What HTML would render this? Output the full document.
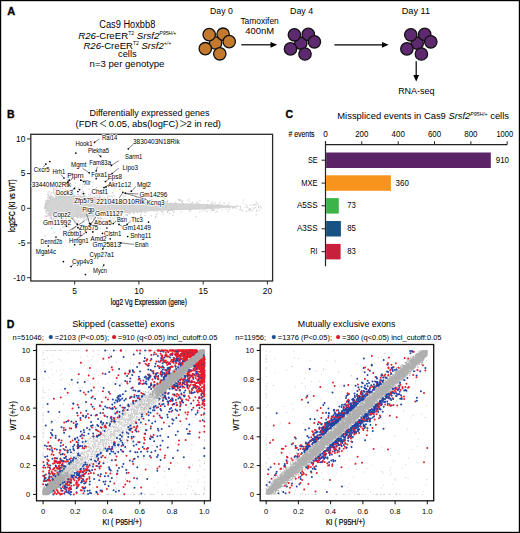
<!DOCTYPE html>
<html><head><meta charset="utf-8"><style>
html,body{margin:0;padding:0;background:#fff;overflow:hidden;width:520px;height:533px;}
svg{display:block;}
text{font-family:"Liberation Sans",sans-serif;}
</style></head><body>
<svg width="520" height="533" viewBox="0 0 520 533">
<rect width="520" height="533" fill="#fff"/>
<rect x="0.5" y="0.5" width="519" height="532" fill="none" stroke="#000" stroke-width="1.4"/>
<text x="7.3" y="14.8" font-size="11" font-weight="bold" stroke="#000" stroke-width="0.3">A</text>
<text x="7.0" y="117.6" font-size="10.5" font-weight="bold" stroke="#000" stroke-width="0.3">B</text>
<text x="285.5" y="117.8" font-size="10.5" font-weight="bold" stroke="#000" stroke-width="0.3">C</text>
<text x="6.8" y="328.0" font-size="10.5" font-weight="bold" stroke="#000" stroke-width="0.3">D</text>
<text x="127.3" y="28.1" font-size="10" text-anchor="middle" textLength="56" lengthAdjust="spacingAndGlyphs">Cas9 Hoxbb8</text>
<text x="127.3" y="38.7" font-size="9.9" text-anchor="middle" textLength="98" lengthAdjust="spacingAndGlyphs"><tspan font-style="italic">R26</tspan>-CreER<tspan font-size="5.2" dy="-3.3">T2</tspan><tspan dy="3.3"> </tspan><tspan font-style="italic">Srsf2</tspan><tspan font-size="5.2" dy="-3.3" font-style="italic">P95H/+</tspan></text>
<text x="127.3" y="48.7" font-size="9.9" text-anchor="middle" textLength="87.7" lengthAdjust="spacingAndGlyphs"><tspan font-style="italic">R26</tspan>-CreER<tspan font-size="5.2" dy="-3.3">T2</tspan><tspan dy="3.3"> </tspan><tspan font-style="italic">Srsf2</tspan><tspan font-size="5.2" dy="-3.3" font-style="italic">+/+</tspan></text>
<text x="127.3" y="57.4" font-size="9.9" text-anchor="middle" textLength="18.6" lengthAdjust="spacingAndGlyphs">cells</text>
<text x="127.0" y="67.1" font-size="9.9" text-anchor="middle" textLength="74.8" lengthAdjust="spacingAndGlyphs">n=3 per genotype</text>
<text x="221.4" y="13.9" font-size="9.9" text-anchor="middle" textLength="22.7" lengthAdjust="spacingAndGlyphs">Day 0</text>
<text x="301.6" y="13.9" font-size="9.9" text-anchor="middle" textLength="23.1" lengthAdjust="spacingAndGlyphs">Day 4</text>
<text x="415.9" y="13.9" font-size="9.9" text-anchor="middle" textLength="28.3" lengthAdjust="spacingAndGlyphs">Day 11</text>
<text x="259.6" y="24.3" font-size="9.9" text-anchor="middle" textLength="38.4" lengthAdjust="spacingAndGlyphs">Tamoxifen</text>
<text x="259.6" y="34.4" font-size="9.9" text-anchor="middle" textLength="28.8" lengthAdjust="spacingAndGlyphs">400nM</text>
<text x="416.3" y="93.9" font-size="9.9" text-anchor="middle" textLength="36.3" lengthAdjust="spacingAndGlyphs">RNA-seq</text>
<circle cx="215.6" cy="43.0" r="6.2" fill="#c47a2e" stroke="#111" stroke-width="1.3"/>
<circle cx="209.2" cy="34.6" r="6.2" fill="#c47a2e" stroke="#111" stroke-width="1.3"/>
<circle cx="223.1" cy="34.2" r="6.2" fill="#c47a2e" stroke="#111" stroke-width="1.3"/>
<circle cx="229.2" cy="41.6" r="6.2" fill="#c47a2e" stroke="#111" stroke-width="1.3"/>
<circle cx="205.3" cy="48.7" r="6.2" fill="#c47a2e" stroke="#111" stroke-width="1.3"/>
<circle cx="219.8" cy="53.8" r="6.2" fill="#c47a2e" stroke="#111" stroke-width="1.3"/>
<circle cx="300.8" cy="43.2" r="6.2" fill="#5e2a6f" stroke="#111" stroke-width="1.3"/>
<circle cx="294.4" cy="34.8" r="6.2" fill="#5e2a6f" stroke="#111" stroke-width="1.3"/>
<circle cx="308.3" cy="34.4" r="6.2" fill="#5e2a6f" stroke="#111" stroke-width="1.3"/>
<circle cx="314.4" cy="41.8" r="6.2" fill="#5e2a6f" stroke="#111" stroke-width="1.3"/>
<circle cx="290.5" cy="48.9" r="6.2" fill="#5e2a6f" stroke="#111" stroke-width="1.3"/>
<circle cx="305.0" cy="54.0" r="6.2" fill="#5e2a6f" stroke="#111" stroke-width="1.3"/>
<circle cx="417.2" cy="43.2" r="6.2" fill="#5e2a6f" stroke="#111" stroke-width="1.3"/>
<circle cx="410.8" cy="34.8" r="6.2" fill="#5e2a6f" stroke="#111" stroke-width="1.3"/>
<circle cx="424.7" cy="34.4" r="6.2" fill="#5e2a6f" stroke="#111" stroke-width="1.3"/>
<circle cx="430.8" cy="41.8" r="6.2" fill="#5e2a6f" stroke="#111" stroke-width="1.3"/>
<circle cx="406.9" cy="48.9" r="6.2" fill="#5e2a6f" stroke="#111" stroke-width="1.3"/>
<circle cx="421.4" cy="54.0" r="6.2" fill="#5e2a6f" stroke="#111" stroke-width="1.3"/>
<line x1="241.3" y1="44.8" x2="271.5" y2="44.8" stroke="#000" stroke-width="1.2"/>
<polygon points="277.2,44.8 270.5,41.9 270.5,47.7" fill="#000"/>
<line x1="334.4" y1="44.8" x2="383" y2="44.8" stroke="#000" stroke-width="1.2"/>
<polygon points="388.6,44.8 382,41.9 382,47.7" fill="#000"/>
<line x1="416.2" y1="61.2" x2="416.2" y2="76" stroke="#000" stroke-width="1.2"/>
<polygon points="416.2,81.5 413.3,75 419.1,75" fill="#000"/>
<text x="149.5" y="116.0" font-size="9.8" text-anchor="middle" textLength="120" lengthAdjust="spacingAndGlyphs">Differentially expressed genes</text>
<text x="148.3" y="126.8" font-size="9.6" text-anchor="middle" textLength="145.4" lengthAdjust="spacingAndGlyphs">(FDR <tspan fill="none">&lt;</tspan> 0.05, abs(logFC) <tspan fill="none">&gt;</tspan>2 in red)</text>
<polyline points="106.1,120.3 100.4,123.5 106.1,126.7" fill="none" stroke="#111" stroke-width="0.75"/>
<polyline points="180.3,120.5 186.4,123.6 180.3,126.7" fill="none" stroke="#111" stroke-width="0.75"/>
<polygon points="45.5,206.6 47.0,202.8 50.5,198.8 60.0,196.1 80.0,195.8 100.0,197.8 120.0,199.6 140.0,201.3 160.0,202.6 180.0,203.2 200.0,203.7 215.0,204.4 225.0,205.3 235.0,206.1 242.0,206.6 242.0,206.6 235.0,207.1 225.0,207.9 215.0,208.8 200.0,209.5 180.0,210.0 160.0,210.6 140.0,211.9 120.0,213.6 100.0,215.4 80.0,217.4 60.0,217.1 50.5,214.4 47.0,210.4 45.5,206.6" fill="#d4d4d4"/>
<path d="M66.0 215.2h0M48.6 213.7h0M98.8 217.5h0M250.2 209.8h0M55.5 195.4h0M110.5 219.9h0M59.9 195.6h0M51.4 228.5h0M46.7 203.4h0M91.3 192.6h0M94.1 219.6h0M92.2 189.4h0M101.8 222.5h0M157.3 211.3h0M49.1 198.8h0M68.9 225.8h0M53.5 192.3h0M69.8 183.4h0M109.0 198.6h0M84.4 195.5h0M47.6 201.6h0M132.4 194.1h0M69.4 220.9h0M79.0 220.7h0M45.8 205.7h0M46.0 200.3h0M54.6 215.0h0M125.8 195.1h0M58.4 217.2h0M149.8 192.7h0M58.6 192.0h0M216.9 211.1h0M77.1 235.0h0M215.1 203.1h0M57.1 192.2h0M145.4 198.4h0M80.4 196.0h0M49.4 196.7h0M103.9 218.9h0M120.8 199.9h0M66.7 222.8h0M133.2 212.7h0M53.5 219.4h0M53.2 197.9h0M140.8 214.8h0M102.2 187.0h0M61.0 220.0h0M74.4 222.0h0M68.5 223.1h0M78.2 187.2h0M74.5 195.4h0M181.9 201.6h0M45.5 205.6h0M115.5 214.1h0M89.1 216.9h0M128.9 213.2h0M89.9 195.4h0M123.0 213.0h0M83.2 191.1h0M86.4 183.4h0M159.5 210.0h0M53.7 188.7h0M233.0 207.4h0M72.4 231.5h0M81.2 226.0h0M75.6 197.2h0M76.4 215.8h0M84.0 233.4h0M129.9 213.9h0M240.6 207.7h0M182.8 200.9h0M48.6 200.7h0M197.7 202.2h0M49.3 197.6h0M151.2 215.9h0M67.3 184.5h0M56.1 195.1h0M75.6 187.0h0M83.4 195.7h0M67.6 179.7h0M73.0 192.5h0M145.7 212.1h0M62.7 195.6h0M53.9 215.9h0M242.4 211.0h0M64.9 233.0h0M68.8 216.6h0M44.8 208.5h0M61.4 215.3h0M113.7 195.4h0M166.9 201.6h0M136.5 199.6h0M52.8 196.8h0M167.3 201.4h0M46.2 204.7h0M89.5 197.3h0M107.3 198.4h0M81.5 224.9h0M83.0 192.1h0M249.0 209.3h0M82.0 198.0h0M124.6 199.3h0M48.9 200.5h0M64.5 223.4h0M63.4 192.3h0M84.5 195.7h0M167.8 210.4h0M195.9 216.5h0M45.5 203.5h0M234.0 207.4h0M204.6 209.0h0M212.4 210.6h0M83.6 220.4h0M169.9 203.6h0M145.0 215.6h0M113.2 218.6h0M71.9 216.2h0M47.2 213.7h0M63.0 218.1h0M56.1 190.5h0M163.1 214.7h0M136.4 197.6h0M199.9 200.7h0M63.0 192.0h0M250.3 209.3h0M174.5 203.6h0M90.9 218.6h0M73.8 195.4h0M73.9 196.7h0M51.9 227.7h0M83.0 192.7h0M57.9 192.7h0M77.0 217.0h0M213.8 210.3h0M45.7 203.8h0M79.8 185.2h0M93.2 215.8h0M140.5 215.9h0M60.2 185.2h0M107.5 214.7h0M124.1 196.9h0M59.1 219.1h0M110.5 217.8h0M51.0 215.4h0M45.1 208.9h0M64.2 181.7h0M162.9 203.3h0M45.7 205.2h0M60.9 197.2h0M67.2 193.0h0M57.1 195.4h0M237.1 205.4h0M58.9 223.5h0M211.4 203.9h0M47.9 197.7h0M162.8 212.6h0M117.1 223.7h0M55.8 220.5h0M46.3 204.7h0M215.7 212.2h0M57.3 223.7h0M75.7 189.3h0M47.3 202.1h0M56.3 193.7h0M46.2 210.9h0M46.8 200.3h0M46.5 213.3h0M60.8 215.3h0M218.4 205.0h0M181.0 200.1h0M45.9 203.1h0M59.2 182.0h0M81.9 217.4h0M189.3 209.5h0M118.3 218.6h0M66.3 192.8h0M65.7 195.1h0M49.0 215.1h0M48.2 202.4h0M46.4 204.0h0M260.4 206.1h0M162.7 210.1h0M50.1 194.9h0M59.2 194.6h0M120.3 212.6h0M51.6 196.8h0M70.2 219.4h0M53.7 215.0h0M66.2 197.7h0M72.2 218.8h0M135.4 196.0h0M50.4 187.0h0M179.7 199.5h0M243.1 203.2h0M70.1 194.8h0M155.1 203.0h0M204.7 210.3h0M97.7 214.0h0M60.7 194.7h0M57.0 198.6h0M45.1 205.4h0M55.8 218.7h0M88.2 223.1h0M48.1 211.0h0M212.9 209.2h0M65.1 197.8h0M154.3 211.3h0M162.4 202.4h0M202.1 210.7h0M187.8 200.1h0M97.8 219.0h0M140.2 211.9h0M58.3 221.0h0M73.0 217.6h0M55.6 192.6h0M58.0 197.2h0M169.7 213.6h0M46.8 200.4h0M46.6 204.3h0M144.7 212.0h0M88.4 215.4h0M92.6 215.7h0M76.2 197.2h0M45.8 205.0h0M55.4 196.8h0M49.8 198.6h0M100.1 218.9h0M127.2 211.9h0M83.9 217.8h0M210.2 210.8h0M116.9 217.6h0M137.3 212.4h0M81.7 233.8h0M191.2 209.9h0M53.0 187.6h0M61.3 197.7h0M55.6 217.8h0M107.1 222.8h0M168.7 210.4h0M51.2 218.8h0M158.0 203.2h0M89.1 189.2h0M50.6 198.8h0M99.2 194.3h0M61.4 217.8h0M91.9 196.4h0M76.6 220.1h0M60.6 187.9h0M93.0 186.1h0M45.7 208.2h0M93.4 218.7h0M100.4 217.0h0M72.8 193.6h0M61.4 221.2h0M196.7 203.4h0M47.0 216.1h0M127.5 214.9h0M83.4 219.7h0M64.1 227.0h0M113.6 221.3h0M58.6 195.9h0M112.9 192.6h0M61.5 196.4h0M229.1 209.5h0M119.9 189.4h0M175.5 202.2h0M104.7 197.2h0M257.0 203.4h0M151.7 199.1h0M49.0 215.2h0M110.2 196.1h0M117.9 215.5h0M138.1 211.8h0M48.3 195.8h0M155.8 216.6h0M50.7 196.9h0M136.4 199.2h0M99.4 194.4h0M45.7 208.2h0M69.7 222.5h0M65.8 218.4h0M97.5 215.6h0M126.1 200.6h0M87.0 219.1h0M254.1 208.6h0M68.0 217.5h0M62.9 230.9h0M50.9 197.8h0M100.2 219.9h0M110.2 213.4h0M171.8 209.8h0M82.8 191.3h0M59.1 220.8h0M78.5 189.6h0M146.4 202.0h0M54.7 194.2h0M51.9 196.0h0M53.7 190.7h0M85.1 215.4h0M247.7 207.6h0M116.3 221.9h0M50.4 218.4h0M71.2 224.8h0M50.7 217.2h0M99.5 197.0h0M78.7 215.5h0M73.0 217.5h0M118.8 213.0h0M149.7 198.7h0M65.1 197.9h0M98.9 214.1h0M127.3 215.4h0M71.6 178.8h0M87.6 215.6h0M199.8 212.0h0M84.8 217.1h0M114.0 195.8h0M85.1 186.1h0M57.5 219.0h0M107.9 195.9h0M51.7 215.2h0M45.2 205.0h0M199.2 204.0h0M89.9 198.6h0M58.6 215.5h0M63.7 196.1h0M88.2 219.6h0M68.6 220.3h0M60.6 216.4h0M80.4 215.4h0M75.3 196.8h0M69.3 195.2h0M53.6 198.8h0M167.9 200.2h0M162.4 201.7h0M81.9 217.3h0M81.7 193.9h0M44.9 207.6h0M90.0 197.6h0M222.4 209.8h0M46.1 203.7h0M191.9 202.9h0M66.6 218.7h0M169.8 213.4h0M74.7 188.4h0M141.2 201.1h0M83.3 221.1h0M44.8 208.0h0M96.1 225.5h0M96.5 187.5h0M97.2 197.0h0M94.4 196.5h0M78.2 221.5h0M126.4 215.0h0M60.9 193.9h0M46.7 211.7h0M91.6 218.2h0M93.8 230.5h0M80.0 195.5h0M73.7 218.5h0M57.6 214.8h0M52.1 219.6h0M113.3 214.2h0M49.3 198.0h0M192.6 202.5h0M60.6 222.3h0M45.1 206.0h0M45.3 204.8h0M49.1 197.0h0M81.1 215.8h0M69.3 197.7h0M74.3 195.1h0M128.9 191.3h0M245.1 207.2h0M253.1 207.7h0M64.8 194.6h0M95.1 219.7h0M62.8 195.4h0M93.1 216.3h0M136.3 211.8h0M62.1 196.8h0M179.3 200.8h0M67.9 217.8h0M59.2 183.6h0M57.2 197.1h0M78.4 188.3h0M59.1 190.6h0M92.2 222.1h0M85.1 194.1h0M90.2 198.0h0M70.3 218.0h0M129.6 212.2h0M45.6 211.7h0M75.0 223.2h0M157.0 195.4h0M48.1 202.0h0M100.8 217.7h0M77.2 197.5h0M54.1 232.9h0M172.7 210.6h0M112.5 193.0h0M47.7 194.9h0M106.6 187.3h0M64.0 192.2h0M50.6 199.4h0M46.5 204.4h0M155.4 217.7h0M165.3 209.7h0M50.1 212.8h0M189.8 209.6h0M77.6 194.4h0M98.9 197.6h0M88.8 218.6h0M61.5 222.8h0M65.6 216.9h0M172.9 215.5h0M47.7 216.0h0M187.0 209.3h0M256.0 205.2h0M45.4 207.1h0M52.8 199.4h0M44.6 207.6h0M55.8 196.9h0M112.9 218.5h0M56.9 195.1h0M114.8 198.9h0M146.0 202.1h0M94.2 217.7h0M84.4 218.1h0M137.8 213.0h0M70.9 221.2h0M121.0 219.9h0M213.9 209.0h0M82.1 194.1h0M45.6 207.8h0M46.2 211.5h0M45.5 205.5h0M94.8 196.8h0M50.5 215.1h0M47.0 201.4h0M51.7 197.0h0M153.1 210.5h0M120.0 214.0h0M54.4 216.1h0M71.6 185.1h0M72.2 196.0h0M59.6 197.6h0M66.9 180.1h0M134.2 213.4h0M178.7 209.8h0M47.5 197.8h0M84.6 229.1h0M48.4 200.3h0M45.7 207.4h0M52.8 220.8h0M163.3 197.9h0M62.1 184.3h0M60.4 195.9h0M51.6 217.6h0M94.1 217.2h0M63.2 216.6h0M59.8 217.4h0M96.3 194.8h0M112.7 197.2h0M84.0 196.7h0M45.2 208.1h0M63.8 236.0h0M76.4 216.1h0M106.4 194.7h0M139.2 199.1h0M122.9 195.2h0M179.9 200.3h0M93.0 182.8h0M95.9 188.7h0M70.8 195.8h0M63.6 196.6h0M82.6 187.4h0M66.0 217.4h0M219.9 202.3h0M57.1 188.1h0M45.1 208.3h0M47.2 201.6h0M126.2 183.3h0M84.6 198.0h0M68.8 197.3h0M94.2 193.4h0M106.6 222.6h0M89.8 189.0h0M228.1 204.7h0M81.2 193.2h0M255.5 207.5h0M50.9 198.2h0M165.0 198.9h0M95.3 189.1h0M100.2 228.6h0M46.9 200.4h0M64.6 216.1h0M109.0 213.4h0M86.2 220.7h0M134.9 199.1h0M48.0 215.9h0M50.3 214.9h0M92.6 216.3h0M60.3 229.1h0M65.3 221.7h0M64.4 195.5h0M95.2 216.9h0M59.8 194.2h0M58.3 216.5h0M131.1 201.4h0M55.9 214.2h0M240.3 206.0h0M51.2 216.5h0M46.5 208.9h0M52.0 222.0h0M76.7 216.2h0M54.0 193.2h0M219.4 204.0h0M57.3 217.3h0M77.7 217.6h0M61.1 218.2h0M170.9 203.1h0M51.7 222.6h0M65.0 195.6h0M69.2 198.0h0M62.7 188.3h0M126.5 214.9h0M46.2 205.0h0M68.3 193.0h0M73.8 198.0h0M60.2 193.4h0M147.6 202.1h0M55.5 216.8h0M51.2 217.7h0M113.1 200.1h0M100.4 213.7h0M90.9 222.9h0M107.9 215.2h0M68.1 226.0h0M63.1 225.8h0M57.5 220.2h0M49.5 200.8h0M109.8 196.3h0M141.6 212.4h0M62.7 227.4h0M74.8 220.0h0M142.0 198.0h0M75.3 183.0h0M123.4 216.9h0M61.1 181.0h0M52.6 213.5h0M84.3 184.5h0M123.1 198.6h0M78.5 194.5h0M51.1 198.3h0M66.1 197.1h0M48.6 225.2h0M90.1 180.5h0M50.8 198.2h0M87.6 228.4h0M98.8 218.3h0M55.7 198.5h0M88.6 215.0h0M90.5 194.4h0M111.8 196.2h0M174.1 211.3h0M49.1 214.7h0M237.0 208.2h0M49.7 213.9h0M115.1 221.0h0M104.8 214.9h0M54.4 189.7h0M63.8 194.3h0M239.8 209.5h0M246.0 204.7h0M224.1 203.4h0M47.9 200.0h0M212.4 202.1h0M70.1 197.3h0M60.6 216.9h0M51.1 196.0h0M73.3 216.5h0M51.2 193.5h0M114.8 218.0h0M71.9 218.2h0M54.8 217.7h0M70.1 220.3h0M165.2 202.1h0M97.9 214.5h0M181.7 202.8h0M157.0 210.5h0M67.5 221.3h0M123.8 201.2h0M51.7 192.8h0M114.9 188.3h0M133.9 217.2h0M106.4 218.8h0M144.7 212.2h0M63.3 218.5h0M207.9 200.9h0M45.3 206.1h0M80.0 197.2h0M158.0 202.7h0M69.1 193.4h0M68.5 220.1h0M45.6 201.7h0M47.1 209.9h0M85.8 219.4h0M125.6 214.7h0M99.6 195.8h0M157.9 213.2h0M100.0 196.3h0M68.2 196.7h0M67.1 193.1h0M80.6 234.2h0M52.5 223.4h0M115.8 212.7h0M88.6 214.7h0M156.0 201.6h0M48.4 194.3h0M56.8 215.9h0M95.3 215.2h0M56.5 196.5h0M117.3 216.3h0M56.0 188.4h0M120.6 212.7h0M102.1 196.0h0M67.2 215.2h0M66.9 192.8h0M78.7 230.1h0M47.7 200.4h0M66.5 195.8h0M87.0 197.2h0M93.3 193.9h0M126.0 200.9h0M252.9 205.3h0M58.7 197.4h0M47.9 199.8h0M82.5 235.5h0M100.1 197.9h0M78.4 222.0h0M154.3 202.7h0M47.9 201.6h0M90.9 217.0h0M156.4 214.6h0M62.8 187.7h0M66.7 185.2h0M107.6 199.3h0M69.1 227.2h0M45.0 207.4h0M49.7 215.9h0M67.3 220.7h0M162.0 203.1h0M258.7 207.8h0M108.8 215.8h0M160.5 210.5h0M53.3 218.3h0M233.0 208.7h0M62.0 195.6h0M83.6 195.8h0M45.1 205.7h0M100.0 198.5h0M100.7 200.4h0M190.0 199.0h0M133.5 203.6h0M83.0 210.4h0M79.3 200.7h0M55.8 213.6h0M45.4 185.4h0M65.6 193.6h0M111.1 203.8h0M60.5 211.6h0M53.6 216.9h0M212.4 202.8h0M48.6 203.1h0M117.7 202.5h0M100.7 200.2h0M45.1 235.9h0M141.0 209.5h0M107.8 201.4h0M63.7 196.0h0M78.3 197.3h0M132.2 202.4h0M111.4 210.6h0M124.2 203.7h0M99.8 214.2h0M62.7 201.0h0M212.6 205.3h0M89.9 205.1h0M90.3 198.6h0M62.5 220.2h0M97.7 217.6h0M97.0 195.4h0M64.1 203.7h0M58.2 211.5h0M116.6 201.6h0M168.0 211.8h0M48.1 192.3h0M78.6 213.6h0M54.2 189.6h0M56.7 206.6h0M75.9 210.3h0M158.8 202.8h0M51.4 205.0h0M80.2 218.2h0M86.8 206.4h0M90.6 210.0h0M56.4 190.1h0M124.8 202.8h0M64.0 215.0h0M77.4 202.5h0M46.3 216.4h0M60.7 203.6h0M58.8 205.1h0M133.7 206.0h0M64.4 214.7h0M170.8 210.5h0M182.1 208.9h0M60.8 191.4h0M112.3 210.9h0M77.5 214.7h0M77.0 208.9h0M132.3 205.4h0M118.1 211.5h0M161.6 204.6h0M105.5 211.1h0M226.1 209.0h0M132.1 217.4h0M77.6 203.1h0M50.1 198.0h0M143.8 203.1h0M93.0 212.0h0M207.1 206.6h0M107.9 205.3h0M88.5 193.9h0M82.5 209.9h0M89.9 212.2h0M92.3 202.1h0M95.2 210.9h0M139.4 201.2h0M81.0 217.5h0M101.5 208.8h0M147.6 206.8h0M62.5 201.9h0M50.6 208.7h0M51.5 202.0h0M143.0 205.4h0M125.0 206.0h0M131.9 205.1h0M127.2 206.8h0M82.9 184.2h0M163.8 200.6h0M188.9 208.2h0M96.1 211.1h0M45.4 216.1h0M66.3 206.1h0M71.3 206.1h0M101.8 218.2h0M95.1 204.8h0M70.4 207.9h0M186.1 208.5h0M65.8 189.7h0M60.8 218.0h0M77.8 209.7h0M88.7 197.6h0M76.9 207.3h0M158.2 209.0h0M101.9 219.1h0M48.7 201.1h0M81.8 215.0h0M103.3 204.5h0M156.3 209.2h0M69.1 202.8h0M107.8 197.0h0M87.4 213.5h0M192.3 205.4h0M49.2 191.8h0M48.5 213.2h0M249.2 210.9h0M170.7 208.9h0M256.1 201.7h0M207.3 204.8h0M227.5 205.8h0M174.3 204.6h0M246.4 211.4h0M173.8 212.7h0M161.6 211.6h0M259.4 210.2h0M197.7 205.7h0M254.2 204.9h0M228.9 207.6h0M230.0 207.9h0M154.8 208.4h0M176.8 204.7h0M216.9 205.3h0M167.7 210.7h0M254.9 204.2h0M167.5 212.5h0M241.9 210.2h0M153.8 206.6h0M193.7 205.6h0M212.8 205.2h0M160.8 202.0h0M199.4 208.1h0M228.1 211.5h0M164.0 211.0h0M256.2 214.6h0M210.5 206.8h0M183.4 203.9h0M207.1 211.4h0M256.9 210.1h0M249.4 209.0h0M218.7 205.7h0M166.1 206.7h0M181.2 211.8h0M176.1 203.2h0M256.3 211.2h0M261.2 207.9h0M189.6 211.4h0M155.8 205.4h0M188.3 204.7h0M235.4 207.8h0M170.6 207.6h0M158.0 204.4h0M214.3 210.3h0M240.6 209.3h0M218.5 206.2h0M209.0 207.2h0M161.2 206.0h0M216.5 205.6h0M190.6 203.7h0M168.8 210.3h0M169.5 209.7h0M246.9 206.0h0M250.4 205.2h0M160.8 207.2h0M251.1 209.8h0M211.6 209.5h0M163.5 205.1h0M211.6 207.4h0M208.3 205.6h0M196.4 208.6h0M173.4 208.7h0M250.2 208.7h0M207.7 207.4h0M258.5 206.6h0M206.2 208.1h0M229.2 203.0h0M176.4 207.0h0M180.4 205.2h0M153.6 204.0h0M183.6 209.4h0M252.4 210.6h0M176.9 209.1h0M218.5 208.1h0M157.1 202.1h0M178.3 199.6h0M154.7 201.7h0M221.1 204.9h0M189.3 201.5h0M243.2 200.0h0M151.2 208.7h0M258.1 204.2h0M160.1 208.7h0M178.2 206.5h0M167.4 202.2h0M189.6 208.4h0M175.3 208.6h0" stroke="#cbcbcb" stroke-width="1.1" stroke-linecap="square"/>
<rect x="30.8" y="134.3" width="241.8" height="146.7" fill="none" stroke="#2a2a2a" stroke-width="1.3"/>
<line x1="27" y1="138.9" x2="30.8" y2="138.9" stroke="#2a2a2a" stroke-width="1"/>
<text x="25.4" y="141.7" font-size="8.4" text-anchor="end">10</text>
<line x1="27" y1="173.6" x2="30.8" y2="173.6" stroke="#2a2a2a" stroke-width="1"/>
<text x="25.4" y="176.4" font-size="8.4" text-anchor="end">5</text>
<line x1="27" y1="208.3" x2="30.8" y2="208.3" stroke="#2a2a2a" stroke-width="1"/>
<text x="25.4" y="211.1" font-size="8.4" text-anchor="end">0</text>
<line x1="27" y1="243.0" x2="30.8" y2="243.0" stroke="#2a2a2a" stroke-width="1"/>
<text x="25.4" y="245.8" font-size="8.4" text-anchor="end">-5</text>
<line x1="27" y1="277.7" x2="30.8" y2="277.7" stroke="#2a2a2a" stroke-width="1"/>
<text x="25.4" y="280.5" font-size="8.4" text-anchor="end">-10</text>
<line x1="74.7" y1="281.0" x2="74.7" y2="284.5" stroke="#2a2a2a" stroke-width="1"/>
<text x="74.7" y="293.9" font-size="8.4" text-anchor="middle">5</text>
<line x1="138.9" y1="281.0" x2="138.9" y2="284.5" stroke="#2a2a2a" stroke-width="1"/>
<text x="138.9" y="293.9" font-size="8.4" text-anchor="middle">10</text>
<line x1="203.2" y1="281.0" x2="203.2" y2="284.5" stroke="#2a2a2a" stroke-width="1"/>
<text x="203.2" y="293.9" font-size="8.4" text-anchor="middle">15</text>
<line x1="267.4" y1="281.0" x2="267.4" y2="284.5" stroke="#2a2a2a" stroke-width="1"/>
<text x="267.4" y="293.9" font-size="8.4" text-anchor="middle">20</text>
<text x="148.8" y="305.0" font-size="8.8" text-anchor="middle" textLength="76" lengthAdjust="spacingAndGlyphs" stroke="#000" stroke-width="0.2">log2 Vg Expression (gene)</text>
<text x="0" y="0" font-size="9.2" text-anchor="middle" textLength="52.8" lengthAdjust="spacingAndGlyphs" stroke="#000" stroke-width="0.2" transform="translate(15.4,205.7) rotate(-90)">log2FC (KI vs WT)</text>
<text x="101.9" y="140.1" font-size="6.6" textLength="15.4" lengthAdjust="spacingAndGlyphs" stroke="#fff" stroke-width="1.6" paint-order="stroke" stroke-linejoin="round">Rai14</text>
<text x="75.4" y="146.2" font-size="6.6" textLength="17.3" lengthAdjust="spacingAndGlyphs" stroke="#fff" stroke-width="1.6" paint-order="stroke" stroke-linejoin="round">Hook1</text>
<text x="87.9" y="152.6" font-size="6.6" textLength="21.1" lengthAdjust="spacingAndGlyphs" stroke="#fff" stroke-width="1.6" paint-order="stroke" stroke-linejoin="round">Plekha5</text>
<text x="133.0" y="144.3" font-size="6.6" textLength="46.7" lengthAdjust="spacingAndGlyphs" stroke="#fff" stroke-width="1.6" paint-order="stroke" stroke-linejoin="round">3830403N18Rik</text>
<text x="125.0" y="158.7" font-size="6.6" textLength="17.3" lengthAdjust="spacingAndGlyphs" stroke="#fff" stroke-width="1.6" paint-order="stroke" stroke-linejoin="round">Sarm1</text>
<text x="89.2" y="165.1" font-size="6.6" textLength="21.8" lengthAdjust="spacingAndGlyphs" stroke="#fff" stroke-width="1.6" paint-order="stroke" stroke-linejoin="round">Fam83a</text>
<text x="71.0" y="167.2" font-size="6.6" textLength="15.5" lengthAdjust="spacingAndGlyphs" stroke="#fff" stroke-width="1.6" paint-order="stroke" stroke-linejoin="round">Mgmt</text>
<text x="122.5" y="170.4" font-size="6.6" textLength="15.4" lengthAdjust="spacingAndGlyphs" stroke="#fff" stroke-width="1.6" paint-order="stroke" stroke-linejoin="round">Lipo3</text>
<text x="91.2" y="177.0" font-size="6.6" textLength="15.9" lengthAdjust="spacingAndGlyphs" stroke="#fff" stroke-width="1.6" paint-order="stroke" stroke-linejoin="round">Foxa1</text>
<text x="107.7" y="178.6" font-size="6.6" textLength="14.2" lengthAdjust="spacingAndGlyphs" stroke="#fff" stroke-width="1.6" paint-order="stroke" stroke-linejoin="round">Eps8</text>
<text x="67.2" y="177.8" font-size="6.6" textLength="16.5" lengthAdjust="spacingAndGlyphs" stroke="#fff" stroke-width="1.6" paint-order="stroke" stroke-linejoin="round">Ptprn</text>
<text x="84.0" y="185.3" font-size="6.6" textLength="6.4" lengthAdjust="spacingAndGlyphs" stroke="#fff" stroke-width="1.6" paint-order="stroke" stroke-linejoin="round">Xlr</text>
<text x="108.0" y="187.0" font-size="6.6" textLength="23.2" lengthAdjust="spacingAndGlyphs" stroke="#fff" stroke-width="1.6" paint-order="stroke" stroke-linejoin="round">Akr1c12</text>
<text x="136.9" y="186.5" font-size="6.6" textLength="14.1" lengthAdjust="spacingAndGlyphs" stroke="#fff" stroke-width="1.6" paint-order="stroke" stroke-linejoin="round">Mgl2</text>
<text x="33.7" y="171.8" font-size="6.6" textLength="15.9" lengthAdjust="spacingAndGlyphs" stroke="#fff" stroke-width="1.6" paint-order="stroke" stroke-linejoin="round">Cxcr5</text>
<text x="52.5" y="174.1" font-size="6.6" textLength="12.7" lengthAdjust="spacingAndGlyphs" stroke="#fff" stroke-width="1.6" paint-order="stroke" stroke-linejoin="round">Hrh1</text>
<text x="31.7" y="186.8" font-size="6.6" textLength="39.3" lengthAdjust="spacingAndGlyphs" stroke="#fff" stroke-width="1.6" paint-order="stroke" stroke-linejoin="round">33440M02Rik</text>
<text x="56.0" y="195.0" font-size="6.6" textLength="16.7" lengthAdjust="spacingAndGlyphs" stroke="#fff" stroke-width="1.6" paint-order="stroke" stroke-linejoin="round">Dock3</text>
<text x="91.5" y="193.9" font-size="6.6" textLength="16.4" lengthAdjust="spacingAndGlyphs" stroke="#fff" stroke-width="1.6" paint-order="stroke" stroke-linejoin="round">Chst1</text>
<text x="139.4" y="196.8" font-size="6.6" textLength="27.9" lengthAdjust="spacingAndGlyphs" stroke="#fff" stroke-width="1.6" paint-order="stroke" stroke-linejoin="round">Gm14296</text>
<text x="74.2" y="202.8" font-size="6.6" textLength="19.3" lengthAdjust="spacingAndGlyphs" stroke="#fff" stroke-width="1.6" paint-order="stroke" stroke-linejoin="round">Zfp579</text>
<text x="96.3" y="203.6" font-size="6.6" textLength="48.3" lengthAdjust="spacingAndGlyphs" stroke="#fff" stroke-width="1.6" paint-order="stroke" stroke-linejoin="round">2210418O10Rik</text>
<text x="146.7" y="204.7" font-size="6.6" textLength="17.7" lengthAdjust="spacingAndGlyphs" stroke="#fff" stroke-width="1.6" paint-order="stroke" stroke-linejoin="round">Kcnq3</text>
<text x="82.3" y="212.4" font-size="6.6" textLength="12.1" lengthAdjust="spacingAndGlyphs" stroke="#fff" stroke-width="1.6" paint-order="stroke" stroke-linejoin="round">Pigp</text>
<text x="95.0" y="215.9" font-size="6.6" textLength="28.3" lengthAdjust="spacingAndGlyphs" stroke="#fff" stroke-width="1.6" paint-order="stroke" stroke-linejoin="round">Gm11127</text>
<text x="53.0" y="216.6" font-size="6.6" textLength="17.8" lengthAdjust="spacingAndGlyphs" stroke="#fff" stroke-width="1.6" paint-order="stroke" stroke-linejoin="round">Copz2</text>
<text x="117.0" y="221.5" font-size="6.6" textLength="10" lengthAdjust="spacingAndGlyphs" stroke="#fff" stroke-width="1.6" paint-order="stroke" stroke-linejoin="round">Bsn</text>
<text x="131.2" y="221.5" font-size="6.6" textLength="11.5" lengthAdjust="spacingAndGlyphs" stroke="#fff" stroke-width="1.6" paint-order="stroke" stroke-linejoin="round">Ttc3</text>
<text x="43.0" y="224.7" font-size="6.6" textLength="28" lengthAdjust="spacingAndGlyphs" stroke="#fff" stroke-width="1.6" paint-order="stroke" stroke-linejoin="round">Gm11992</text>
<text x="94.0" y="225.0" font-size="6.6" textLength="17.7" lengthAdjust="spacingAndGlyphs" stroke="#fff" stroke-width="1.6" paint-order="stroke" stroke-linejoin="round">Abca5</text>
<text x="79.0" y="230.3" font-size="6.6" textLength="19.3" lengthAdjust="spacingAndGlyphs" stroke="#fff" stroke-width="1.6" paint-order="stroke" stroke-linejoin="round">Zfp575</text>
<text x="122.3" y="230.0" font-size="6.6" textLength="28.7" lengthAdjust="spacingAndGlyphs" stroke="#fff" stroke-width="1.6" paint-order="stroke" stroke-linejoin="round">Gm14149</text>
<text x="62.7" y="236.2" font-size="6.6" textLength="19.6" lengthAdjust="spacingAndGlyphs" stroke="#fff" stroke-width="1.6" paint-order="stroke" stroke-linejoin="round">Rcbtb1</text>
<text x="104.0" y="235.5" font-size="6.6" textLength="17.3" lengthAdjust="spacingAndGlyphs" stroke="#fff" stroke-width="1.6" paint-order="stroke" stroke-linejoin="round">Clstn1</text>
<text x="130.2" y="238.4" font-size="6.6" textLength="21.1" lengthAdjust="spacingAndGlyphs" stroke="#fff" stroke-width="1.6" paint-order="stroke" stroke-linejoin="round">Snhg11</text>
<text x="90.6" y="240.7" font-size="6.6" textLength="15.9" lengthAdjust="spacingAndGlyphs" stroke="#fff" stroke-width="1.6" paint-order="stroke" stroke-linejoin="round">Amd2</text>
<text x="69.0" y="243.0" font-size="6.6" textLength="19.7" lengthAdjust="spacingAndGlyphs" stroke="#fff" stroke-width="1.6" paint-order="stroke" stroke-linejoin="round">Hmgn1</text>
<text x="40.6" y="243.9" font-size="6.6" textLength="21.7" lengthAdjust="spacingAndGlyphs" stroke="#fff" stroke-width="1.6" paint-order="stroke" stroke-linejoin="round">Dennd2b</text>
<text x="92.5" y="247.4" font-size="6.6" textLength="28.3" lengthAdjust="spacingAndGlyphs" stroke="#fff" stroke-width="1.6" paint-order="stroke" stroke-linejoin="round">Gm25813</text>
<text x="135.0" y="247.0" font-size="6.6" textLength="13.5" lengthAdjust="spacingAndGlyphs" stroke="#fff" stroke-width="1.6" paint-order="stroke" stroke-linejoin="round">Enah</text>
<text x="35.8" y="254.1" font-size="6.6" textLength="20.2" lengthAdjust="spacingAndGlyphs" stroke="#fff" stroke-width="1.6" paint-order="stroke" stroke-linejoin="round">Mgat4c</text>
<text x="89.6" y="256.6" font-size="6.6" textLength="24.6" lengthAdjust="spacingAndGlyphs" stroke="#fff" stroke-width="1.6" paint-order="stroke" stroke-linejoin="round">Cyp27a1</text>
<text x="71.9" y="263.7" font-size="6.6" textLength="21.1" lengthAdjust="spacingAndGlyphs" stroke="#fff" stroke-width="1.6" paint-order="stroke" stroke-linejoin="round">Cyp4v3</text>
<text x="93.0" y="272.8" font-size="6.6" textLength="14" lengthAdjust="spacingAndGlyphs" stroke="#fff" stroke-width="1.6" paint-order="stroke" stroke-linejoin="round">Mycn</text>
<line x1="94" y1="142.5" x2="99.5" y2="139" stroke="#333" stroke-width="0.6"/>
<line x1="98.2" y1="154.6" x2="100.6" y2="156.4" stroke="#333" stroke-width="0.6"/>
<line x1="128.3" y1="148.8" x2="133.5" y2="144" stroke="#333" stroke-width="0.6"/>
<line x1="111.4" y1="165.4" x2="118.8" y2="160.7" stroke="#333" stroke-width="0.6"/>
<line x1="82.5" y1="168.3" x2="89.2" y2="172.8" stroke="#333" stroke-width="0.6"/>
<line x1="97.3" y1="166.7" x2="96.2" y2="170.8" stroke="#333" stroke-width="0.6"/>
<line x1="118.8" y1="168.3" x2="112.1" y2="173.5" stroke="#333" stroke-width="0.6"/>
<line x1="109.4" y1="178.8" x2="105.4" y2="181.5" stroke="#333" stroke-width="0.6"/>
<line x1="73.1" y1="178.2" x2="67.7" y2="182.2" stroke="#333" stroke-width="0.6"/>
<line x1="80.1" y1="179.9" x2="83.8" y2="181.5" stroke="#333" stroke-width="0.6"/>
<line x1="108.7" y1="184.9" x2="104" y2="187.6" stroke="#333" stroke-width="0.6"/>
<line x1="136" y1="186.5" x2="131.3" y2="191.2" stroke="#333" stroke-width="0.6"/>
<line x1="125.2" y1="193.2" x2="138.3" y2="194" stroke="#333" stroke-width="0.6"/>
<line x1="125.2" y1="193.2" x2="146.9" y2="199.8" stroke="#333" stroke-width="0.6"/>
<line x1="122.9" y1="192.3" x2="119.2" y2="198" stroke="#333" stroke-width="0.6"/>
<line x1="71.2" y1="217.5" x2="77.2" y2="224.2" stroke="#333" stroke-width="0.6"/>
<line x1="86.6" y1="214.1" x2="89.7" y2="223.6" stroke="#333" stroke-width="0.6"/>
<line x1="96" y1="216.8" x2="90.7" y2="224.2" stroke="#333" stroke-width="0.6"/>
<line x1="68.5" y1="231" x2="84.6" y2="220.9" stroke="#333" stroke-width="0.6"/>
<line x1="76.2" y1="239.6" x2="85.4" y2="232.7" stroke="#333" stroke-width="0.6"/>
<line x1="72.3" y1="229.6" x2="76.2" y2="226.5" stroke="#333" stroke-width="0.6"/>
<line x1="120.8" y1="242.9" x2="134" y2="244.4" stroke="#333" stroke-width="0.6"/>
<line x1="71.1" y1="266.5" x2="73.5" y2="264.2" stroke="#333" stroke-width="0.6"/>
<line x1="61" y1="174.6" x2="64" y2="178" stroke="#333" stroke-width="0.6"/>
<line x1="45.9" y1="164.1" x2="43" y2="167.2" stroke="#333" stroke-width="0.6"/>
<line x1="116.2" y1="221" x2="113.3" y2="223.6" stroke="#333" stroke-width="0.6"/>
<line x1="130.6" y1="221" x2="127.1" y2="224.4" stroke="#333" stroke-width="0.6"/>
<line x1="121.9" y1="226.2" x2="119" y2="224.4" stroke="#333" stroke-width="0.6"/>
<line x1="102.8" y1="248.8" x2="103.8" y2="246.5" stroke="#333" stroke-width="0.6"/>
<line x1="103.8" y1="265" x2="102.5" y2="267.5" stroke="#333" stroke-width="0.6"/>
<line x1="77.9" y1="227.6" x2="81.5" y2="229.5" stroke="#333" stroke-width="0.6"/>
<line x1="66" y1="184" x2="69.2" y2="180.2" stroke="#333" stroke-width="0.6"/>
<line x1="74.4" y1="188.4" x2="72" y2="190.5" stroke="#333" stroke-width="0.6"/>
<circle cx="75.8" cy="153.1" r="0.85" fill="#000"/>
<circle cx="49.8" cy="161.5" r="0.85" fill="#000"/>
<circle cx="45.9" cy="164.1" r="0.85" fill="#000"/>
<circle cx="64" cy="178" r="0.85" fill="#000"/>
<circle cx="69.2" cy="180.2" r="0.85" fill="#000"/>
<circle cx="74.4" cy="188.4" r="0.85" fill="#000"/>
<circle cx="79.6" cy="189.6" r="0.85" fill="#000"/>
<circle cx="77.9" cy="191.5" r="0.85" fill="#000"/>
<circle cx="80.8" cy="180.2" r="0.85" fill="#000"/>
<circle cx="83.6" cy="193.6" r="0.85" fill="#000"/>
<circle cx="128.3" cy="148.8" r="0.85" fill="#000"/>
<circle cx="100.6" cy="156.4" r="0.85" fill="#000"/>
<circle cx="111.4" cy="165.4" r="0.85" fill="#000"/>
<circle cx="94.5" cy="142.3" r="0.85" fill="#000"/>
<circle cx="89.2" cy="172.8" r="0.85" fill="#000"/>
<circle cx="96.2" cy="170.8" r="0.85" fill="#000"/>
<circle cx="112.1" cy="173.5" r="0.85" fill="#000"/>
<circle cx="96.2" cy="178.6" r="0.85" fill="#000"/>
<circle cx="105.4" cy="181.5" r="0.85" fill="#000"/>
<circle cx="104" cy="187.6" r="0.85" fill="#000"/>
<circle cx="106" cy="186.9" r="0.85" fill="#000"/>
<circle cx="131.3" cy="191.2" r="0.85" fill="#000"/>
<circle cx="122.9" cy="192.3" r="0.85" fill="#000"/>
<circle cx="125.2" cy="193.2" r="0.85" fill="#000"/>
<circle cx="77.2" cy="224.2" r="0.85" fill="#000"/>
<circle cx="89.7" cy="223.6" r="0.85" fill="#000"/>
<circle cx="90.7" cy="224.2" r="0.85" fill="#000"/>
<circle cx="66.4" cy="226.2" r="0.85" fill="#000"/>
<circle cx="113.3" cy="223.6" r="0.85" fill="#000"/>
<circle cx="127.1" cy="224.4" r="0.85" fill="#000"/>
<circle cx="119" cy="224.4" r="0.85" fill="#000"/>
<circle cx="148.5" cy="222.1" r="0.85" fill="#000"/>
<circle cx="127.7" cy="236.5" r="0.85" fill="#000"/>
<circle cx="120.8" cy="242.9" r="0.85" fill="#000"/>
<circle cx="102.5" cy="233.3" r="0.85" fill="#000"/>
<circle cx="106.9" cy="228" r="0.85" fill="#000"/>
<circle cx="110.2" cy="238.8" r="0.85" fill="#000"/>
<circle cx="92.8" cy="231.9" r="0.85" fill="#000"/>
<circle cx="86.2" cy="232.3" r="0.85" fill="#000"/>
<circle cx="77.9" cy="227.6" r="0.85" fill="#000"/>
<circle cx="74.6" cy="244.7" r="0.85" fill="#000"/>
<circle cx="63.4" cy="261.6" r="0.85" fill="#000"/>
<circle cx="85.4" cy="274.5" r="0.85" fill="#000"/>
<circle cx="103.8" cy="265" r="0.85" fill="#000"/>
<circle cx="71.1" cy="266.5" r="0.85" fill="#000"/>
<circle cx="48.3" cy="246" r="0.85" fill="#000"/>
<circle cx="56" cy="237" r="0.85" fill="#000"/>
<circle cx="102.8" cy="248.8" r="0.85" fill="#000"/>
<circle cx="83.8" cy="181.5" r="0.85" fill="#000"/>
<circle cx="67.7" cy="182.2" r="0.85" fill="#000"/>
<text x="301.5" y="137.2" font-size="9.6" text-anchor="middle" textLength="26.1" lengthAdjust="spacingAndGlyphs" stroke="#000" stroke-width="0.12"># events</text>
<text x="337.3" y="118.8" font-size="9.5" textLength="171.7" lengthAdjust="spacingAndGlyphs">Misspliced events in Cas9 <tspan font-style="italic">Srsf2</tspan><tspan font-size="5.2" dy="-3.3" font-style="italic">P95H/+</tspan><tspan dy="3.3"> cells</tspan></text>
<line x1="325.5" y1="141.3" x2="325.5" y2="144.6" stroke="#222" stroke-width="1"/>
<text x="325.5" y="137.2" font-size="8.4" text-anchor="middle" textLength="4.6" lengthAdjust="spacingAndGlyphs">0</text>
<line x1="361.8" y1="141.3" x2="361.8" y2="144.6" stroke="#222" stroke-width="1"/>
<text x="361.8" y="137.2" font-size="8.4" text-anchor="middle" textLength="13.2" lengthAdjust="spacingAndGlyphs">200</text>
<line x1="398.2" y1="141.3" x2="398.2" y2="144.6" stroke="#222" stroke-width="1"/>
<text x="398.2" y="137.2" font-size="8.4" text-anchor="middle" textLength="13.2" lengthAdjust="spacingAndGlyphs">400</text>
<line x1="434.5" y1="141.3" x2="434.5" y2="144.6" stroke="#222" stroke-width="1"/>
<text x="434.5" y="137.2" font-size="8.4" text-anchor="middle" textLength="13.2" lengthAdjust="spacingAndGlyphs">600</text>
<line x1="470.9" y1="141.3" x2="470.9" y2="144.6" stroke="#222" stroke-width="1"/>
<text x="470.9" y="137.2" font-size="8.4" text-anchor="middle" textLength="13.2" lengthAdjust="spacingAndGlyphs">800</text>
<line x1="507.2" y1="141.3" x2="507.2" y2="144.6" stroke="#222" stroke-width="1"/>
<text x="504.8" y="137.2" font-size="8.4" text-anchor="middle" textLength="16.7" lengthAdjust="spacingAndGlyphs">1000</text>
<line x1="325.5" y1="144.6" x2="507.2" y2="144.6" stroke="#222" stroke-width="1.2"/>
<line x1="325.5" y1="141.3" x2="325.5" y2="266.3" stroke="#222" stroke-width="1.2"/>
<rect x="326.1" y="152.5" width="164.7" height="15.5" fill="#5b2466"/>
<line x1="321.5" y1="160.2" x2="325.5" y2="160.2" stroke="#222" stroke-width="1"/>
<text x="317.6" y="162.8" font-size="8.9" text-anchor="end" textLength="9.7" lengthAdjust="spacingAndGlyphs">SE</text>
<text x="495.8" y="162.8" font-size="8.9" textLength="13.2" lengthAdjust="spacingAndGlyphs">910</text>
<rect x="326.1" y="175.3" width="64.8" height="15.5" fill="#f7941d"/>
<line x1="321.5" y1="183.1" x2="325.5" y2="183.1" stroke="#222" stroke-width="1"/>
<text x="317.6" y="185.6" font-size="8.9" text-anchor="end" textLength="16.3" lengthAdjust="spacingAndGlyphs">MXE</text>
<text x="395.6" y="185.6" font-size="8.9" textLength="13.2" lengthAdjust="spacingAndGlyphs">360</text>
<rect x="326.1" y="198.1" width="12.7" height="15.5" fill="#3bb44a"/>
<line x1="321.5" y1="205.8" x2="325.5" y2="205.8" stroke="#222" stroke-width="1"/>
<text x="317.6" y="208.3" font-size="8.9" text-anchor="end" textLength="20.7" lengthAdjust="spacingAndGlyphs">A5SS</text>
<text x="347.3" y="208.3" font-size="8.9" textLength="8.6" lengthAdjust="spacingAndGlyphs">73</text>
<rect x="326.1" y="221.0" width="14.8" height="15.5" fill="#175283"/>
<line x1="321.5" y1="228.8" x2="325.5" y2="228.8" stroke="#222" stroke-width="1"/>
<text x="317.6" y="231.2" font-size="8.9" text-anchor="end" textLength="20.7" lengthAdjust="spacingAndGlyphs">A3SS</text>
<text x="347.3" y="231.2" font-size="8.9" textLength="8.6" lengthAdjust="spacingAndGlyphs">85</text>
<rect x="326.1" y="243.9" width="14.5" height="15.5" fill="#c8203a"/>
<line x1="321.5" y1="251.7" x2="325.5" y2="251.7" stroke="#222" stroke-width="1"/>
<text x="317.6" y="254.2" font-size="8.9" text-anchor="end" textLength="7.3" lengthAdjust="spacingAndGlyphs">RI</text>
<text x="347.3" y="254.2" font-size="8.9" textLength="8.6" lengthAdjust="spacingAndGlyphs">83</text>
<path d="M100.8 386.6h0M135.8 381.1h0M94.3 374.7h0M182.8 373.6h0M45.3 392.6h0M134.0 354.6h0M90.9 451.7h0M174.9 456.1h0M96.8 466.8h0M161.5 392.8h0M87.5 447.0h0M86.7 426.8h0M107.4 462.4h0M97.7 430.4h0M76.9 456.2h0M197.0 353.7h0M47.2 357.8h0M191.7 494.1h0M108.2 397.5h0M140.5 441.7h0M67.4 395.5h0M69.5 384.6h0M174.4 465.8h0M78.4 406.1h0M59.3 359.4h0M154.0 487.8h0M110.7 416.1h0M49.8 449.5h0M53.0 383.3h0M121.4 383.4h0M92.0 487.5h0M139.3 371.0h0M159.7 431.1h0M60.2 480.4h0M141.7 381.5h0M104.4 450.5h0M93.1 356.4h0M59.9 369.8h0M84.0 489.4h0M160.0 364.4h0M109.5 354.6h0M62.9 370.0h0M68.2 430.5h0M172.5 405.6h0M154.1 378.2h0M63.3 404.6h0M154.2 412.4h0M128.9 424.1h0M125.7 371.1h0M113.0 382.3h0M152.0 473.5h0M58.7 473.6h0M150.5 434.1h0M185.5 475.3h0M94.5 407.2h0M200.1 465.9h0M49.1 363.1h0M88.7 374.6h0M180.0 404.5h0M82.3 403.8h0M116.4 361.9h0M177.8 396.9h0M125.9 478.2h0M43.8 428.3h0M78.8 378.1h0M102.4 439.4h0M194.4 417.5h0M102.8 359.6h0M161.7 438.3h0M197.4 471.2h0M61.0 360.8h0M178.2 482.6h0M72.2 438.6h0M102.3 357.3h0M87.4 380.5h0M88.2 446.7h0M121.8 384.2h0M80.3 459.7h0M129.5 432.9h0M72.8 385.0h0M97.6 361.2h0M87.7 402.3h0M186.4 385.8h0M151.6 388.7h0M77.6 460.5h0M197.4 482.1h0M63.7 403.6h0M188.8 406.9h0M84.8 365.2h0M108.1 358.8h0M90.8 426.2h0M193.3 444.7h0M64.8 430.4h0M176.4 360.6h0M51.1 369.2h0M116.7 480.3h0M78.9 425.7h0M98.4 354.6h0M170.8 379.9h0M178.9 383.9h0M131.4 404.5h0M69.0 479.9h0M44.5 359.3h0M62.1 373.9h0M90.2 444.0h0M173.3 388.4h0M118.7 492.8h0M201.5 360.7h0M80.7 357.0h0M153.9 384.4h0M181.5 350.6h0M192.0 416.0h0M192.5 464.9h0M109.4 423.7h0M176.5 416.1h0M54.6 437.1h0M201.0 387.9h0M70.3 424.7h0M181.7 380.0h0M122.4 417.2h0M165.0 385.8h0M172.9 393.2h0M128.9 437.3h0M71.0 368.1h0M182.8 373.5h0M122.6 404.7h0M67.2 462.6h0M112.3 473.0h0M131.7 443.4h0M150.9 445.2h0M88.1 410.8h0M130.6 363.4h0M148.7 465.1h0M103.2 397.4h0M161.8 417.5h0M50.6 440.8h0M134.0 350.6h0M152.9 380.9h0M162.9 470.6h0M137.9 489.1h0M181.9 424.5h0M168.2 425.5h0M104.3 427.6h0M48.7 489.7h0M195.0 492.8h0M175.7 355.0h0M116.5 488.9h0M64.4 491.4h0M139.4 465.1h0M147.2 464.6h0M201.9 431.4h0M162.5 355.1h0M177.5 420.2h0M139.2 362.0h0M68.8 493.0h0M115.1 390.9h0M91.3 463.1h0M52.3 484.4h0M163.2 423.6h0M191.6 351.7h0M157.8 357.2h0M122.4 492.0h0M125.2 468.1h0M68.5 476.6h0M131.2 448.7h0M79.3 400.2h0M119.7 389.3h0M127.2 406.4h0M54.8 474.2h0M160.4 369.4h0M72.3 476.4h0M157.9 492.1h0M103.8 460.9h0M59.3 460.0h0M82.3 433.1h0M52.0 362.4h0M117.6 444.1h0M94.6 406.6h0M157.7 452.3h0M136.0 357.7h0M67.6 353.0h0M92.4 379.2h0M62.0 378.7h0M131.0 450.2h0M127.0 391.1h0M198.6 479.8h0M60.5 379.9h0M187.1 377.7h0M183.7 414.1h0M81.7 438.5h0M84.3 480.9h0M58.2 457.6h0M145.2 392.6h0M112.0 464.9h0M61.1 426.5h0M122.6 438.1h0M75.4 459.8h0M90.4 384.0h0M50.7 493.1h0M191.3 486.7h0M115.8 430.8h0M191.3 449.7h0M118.4 486.1h0M78.4 440.7h0M48.9 377.2h0M102.6 433.9h0M144.5 355.3h0M103.7 455.8h0M182.1 365.5h0M51.0 423.4h0M58.2 417.6h0M201.5 357.2h0M148.8 476.3h0M177.5 463.3h0M175.3 405.3h0M43.3 448.6h0M187.3 488.8h0M68.6 490.2h0M85.4 381.7h0M136.7 416.5h0M85.6 404.8h0M125.9 375.2h0M79.6 424.0h0M181.6 372.5h0M72.7 383.3h0M88.1 380.4h0M194.5 493.0h0M50.8 429.1h0M187.0 400.4h0M63.2 392.8h0M56.7 422.7h0M112.2 412.7h0M93.5 351.5h0M66.3 434.3h0M44.9 448.5h0M137.2 468.7h0M143.7 453.0h0M166.9 423.5h0M44.2 358.7h0M174.2 376.8h0M82.6 387.6h0M71.7 402.3h0M178.1 405.9h0M158.7 456.6h0M135.0 437.3h0M166.5 466.8h0M86.5 416.5h0M87.2 474.1h0M67.4 449.3h0M163.3 365.4h0M131.1 390.6h0M143.1 458.3h0M196.3 383.6h0M171.7 490.6h0M149.7 403.4h0M143.9 458.9h0M119.2 398.4h0M201.2 402.7h0M67.8 490.3h0M50.4 455.5h0M133.4 364.1h0M87.2 368.0h0M183.8 374.5h0M110.6 368.2h0M124.7 461.7h0M166.5 484.7h0M105.0 462.7h0M52.2 374.8h0M100.6 473.9h0M94.4 473.6h0M107.6 383.1h0M77.4 444.4h0M56.8 371.0h0M165.4 434.7h0M74.7 418.3h0M101.0 447.1h0M175.9 443.1h0M103.6 434.9h0M199.3 437.5h0M192.2 381.1h0M134.1 389.6h0M98.3 375.1h0M68.8 393.2h0M203.7 384.1h0M194.6 387.9h0M48.2 440.4h0M58.9 479.4h0M155.9 456.3h0M109.6 460.8h0M117.5 377.2h0M94.8 443.9h0M189.2 481.4h0M60.5 375.7h0M188.2 407.3h0M100.2 487.8h0M59.8 485.8h0M110.4 401.7h0M101.4 406.9h0M186.1 440.4h0M91.7 359.2h0M196.9 351.6h0M183.8 399.1h0M101.0 375.2h0M78.7 402.3h0M199.4 460.4h0M163.9 467.1h0M91.8 365.4h0M48.1 396.1h0M178.9 363.2h0M201.6 407.7h0M69.1 451.6h0M95.6 493.8h0M87.4 451.4h0M166.8 409.1h0M177.4 362.6h0M79.4 478.6h0M171.1 430.8h0M192.8 490.5h0M46.2 426.2h0M93.4 397.1h0M107.1 458.2h0M78.6 482.7h0M129.1 425.6h0M95.8 414.6h0M111.9 433.3h0M129.3 392.1h0M123.4 419.8h0M49.0 389.9h0M175.6 410.4h0M94.1 474.3h0M107.0 467.4h0M65.5 395.3h0M190.3 354.6h0M116.7 477.4h0M167.5 392.7h0M46.1 485.5h0M78.8 460.0h0M142.2 470.0h0M191.2 444.5h0M87.2 355.9h0M142.3 474.3h0M78.9 387.9h0M164.0 413.3h0M203.7 395.9h0M177.2 450.1h0M188.1 485.6h0M171.4 361.8h0M150.2 392.8h0M82.7 437.4h0M98.4 381.2h0M143.0 432.9h0M61.9 445.2h0M106.3 407.5h0M132.3 492.5h0M133.7 412.2h0M93.7 479.7h0M103.8 444.1h0M86.0 379.6h0M138.4 380.8h0M118.7 462.0h0M140.3 389.5h0M147.5 381.7h0M181.3 426.5h0M81.9 473.9h0M95.4 482.5h0M115.0 371.7h0M83.4 457.5h0M77.9 379.4h0M82.6 442.7h0M133.7 396.8h0M130.9 369.7h0M61.1 389.5h0M99.6 492.0h0M69.5 405.3h0M191.4 411.8h0M164.5 377.7h0M142.0 398.2h0M199.8 465.5h0M98.1 383.5h0M55.0 445.5h0M108.8 361.1h0M75.1 465.8h0M200.5 364.4h0M155.8 444.6h0M60.7 478.8h0M183.4 361.5h0M130.0 374.2h0M130.6 427.0h0M55.3 420.2h0M164.6 477.1h0M102.2 437.4h0M109.6 378.0h0M125.6 479.4h0M115.7 487.1h0M193.5 385.9h0M96.2 394.1h0M194.0 402.9h0M51.9 423.1h0M93.8 415.4h0M112.6 471.2h0M134.8 398.2h0M164.1 399.3h0M59.9 415.3h0M65.3 443.7h0M52.7 355.2h0M199.5 397.9h0M152.4 445.2h0M128.0 469.9h0M87.2 462.5h0M157.7 482.3h0M129.4 428.0h0M64.3 489.9h0M138.4 459.0h0M86.3 415.9h0M177.2 435.3h0M145.2 409.7h0M155.9 419.9h0M98.6 390.8h0M164.8 471.4h0M172.1 370.6h0M43.1 434.2h0M140.7 350.5h0M43.1 493.5h0M43.1 404.6h0M169.6 350.5h0M153.5 494.4h0M61.9 350.5h0M153.8 494.4h0M204.3 405.6h0M133.5 494.4h0M183.3 350.5h0M128.0 494.4h0M43.1 352.3h0M43.1 480.9h0M204.3 372.3h0M115.2 494.4h0M185.5 494.4h0M141.5 350.5h0M204.3 482.6h0M150.0 494.4h0M53.7 350.5h0M156.4 350.5h0M43.1 407.3h0M43.1 456.4h0M204.3 361.5h0M43.1 397.5h0M43.1 467.1h0M43.1 473.7h0M51.2 350.5h0M43.1 443.3h0M43.1 463.5h0M131.0 494.4h0M43.1 418.9h0M43.1 418.7h0M52.9 494.4h0M204.3 456.8h0M155.8 350.5h0M43.1 434.0h0M43.1 454.1h0M204.3 419.2h0M121.6 350.5h0M204.3 487.0h0M43.1 445.6h0M48.3 494.4h0M204.3 372.6h0M43.1 467.6h0M43.1 436.4h0M109.1 494.4h0M65.4 494.4h0M43.1 483.3h0M80.2 494.4h0M59.6 350.5h0M43.1 486.9h0M57.4 350.5h0M204.3 489.6h0M204.3 369.1h0M204.3 436.3h0M155.4 350.5h0M43.1 355.3h0M43.1 432.2h0M204.3 430.1h0M204.3 421.6h0M86.8 494.4h0M47.9 350.5h0M204.3 463.6h0M204.3 382.9h0M79.1 350.5h0M152.3 350.5h0M151.3 494.4h0M43.1 483.1h0M54.9 350.5h0M43.1 415.2h0M119.4 350.5h0M43.1 455.8h0M204.3 403.4h0M204.3 418.1h0M97.6 494.4h0M75.9 350.5h0M73.6 350.5h0M43.1 433.3h0M73.1 494.4h0M139.6 494.4h0M204.3 432.1h0M144.6 494.4h0M55.2 350.5h0M43.1 365.1h0M204.3 373.4h0M138.1 494.4h0M204.3 383.8h0M167.7 494.4h0M43.1 447.5h0M177.4 494.4h0M195.2 494.4h0M46.8 494.4h0M204.3 460.9h0M43.1 387.2h0M204.3 378.0h0M108.0 494.4h0M167.4 350.5h0M204.3 400.5h0M146.7 350.5h0M199.3 494.4h0M203.8 494.4h0M125.3 350.5h0M171.7 350.5h0M46.5 350.5h0M196.8 494.4h0M170.1 494.4h0M47.3 350.5h0M43.1 469.2h0M107.5 494.4h0M138.1 350.5h0M97.8 350.5h0M43.1 421.8h0M189.5 350.5h0M51.2 350.5h0M121.2 494.4h0M94.0 494.4h0M71.3 494.4h0M204.3 411.1h0M204.3 447.6h0M43.1 493.7h0M204.3 362.9h0M204.3 418.9h0M43.1 392.3h0M49.8 350.5h0M43.1 441.2h0M204.3 394.3h0M204.3 384.6h0M204.3 419.0h0M202.9 350.5h0M82.2 494.4h0M73.5 350.5h0M60.5 350.5h0M154.6 350.5h0M139.8 494.4h0M52.1 350.5h0M190.9 350.5h0M43.1 466.5h0M188.2 350.5h0M69.1 350.5h0M43.1 379.5h0M204.3 439.8h0M43.1 437.7h0M75.6 350.5h0M43.1 453.0h0M107.1 350.5h0M104.6 350.5h0M43.1 350.6h0M108.3 350.5h0M43.1 490.7h0M99.5 350.5h0M195.3 494.4h0M204.3 455.9h0M43.1 412.9h0M43.1 397.9h0M204.3 428.1h0M161.1 350.5h0M179.8 350.5h0M161.5 494.4h0M204.3 412.1h0M204.3 469.8h0M204.3 418.8h0M204.3 372.7h0M43.1 415.7h0M43.1 465.7h0M43.1 353.3h0M75.9 350.5h0M73.9 350.5h0M64.7 494.4h0M151.4 350.5h0M204.3 355.6h0M43.1 441.6h0M203.9 494.4h0M43.1 414.2h0M204.3 394.7h0M204.3 354.4h0M204.3 369.5h0M53.4 494.4h0M204.3 449.1h0M181.8 350.5h0M119.9 350.5h0M203.4 494.4h0M43.1 359.6h0M204.3 458.5h0M192.4 350.5h0M145.1 494.4h0M43.1 415.9h0M204.3 387.4h0M100.0 494.4h0M43.1 481.6h0M43.1 455.3h0M134.6 494.4h0M43.1 377.5h0M204.3 446.2h0M43.1 391.9h0M43.1 407.6h0M55.5 350.5h0M204.3 477.0h0M78.8 350.5h0M144.6 350.5h0M198.4 350.5h0M92.8 350.5h0M172.8 494.4h0M204.3 375.7h0M43.1 389.6h0M172.9 494.4h0M111.8 494.4h0M204.3 440.8h0M180.3 494.4h0M43.1 471.1h0M193.9 350.5h0M76.3 494.4h0M169.3 494.4h0M43.1 390.3h0M204.3 448.8h0M204.3 420.2h0M43.1 422.0h0M181.9 494.4h0M125.8 350.5h0M157.6 350.5h0M204.3 489.3h0M43.1 405.1h0M204.3 488.2h0M204.3 462.7h0M204.3 486.7h0M43.1 481.8h0M153.0 494.4h0M43.1 412.8h0M195.6 494.4h0M106.4 494.4h0M43.1 429.7h0M43.1 362.0h0M182.3 350.5h0M114.6 350.5h0M204.3 447.8h0M173.0 494.4h0M85.2 494.4h0M65.8 350.5h0M43.1 485.2h0M118.8 350.5h0M83.8 494.4h0M43.1 445.7h0M165.2 350.5h0M162.2 494.4h0M71.3 350.5h0M204.3 356.4h0M43.1 419.5h0M204.3 469.2h0M93.3 350.5h0M204.3 364.5h0M146.2 350.5h0M110.5 350.5h0M194.8 350.5h0M204.3 493.1h0M68.1 494.4h0M43.1 426.6h0M204.3 416.9h0M116.6 350.5h0M180.4 350.5h0" stroke="#cdcdcd" stroke-width="1.1" stroke-linecap="round"/>
<path d="M136.4 397.6h0M151.1 397.6h0M92.2 456.2h0M94.1 450.8h0M82.9 464.4h0M74.2 459.5h0M147.0 398.5h0M153.9 393.4h0M153.7 390.7h0M80.9 465.2h0M62.8 476.3h0M135.1 406.1h0M65.8 465.6h0M156.7 391.3h0M151.8 396.5h0M51.3 481.0h0M78.1 456.4h0M67.5 465.0h0M76.6 471.2h0M103.7 430.2h0M74.9 474.2h0M146.5 410.5h0M65.8 473.7h0M67.4 474.3h0M49.7 478.1h0M100.5 455.5h0M80.9 469.9h0M76.4 465.5h0M111.1 427.8h0M75.5 464.8h0M100.6 431.4h0M118.1 449.7h0M112.1 448.8h0M156.0 393.5h0M73.7 472.6h0M91.1 448.5h0M73.7 466.6h0M146.9 405.6h0M142.5 410.0h0M108.0 429.5h0M132.9 409.0h0M105.9 445.1h0M94.1 465.0h0M59.6 483.0h0M148.6 397.9h0M154.4 392.8h0M84.7 446.4h0M98.3 444.9h0M143.9 401.8h0M164.5 382.3h0M96.4 440.1h0M104.6 426.8h0M135.0 406.0h0M72.1 473.6h0M70.3 464.7h0M64.7 469.4h0M137.1 411.1h0M104.3 433.9h0M59.2 471.7h0M152.2 394.8h0M153.2 392.2h0M94.3 456.4h0M82.2 457.9h0M129.5 420.1h0M163.1 399.0h0M163.8 384.3h0M90.6 430.8h0M96.3 441.4h0M148.9 409.0h0M155.5 402.9h0M134.9 420.5h0M138.1 407.6h0M73.5 458.6h0M103.8 446.1h0M127.2 413.2h0M153.4 388.5h0M77.0 468.6h0M145.8 397.8h0M84.3 444.0h0M137.1 404.9h0M88.1 430.6h0M141.2 404.8h0M85.2 440.5h0M71.7 467.3h0M135.6 413.3h0M111.7 418.7h0M80.8 459.5h0M70.8 472.3h0M75.6 473.5h0M118.1 410.1h0M78.3 462.4h0M120.5 431.7h0M69.8 469.9h0M135.0 398.3h0M144.2 403.3h0M165.8 386.1h0M98.5 443.6h0M62.2 477.7h0M78.3 460.7h0M118.7 414.8h0M63.7 478.4h0M117.5 438.9h0M151.5 397.5h0M88.6 443.0h0M81.2 454.6h0M122.5 437.2h0M84.8 464.5h0M76.4 467.1h0M115.6 414.6h0M119.4 430.7h0M83.6 448.8h0M76.0 463.7h0M90.9 456.2h0M66.7 470.7h0M146.3 401.7h0M67.0 474.0h0M62.9 482.4h0M115.1 434.9h0M83.6 464.1h0M132.6 407.2h0M142.4 424.5h0M137.1 414.1h0M127.4 424.2h0M108.7 457.1h0M158.2 396.4h0M59.9 470.4h0M107.1 448.3h0M64.8 475.6h0M62.7 475.1h0M129.0 417.8h0M110.8 440.1h0M122.5 433.7h0M149.4 399.5h0M73.2 461.4h0M136.8 427.3h0M168.0 381.3h0M131.5 412.9h0M73.3 472.3h0M65.1 473.9h0M59.2 483.1h0M87.4 463.3h0M146.9 403.7h0M132.9 412.9h0M61.0 477.6h0M123.7 415.2h0M123.5 419.1h0M124.3 424.2h0M158.5 391.1h0M109.2 447.3h0M139.6 406.1h0M146.2 408.7h0M125.9 415.0h0M149.4 397.5h0M160.2 391.0h0M87.0 462.6h0M128.6 440.3h0M135.2 410.2h0M85.9 455.8h0M173.1 375.5h0M144.2 393.7h0M71.2 480.7h0M110.9 442.8h0M123.0 433.9h0M158.5 405.4h0M73.9 453.8h0M98.3 458.8h0M128.0 416.7h0M160.2 383.9h0M57.5 483.7h0M145.5 391.2h0M114.7 435.8h0M162.5 395.6h0M151.1 395.7h0M144.7 402.3h0M92.5 444.8h0M109.5 444.4h0M104.6 440.7h0M128.8 412.7h0M89.2 457.0h0M135.4 403.9h0M83.2 462.9h0M64.9 473.2h0M91.2 436.7h0M124.5 425.5h0M64.9 475.4h0M139.6 400.4h0M110.7 434.4h0M110.4 423.6h0M63.3 476.8h0M162.2 397.3h0M59.3 478.7h0M65.6 480.6h0M58.4 477.4h0M88.7 454.4h0M131.6 425.8h0M140.8 405.3h0M159.5 392.7h0M108.2 451.4h0M110.6 423.4h0M142.1 410.7h0M127.2 428.1h0M103.8 435.2h0M159.5 387.7h0M116.3 442.3h0M112.7 426.9h0M72.3 463.3h0M68.9 467.8h0M103.0 445.5h0M131.3 410.9h0M124.0 424.7h0M73.8 459.7h0M76.6 461.3h0M166.2 380.8h0M84.2 443.5h0M164.2 390.6h0M133.0 435.8h0M131.5 410.9h0M74.3 458.0h0M160.7 393.3h0M166.7 394.0h0M91.5 442.0h0M63.7 469.6h0M137.2 417.4h0M55.3 482.2h0M84.1 459.3h0M146.6 405.6h0M67.6 477.4h0M75.2 463.7h0M58.5 484.0h0M64.7 468.2h0M136.7 419.8h0M147.9 400.0h0M135.5 436.6h0M111.5 440.1h0M58.8 474.2h0M75.2 460.0h0M54.5 480.4h0M121.7 432.1h0M128.7 415.0h0M147.6 405.6h0M145.7 406.6h0M101.1 464.8h0M108.5 443.0h0M67.0 478.3h0M115.4 431.6h0M147.1 404.6h0M86.8 451.6h0M79.0 472.7h0M134.0 411.1h0M103.4 445.3h0M73.3 467.1h0M57.1 475.7h0M78.2 467.2h0M75.0 443.2h0M153.7 396.7h0M141.5 400.5h0M68.4 472.5h0M125.5 425.0h0M71.0 460.5h0M155.4 394.7h0M142.7 412.9h0M140.1 430.0h0M149.4 400.6h0M95.1 429.5h0M86.7 453.8h0M114.3 423.3h0M127.2 425.3h0M77.0 474.1h0M55.9 485.6h0M82.4 453.6h0M95.8 439.9h0M71.6 457.2h0M88.4 440.1h0M155.4 394.3h0M143.5 410.1h0M71.2 465.6h0M66.0 461.1h0M62.1 482.3h0M111.2 429.1h0M89.5 459.4h0M73.8 468.9h0M149.9 394.9h0M159.2 400.4h0M72.5 464.6h0M130.3 422.6h0M98.4 426.6h0M162.3 386.2h0M86.6 459.5h0M108.1 440.7h0M154.9 388.8h0M59.0 479.1h0M76.9 469.2h0M80.5 458.7h0M103.3 443.7h0M71.7 462.9h0M119.8 419.2h0M65.3 475.7h0M84.2 454.8h0M71.8 475.6h0M66.6 463.3h0M100.3 440.7h0M172.4 380.0h0M62.6 482.1h0M152.5 395.1h0M143.6 397.9h0M91.1 454.4h0M143.3 408.7h0M117.7 436.2h0M95.0 443.9h0M122.1 423.3h0M150.0 396.7h0M62.3 479.8h0M101.4 432.2h0M119.4 441.6h0M61.7 472.6h0M150.6 398.5h0M68.5 455.8h0M67.2 474.5h0M148.1 406.1h0M114.6 437.0h0M126.3 424.6h0M107.5 423.6h0M56.8 475.5h0M105.8 439.9h0M143.7 391.6h0M124.8 425.6h0M76.2 471.2h0M121.0 422.2h0M152.4 404.5h0M61.5 481.8h0M72.6 468.3h0M144.1 403.6h0M82.3 457.3h0M78.7 455.3h0M61.8 460.4h0M161.6 381.4h0M156.9 391.6h0M128.8 420.3h0M62.5 479.9h0M70.4 474.6h0M128.8 418.8h0M71.3 476.3h0M129.0 430.2h0M62.5 477.2h0M58.2 478.6h0M159.2 386.6h0M65.3 472.9h0M139.4 406.0h0M147.5 404.7h0M64.8 481.3h0M55.9 485.4h0M109.8 421.3h0M146.8 398.3h0M82.3 463.8h0M83.6 461.0h0M73.2 481.4h0M83.2 449.3h0M132.6 423.0h0M129.7 418.2h0M126.1 434.6h0M143.5 396.6h0M64.1 479.4h0M58.0 475.6h0M101.3 451.3h0M68.4 475.7h0M117.8 431.7h0M123.1 440.3h0M148.3 396.5h0M95.4 428.2h0M149.4 401.2h0M68.1 474.2h0M83.9 465.9h0M154.8 396.7h0M119.8 415.1h0M158.1 389.1h0M66.6 477.4h0M142.8 397.9h0M111.3 420.9h0M60.3 474.1h0M58.8 478.0h0M145.2 408.8h0M118.0 429.2h0M140.5 409.2h0M107.5 432.2h0M137.3 405.3h0M80.6 464.8h0M102.2 429.3h0M157.4 393.7h0M144.1 412.4h0M94.5 443.2h0M152.7 403.0h0M124.4 413.0h0M72.9 466.8h0M76.4 466.9h0M94.1 457.1h0M93.6 454.5h0M152.6 395.0h0M159.0 403.2h0M77.2 475.1h0M121.6 428.8h0M111.9 420.4h0M76.7 468.6h0M122.3 412.9h0M71.0 473.7h0M162.2 384.7h0M128.3 406.8h0M119.6 422.0h0M65.5 462.1h0M111.5 431.4h0M150.6 397.4h0M146.6 403.8h0M76.7 459.0h0M135.1 418.8h0M85.5 457.8h0M166.5 386.4h0M153.4 403.3h0M134.6 409.4h0M119.5 423.0h0M66.2 480.1h0M121.1 419.3h0M138.5 407.3h0M61.2 473.2h0M155.9 395.8h0M77.0 461.4h0M149.7 397.0h0M72.4 458.6h0M69.5 475.4h0M104.6 457.3h0M141.4 418.6h0M166.6 379.3h0M160.3 389.2h0M69.3 469.4h0M110.0 440.7h0M144.2 416.2h0M69.0 475.3h0M149.1 399.4h0M149.1 399.7h0M135.1 402.6h0M56.4 480.2h0M132.1 428.6h0M93.1 435.7h0M145.1 397.5h0M125.5 422.2h0M96.7 449.3h0M139.4 399.0h0M148.4 392.3h0M53.9 482.5h0M130.5 419.6h0M127.8 423.4h0M95.9 416.2h0M79.5 461.3h0M153.5 394.5h0M103.5 428.3h0M97.8 439.1h0M116.3 433.3h0M168.0 379.8h0M58.6 481.6h0M119.4 441.7h0M83.3 472.6h0M149.5 404.3h0M103.7 448.1h0M67.0 465.5h0M126.2 410.4h0M122.5 416.1h0M66.4 475.4h0M135.5 401.3h0M105.1 437.9h0M82.4 459.3h0M100.3 457.6h0M81.3 467.5h0M64.3 481.5h0M127.3 419.7h0M91.0 456.7h0M75.5 465.1h0M110.7 436.9h0M80.1 446.5h0M154.4 401.8h0M72.8 466.7h0M120.1 416.9h0M74.9 475.0h0M99.0 451.4h0M158.0 398.1h0M120.8 435.4h0M81.5 453.5h0M95.6 446.8h0M141.5 407.6h0M84.3 467.4h0M79.2 467.2h0M80.0 463.9h0M73.5 469.3h0M84.2 452.6h0M91.1 441.9h0M145.7 404.1h0M97.8 455.3h0M161.9 388.1h0M66.5 468.5h0M69.4 470.2h0M64.0 479.6h0M70.0 478.1h0M108.7 436.6h0M127.1 413.0h0M146.8 414.2h0M113.5 427.5h0M71.3 469.7h0M129.4 414.6h0M160.2 388.4h0M156.5 386.7h0M70.7 472.6h0M159.1 393.3h0M162.6 389.4h0M114.4 411.0h0M148.7 397.1h0M131.5 424.5h0M116.1 419.5h0M74.2 472.6h0M132.4 427.5h0M145.4 407.5h0M145.3 396.9h0M73.1 468.0h0M141.4 406.0h0M158.1 397.1h0M63.4 470.0h0M143.0 405.1h0M73.5 464.6h0M59.4 483.6h0M151.2 401.2h0M63.4 480.8h0M150.2 401.8h0M62.8 473.7h0M129.6 429.1h0M159.3 389.2h0M64.0 470.0h0M85.1 467.1h0M100.4 437.7h0M149.7 396.3h0M122.0 424.8h0M66.9 469.4h0M105.0 435.8h0M168.6 386.8h0M134.0 413.4h0M163.5 385.6h0M148.0 401.5h0M172.1 381.5h0M52.3 484.0h0M68.6 460.4h0M63.6 471.0h0M151.7 388.9h0M145.9 406.8h0M82.5 464.0h0M152.6 407.3h0M81.4 470.8h0M170.3 385.4h0M157.1 394.7h0M78.6 462.8h0M71.9 452.6h0M126.2 429.8h0M72.3 470.9h0M63.2 472.0h0M138.5 409.7h0M149.5 390.4h0M139.8 404.2h0M73.5 453.4h0M118.6 419.9h0M72.6 472.4h0M116.2 424.2h0M159.5 383.2h0M94.9 459.5h0M126.7 434.1h0M89.4 450.3h0M114.9 447.9h0M169.4 384.7h0M65.3 468.8h0M84.7 462.5h0M156.8 389.0h0M64.4 485.0h0M82.5 447.0h0M140.2 412.7h0M152.3 391.0h0M78.1 466.5h0M82.3 458.8h0M75.6 464.8h0M93.3 438.4h0M114.0 432.0h0M151.5 394.9h0M128.7 416.5h0M147.6 396.3h0M167.3 388.8h0M60.8 481.4h0M83.8 444.2h0M70.0 478.4h0M143.9 408.8h0M79.3 456.6h0M102.2 440.7h0M59.9 473.9h0M122.5 432.9h0M59.9 476.6h0M68.4 467.5h0M148.1 411.5h0M93.6 445.0h0M92.0 456.4h0M76.8 455.6h0M149.7 409.1h0M84.9 438.6h0M110.2 435.6h0M53.8 483.5h0M155.9 394.8h0M82.8 454.0h0M86.4 465.6h0M86.9 451.8h0M73.6 470.8h0M63.2 467.5h0M137.0 405.9h0M67.2 464.3h0M144.3 396.7h0M64.2 482.4h0M153.9 402.3h0M99.6 450.1h0M88.5 461.0h0M128.8 414.8h0M144.7 407.1h0M58.6 480.7h0M146.0 407.4h0M106.5 443.0h0M154.8 391.8h0M104.6 447.2h0M53.8 481.6h0M137.6 407.8h0M64.3 473.8h0M127.5 420.3h0M59.1 468.7h0M59.5 479.1h0M72.3 477.5h0M80.4 459.4h0M161.2 387.2h0M109.8 429.4h0M110.7 433.7h0M134.6 415.1h0M89.8 438.5h0M81.3 462.3h0M157.3 402.0h0M105.8 435.8h0M68.6 473.8h0M86.2 447.0h0M137.8 411.6h0M157.4 391.8h0M81.3 463.3h0M100.2 443.8h0M118.5 430.7h0M134.3 427.1h0M166.1 384.9h0M155.2 397.4h0M84.0 465.0h0M96.4 463.6h0M68.6 470.9h0M71.1 468.5h0M70.7 457.2h0M119.3 435.1h0M111.7 441.8h0M76.9 462.6h0M66.8 464.8h0M146.3 404.6h0M149.1 405.0h0M104.4 434.8h0M130.5 414.6h0M139.9 406.2h0M93.6 464.0h0M149.8 397.0h0M75.6 473.1h0M92.3 452.9h0M116.0 423.5h0M151.0 402.1h0M102.3 451.4h0M60.0 475.6h0M143.4 408.1h0M153.8 408.4h0M95.8 457.3h0M132.5 403.1h0M62.9 475.6h0M111.8 426.0h0M128.5 415.5h0M66.0 477.0h0M58.5 480.9h0M110.5 437.1h0M95.7 430.6h0M123.1 414.5h0M119.3 431.0h0M138.9 403.3h0M140.4 401.7h0M54.6 477.5h0M152.5 407.4h0M167.4 385.7h0M118.7 418.8h0M131.3 430.9h0M133.8 410.8h0M78.8 453.6h0M97.5 443.1h0M73.6 475.3h0M85.9 463.0h0M104.4 436.6h0M112.9 449.2h0M106.1 446.6h0M66.6 474.7h0M118.8 412.9h0M74.4 458.6h0M124.8 411.6h0M170.8 383.4h0M69.7 474.9h0M107.7 418.7h0M68.9 473.4h0M60.9 480.2h0M118.7 417.9h0M169.7 383.8h0M132.3 416.5h0M114.6 433.3h0M118.4 421.9h0M171.5 384.3h0M153.3 399.1h0M67.0 466.8h0M126.2 430.1h0M75.9 461.4h0M111.1 422.0h0M135.4 402.9h0M117.9 422.6h0M140.4 399.8h0M78.8 470.8h0M118.4 426.0h0M142.4 426.7h0M132.0 413.7h0M81.0 460.5h0M113.7 435.7h0M160.6 396.7h0M151.8 396.9h0M63.8 478.1h0M104.1 436.3h0M134.8 417.6h0M64.9 462.5h0M98.7 436.3h0M76.1 469.9h0M118.3 422.0h0M98.8 435.2h0M145.7 394.1h0M74.3 466.4h0M120.3 438.5h0M85.1 451.5h0M115.8 437.5h0M94.8 448.3h0M171.2 387.3h0M54.7 484.7h0M99.8 442.0h0M104.9 442.0h0M159.5 386.7h0M59.4 482.4h0M151.7 396.7h0M131.1 421.5h0M152.5 396.5h0M86.9 453.9h0M160.4 388.1h0M141.5 412.4h0M77.6 457.0h0M157.0 395.7h0M72.3 461.3h0M77.3 462.8h0M87.3 440.5h0M155.9 396.1h0M121.0 430.2h0M66.2 474.3h0M150.3 396.7h0M145.4 412.3h0M77.3 459.7h0M119.1 421.1h0M77.3 465.4h0M73.7 461.1h0M68.4 477.6h0M120.1 423.7h0M145.6 399.3h0M59.6 476.0h0M157.0 391.9h0M149.8 407.3h0M136.8 419.7h0M139.8 415.0h0M60.5 477.9h0M55.5 475.9h0M102.3 440.8h0M73.5 473.0h0M139.4 404.6h0M74.5 457.7h0M127.2 422.6h0M70.6 477.1h0M148.2 403.8h0M77.1 453.6h0M129.5 428.1h0M93.0 458.7h0M70.9 468.3h0M102.0 439.4h0M65.5 467.7h0M79.7 463.8h0M79.5 461.9h0M55.0 476.1h0M61.4 472.8h0M54.6 481.3h0M116.0 447.7h0M69.2 474.7h0M58.9 472.6h0M104.6 436.9h0M78.3 452.1h0M74.6 452.4h0M162.6 387.9h0M149.3 408.7h0M150.9 407.7h0M139.1 413.0h0M133.1 405.1h0M143.0 393.8h0M145.7 408.3h0M80.8 461.4h0M69.6 462.6h0M67.8 475.4h0M109.9 430.0h0M122.4 426.0h0M148.8 395.6h0M95.5 444.7h0M144.6 410.6h0M88.4 446.8h0M68.4 462.1h0M107.7 420.2h0M143.5 408.3h0M131.2 413.9h0M74.3 464.3h0M77.3 469.1h0M113.8 439.9h0M147.6 403.1h0M153.2 400.7h0M90.5 448.1h0M84.4 454.2h0M145.6 394.6h0M118.3 414.5h0M58.6 486.0h0M125.7 421.7h0M124.9 419.0h0M80.9 463.4h0M120.6 421.9h0M98.6 446.5h0M166.0 384.1h0M83.2 448.7h0M116.3 447.9h0M102.3 442.4h0M69.7 465.8h0M79.2 462.8h0M117.5 431.2h0M79.4 477.8h0M99.8 446.7h0M55.9 477.6h0M137.4 414.5h0M153.0 391.5h0M75.9 469.0h0M92.3 449.9h0M80.6 458.0h0M60.8 475.1h0M75.9 461.6h0M80.6 459.8h0M89.8 447.2h0M142.2 407.8h0M103.5 422.7h0M82.1 443.5h0M98.3 454.8h0M122.1 417.1h0M172.0 379.6h0M146.0 430.8h0M148.5 402.9h0M108.0 414.3h0M72.2 476.8h0M151.1 396.9h0M123.0 425.7h0M66.5 474.1h0M77.3 451.4h0M82.4 469.7h0M66.8 480.1h0M144.1 407.4h0M93.6 447.4h0M95.9 455.9h0M129.8 416.0h0M72.6 471.5h0M79.7 465.1h0M70.4 451.9h0M104.4 432.0h0M148.5 410.4h0M84.1 467.2h0M88.7 455.2h0M96.4 435.6h0M69.9 473.1h0M82.3 460.3h0M148.5 391.6h0M119.2 417.4h0M147.5 405.5h0M88.1 450.5h0M115.8 428.8h0M98.3 466.1h0M68.1 477.1h0M80.3 465.8h0M106.5 444.0h0M85.9 456.5h0M106.7 431.7h0M68.7 475.8h0M131.1 428.0h0M153.6 392.0h0M134.4 416.8h0M145.9 395.3h0M107.2 461.1h0M113.7 443.1h0M161.2 393.7h0M102.6 430.7h0M80.5 459.1h0M113.5 432.0h0M84.9 451.9h0M116.2 420.3h0M72.3 459.2h0M54.5 483.3h0M106.8 424.3h0M119.7 418.9h0M140.8 417.2h0M148.7 408.6h0M118.8 428.8h0M114.2 439.0h0M67.3 461.9h0M73.7 476.6h0M138.9 401.1h0M148.7 400.8h0M113.1 435.3h0M74.4 474.6h0M58.7 483.7h0M56.3 481.0h0M146.3 405.4h0M141.1 409.7h0M78.8 476.4h0M77.1 455.1h0M62.3 472.1h0M154.4 397.5h0M165.9 389.7h0M55.4 479.8h0M91.7 454.9h0M63.0 472.0h0M124.4 414.8h0M109.0 429.7h0M60.7 480.0h0M146.0 404.4h0M128.5 421.9h0M170.1 383.5h0M68.4 476.5h0M122.4 416.1h0M84.9 452.3h0M74.2 468.7h0M158.5 399.3h0M63.2 474.7h0M141.7 412.7h0M140.6 408.1h0M94.7 438.7h0M71.7 476.2h0M73.8 459.3h0M140.3 413.9h0M152.2 395.6h0M75.4 466.4h0M133.7 436.8h0M149.8 394.6h0M114.0 453.4h0M71.7 462.0h0M144.5 400.3h0M142.6 407.3h0M78.9 455.6h0M66.8 471.9h0M139.4 400.6h0M76.8 476.7h0M58.1 480.1h0M99.0 444.7h0M65.2 478.4h0M147.9 409.8h0M63.2 472.5h0M165.6 385.5h0M73.6 475.6h0M99.9 452.1h0M55.9 483.2h0M117.9 433.8h0M142.0 403.3h0M61.9 474.4h0M75.1 468.5h0M55.0 485.1h0M151.1 400.4h0M152.6 396.0h0M81.1 446.0h0M166.3 385.3h0M114.8 430.3h0M70.4 455.5h0M87.9 457.9h0M153.8 401.7h0M123.5 415.0h0M147.1 385.6h0M100.8 442.2h0M123.8 413.2h0M91.1 449.6h0M138.7 428.0h0M147.8 399.6h0M123.9 415.1h0M151.2 396.7h0M107.7 430.6h0M87.6 457.4h0M64.3 472.0h0M96.5 449.8h0M160.2 396.4h0M143.4 414.1h0M116.1 450.6h0M134.7 410.0h0M57.4 484.4h0M88.5 460.4h0M104.8 463.4h0M103.8 448.0h0M78.1 464.8h0M64.8 478.0h0M130.9 415.6h0M89.3 439.8h0M71.8 462.2h0M120.7 414.0h0M141.2 401.5h0M58.5 476.0h0M152.8 402.9h0M70.5 462.2h0M171.0 377.1h0M155.9 394.6h0M143.1 394.9h0M73.5 471.5h0M130.4 415.9h0M117.0 431.5h0M54.2 481.3h0M93.6 434.5h0M116.9 451.7h0M153.6 392.2h0M82.1 452.1h0M135.0 410.4h0M73.3 472.2h0M127.0 422.7h0M149.0 404.1h0M146.7 401.0h0M84.2 458.3h0M95.9 452.7h0M159.1 394.3h0M63.4 466.9h0M170.8 376.9h0M87.5 456.1h0M143.5 399.9h0M137.9 418.8h0M156.7 390.3h0M142.4 404.6h0M162.1 389.0h0M144.6 408.5h0M84.0 464.6h0M59.6 476.5h0M93.5 439.9h0M171.4 382.6h0M70.4 474.1h0M103.6 449.5h0M108.8 422.8h0M144.3 400.8h0M108.7 438.1h0M65.2 478.4h0M125.5 413.2h0M114.8 427.4h0M73.1 477.2h0M149.1 405.2h0M127.1 429.4h0M110.7 431.6h0M66.0 478.9h0M98.0 441.4h0M113.5 428.7h0M148.2 393.0h0M155.7 400.1h0M163.9 396.8h0M136.2 408.3h0M77.1 463.1h0M119.7 416.9h0M52.5 482.0h0M167.2 383.9h0M52.7 481.0h0M130.1 420.6h0M79.4 475.1h0M71.8 467.4h0M66.9 467.8h0M144.3 401.4h0M143.5 434.1h0M76.2 461.6h0M94.2 438.5h0M58.8 481.2h0M118.7 422.7h0M100.6 439.7h0M109.0 438.4h0M124.0 423.9h0M110.1 433.9h0M67.7 474.0h0M74.2 476.6h0M101.8 423.3h0M61.8 478.7h0M167.1 393.4h0M158.4 395.8h0M61.2 479.5h0M144.9 396.7h0M100.0 437.9h0M138.1 414.3h0M125.4 420.6h0M67.1 475.2h0M160.7 392.1h0M131.8 426.9h0M163.1 389.3h0M94.3 454.4h0M170.5 380.7h0M57.8 471.9h0M109.3 422.6h0M130.9 424.9h0M65.9 474.2h0M60.3 482.5h0M161.0 398.9h0M72.4 475.8h0M68.9 468.4h0M99.8 426.7h0M118.3 428.0h0M136.7 407.7h0M143.2 400.2h0M114.9 434.9h0M71.8 455.8h0M142.2 399.1h0M133.6 420.7h0M96.8 444.9h0M87.7 446.7h0M113.8 424.1h0M69.5 462.9h0M121.9 409.6h0M116.9 430.3h0M96.1 458.2h0M123.7 421.8h0M64.5 479.5h0M127.5 404.1h0M61.8 471.4h0M104.4 439.3h0M77.6 474.0h0M77.4 460.8h0M66.1 476.8h0M89.7 446.0h0M109.0 421.2h0M56.0 480.8h0M163.2 382.8h0M73.0 467.4h0M87.0 443.5h0M57.9 473.6h0M108.2 437.5h0M68.6 472.2h0M85.7 462.3h0M73.2 469.3h0M111.2 455.2h0M159.9 394.5h0M143.8 418.9h0M148.0 400.7h0M68.0 473.1h0M57.9 476.9h0M75.9 470.0h0M102.7 434.9h0M68.2 476.7h0M140.0 402.9h0M139.5 402.9h0M159.1 393.9h0M163.6 387.6h0M85.3 459.1h0M101.2 444.6h0M159.5 387.7h0M167.3 381.4h0M130.6 404.2h0M153.6 392.2h0M122.3 415.4h0M67.1 479.1h0M140.9 400.1h0M172.2 379.5h0M123.3 422.7h0M135.7 422.9h0M132.1 422.4h0M73.6 471.4h0M138.2 417.4h0M137.3 410.3h0M84.4 446.6h0M166.0 384.7h0M60.3 474.2h0M81.3 459.7h0M95.4 454.0h0M106.7 439.3h0M142.6 409.4h0M55.9 482.6h0M72.1 470.0h0M64.1 472.0h0M130.8 430.9h0M113.6 448.0h0M78.2 459.3h0M86.6 447.3h0M122.4 439.7h0M162.8 389.7h0M140.9 417.0h0M157.1 391.1h0M108.6 440.3h0M143.5 405.3h0M164.1 390.4h0M125.5 414.7h0M93.7 447.5h0M57.2 484.8h0M89.5 458.6h0M58.6 472.9h0M74.3 470.4h0M77.2 476.8h0M157.2 397.4h0M66.7 474.1h0M118.6 438.3h0M143.9 413.1h0M119.4 414.8h0M57.2 480.5h0M137.9 393.0h0M60.4 482.7h0M61.8 471.5h0M146.5 405.0h0M86.3 466.0h0M159.8 385.8h0M74.8 459.5h0M53.3 476.5h0M120.9 427.2h0M130.4 398.4h0M82.0 452.7h0M130.9 416.3h0M56.7 481.6h0M76.6 457.7h0M73.5 465.9h0M102.9 448.7h0M139.4 419.5h0M147.8 395.2h0M58.7 483.3h0M92.5 456.7h0M115.7 430.0h0M93.4 442.8h0M90.1 451.5h0M75.4 456.6h0M126.7 405.2h0M124.7 420.5h0M64.9 477.0h0M157.4 386.4h0M142.7 399.4h0M80.2 456.4h0M84.7 470.2h0M111.6 442.4h0M79.5 444.1h0M90.2 463.7h0M87.4 466.2h0M147.7 400.6h0M75.3 466.9h0M102.8 421.5h0M102.1 419.1h0M93.8 466.0h0M62.7 478.4h0M58.3 480.8h0M73.7 467.5h0M114.9 443.1h0M151.6 388.5h0M107.4 423.8h0M158.9 400.3h0M69.2 475.0h0M68.2 461.8h0M65.1 472.7h0M78.3 462.5h0M59.5 482.5h0M132.1 419.7h0M146.8 400.8h0M128.7 421.5h0M141.4 409.7h0M130.6 405.1h0M154.4 390.4h0M164.4 381.9h0M159.8 385.6h0M93.6 448.7h0M66.6 479.7h0M60.9 481.3h0M114.4 430.0h0M121.9 430.4h0M60.3 486.6h0M77.2 472.4h0M97.7 440.6h0M108.1 429.1h0M153.9 402.6h0M56.4 481.2h0M92.8 446.8h0M120.3 424.2h0M123.9 417.7h0M143.2 404.8h0M164.1 388.0h0M118.7 429.9h0M67.2 460.0h0M138.8 423.1h0M139.8 395.1h0M106.5 455.3h0M153.8 397.6h0M70.7 460.7h0M143.2 396.6h0M72.0 475.2h0M139.3 401.6h0M83.0 464.8h0M166.3 387.5h0M95.2 455.1h0M141.3 414.4h0M107.5 439.6h0M108.2 442.4h0M54.8 485.6h0M94.2 444.0h0M132.0 436.2h0M89.8 444.3h0M137.2 406.5h0M72.1 468.6h0M66.3 459.3h0M118.2 436.1h0M104.1 424.9h0M129.4 427.4h0M115.1 443.6h0M61.1 468.7h0M113.5 434.1h0M148.1 397.2h0M159.3 388.7h0M71.2 467.6h0M112.0 434.8h0M113.9 432.0h0M138.3 404.2h0M64.9 475.3h0M71.0 471.4h0M77.7 454.5h0M144.8 407.3h0M115.8 455.5h0M152.6 400.0h0M76.3 452.8h0M134.9 415.1h0M156.9 393.5h0M150.3 399.4h0M103.8 444.9h0M59.8 478.3h0M129.6 418.5h0M126.0 412.0h0M142.1 405.7h0M62.8 476.8h0M64.0 465.0h0M54.4 477.1h0M82.7 458.7h0M71.9 463.9h0M107.6 439.8h0M164.1 385.6h0M72.5 470.9h0M59.6 478.7h0M73.2 457.1h0M97.6 437.9h0M61.4 478.6h0M131.3 417.4h0M144.3 404.7h0M87.3 456.6h0M79.4 466.6h0M164.7 393.9h0M142.0 402.1h0M63.3 479.9h0M68.2 470.5h0M156.0 396.3h0M70.5 472.4h0M102.9 444.7h0M146.5 392.3h0M65.8 463.0h0M81.4 464.0h0M122.7 430.9h0M71.3 472.0h0M92.2 464.4h0M144.0 419.4h0M121.3 407.3h0M65.8 474.5h0M108.3 439.6h0M71.8 472.2h0M96.2 452.4h0M65.2 479.2h0M78.3 457.5h0M86.7 461.6h0M165.9 384.7h0M82.2 466.8h0M69.4 476.7h0M125.8 407.8h0M55.8 480.7h0M134.7 405.7h0M77.6 436.7h0M66.7 482.9h0M158.7 400.1h0M59.1 483.9h0M168.0 388.3h0M65.3 481.2h0M152.9 398.7h0M140.4 427.4h0M116.8 419.3h0M148.4 411.0h0M114.8 433.2h0M76.7 465.1h0M148.1 398.8h0M73.6 468.4h0M149.7 394.5h0M63.1 481.3h0M131.1 440.6h0M138.9 397.9h0M131.9 405.4h0M54.1 473.4h0M100.8 449.5h0M142.3 407.5h0M165.1 392.0h0M67.5 477.9h0M85.2 466.0h0M92.6 452.9h0M133.7 405.0h0M62.0 475.9h0M77.5 456.5h0M89.0 444.1h0M64.4 470.3h0M165.5 385.9h0M83.3 464.3h0M104.9 443.2h0M163.0 396.2h0M62.3 468.9h0M133.1 418.3h0M141.7 401.3h0M165.0 381.7h0M67.7 479.9h0M69.7 477.9h0M155.3 387.8h0M59.9 484.8h0M116.9 444.8h0M129.8 428.6h0M156.2 397.5h0M72.8 471.0h0M86.4 435.5h0M142.3 401.3h0M65.3 468.2h0M145.2 412.4h0M154.6 399.5h0M69.5 470.6h0M87.7 450.0h0M69.2 468.4h0M152.3 392.2h0M75.6 468.7h0M153.8 400.8h0M158.4 402.9h0M64.0 478.1h0M77.4 470.7h0M65.4 471.0h0M86.6 447.2h0M95.3 458.6h0M67.8 471.4h0M146.8 409.2h0M113.4 452.0h0M133.4 437.4h0M54.3 482.6h0M84.6 443.7h0M67.9 476.4h0M67.1 472.5h0M138.4 405.1h0M159.2 392.3h0M160.3 402.1h0M150.7 403.3h0M75.8 465.5h0M60.0 475.5h0M119.3 435.4h0M74.5 477.7h0M130.7 417.9h0M138.1 413.7h0M156.0 394.7h0M151.5 394.3h0M157.0 396.7h0M121.0 441.0h0M116.5 424.5h0M162.5 400.8h0M112.6 444.5h0M132.0 414.1h0M96.8 449.9h0M151.6 403.5h0M97.4 448.5h0M159.9 391.4h0M124.2 413.0h0M64.6 475.9h0M69.8 470.4h0M82.0 451.4h0M105.8 446.2h0M55.2 479.3h0M144.7 405.4h0M152.7 394.0h0M131.3 414.1h0M68.4 473.1h0M96.6 437.1h0M140.5 404.5h0M140.0 406.6h0M77.4 463.7h0M156.7 385.1h0M78.7 458.5h0M66.8 478.9h0M129.7 415.9h0M61.9 479.7h0M111.0 443.7h0M122.9 418.9h0M90.3 437.7h0M121.5 422.2h0M157.5 396.9h0M136.6 395.7h0M133.2 421.6h0M93.4 441.5h0M91.2 450.1h0M135.9 400.8h0M132.9 409.8h0M139.0 405.3h0M146.3 415.2h0M147.2 411.7h0M156.1 394.3h0M138.0 404.3h0M60.1 478.2h0M140.5 422.1h0M150.4 402.2h0M141.7 403.3h0M161.0 392.9h0M145.9 395.3h0M76.0 470.4h0M134.6 415.1h0M81.2 456.4h0M141.3 413.1h0M62.5 472.1h0M170.4 381.9h0M122.4 440.9h0M95.6 443.0h0M109.7 423.4h0M133.1 427.1h0M99.7 449.8h0M110.5 432.1h0M56.2 480.0h0M125.8 428.7h0M150.3 408.2h0M128.5 421.2h0M147.7 399.6h0M158.2 389.8h0M66.5 466.7h0M125.1 422.6h0M175.3 385.5h0M123.0 426.3h0M105.6 429.3h0M88.3 463.0h0M147.9 392.3h0M157.3 397.7h0M132.6 432.8h0M91.6 463.2h0M147.8 400.6h0M155.1 397.3h0M133.4 402.4h0M165.6 384.0h0M64.5 472.0h0M119.3 439.3h0M73.3 458.0h0M139.4 412.8h0M147.1 407.2h0M128.5 427.8h0M129.2 426.2h0M95.9 439.9h0M136.9 407.3h0M151.4 405.8h0M136.6 413.3h0M110.8 419.9h0M66.3 475.5h0M97.3 453.9h0M69.2 470.6h0M70.1 468.3h0M150.6 401.0h0M116.9 427.3h0M134.1 421.7h0M76.0 472.2h0M68.6 474.6h0M139.1 405.0h0M69.2 473.2h0M161.2 402.1h0M73.0 462.0h0M154.3 397.0h0M73.3 468.1h0M67.9 465.8h0M55.1 472.0h0M148.9 397.3h0M162.3 388.4h0M120.2 429.6h0M136.4 414.1h0M89.2 464.4h0M129.8 423.2h0M113.7 426.8h0M136.5 408.8h0M62.5 478.8h0M162.4 384.9h0M88.0 460.6h0M149.2 394.5h0M136.1 418.8h0M164.1 384.3h0M109.5 424.3h0M69.6 477.8h0M159.2 394.7h0M64.1 475.7h0M139.8 406.1h0M150.3 387.9h0M63.1 464.3h0M141.7 393.9h0M61.1 475.4h0M153.1 394.4h0M155.8 391.5h0M85.8 465.2h0M130.5 403.0h0M149.2 407.0h0M148.5 396.5h0M69.4 474.6h0M94.9 446.9h0M142.5 413.1h0M72.7 467.4h0M57.1 478.6h0M161.3 388.3h0M131.4 409.2h0M72.2 464.8h0M63.8 469.4h0M106.2 449.3h0M66.9 461.7h0M100.4 440.7h0M144.8 407.4h0M110.3 418.3h0M57.1 486.8h0M132.0 434.4h0M69.3 466.1h0M70.2 467.0h0M103.9 461.4h0M84.2 439.0h0M139.0 400.6h0M71.1 465.5h0M72.8 459.5h0M170.4 383.2h0M156.4 394.0h0M142.2 411.3h0M100.7 450.5h0M158.4 393.9h0M154.8 394.1h0M98.1 451.9h0M71.2 458.1h0M125.5 421.8h0M87.3 467.5h0M62.1 468.8h0M107.3 430.9h0M83.4 462.0h0M156.2 389.8h0M66.8 466.3h0M154.9 398.2h0M71.5 473.9h0M157.9 392.8h0M155.4 392.4h0M77.7 448.3h0M155.3 403.7h0M100.1 444.6h0M108.4 443.7h0M141.2 401.9h0M95.5 452.0h0M71.3 475.2h0M71.1 471.0h0M149.1 404.7h0M135.6 421.9h0M121.7 411.1h0M136.4 417.0h0M94.5 453.1h0M100.1 448.7h0M64.6 469.3h0M93.6 450.2h0M132.9 417.4h0M163.3 389.7h0M162.6 386.9h0M160.2 393.6h0M110.8 423.7h0M77.5 455.7h0M66.0 472.1h0M57.8 483.5h0M119.5 421.8h0M107.1 435.4h0M112.8 425.6h0M156.8 393.8h0M77.5 462.9h0M137.9 399.1h0M64.1 468.6h0M107.0 450.6h0M95.2 441.5h0M150.1 393.6h0M88.6 442.2h0M102.0 449.9h0M157.3 397.5h0M78.0 471.4h0M65.1 469.7h0M68.0 476.5h0M66.7 475.6h0M91.5 457.0h0M66.7 476.0h0M60.6 468.0h0M64.2 471.9h0M153.0 392.6h0M65.8 469.9h0M156.4 394.3h0M76.8 467.7h0M82.7 458.7h0M110.8 426.6h0M142.4 413.3h0M56.4 483.4h0M149.5 402.3h0M151.5 397.5h0M79.2 453.0h0M68.5 476.2h0M157.8 393.1h0M104.6 439.2h0M64.4 468.9h0M60.6 477.4h0M59.8 476.9h0M152.0 400.4h0M102.0 441.8h0M68.0 471.7h0M67.4 471.5h0M134.9 407.9h0M119.5 430.3h0M95.2 450.2h0M90.6 463.1h0M140.1 418.2h0M130.7 417.9h0M61.0 473.6h0M69.3 469.5h0M141.9 400.1h0M59.3 486.3h0M67.7 469.1h0M111.9 437.4h0M68.0 475.0h0M99.6 453.8h0M96.8 456.7h0M115.3 422.5h0M118.0 419.0h0M106.2 437.0h0M57.2 484.2h0M68.3 472.5h0M158.9 391.3h0M96.5 450.7h0M138.2 408.4h0M97.8 451.6h0M133.9 407.8h0M153.5 394.5h0M78.6 457.2h0M61.6 475.9h0M69.8 470.2h0M99.3 459.6h0M96.0 437.8h0M82.7 442.3h0M157.1 390.6h0M136.5 416.9h0M114.8 431.7h0M70.6 472.9h0M66.9 472.5h0M101.9 439.9h0M139.8 412.1h0M166.2 388.3h0M152.2 393.9h0M163.7 390.0h0M151.9 396.9h0M71.2 462.9h0M107.6 422.5h0M54.4 480.9h0M140.8 395.5h0M125.4 442.8h0M128.2 414.3h0M95.2 426.2h0M114.2 440.8h0M81.8 462.8h0M80.2 456.6h0M146.4 404.0h0M63.2 473.7h0M80.3 453.1h0M130.3 409.5h0M90.5 447.8h0M151.7 396.6h0M140.4 399.9h0M66.7 467.2h0M67.3 473.8h0M158.4 386.9h0M117.6 437.9h0M144.5 403.3h0M160.8 385.2h0M157.5 396.3h0M112.0 435.2h0M82.3 462.6h0M69.6 477.3h0M100.8 427.5h0M102.7 443.0h0M69.6 473.7h0M121.8 435.8h0M76.7 460.7h0M173.0 380.3h0M158.7 391.0h0M111.6 422.5h0M122.5 419.0h0M123.7 435.4h0M137.3 425.3h0M113.9 435.6h0M94.8 436.4h0M58.5 480.7h0M145.0 412.0h0M62.6 480.2h0M96.7 440.7h0M119.7 447.3h0M150.5 407.3h0M77.0 469.4h0M118.6 436.2h0M141.4 414.6h0M141.3 407.7h0M59.8 479.5h0M85.8 445.9h0M157.1 390.9h0M70.4 464.0h0M81.9 456.8h0M155.9 392.0h0M65.0 470.3h0M105.4 438.1h0M67.6 476.8h0M79.3 469.5h0M137.5 402.7h0M81.2 448.5h0M55.6 482.0h0M109.8 419.3h0M150.6 407.4h0M161.5 385.0h0M156.1 392.2h0M109.1 440.2h0M170.2 382.0h0M113.4 449.0h0M58.7 483.5h0M100.2 441.8h0M134.6 413.0h0M107.4 449.2h0M98.4 434.8h0M90.0 431.2h0M67.1 473.0h0M83.2 449.0h0M128.1 409.9h0M127.7 427.5h0M55.0 481.5h0M68.5 476.2h0M70.4 466.3h0M134.5 423.0h0M114.2 427.7h0M132.3 415.7h0M115.7 417.9h0M65.6 476.3h0M76.4 465.1h0M64.3 474.5h0M57.0 484.6h0M58.3 467.4h0M121.2 424.0h0M89.5 449.2h0M155.9 401.2h0M161.0 393.9h0M151.4 404.5h0M110.6 436.4h0M161.4 383.4h0M121.4 437.7h0M90.4 438.3h0M73.6 462.4h0M133.4 413.2h0M77.5 469.6h0M60.1 473.6h0M148.3 404.3h0M158.0 389.6h0M157.3 391.7h0M88.8 449.8h0M104.2 431.9h0M110.8 435.8h0M126.2 418.6h0M86.5 448.4h0M157.4 410.0h0M74.1 468.4h0M164.2 392.5h0M72.1 470.7h0M110.1 423.2h0M58.2 486.5h0M148.6 407.5h0M161.1 391.0h0M65.1 474.5h0M62.7 476.5h0M110.3 438.4h0M94.9 456.3h0M80.6 464.5h0M95.3 427.6h0M63.3 483.0h0M104.8 428.5h0M157.0 401.0h0M92.7 451.4h0M151.9 399.3h0M114.0 427.3h0M129.8 424.9h0M141.5 397.5h0M62.8 477.7h0M139.0 422.9h0M75.6 459.9h0M108.4 434.6h0M157.1 394.3h0M115.3 425.9h0M134.9 413.9h0M157.4 390.5h0M133.0 409.3h0M158.6 388.3h0M81.6 463.3h0M151.1 393.9h0M121.4 427.7h0M153.3 395.4h0M101.1 446.7h0M98.0 434.0h0M73.2 474.2h0M103.3 441.6h0M137.1 416.3h0M139.9 424.1h0M63.6 473.2h0M58.8 482.7h0M163.8 388.5h0M154.4 396.1h0M154.5 391.9h0M136.7 402.9h0M132.5 404.5h0M147.0 406.9h0M78.4 463.3h0M65.3 473.3h0M90.9 441.2h0M88.6 446.4h0M167.6 381.0h0M102.4 431.6h0M124.0 428.7h0M123.4 431.0h0M100.1 452.3h0M156.3 397.8h0M84.6 457.9h0M63.1 477.5h0M147.1 405.6h0M156.9 404.9h0M103.2 439.9h0M108.5 446.2h0M106.7 439.7h0M69.7 466.5h0M143.4 404.7h0M136.6 408.0h0M66.7 474.5h0M91.6 448.4h0M84.0 468.6h0M152.3 393.7h0M66.2 479.4h0M97.7 446.6h0M128.9 410.3h0M117.5 431.1h0M59.0 472.1h0M82.2 458.6h0M144.1 403.7h0M95.8 445.8h0M134.3 413.0h0M103.2 435.6h0M141.4 399.0h0M152.4 397.9h0M148.7 402.1h0M96.5 451.5h0M105.4 443.3h0M81.2 453.0h0M136.5 407.9h0M132.0 418.7h0M86.1 441.4h0M134.6 406.0h0M129.5 418.9h0M61.3 472.7h0M64.1 481.5h0M148.4 405.5h0M132.1 420.1h0M57.5 484.9h0M99.9 442.1h0M147.8 411.6h0M126.4 439.6h0M74.5 467.0h0M80.6 454.9h0M164.7 387.9h0M83.0 469.5h0M115.8 424.5h0M61.5 470.7h0M102.7 439.5h0M122.9 437.8h0M102.7 427.5h0M72.0 478.3h0M72.8 467.2h0M77.3 459.9h0M109.2 432.2h0M60.4 478.3h0M106.0 457.7h0M88.5 447.1h0M89.1 450.7h0M154.9 393.1h0M167.9 387.3h0M156.1 396.7h0M82.9 448.0h0M147.1 409.0h0M98.6 457.2h0M109.2 426.5h0M165.3 390.0h0M108.2 430.1h0M96.1 451.2h0M120.1 433.9h0M152.9 392.0h0M109.4 424.7h0M115.7 422.4h0M111.5 433.7h0M94.6 464.0h0M69.1 463.0h0M133.5 410.7h0M126.8 448.4h0M157.1 393.7h0M74.2 467.3h0M68.1 475.8h0M126.7 397.6h0M157.2 386.6h0M153.7 401.4h0M63.2 478.7h0M63.0 479.2h0M105.4 429.2h0M159.7 391.8h0M88.9 463.0h0M143.5 416.2h0M122.0 418.9h0M135.0 426.6h0M135.5 419.7h0M103.9 433.6h0M52.8 483.2h0M114.1 461.0h0M120.9 416.7h0M137.7 402.5h0M153.7 397.8h0M101.3 433.7h0M158.5 389.1h0M142.3 395.5h0M152.1 401.2h0M157.7 386.7h0M134.8 406.1h0M114.8 435.0h0M95.2 440.7h0M69.1 476.8h0M103.1 440.3h0M70.4 476.0h0M100.7 441.8h0M121.1 428.2h0M100.4 441.2h0M79.8 461.6h0M122.4 433.9h0M80.8 472.8h0M62.4 482.9h0M98.9 444.6h0M66.6 478.7h0M101.5 427.9h0M102.9 452.3h0M84.0 460.2h0M68.3 468.1h0M149.5 399.2h0M61.0 481.1h0M93.0 427.2h0M67.4 464.0h0M158.9 394.1h0M74.0 462.4h0M119.9 420.9h0M146.0 415.4h0M58.9 470.0h0M69.1 462.1h0M68.0 468.2h0M97.2 446.2h0M74.2 464.9h0M85.8 458.0h0M102.8 430.4h0M151.1 407.7h0M77.2 461.6h0M61.7 474.6h0M142.7 419.0h0M70.6 462.7h0M144.7 408.8h0M149.0 403.3h0M133.4 411.4h0M72.2 462.5h0M92.4 445.6h0M118.4 425.6h0M160.3 393.4h0M87.6 455.0h0M103.6 444.5h0M88.5 451.7h0M149.4 413.8h0M159.9 392.5h0M127.4 443.0h0M143.8 404.0h0M150.8 406.2h0M103.2 450.1h0M118.4 411.5h0M75.4 468.9h0M154.5 388.6h0M155.3 406.8h0M79.9 454.7h0M80.5 463.7h0M59.5 477.5h0M147.1 408.3h0M93.6 446.8h0M111.1 450.6h0M95.4 436.7h0M91.4 453.2h0M147.0 420.4h0M125.2 407.3h0M114.6 421.7h0M151.1 400.2h0M124.8 426.3h0M128.2 423.2h0M138.1 407.8h0M75.3 477.8h0M133.0 403.0h0M158.0 395.5h0M79.1 470.3h0M142.0 403.7h0M60.8 470.5h0M72.5 470.4h0M164.7 391.3h0M153.4 396.0h0M79.3 469.6h0M131.5 409.4h0M132.1 431.7h0M91.8 467.0h0M163.2 383.5h0M116.4 430.6h0M155.5 396.8h0M71.5 467.7h0M73.5 463.3h0M54.3 483.8h0M76.5 458.0h0M117.2 407.8h0M145.3 406.3h0M162.2 397.7h0M156.1 401.3h0M85.4 447.5h0M60.6 486.7h0M106.4 449.7h0M84.6 450.0h0M85.8 473.0h0M106.4 434.3h0M96.9 440.4h0M61.3 473.6h0M65.2 472.9h0M140.6 412.9h0M77.7 470.2h0M64.0 466.8h0M91.8 454.7h0M72.5 475.9h0M129.9 427.1h0M112.7 434.0h0M69.3 469.4h0M73.0 473.0h0M85.5 460.9h0M131.0 408.9h0M114.5 419.5h0M77.6 469.3h0M99.0 443.1h0M108.8 427.9h0M65.1 477.6h0M125.6 420.1h0M149.5 395.5h0M66.0 476.8h0M65.8 472.6h0M89.9 460.8h0M66.5 469.4h0M68.0 463.3h0M94.4 455.3h0M116.7 421.5h0M133.8 411.7h0M88.1 456.8h0M126.7 416.0h0M82.7 458.2h0M156.0 392.3h0M70.6 469.2h0M148.3 400.9h0M115.5 413.0h0M144.0 404.5h0M60.4 482.2h0M65.1 467.5h0M119.2 418.6h0M63.1 467.4h0M145.2 401.6h0M57.4 479.7h0M140.5 405.0h0M83.4 453.2h0M103.8 442.8h0M96.0 447.8h0M130.8 412.7h0M118.6 441.3h0M135.5 427.3h0M133.4 401.2h0M131.3 422.7h0M78.6 458.1h0M72.6 472.6h0M125.3 413.3h0M98.9 448.5h0M122.9 428.9h0M100.3 436.1h0M110.6 427.1h0M72.1 471.7h0M117.6 421.7h0M106.7 456.9h0M86.0 447.4h0M77.6 455.3h0M152.7 412.2h0M101.7 436.3h0M149.9 395.7h0M63.7 463.6h0M132.1 415.1h0M135.4 414.5h0M62.5 480.4h0M105.5 423.9h0M125.7 407.6h0M70.5 446.6h0M76.2 463.3h0M133.7 409.2h0M161.1 394.6h0M72.8 465.8h0M85.2 463.0h0M65.0 476.2h0M128.5 419.7h0M78.6 481.5h0M116.1 412.4h0M79.1 466.3h0M154.0 404.6h0M64.2 481.0h0M140.2 417.9h0M159.5 386.9h0M162.8 398.9h0M149.9 394.4h0M73.3 464.5h0M135.7 407.1h0M144.3 414.5h0M84.6 455.0h0M131.0 420.7h0M98.2 448.1h0M148.7 406.7h0M76.9 446.4h0M148.4 407.6h0M58.7 467.8h0M130.8 415.4h0M117.5 417.3h0M160.3 391.1h0M138.7 406.8h0M148.2 399.5h0M63.5 469.5h0M78.7 449.9h0M53.8 485.2h0M125.1 419.1h0M144.1 400.3h0M149.9 394.3h0M71.5 465.2h0M141.3 404.3h0M117.0 428.1h0M98.4 448.0h0M141.8 412.2h0M91.8 453.3h0M68.4 471.0h0M87.6 458.8h0M134.6 403.8h0M72.4 453.2h0M121.4 432.4h0M111.9 436.3h0M124.1 433.5h0M124.0 430.4h0M112.1 440.2h0M148.9 408.8h0M82.0 448.2h0M116.2 442.1h0M172.3 381.8h0M143.9 409.2h0M61.8 475.0h0M83.5 471.2h0M135.7 412.0h0M140.5 409.2h0M75.8 466.4h0M85.7 441.9h0M166.0 384.9h0M148.3 411.0h0M150.2 411.0h0M91.4 470.6h0M153.0 402.3h0M115.4 444.8h0M100.9 453.5h0M68.4 470.1h0M90.2 451.7h0M69.5 474.5h0M134.2 425.9h0M123.2 426.3h0M76.9 467.4h0M75.8 466.4h0M126.8 419.6h0M146.9 401.1h0M75.8 473.4h0M61.6 476.4h0M132.5 415.3h0M115.8 436.3h0M141.2 401.3h0M67.0 476.7h0M115.6 417.2h0M119.7 424.6h0M71.9 456.5h0M128.0 405.6h0M69.7 471.3h0M96.6 466.4h0M167.7 384.7h0M164.8 384.0h0M63.4 478.1h0M67.8 474.1h0M113.1 426.8h0M88.8 447.2h0M94.4 445.9h0M146.5 406.0h0M76.1 470.7h0M89.4 447.2h0M93.0 461.8h0M74.7 479.7h0M78.8 467.4h0M84.3 452.5h0M137.6 410.1h0M107.1 433.6h0M58.3 479.0h0M66.3 467.8h0M161.3 390.1h0M60.9 475.0h0M82.0 460.9h0M91.3 446.9h0M113.2 423.4h0M133.3 424.9h0M124.3 443.9h0M60.4 480.4h0M73.2 445.8h0M146.2 398.1h0M150.6 395.3h0M58.7 475.3h0M132.2 397.2h0M80.3 465.8h0M151.1 406.3h0M88.3 456.0h0M155.2 392.4h0M61.6 481.4h0M62.0 478.3h0M64.9 469.7h0M145.3 396.9h0M97.1 448.4h0M155.7 397.8h0M55.1 481.3h0M76.6 461.6h0M127.4 427.4h0M74.0 461.1h0M65.0 476.3h0M133.8 400.9h0M145.2 409.5h0M107.5 444.9h0M157.1 396.0h0M149.9 402.5h0M66.8 471.3h0M88.4 454.3h0M103.8 446.5h0M132.9 408.8h0M96.0 460.9h0M94.0 441.7h0M108.5 436.7h0M127.3 420.8h0M113.8 430.9h0M145.7 388.3h0M143.1 408.5h0M106.0 449.4h0M148.9 396.1h0M174.2 385.5h0M159.2 408.1h0M125.0 419.7h0M152.8 391.6h0M129.1 434.8h0M64.6 473.8h0M153.2 396.9h0M160.8 386.7h0M61.7 479.1h0M119.1 442.4h0M105.8 432.2h0M99.6 423.8h0M106.8 441.2h0M121.9 422.4h0M132.3 418.8h0M109.9 435.6h0M66.3 479.1h0M162.3 386.8h0M63.6 473.0h0M98.0 441.8h0M62.3 474.1h0M58.2 477.5h0M131.4 423.2h0M112.9 438.8h0M87.0 451.2h0M55.7 479.8h0M70.9 475.7h0M103.3 450.3h0M136.4 417.7h0M131.7 416.9h0M153.9 398.7h0M82.6 465.7h0M98.7 459.7h0M81.5 459.1h0M156.7 389.9h0M111.5 433.6h0M103.8 430.3h0M114.4 438.7h0M160.9 391.3h0M65.3 478.6h0M126.4 409.4h0M96.9 462.4h0M53.0 484.2h0M108.2 436.7h0M59.6 478.6h0M140.7 405.6h0M142.6 402.2h0M88.2 467.3h0M103.9 440.2h0M76.6 469.7h0M124.6 443.1h0M140.3 414.3h0M121.7 416.8h0M120.9 418.0h0M130.9 417.1h0M133.6 423.5h0M123.5 412.7h0M133.4 417.0h0M75.2 453.5h0M85.9 457.9h0M161.1 388.8h0M83.3 454.5h0M119.8 428.2h0M136.1 412.5h0M58.7 481.6h0M64.5 477.0h0M64.5 462.9h0M105.3 435.3h0M81.8 463.9h0M75.3 462.5h0M130.4 418.9h0M100.1 436.0h0M153.3 392.3h0M62.9 480.8h0M147.5 389.4h0M72.4 470.8h0M122.3 435.3h0M159.1 388.7h0M69.4 467.8h0M160.8 390.8h0M120.0 432.8h0M64.3 480.7h0M156.3 392.2h0M135.1 421.2h0M77.7 460.5h0M80.5 455.8h0M136.8 408.1h0M154.3 399.3h0M76.6 461.9h0M142.7 418.7h0M135.9 410.1h0M73.8 462.4h0M59.2 478.7h0M139.6 410.4h0M59.8 480.6h0M113.6 441.2h0M130.9 431.5h0M100.4 417.3h0M67.1 470.7h0M76.6 480.7h0M116.6 438.6h0M125.2 426.5h0M150.8 393.2h0M117.7 431.1h0M56.0 482.1h0M88.3 446.2h0M54.4 480.7h0M123.4 435.6h0M145.8 404.2h0M151.1 403.4h0M129.8 419.2h0M59.5 473.3h0M173.8 377.6h0M165.8 391.4h0M91.3 457.6h0M158.9 399.2h0M58.7 486.2h0M144.3 409.7h0M68.2 475.6h0M140.1 405.9h0M80.0 445.3h0M154.4 392.3h0M143.9 411.8h0M75.1 468.0h0M69.5 470.8h0M100.0 439.3h0M162.5 390.0h0M124.8 414.4h0M152.1 399.0h0M128.4 408.3h0M130.9 410.3h0M145.4 399.3h0M102.6 434.8h0M106.3 443.1h0M115.7 417.7h0M68.2 460.7h0M154.4 392.4h0M172.7 384.3h0M60.6 482.5h0M111.3 433.2h0M145.9 395.3h0M118.2 426.0h0M75.9 465.0h0M134.7 411.5h0M103.4 448.1h0M55.7 482.7h0M118.9 435.3h0M90.3 470.3h0M70.9 475.2h0M60.1 475.7h0M70.1 470.2h0M161.5 389.9h0M153.8 397.3h0M56.0 474.3h0M67.2 474.9h0M92.2 438.9h0M61.1 479.1h0M131.2 403.5h0M83.0 469.8h0M135.6 396.1h0M144.5 400.3h0M108.9 457.6h0M92.6 451.1h0M141.2 403.8h0M75.1 459.7h0M140.4 407.5h0M120.1 419.5h0M93.8 458.3h0M140.7 397.7h0M65.6 473.3h0M58.2 481.7h0M109.3 423.7h0M146.6 405.7h0M86.9 441.0h0M138.8 400.6h0M152.0 391.7h0M72.5 471.3h0M77.9 461.4h0M105.4 444.1h0M137.9 429.2h0M91.9 465.2h0M131.0 420.2h0M71.7 463.1h0M72.9 467.0h0M82.6 465.2h0M139.3 405.1h0M68.5 466.2h0M137.1 413.0h0M142.0 403.3h0M62.6 472.0h0M137.6 413.1h0M164.2 386.5h0M145.0 420.7h0M117.8 443.8h0M147.5 400.4h0M96.8 433.2h0M62.3 472.5h0M78.6 464.0h0M84.1 446.6h0M69.3 478.8h0M153.3 395.4h0M162.5 384.9h0M151.3 389.3h0M71.1 469.0h0M93.2 439.2h0M61.9 470.2h0M155.4 400.3h0M121.5 418.9h0M113.3 433.6h0M65.1 476.1h0M70.3 457.3h0M116.1 426.5h0M151.3 401.1h0M124.2 439.4h0M70.5 474.8h0M85.2 456.7h0M70.8 479.4h0M153.9 392.4h0M148.3 399.2h0M102.7 443.8h0M78.9 469.5h0M100.1 449.2h0M53.1 481.5h0M63.1 474.0h0M136.5 411.1h0M71.7 475.1h0M114.4 430.0h0M136.1 406.6h0M70.9 478.5h0M63.8 471.8h0M80.1 469.2h0M94.0 452.0h0M60.7 484.9h0M69.3 473.7h0M144.5 410.8h0M114.9 423.1h0M171.6 383.3h0M107.3 448.7h0M113.2 433.5h0M70.6 477.0h0M76.1 469.0h0M156.0 396.6h0M167.0 385.4h0M162.1 385.2h0M137.5 395.6h0M93.0 451.6h0M93.1 460.6h0M81.5 459.5h0M132.1 407.2h0M53.5 484.6h0M149.5 406.0h0M67.8 473.0h0M79.6 458.5h0M136.1 411.3h0M71.4 464.4h0M112.6 416.0h0M121.2 424.1h0M60.9 484.5h0M150.6 392.9h0M127.4 419.2h0M124.9 415.1h0M111.7 433.9h0M77.4 453.7h0M114.4 426.4h0M168.0 385.1h0M144.1 395.4h0M86.9 465.7h0M125.7 431.3h0M154.5 404.1h0M70.0 461.4h0M96.2 458.1h0M125.5 409.3h0M63.8 479.7h0M56.0 479.1h0M134.4 421.6h0M167.7 386.8h0M75.9 464.3h0M124.7 417.4h0M136.7 414.6h0M66.3 475.6h0M146.4 396.8h0M73.9 477.5h0M68.1 476.0h0M81.9 457.2h0M157.6 396.3h0M60.7 471.1h0M117.7 441.1h0M66.3 478.1h0M63.5 478.7h0M149.0 386.1h0M57.6 475.6h0M134.8 416.3h0M163.0 385.5h0M66.0 467.9h0M87.2 453.4h0M82.3 460.6h0M110.5 448.7h0M159.6 394.2h0M118.5 432.2h0M140.5 404.5h0M132.9 423.7h0M56.2 471.9h0M141.5 407.3h0M84.3 447.2h0M67.7 468.8h0M132.2 406.3h0M64.7 479.7h0M140.4 402.7h0M57.4 472.9h0M131.7 428.8h0M170.3 380.5h0M63.8 470.5h0M57.5 477.9h0M70.8 476.7h0M117.2 428.5h0M116.0 427.2h0M147.9 397.8h0M62.8 471.1h0M145.1 391.6h0M70.5 478.2h0M126.4 424.5h0M107.8 428.2h0M92.8 440.9h0M128.9 406.6h0M145.0 399.9h0M64.0 477.8h0M73.9 474.4h0M72.2 463.1h0M69.9 476.1h0M156.3 394.7h0M144.9 400.5h0M59.2 478.6h0M158.4 390.6h0M55.0 476.4h0M72.3 471.6h0M82.9 456.1h0M96.2 457.0h0M135.7 397.9h0M67.3 468.6h0M84.2 457.7h0M140.9 402.5h0M54.7 479.1h0M152.9 399.3h0M75.1 464.3h0" stroke="#c3c3c3" stroke-width="1.0" stroke-linecap="round"/>
<path d="M203.5 351.0h0M186.5 369.5h0M199.3 355.9h0M184.1 369.1h0M189.1 366.6h0M194.4 358.8h0M200.8 353.8h0M46.4 491.6h0M47.8 492.3h0M171.9 387.2h0M172.0 378.1h0M179.6 370.0h0M188.9 359.6h0M192.5 360.9h0M45.6 492.9h0M178.0 377.9h0M171.0 385.1h0M58.0 471.8h0M56.6 483.4h0M192.6 358.4h0M44.8 494.4h0M56.9 480.3h0M197.0 357.7h0M158.4 391.5h0M202.0 356.2h0M186.1 363.8h0M180.3 371.2h0M158.9 388.0h0M45.1 494.2h0M196.7 356.5h0M188.6 362.7h0M198.4 356.4h0M184.1 369.1h0M58.5 479.5h0M172.0 384.5h0M197.3 358.9h0M43.8 494.4h0M49.9 489.8h0M188.0 367.0h0M51.2 487.1h0M59.3 477.4h0M43.3 493.8h0M46.9 489.9h0M193.5 360.2h0M199.7 353.9h0M195.1 359.5h0M191.4 359.6h0M192.6 362.1h0M176.2 378.7h0M203.8 351.3h0M196.0 357.6h0M170.8 376.2h0M51.0 487.0h0M201.9 354.3h0M58.2 480.8h0M47.8 486.0h0M199.3 357.7h0M192.1 362.5h0M55.6 482.8h0M174.3 376.2h0M55.6 485.6h0M182.5 367.1h0M180.3 377.2h0M181.1 366.4h0M166.2 383.9h0M203.2 353.4h0M55.3 481.8h0M190.5 363.2h0M57.7 483.0h0M177.5 374.8h0M200.1 352.8h0M55.5 486.4h0M56.6 481.9h0M202.0 353.6h0M193.4 358.7h0M49.8 489.5h0M178.6 375.6h0M46.0 493.8h0M51.4 486.0h0M193.8 358.0h0M198.6 356.2h0M202.1 352.8h0M163.4 389.3h0M185.1 366.7h0M47.2 490.9h0M190.9 360.3h0M193.5 362.1h0M195.9 355.4h0M54.3 487.6h0M60.4 481.7h0M189.1 361.3h0M189.4 366.2h0M188.7 363.5h0M192.1 360.3h0M198.9 352.6h0M193.2 358.5h0M175.2 376.4h0M201.4 353.8h0M192.7 358.1h0M197.6 356.3h0M176.4 374.1h0M181.5 373.7h0M43.1 494.3h0M44.0 493.2h0M204.0 351.0h0M199.6 353.5h0M179.5 372.9h0M184.2 366.3h0M203.4 354.6h0M182.1 373.0h0M45.4 492.9h0M187.7 365.3h0M54.4 484.1h0M177.6 374.8h0M199.7 354.9h0M199.5 358.3h0M65.0 481.2h0M52.7 483.4h0M173.8 377.3h0M193.1 358.2h0M199.9 350.8h0M201.0 353.8h0M58.7 480.9h0M180.9 369.3h0M199.5 352.2h0M191.1 367.0h0M187.7 361.0h0M189.9 366.9h0M203.1 350.5h0M169.2 377.3h0M155.5 393.2h0M188.9 364.1h0M48.0 491.7h0M56.0 481.6h0M48.0 492.4h0M193.6 358.8h0M180.6 370.8h0M171.3 376.4h0M49.0 490.7h0M165.9 380.4h0M192.9 360.4h0M203.7 352.5h0M189.7 361.9h0M50.9 481.1h0M172.5 375.7h0M194.3 358.7h0M43.1 494.3h0M52.4 484.9h0M186.3 363.2h0M204.1 350.8h0M196.2 356.6h0M200.4 353.1h0M173.0 377.7h0M195.5 362.0h0M54.9 482.7h0M195.0 359.4h0M196.9 356.2h0M189.1 362.0h0M200.8 356.3h0M179.0 372.1h0M194.0 360.9h0M200.1 355.3h0M49.4 491.9h0M202.5 353.1h0M160.7 388.9h0M204.3 351.1h0M167.8 382.3h0M46.6 490.4h0M175.8 380.3h0M53.7 489.6h0M194.0 357.4h0M45.2 494.2h0M200.3 352.4h0M45.2 493.1h0M199.0 355.4h0M176.9 373.6h0M163.0 385.6h0M173.1 375.3h0M171.2 379.9h0M173.4 377.1h0M159.0 390.1h0M195.7 357.6h0M202.2 352.3h0M194.1 358.1h0M187.7 363.3h0M181.1 367.6h0M49.6 491.3h0M180.8 369.8h0M44.5 492.6h0M187.9 364.7h0M193.5 361.4h0M155.8 387.8h0M48.0 487.1h0M193.4 359.6h0M54.0 482.2h0M197.6 356.6h0M53.4 486.7h0M195.5 360.9h0M177.4 373.6h0M46.8 491.5h0M191.2 365.3h0M47.4 487.3h0M45.1 493.2h0M202.4 354.2h0M195.1 360.3h0M64.0 485.1h0M171.3 380.6h0M196.4 357.0h0M43.9 494.1h0M45.6 492.7h0M171.4 383.2h0M190.9 366.4h0M168.1 374.7h0M173.1 380.8h0M46.1 490.5h0M44.2 492.5h0M187.0 367.2h0M179.3 368.8h0M197.0 355.6h0M192.5 361.3h0M171.0 379.2h0M45.9 492.5h0M176.2 374.7h0M194.9 359.8h0M58.9 474.9h0M53.7 486.2h0M44.3 492.0h0M44.2 494.3h0M203.3 352.7h0M203.6 352.0h0M171.5 376.2h0M200.6 352.3h0M194.1 358.4h0M43.1 491.8h0M198.4 355.4h0M196.0 358.9h0M55.3 478.7h0M185.2 371.6h0M167.6 383.6h0M202.6 352.2h0M189.9 360.0h0M48.3 488.8h0M196.9 360.4h0M48.0 491.5h0M180.1 371.8h0M158.8 389.8h0M204.1 352.9h0M185.1 364.7h0M52.2 488.9h0M50.3 485.5h0M166.0 382.9h0M48.4 489.8h0M44.1 493.1h0M53.4 483.4h0M45.0 492.2h0M173.6 378.3h0M170.2 386.5h0M179.0 373.8h0M189.4 362.1h0M44.5 493.5h0M189.5 360.9h0M53.1 486.1h0M170.7 383.8h0M174.6 379.5h0M203.6 351.1h0M184.6 371.7h0M174.9 373.4h0M178.4 369.6h0M196.7 358.7h0M55.4 489.0h0M156.4 395.4h0M44.5 493.2h0M198.9 355.6h0M181.9 370.1h0M183.4 366.3h0M52.0 485.5h0M195.4 360.2h0M66.5 483.7h0M197.2 358.1h0M180.9 370.3h0M196.6 358.0h0M179.4 372.0h0M188.4 365.3h0M178.7 374.6h0M60.3 474.5h0M190.2 365.2h0M59.7 483.3h0M185.1 369.9h0M196.8 357.4h0M47.4 490.2h0M51.1 484.2h0M201.0 356.9h0M197.5 355.9h0M201.4 352.9h0M55.7 484.2h0M50.2 488.5h0M187.4 366.0h0M189.6 362.7h0M184.3 371.5h0M196.8 358.9h0M178.1 371.5h0M182.8 366.5h0M196.2 357.4h0M182.2 366.7h0M196.9 356.4h0M166.0 391.6h0M51.0 482.8h0M49.7 488.9h0M194.2 359.7h0M200.8 356.3h0M54.8 486.1h0M46.7 490.0h0M52.1 484.5h0M52.4 486.7h0M198.5 355.6h0M179.5 376.5h0M49.9 488.9h0M185.0 371.6h0M192.5 366.4h0M192.7 364.4h0M187.7 366.0h0M66.4 475.4h0M202.0 353.6h0M176.8 370.6h0M46.0 491.9h0M49.1 490.9h0M173.1 379.9h0M204.0 353.3h0M46.9 488.1h0M190.2 363.2h0M49.9 488.5h0M189.9 362.2h0M43.9 490.2h0M192.4 360.8h0M52.3 480.9h0M46.3 491.6h0M177.2 374.2h0M46.5 491.7h0M48.6 489.3h0M166.5 382.4h0M165.5 389.5h0M202.3 351.8h0M50.1 487.7h0M198.3 354.0h0M59.4 486.3h0M55.6 485.3h0M185.1 373.4h0M202.9 352.2h0M192.6 359.8h0M45.5 493.8h0M195.1 360.5h0M171.9 382.4h0M52.2 477.9h0M180.7 372.2h0M49.5 481.3h0M185.0 369.0h0M175.5 382.0h0M159.2 386.6h0M198.2 357.0h0M189.1 364.3h0M174.2 374.3h0M54.1 480.3h0M43.5 493.0h0M157.8 383.4h0M193.0 359.5h0M198.7 355.4h0M196.4 356.4h0M52.4 487.7h0M200.7 354.8h0M203.1 355.1h0M166.9 385.7h0M51.4 487.4h0M178.2 372.2h0M170.8 380.5h0M47.6 486.8h0M203.8 352.7h0M194.5 358.3h0M195.1 360.1h0M50.5 487.0h0M165.3 388.9h0M46.8 488.7h0M174.2 382.8h0M55.0 487.7h0M46.4 489.9h0M177.5 380.1h0M159.6 389.3h0M45.5 491.0h0M46.0 489.9h0M179.7 370.4h0M192.7 359.6h0M53.7 485.9h0M196.3 357.6h0M202.6 352.0h0M175.5 378.7h0M195.3 357.5h0M191.9 358.8h0M49.8 486.7h0M202.4 352.4h0M50.1 488.8h0M57.5 479.1h0M196.8 359.1h0M54.4 486.9h0M48.5 490.1h0M48.3 485.8h0M184.7 367.9h0M45.7 493.8h0M58.9 486.6h0M172.5 375.7h0M53.9 487.1h0M202.3 351.4h0M183.7 365.1h0M181.8 373.2h0M166.7 388.4h0M158.5 390.6h0M195.2 357.7h0M203.1 354.3h0M154.0 390.5h0M171.9 383.8h0M198.3 357.4h0M179.1 379.7h0M187.3 363.4h0M51.4 487.0h0M198.4 355.1h0M195.4 360.5h0M48.9 492.8h0M189.1 365.8h0M200.1 353.8h0M198.6 353.9h0M194.4 359.7h0M183.5 367.4h0M46.6 490.6h0M48.8 488.0h0M44.8 492.2h0M195.5 358.1h0M192.5 361.4h0M45.3 493.8h0M185.9 362.3h0M56.5 486.3h0M202.0 352.3h0M61.9 478.8h0M183.0 369.1h0M170.8 386.1h0M56.3 488.9h0M198.4 355.5h0M55.9 481.2h0M50.8 483.2h0M193.6 361.4h0M201.6 354.2h0M174.7 385.0h0M45.6 492.2h0M187.2 362.4h0M170.8 377.8h0M59.2 486.9h0M190.5 363.2h0M204.3 352.2h0M168.0 380.7h0M172.5 375.6h0M199.9 351.7h0M44.2 492.5h0M195.6 361.4h0M168.9 381.1h0M48.9 485.5h0M185.3 363.6h0M49.6 483.7h0M201.4 355.6h0M191.4 361.4h0M193.2 365.2h0M44.5 493.6h0M175.5 376.9h0M181.6 373.1h0M178.7 371.2h0M203.8 353.1h0M170.0 380.8h0M43.8 492.1h0M57.6 478.0h0M181.6 372.1h0M178.1 371.0h0M49.3 486.7h0M45.5 488.9h0M193.6 360.7h0M47.8 491.8h0M173.7 377.0h0M165.7 383.7h0M44.3 493.7h0M199.8 353.4h0M171.2 376.6h0M198.9 353.6h0M173.8 373.8h0M53.5 483.1h0M176.6 375.1h0M165.4 382.8h0M199.0 354.9h0M192.0 364.5h0M162.1 385.2h0M197.4 357.2h0M44.4 491.9h0M199.4 354.0h0M191.7 363.0h0M190.3 362.4h0M203.4 355.5h0M49.3 488.8h0M194.8 363.7h0M196.3 357.0h0M161.2 385.3h0M194.7 361.4h0M201.7 351.1h0M48.6 489.4h0M47.0 493.9h0M55.9 485.6h0M49.2 485.8h0M177.5 370.7h0M189.9 362.7h0M50.3 487.6h0M202.1 351.3h0M190.6 360.9h0M173.9 376.0h0M189.7 363.5h0M43.5 494.3h0M167.9 381.6h0M193.7 360.1h0M197.2 357.5h0M202.1 353.4h0M196.7 359.9h0M203.1 351.2h0M163.7 386.2h0M53.6 485.4h0M58.4 485.9h0M49.2 490.1h0M204.3 351.6h0M192.8 364.1h0M201.5 352.5h0M201.2 354.2h0M185.2 371.0h0M200.4 353.3h0M194.9 358.3h0M173.3 374.7h0M48.4 490.5h0M51.2 486.9h0M195.8 359.9h0M190.3 360.9h0M198.4 354.7h0M168.9 375.0h0M46.7 489.0h0M199.2 357.3h0M202.2 354.8h0M158.7 388.0h0M202.6 353.3h0M163.6 385.0h0M195.2 361.6h0M185.6 363.6h0M185.6 366.0h0M190.9 361.1h0M45.8 490.9h0M193.5 359.3h0M194.9 358.3h0M195.7 356.5h0M65.2 475.8h0M173.2 374.5h0M192.0 362.1h0M56.2 471.6h0M179.2 370.5h0M45.1 492.8h0M43.5 494.2h0M175.9 371.8h0M57.7 482.1h0M193.5 364.0h0M161.9 384.4h0M167.5 380.4h0M45.3 491.0h0M45.4 492.2h0M201.7 352.7h0M201.6 355.7h0M159.5 389.9h0M164.2 386.7h0M168.9 378.1h0M196.0 359.2h0M46.9 489.6h0M173.9 382.4h0M192.2 361.5h0M45.0 492.6h0M172.7 378.3h0M62.1 481.0h0M181.1 367.5h0M50.0 485.5h0M170.6 379.9h0M187.3 369.3h0M170.6 382.6h0M163.7 382.9h0M43.7 493.1h0M194.9 360.0h0M167.2 382.0h0M46.6 490.5h0M43.1 493.8h0M168.0 382.8h0M45.4 492.2h0M183.0 370.7h0M204.3 351.2h0M43.6 493.3h0M57.4 482.4h0M46.1 491.6h0M43.5 493.9h0M62.9 482.4h0M194.7 362.4h0M183.2 371.3h0M202.9 354.1h0M169.0 382.2h0M203.1 351.1h0M53.0 483.8h0M187.4 363.3h0M166.1 386.6h0M47.5 489.7h0M43.1 493.5h0M45.1 492.2h0M185.9 368.5h0M43.1 493.3h0M186.1 367.1h0M46.9 491.8h0M45.4 493.4h0M177.6 375.0h0M44.9 492.6h0M184.7 368.7h0M196.0 361.1h0M184.3 372.5h0M203.2 353.1h0M53.4 486.8h0M184.2 367.0h0M179.4 370.5h0M202.8 350.6h0M179.9 374.5h0M197.2 355.3h0M199.6 353.3h0M54.3 476.0h0M174.9 375.3h0M203.1 354.5h0M198.2 355.7h0M196.8 354.7h0M43.7 491.5h0M177.5 378.9h0M50.7 485.8h0M158.6 389.6h0M176.6 376.3h0M200.4 354.5h0M54.2 482.1h0M184.2 369.1h0M186.7 364.7h0M203.6 352.9h0M49.0 489.9h0M56.8 480.8h0M45.3 490.3h0M199.6 355.1h0M176.5 372.9h0M47.7 489.6h0M179.7 371.2h0M196.9 358.2h0M204.2 352.4h0M191.6 362.6h0M46.6 493.0h0M47.7 489.1h0M198.2 357.9h0M49.9 485.4h0M191.3 363.7h0M47.9 488.6h0M196.6 356.3h0M178.3 372.0h0M189.3 366.5h0M200.6 353.9h0M179.7 373.1h0M174.8 379.0h0M189.8 365.5h0M51.4 487.2h0M46.3 493.3h0M192.3 360.3h0M51.9 485.5h0M49.8 488.2h0M192.9 361.7h0M202.9 350.9h0M184.7 366.9h0M198.5 354.5h0M44.8 491.3h0M45.1 491.7h0M204.1 350.7h0M192.6 360.7h0M55.7 483.1h0M46.0 492.5h0M183.0 367.5h0M181.0 369.8h0M190.6 362.0h0M196.7 354.9h0M185.1 369.9h0M198.5 356.2h0M50.3 484.0h0M199.1 354.7h0M198.6 357.7h0M189.8 364.7h0M202.4 351.3h0M192.3 363.1h0M195.8 356.9h0M59.1 485.5h0M200.1 352.0h0M199.5 354.3h0M175.4 376.7h0M183.0 374.1h0M180.8 370.5h0M190.2 359.4h0M186.2 369.4h0M200.4 354.6h0M192.4 364.5h0M194.3 360.7h0M59.2 476.5h0M200.5 354.2h0M50.2 489.8h0M186.2 365.2h0M167.2 382.9h0M50.9 488.5h0M191.9 364.2h0M43.7 491.6h0M44.7 493.1h0M187.5 365.3h0M55.8 484.0h0M44.7 491.8h0M181.2 370.9h0M201.9 354.2h0M168.5 378.2h0M50.5 489.7h0M53.6 483.9h0M55.9 484.2h0M50.8 487.3h0M57.2 483.0h0M196.1 359.9h0M164.2 391.1h0M181.7 372.7h0M191.1 364.9h0M47.5 489.9h0M43.7 493.2h0M201.3 352.9h0M186.3 368.9h0M172.1 380.0h0M58.6 476.3h0M201.8 352.4h0M49.2 487.6h0M161.9 385.3h0M196.7 354.8h0M196.4 355.7h0M50.6 484.3h0M171.6 377.2h0M47.9 487.6h0M163.9 392.9h0M50.0 491.9h0M198.8 354.4h0M163.5 391.2h0M180.7 371.6h0M195.2 358.5h0M192.8 359.8h0M186.3 367.0h0M190.8 362.1h0M201.4 354.0h0M43.3 494.2h0M199.6 354.8h0M184.6 367.0h0M179.0 375.2h0M164.5 391.6h0M172.7 378.2h0M51.6 486.7h0M50.8 490.9h0M182.9 368.5h0M169.4 382.3h0M167.3 384.3h0M198.2 355.1h0M187.3 361.5h0M198.4 355.7h0M189.5 363.9h0M48.2 492.7h0M171.7 376.0h0M43.4 493.3h0M201.4 355.8h0M188.6 365.8h0M189.7 364.3h0M203.5 351.8h0M47.2 492.6h0M48.4 492.1h0M186.7 362.1h0M170.3 376.4h0M50.0 487.0h0M59.6 473.6h0M58.1 477.4h0M59.7 482.0h0M174.7 376.9h0M183.6 368.6h0M48.3 488.7h0M61.2 474.0h0M177.7 371.8h0M184.6 373.3h0M170.2 381.0h0M48.7 489.7h0M189.1 363.8h0M162.2 387.6h0M203.6 351.3h0M179.2 372.9h0M50.2 488.9h0M171.2 380.8h0M192.5 358.2h0M48.4 490.4h0M174.9 378.7h0M204.2 350.7h0M46.4 492.7h0M202.1 350.7h0M47.3 488.1h0M162.2 389.3h0M48.5 489.8h0M198.3 354.7h0M50.2 490.3h0M45.1 494.2h0M176.3 377.6h0M184.5 364.3h0M43.5 492.6h0M189.7 364.7h0M164.4 382.5h0M183.8 369.4h0M195.6 356.8h0M196.0 362.2h0M48.9 489.6h0M199.6 356.1h0M198.3 355.7h0M195.4 360.3h0M195.0 358.6h0M62.9 470.9h0M184.2 369.9h0M199.0 356.5h0M184.7 367.7h0M53.5 480.4h0M166.5 388.2h0M200.3 353.3h0M60.2 487.4h0M180.9 370.5h0M175.8 377.7h0M185.8 368.3h0M192.3 361.7h0M202.3 353.0h0M189.8 362.6h0M189.2 364.3h0M180.6 371.3h0M195.9 360.1h0M49.7 487.3h0M197.6 357.0h0M189.4 366.6h0M192.6 363.9h0M49.1 489.2h0M186.4 369.4h0M180.6 369.2h0M47.1 490.3h0M200.2 355.4h0M50.4 488.0h0M184.3 371.4h0M190.6 359.1h0M50.0 490.3h0M180.6 368.7h0M45.1 492.5h0M64.4 480.9h0M49.9 489.1h0M189.5 367.3h0M178.8 371.6h0M50.1 489.7h0M43.9 493.3h0M204.0 350.5h0M191.0 361.6h0M46.7 493.4h0M179.3 370.7h0M194.3 358.9h0M202.4 352.9h0M194.2 361.7h0M56.9 484.6h0M188.9 362.0h0M50.4 482.1h0M45.4 491.9h0M166.6 385.4h0M174.9 376.8h0M61.4 481.9h0M45.7 491.3h0M48.6 488.0h0M201.0 355.9h0M52.0 486.6h0M56.9 482.2h0M199.5 352.0h0M180.5 370.8h0M201.1 352.9h0M201.4 352.8h0M44.1 492.7h0M56.1 477.5h0M174.1 375.0h0M191.8 365.0h0M192.6 361.6h0M54.5 478.2h0M197.7 358.4h0M48.5 493.7h0M203.6 351.6h0M199.5 355.5h0M47.7 487.0h0M191.9 361.3h0M192.9 358.0h0M51.6 485.0h0M202.2 352.8h0M202.4 350.5h0M192.1 361.5h0M47.0 493.8h0M64.0 479.0h0M64.6 477.8h0M45.5 492.4h0M188.9 362.9h0M56.8 479.0h0M175.0 378.2h0M192.8 362.3h0M181.7 372.5h0M169.8 383.9h0M188.8 363.1h0M178.9 374.8h0M195.4 357.5h0M164.9 391.9h0M46.0 492.1h0M192.7 360.5h0M47.0 493.3h0M59.0 476.1h0M195.9 356.5h0M52.3 485.9h0M197.8 358.3h0M45.3 491.5h0M188.4 364.9h0M43.2 492.0h0M194.2 359.2h0M197.3 357.5h0M192.1 362.9h0M45.3 492.3h0M201.1 351.6h0M200.8 354.2h0M168.5 385.4h0M197.0 355.5h0M47.9 491.9h0M53.6 479.8h0M196.0 358.8h0M181.9 374.8h0M44.2 494.3h0M61.3 483.1h0M57.0 483.4h0M181.9 372.7h0M196.9 356.6h0M195.3 359.5h0M182.9 367.6h0M197.2 355.3h0M201.8 353.2h0M189.3 362.8h0M179.7 367.9h0M203.9 351.4h0M197.2 358.4h0M192.0 361.6h0M188.8 364.7h0M200.6 351.6h0M45.2 494.4h0M54.0 481.5h0M180.0 371.6h0M53.2 480.8h0M178.3 374.2h0M200.2 354.5h0M50.5 488.5h0M189.3 363.8h0M194.5 358.9h0M196.5 356.3h0M201.9 352.6h0M199.7 355.8h0M46.3 490.9h0M170.2 375.3h0M43.6 492.3h0M201.1 350.7h0M193.8 359.7h0M57.2 480.4h0M193.8 361.8h0M194.8 361.5h0M184.8 367.6h0M54.8 484.4h0M181.4 370.9h0M178.2 378.8h0M47.8 488.6h0M48.0 492.0h0M183.6 372.3h0M48.7 490.0h0M49.0 488.5h0M164.6 386.9h0M161.7 391.5h0M190.0 363.6h0M197.6 359.0h0M48.9 491.9h0M175.4 380.2h0M194.0 360.5h0M44.2 494.0h0M187.7 366.3h0M56.2 482.0h0M166.9 382.8h0M45.2 492.7h0M194.6 358.8h0M188.5 361.5h0M46.0 493.2h0M50.5 487.3h0M177.5 377.0h0M204.2 351.7h0M203.4 350.7h0M204.1 352.1h0M55.4 480.8h0M194.4 358.7h0M57.8 482.6h0M51.9 488.6h0M52.7 484.2h0M177.9 370.4h0M184.6 366.0h0M203.7 350.7h0M193.0 360.8h0M58.1 479.0h0M200.3 356.0h0M47.6 490.7h0M198.3 353.4h0M172.2 385.1h0M204.3 351.6h0M166.1 384.1h0M159.4 393.8h0M46.0 490.5h0M178.3 373.1h0M44.8 491.0h0M204.2 350.8h0M171.1 382.8h0M193.0 361.2h0M202.4 352.4h0M200.2 354.1h0M44.1 494.1h0M194.5 359.7h0M63.0 480.3h0M177.5 376.3h0M53.3 485.9h0M53.0 484.6h0M178.5 375.5h0M48.0 490.1h0M195.8 357.0h0M193.2 359.4h0M198.7 354.1h0M60.5 482.3h0M159.5 399.0h0M49.9 485.7h0M48.5 486.1h0M175.8 379.5h0M197.2 356.1h0M194.7 357.0h0M173.4 378.2h0M198.0 358.2h0M178.0 370.4h0M47.0 491.1h0M46.9 492.4h0M194.2 357.8h0M51.5 487.3h0M49.9 490.0h0M198.8 356.0h0M186.5 370.1h0M59.2 478.8h0M193.3 359.2h0M46.4 489.7h0M181.9 369.7h0M48.3 492.8h0M45.9 492.5h0M194.6 359.7h0M186.2 365.0h0M44.5 494.2h0M44.6 492.0h0M200.8 355.2h0M188.1 363.7h0M192.2 364.8h0M50.5 487.1h0M189.6 364.3h0M170.3 381.3h0M196.2 356.8h0M199.6 355.3h0M47.6 492.8h0M46.1 493.0h0M191.0 362.0h0M203.0 350.9h0M48.9 489.5h0M202.1 352.3h0M179.7 373.0h0M169.3 383.0h0M193.9 357.9h0M194.1 358.8h0M62.5 481.5h0M192.1 360.9h0M192.5 359.7h0M53.4 487.3h0M200.9 352.0h0M179.9 372.0h0M171.9 378.1h0M178.5 373.4h0M195.7 357.9h0M57.8 482.3h0M163.0 386.9h0M198.0 356.5h0M172.5 378.4h0M52.8 486.0h0M198.4 355.5h0M57.3 485.2h0M46.3 491.9h0M175.6 377.0h0M193.6 356.9h0M178.2 378.0h0M47.6 490.4h0M200.4 353.3h0M189.7 365.5h0M191.2 363.7h0M48.5 491.6h0M160.9 390.7h0M49.2 486.1h0M196.2 356.9h0M184.6 366.9h0M49.1 487.2h0M51.0 488.5h0M204.2 351.2h0M46.9 493.6h0M198.4 357.4h0M198.8 355.2h0M162.8 392.4h0M50.3 484.0h0M175.8 378.0h0M194.8 359.7h0M183.2 370.1h0M192.1 360.2h0M190.0 364.4h0M51.0 483.4h0M45.3 494.0h0M190.5 358.4h0M57.1 484.8h0M203.1 351.4h0M53.3 483.4h0M51.1 488.6h0M52.5 473.1h0M46.0 492.2h0M181.0 373.4h0M46.6 490.9h0M45.3 493.9h0M45.6 488.8h0M190.0 366.5h0M176.2 375.0h0M198.9 356.8h0M168.9 382.6h0M201.1 351.8h0M192.2 361.3h0M44.7 491.0h0M202.4 350.8h0M195.6 357.7h0M176.3 366.6h0M50.0 489.1h0M191.1 363.6h0M52.5 492.8h0M53.7 483.2h0M48.7 490.9h0M171.7 376.9h0M46.9 492.0h0M193.4 360.2h0M201.3 353.5h0M43.5 491.3h0M46.6 490.9h0M198.3 355.1h0M52.7 487.2h0M187.2 362.7h0M193.1 361.7h0M45.5 493.1h0M48.5 490.3h0M194.9 359.2h0M57.3 481.8h0M184.7 368.7h0M160.3 384.5h0M58.5 481.0h0M43.7 492.4h0M45.2 493.8h0M176.7 377.3h0M202.0 353.0h0M173.8 377.4h0M187.2 364.6h0M47.3 492.7h0M48.9 488.8h0M197.2 358.1h0M191.5 360.6h0M194.3 358.1h0M182.7 367.8h0M62.5 481.5h0M49.4 492.2h0M58.9 477.8h0M165.6 391.0h0M191.7 361.5h0M60.3 473.7h0M186.4 365.5h0M160.0 379.4h0M46.9 492.7h0M57.7 481.7h0M189.7 366.1h0M187.6 366.9h0M50.4 485.3h0M192.2 363.5h0M55.4 484.7h0M192.2 364.1h0M202.2 352.9h0M189.9 362.5h0M173.9 377.2h0M203.6 350.5h0M186.4 367.8h0M46.0 489.5h0M51.2 487.6h0M200.0 357.4h0M49.9 487.7h0M179.8 369.4h0M50.3 489.6h0M52.2 489.0h0M175.0 375.2h0M176.3 370.6h0M49.0 490.0h0M48.8 491.7h0M180.3 375.1h0M195.9 359.8h0M197.3 356.7h0M195.2 357.6h0M182.8 368.9h0M187.7 361.2h0M47.1 494.0h0M167.2 383.5h0M47.7 486.5h0M44.8 493.2h0M184.5 363.5h0M189.3 362.5h0M185.3 366.4h0M191.7 361.6h0M201.5 353.1h0M46.0 491.5h0M163.4 383.5h0M186.8 367.8h0M173.8 378.7h0M57.3 482.5h0M50.5 488.8h0M50.6 489.8h0M46.0 494.4h0M53.2 483.2h0M202.4 352.3h0M47.2 488.6h0M184.0 371.4h0M187.8 366.9h0M43.1 494.1h0M190.4 363.9h0M182.2 374.1h0M47.1 491.8h0M198.1 356.8h0M196.5 358.7h0M58.7 472.7h0M160.7 396.2h0M169.2 378.5h0M175.5 380.4h0M198.5 354.9h0M203.3 353.5h0M183.0 365.3h0M62.8 480.6h0M190.2 365.8h0M180.2 375.2h0M48.4 489.2h0M189.1 363.7h0M187.8 368.7h0M47.4 490.0h0M43.7 494.4h0M204.0 350.8h0M45.9 491.2h0M198.6 357.4h0M184.9 368.7h0M201.0 354.7h0M47.8 487.5h0M49.8 485.9h0M188.1 366.0h0M52.3 483.5h0M185.8 367.3h0M51.4 481.5h0M54.1 488.7h0M51.2 485.3h0M173.9 378.2h0M59.4 484.8h0M43.8 493.9h0M176.0 369.4h0M53.2 487.6h0M177.1 377.3h0M192.0 361.0h0M192.9 360.6h0M45.0 494.4h0M203.2 351.7h0M159.6 383.4h0M44.1 494.4h0M190.0 367.1h0M43.6 492.0h0M44.1 493.2h0M55.8 477.3h0M52.0 482.5h0M168.5 386.2h0M156.8 385.6h0M43.1 492.6h0M44.0 493.6h0M183.9 364.4h0M54.7 485.3h0M200.2 355.5h0M45.3 493.1h0M175.9 377.5h0M187.7 364.1h0M45.4 490.9h0M178.9 373.9h0M189.5 361.2h0M49.9 485.0h0M181.1 372.2h0M183.1 369.5h0M186.4 366.7h0M52.3 487.1h0M191.8 365.6h0M49.1 490.0h0M204.1 351.0h0M50.1 488.9h0M50.1 486.9h0M180.5 368.8h0M167.8 387.9h0M199.4 357.5h0M198.4 355.6h0M186.4 365.0h0M200.3 352.5h0M182.7 373.3h0M50.8 484.2h0M59.1 479.5h0M52.6 481.9h0M193.9 361.2h0M47.3 489.9h0M188.6 361.8h0M166.1 384.6h0M176.2 379.0h0M176.8 376.2h0M200.9 352.2h0M187.5 365.8h0M200.5 353.7h0M195.6 358.2h0M190.0 363.9h0M43.1 493.7h0M44.1 493.2h0M200.4 352.2h0M191.1 362.7h0M195.8 358.1h0M176.2 374.0h0M199.5 354.3h0M202.0 352.8h0M187.4 364.6h0M48.7 490.4h0M196.7 356.5h0M48.1 489.4h0M193.0 357.4h0M48.3 491.8h0M43.7 493.6h0M203.3 351.9h0M187.0 368.2h0M46.2 492.8h0M203.2 352.0h0M46.8 490.7h0M184.7 369.6h0M203.6 350.9h0M180.1 372.6h0M180.9 367.3h0M48.7 489.5h0M152.7 395.2h0M169.6 384.4h0M165.3 386.1h0M43.1 491.2h0M185.2 369.1h0M50.2 492.3h0M198.5 353.7h0M199.7 353.4h0M43.2 494.2h0M177.9 375.1h0M181.3 371.4h0M201.7 354.9h0M200.1 354.5h0M45.1 493.7h0M191.8 359.2h0M189.4 366.2h0M201.8 352.8h0M188.6 361.9h0M180.2 370.5h0M201.2 354.2h0M193.0 363.7h0M197.9 355.7h0M197.8 357.3h0M169.2 382.9h0M47.2 492.1h0M47.0 490.3h0M194.7 361.2h0M57.9 479.2h0M199.5 353.7h0M201.0 357.4h0M198.9 353.8h0M198.9 355.4h0M183.8 369.7h0M191.7 359.2h0M165.1 382.5h0M200.5 353.1h0M53.1 484.8h0M188.4 362.3h0M46.3 493.3h0M51.4 482.2h0M192.8 360.7h0M178.9 375.2h0M174.3 379.0h0M189.5 362.8h0M48.0 492.9h0M182.2 367.8h0M56.5 486.9h0M53.0 488.5h0M203.0 350.5h0M45.7 491.6h0M180.1 370.7h0M170.4 382.7h0M200.1 354.3h0M179.7 375.1h0M46.7 490.9h0M55.1 483.3h0M164.3 392.6h0M55.0 476.3h0M181.6 374.8h0M190.7 360.2h0M195.2 358.3h0M180.6 371.8h0M45.0 493.2h0M178.7 371.2h0M43.8 493.3h0M47.2 491.6h0M199.1 356.5h0M188.9 365.7h0M178.0 378.3h0M195.6 357.0h0M189.0 364.9h0M177.3 373.6h0M49.0 491.6h0M53.1 486.2h0M45.2 493.4h0M188.2 366.8h0M204.3 351.6h0M186.4 371.0h0M44.7 494.4h0M61.2 476.8h0M173.3 379.4h0M197.0 356.5h0M195.7 357.5h0M203.3 350.7h0M197.3 357.3h0M183.7 369.9h0M203.6 352.7h0M48.0 488.5h0M190.1 363.3h0M54.2 486.7h0M185.4 362.3h0M174.1 379.6h0M63.2 479.4h0M186.9 366.3h0M185.2 368.1h0M189.4 364.5h0M44.3 493.9h0M199.2 353.7h0M52.2 489.0h0M189.8 362.9h0M179.3 374.5h0M193.6 359.2h0M164.5 389.0h0M196.4 357.5h0M170.5 383.5h0M196.9 362.6h0M194.0 360.3h0M183.0 372.1h0M178.0 371.1h0M50.6 491.0h0M201.7 351.1h0M51.2 487.4h0M54.5 485.1h0M183.4 369.7h0M189.4 365.8h0M194.4 360.6h0M172.1 373.9h0M52.5 485.0h0M61.9 483.9h0M201.0 353.0h0M45.3 491.2h0M202.8 354.3h0M192.4 361.1h0M181.7 370.5h0M182.8 366.1h0M55.6 486.3h0M51.5 487.2h0M59.5 478.6h0M161.7 386.2h0M164.3 387.4h0M196.1 356.8h0M44.7 490.9h0M197.6 358.0h0M196.9 357.4h0M54.2 482.2h0M175.2 373.6h0M178.5 374.4h0M185.1 368.7h0M159.7 388.9h0M47.1 493.2h0M191.5 359.7h0M199.6 353.4h0M187.5 365.9h0M181.0 373.5h0M191.6 365.0h0M199.9 353.9h0M44.8 492.8h0M196.1 355.4h0M188.5 363.4h0M61.0 480.4h0M197.5 356.9h0M166.7 378.7h0M177.0 379.7h0M165.0 386.2h0M204.1 352.6h0M188.1 364.6h0M185.9 367.9h0M48.5 487.6h0M56.4 485.7h0M202.4 353.8h0M196.2 357.5h0M184.9 369.0h0M197.7 353.8h0M197.7 353.7h0M173.8 382.7h0M197.7 359.0h0M165.0 384.7h0M54.6 487.3h0M182.5 366.5h0M43.7 493.2h0M185.9 365.2h0M43.8 492.0h0M159.8 383.8h0M50.5 490.6h0M156.5 389.8h0M45.3 490.7h0M43.1 494.2h0M177.5 376.1h0M49.5 487.8h0M55.0 485.3h0M57.8 481.0h0M203.8 352.4h0M52.5 484.6h0M182.9 368.3h0M185.4 372.7h0M194.3 356.0h0M181.5 368.2h0M194.0 359.4h0M51.5 485.4h0M48.2 491.6h0M183.7 369.9h0M44.4 494.2h0M202.3 351.1h0M179.1 372.4h0M48.5 489.7h0M50.9 489.0h0M196.1 358.1h0M190.0 361.1h0M195.5 355.8h0M181.2 373.4h0M182.1 371.7h0M182.0 375.8h0M46.6 493.2h0M196.1 357.6h0M202.7 351.4h0M189.4 365.2h0M192.0 363.8h0M204.2 351.4h0M56.9 488.2h0M184.3 364.9h0M199.7 354.6h0M197.5 357.4h0M198.3 354.3h0M200.4 353.7h0M51.7 485.2h0M49.4 491.7h0M56.9 476.2h0M54.2 485.5h0M45.5 492.2h0M51.5 489.5h0M194.2 360.0h0M190.3 360.3h0M50.5 488.1h0M199.3 358.1h0M180.3 372.5h0M191.9 362.0h0M191.0 364.4h0M195.3 360.1h0M55.4 481.7h0M199.0 355.1h0M52.5 482.7h0M201.2 354.5h0M165.4 387.9h0M165.3 384.4h0M202.7 352.8h0M201.3 353.4h0M178.0 371.3h0M49.1 488.1h0M201.5 355.0h0M57.5 475.9h0M184.9 368.6h0M177.4 379.0h0M63.9 479.4h0M198.0 358.0h0M43.6 494.1h0M202.3 353.6h0M198.8 353.5h0M186.3 365.5h0M51.2 490.7h0M193.7 360.3h0M191.7 360.4h0M191.5 362.6h0M186.0 367.3h0M183.6 368.2h0M50.1 488.4h0M50.5 485.4h0M187.6 367.5h0M202.1 351.3h0M48.5 487.0h0M196.6 362.6h0M198.6 355.9h0M201.7 352.2h0M183.7 369.3h0M174.5 376.4h0M189.9 362.3h0M46.4 490.4h0M49.7 487.6h0M200.3 351.8h0M169.6 382.2h0M167.0 382.4h0M183.4 374.0h0M195.9 360.6h0M194.5 360.9h0M199.8 353.0h0M192.7 358.1h0M44.0 491.2h0M194.0 357.7h0M61.7 480.1h0M167.2 381.3h0M44.5 493.8h0M162.2 386.6h0M199.6 354.2h0M45.8 490.9h0M52.3 485.9h0M54.9 480.9h0M176.7 374.7h0M185.8 370.2h0M168.3 380.8h0M196.1 358.9h0M54.6 489.7h0M45.1 492.2h0M53.0 482.9h0M51.7 488.3h0M59.3 480.1h0M43.3 493.3h0M179.9 371.1h0M181.5 376.0h0M179.8 368.4h0M189.3 365.4h0M203.2 352.0h0M180.9 364.0h0M200.8 353.7h0M192.9 363.0h0M52.7 487.6h0M51.6 483.6h0M200.6 353.6h0M195.3 357.1h0M196.3 357.3h0M199.2 358.8h0M49.9 485.6h0M53.3 487.7h0M175.8 376.9h0M55.5 481.7h0M185.4 365.2h0M198.2 353.9h0M193.1 360.5h0M54.2 484.9h0M166.4 384.3h0M189.2 364.6h0M186.6 369.8h0M190.5 363.6h0M189.1 362.9h0M44.8 493.3h0M55.6 484.4h0M189.0 363.8h0M197.7 355.4h0M175.9 376.9h0M199.3 356.1h0M203.1 351.4h0M190.8 361.6h0M202.4 350.8h0M191.8 359.8h0M49.3 487.6h0M190.1 365.7h0M53.4 487.5h0M180.6 373.5h0M53.3 487.9h0M187.7 364.0h0M189.6 366.5h0M202.8 354.4h0M202.9 353.1h0M172.7 378.5h0M45.5 491.4h0M193.2 365.1h0M45.2 491.5h0M182.5 370.0h0M197.6 357.7h0M189.7 360.7h0M46.8 490.7h0M168.6 383.3h0M188.3 364.3h0M45.7 491.5h0M45.7 489.1h0M200.6 353.6h0M46.6 491.3h0M48.4 487.9h0M196.2 358.4h0M190.1 365.0h0M51.9 488.3h0M195.1 355.9h0M196.5 358.9h0M49.9 485.6h0M58.7 483.3h0M47.4 488.9h0M197.4 356.9h0M199.0 361.0h0M192.5 362.5h0M186.7 368.1h0M159.7 390.5h0M191.1 364.9h0M48.1 488.0h0M52.7 487.7h0M193.2 360.2h0M194.1 358.6h0M163.4 387.6h0M56.4 488.4h0M193.2 359.4h0M59.0 478.1h0M65.2 478.6h0M198.2 357.0h0M171.8 376.3h0M164.0 384.9h0M44.9 494.4h0M43.4 489.7h0M198.6 356.2h0M50.0 491.4h0M46.6 487.1h0M180.5 370.5h0M193.0 358.1h0M198.3 355.2h0M195.0 361.6h0M48.7 488.5h0M47.4 486.9h0M56.6 482.5h0M62.8 481.0h0M195.7 356.6h0M165.9 387.0h0M166.2 383.1h0M175.3 375.5h0M173.0 375.3h0M193.3 362.7h0M183.5 368.1h0M186.6 365.0h0M186.4 363.6h0M49.3 483.3h0M43.9 492.4h0M45.0 490.9h0M192.0 361.9h0M47.6 487.7h0M48.5 489.0h0M198.8 354.5h0M158.7 395.6h0M199.9 354.6h0M198.9 354.7h0M193.0 359.2h0M56.3 483.9h0M198.8 354.4h0M47.6 489.4h0M194.0 358.3h0M49.7 488.1h0M45.0 493.5h0M192.2 362.2h0M196.6 359.1h0M48.7 489.1h0M43.5 491.0h0M48.6 484.4h0M199.0 353.1h0M202.1 352.2h0M201.9 353.5h0M191.5 362.9h0M186.3 367.4h0M203.5 352.7h0M49.3 486.1h0M55.1 482.1h0M51.6 486.7h0M172.7 382.5h0M178.7 369.5h0M171.5 380.2h0M189.6 362.1h0M56.6 482.0h0M190.7 360.5h0M203.3 350.5h0M47.4 494.0h0M199.7 354.0h0M46.1 488.7h0M171.9 377.5h0M192.6 366.5h0M45.0 492.1h0M191.2 360.7h0M195.7 358.8h0M44.5 494.4h0M46.3 487.9h0M192.6 361.8h0M169.8 380.0h0M52.0 489.9h0M192.4 359.9h0M164.5 378.7h0M173.4 378.3h0M190.8 364.1h0M47.6 491.5h0M193.4 357.4h0M170.7 379.5h0M171.2 380.5h0M181.3 369.4h0M200.7 351.2h0M185.2 368.8h0M202.3 352.2h0M167.6 384.0h0M44.5 493.8h0M174.5 372.7h0M192.1 361.8h0M183.7 367.3h0M182.7 365.7h0M202.8 354.1h0M45.7 489.9h0M192.1 357.3h0M194.6 362.1h0M195.3 358.3h0M46.5 490.5h0M53.1 487.1h0M203.4 352.4h0M52.5 485.9h0M175.0 373.7h0M184.2 365.2h0M43.6 493.4h0M182.4 367.5h0M183.6 367.4h0M189.7 362.7h0M169.5 381.1h0M203.1 350.5h0M56.3 484.0h0M177.6 372.0h0M166.5 386.7h0M43.8 493.4h0M201.5 353.7h0M52.2 486.5h0M50.0 490.3h0M59.8 475.1h0M204.0 351.9h0M50.2 489.8h0M44.5 490.2h0M192.7 357.5h0M55.5 485.6h0M201.7 351.5h0M201.4 352.7h0M180.3 373.7h0M60.3 477.6h0M46.0 493.1h0M201.0 351.3h0M184.1 365.7h0M197.6 355.6h0M165.2 384.1h0M56.6 486.8h0M165.9 382.6h0M53.1 481.1h0M189.5 365.5h0M200.1 353.7h0M174.3 374.9h0M46.8 491.6h0M186.0 368.9h0M43.8 494.4h0M195.4 359.6h0M57.4 482.3h0M196.4 355.5h0M188.6 364.5h0M187.1 371.5h0M199.1 356.1h0M169.6 380.9h0M185.7 365.6h0M204.1 352.4h0M159.4 392.3h0M47.8 488.7h0M45.7 490.5h0M198.6 355.3h0M201.1 353.2h0M193.3 362.1h0M199.3 353.9h0M51.1 492.4h0M49.2 491.9h0M166.4 381.2h0M202.9 352.0h0M175.6 377.0h0M197.9 356.1h0M178.7 370.1h0M51.0 488.0h0M48.5 490.9h0M45.3 492.0h0M61.8 484.3h0M168.5 383.4h0M196.6 357.2h0M190.8 364.5h0M197.8 359.4h0M190.2 363.0h0M47.7 492.3h0M195.2 360.7h0M46.6 493.2h0M202.6 350.5h0M182.7 370.8h0M195.6 360.3h0M189.9 362.3h0M199.8 355.5h0M61.4 481.0h0M46.5 490.7h0M193.4 363.6h0M56.3 481.8h0M198.3 354.5h0M58.4 486.7h0M198.9 355.4h0M195.9 357.9h0M170.5 378.5h0M200.5 355.0h0M55.6 474.4h0M195.2 358.1h0M178.6 376.1h0M202.7 352.4h0M52.8 487.2h0M195.0 357.2h0M51.9 486.4h0M183.5 367.1h0M47.2 492.5h0M194.3 357.2h0M177.5 379.4h0M180.4 368.2h0M43.1 491.1h0M198.2 353.6h0M192.0 358.7h0M162.0 384.7h0M57.1 486.4h0M46.2 489.8h0M200.5 351.1h0M191.6 366.1h0M49.0 488.4h0M179.9 370.0h0M43.9 493.0h0M184.2 365.1h0M189.4 366.7h0M189.9 364.4h0M193.8 357.9h0M50.0 486.9h0M53.7 489.0h0M179.0 375.3h0M160.8 392.5h0M187.9 366.3h0M201.2 355.1h0M174.0 375.4h0M49.9 491.2h0M193.4 359.1h0M178.0 374.1h0M50.9 482.7h0M45.5 494.3h0M55.5 483.5h0M180.9 368.0h0M194.7 360.8h0M49.7 492.6h0M53.5 486.4h0M200.6 353.3h0M45.7 491.6h0M180.7 370.1h0M195.3 359.9h0M45.1 491.4h0M43.5 490.4h0M200.2 352.9h0M190.2 365.9h0M200.5 350.5h0M50.8 490.8h0M48.9 490.2h0M198.2 355.0h0M200.5 351.2h0M52.7 483.9h0M43.3 494.2h0M196.0 358.6h0M163.8 383.3h0M163.0 389.9h0M44.6 491.6h0M187.5 363.1h0M51.5 487.8h0M203.5 351.5h0M200.4 352.8h0M43.5 488.7h0M202.9 350.5h0M197.6 357.2h0M54.7 487.5h0M54.2 482.8h0M67.3 472.3h0M52.7 485.8h0M51.8 485.3h0M191.0 366.9h0M202.0 352.4h0M49.2 489.1h0M164.1 380.1h0M182.8 370.3h0M192.9 363.2h0M161.2 389.9h0M193.2 359.7h0M203.7 352.0h0M187.8 365.4h0M160.8 389.2h0M187.1 368.6h0M46.6 494.1h0M49.0 489.5h0M166.4 380.7h0M55.4 488.0h0M194.9 359.6h0M64.8 476.6h0M184.0 372.9h0M184.8 367.7h0M204.3 353.8h0M177.2 373.4h0M51.9 491.9h0M161.4 385.8h0M52.2 482.5h0M48.1 492.1h0M198.8 356.6h0M201.5 352.7h0M195.2 361.1h0M199.2 357.6h0M202.9 350.8h0M199.6 355.4h0M45.2 493.4h0M51.5 486.7h0M175.8 379.1h0M196.6 357.4h0M184.8 365.3h0M158.1 386.8h0M178.3 375.6h0M47.7 487.8h0M177.7 373.1h0M188.6 365.4h0M198.7 355.4h0M183.1 366.7h0M53.8 485.2h0M53.5 477.8h0M44.8 491.2h0M164.1 387.2h0M193.2 358.8h0M173.6 376.5h0M192.2 360.3h0M48.8 489.1h0M202.8 350.9h0M172.7 387.1h0M55.4 485.0h0M184.3 368.8h0M180.4 367.4h0M180.2 370.0h0M49.6 489.5h0M45.0 492.8h0M160.8 387.4h0M194.4 358.7h0M183.8 370.5h0M47.5 492.2h0M190.1 361.7h0M48.4 490.5h0M194.2 359.4h0M50.6 489.4h0M49.4 488.7h0M202.2 353.4h0M51.6 488.9h0M170.4 379.3h0M172.9 376.9h0M57.7 483.4h0M169.7 382.2h0M176.6 374.6h0M154.5 388.5h0M199.0 352.0h0M175.7 372.7h0M172.4 382.8h0M203.3 352.2h0M180.2 369.2h0M201.6 352.0h0M49.4 489.6h0M200.4 353.2h0M189.2 365.6h0M189.1 362.2h0M45.5 492.4h0M182.0 364.7h0M176.7 379.1h0M201.8 350.9h0M50.1 483.6h0M185.6 367.1h0M172.0 380.5h0M55.9 483.2h0M187.7 365.8h0M43.7 493.6h0M164.2 379.6h0M47.6 494.3h0M191.1 364.7h0M182.5 369.3h0M187.5 366.9h0M198.8 355.3h0M184.2 367.8h0M53.3 486.7h0M183.4 366.8h0M172.0 379.3h0M189.8 363.0h0M47.0 490.1h0M46.8 490.3h0M197.8 356.2h0M160.3 389.7h0M49.0 490.1h0M185.1 367.1h0M175.6 371.3h0M186.9 364.3h0M52.8 487.9h0M52.8 487.0h0M195.7 355.7h0M202.4 350.6h0M196.6 355.1h0M171.5 376.3h0M190.1 366.0h0M175.6 371.9h0M199.5 355.5h0M46.8 486.6h0M193.4 363.4h0M197.7 355.6h0M44.7 493.5h0M194.3 361.0h0M48.9 488.4h0M198.5 355.7h0M43.7 494.0h0M186.6 368.1h0M201.3 352.3h0M55.1 478.5h0M200.8 356.0h0M192.3 359.9h0M200.6 352.2h0M201.0 351.4h0M186.8 365.2h0M164.3 387.2h0M45.6 494.3h0M45.9 493.8h0M45.6 493.8h0M190.2 364.6h0M54.3 483.2h0M198.8 354.0h0M191.5 360.9h0M180.9 371.1h0M193.0 357.4h0M190.6 361.4h0M192.2 360.9h0M50.7 488.6h0M185.4 364.5h0M203.9 351.9h0M47.0 494.4h0M180.8 373.4h0M187.5 366.3h0M50.1 490.6h0M162.1 385.7h0M197.2 356.8h0M189.3 364.2h0M203.8 353.1h0M185.6 368.5h0M177.7 373.3h0M196.9 356.8h0M61.5 480.5h0M46.5 492.0h0M44.9 491.1h0M190.1 364.3h0M46.6 492.9h0M45.1 494.2h0M52.2 486.9h0M195.6 357.9h0M204.2 352.8h0M45.8 493.3h0M190.7 357.7h0M63.0 483.3h0M185.1 366.6h0M167.0 383.0h0M51.0 484.2h0M183.2 368.6h0M169.6 378.2h0M52.3 484.8h0M56.8 483.4h0M175.3 376.0h0M194.3 358.6h0M196.0 357.9h0M204.3 350.8h0M47.6 491.5h0M45.2 492.7h0M54.1 486.2h0M192.9 361.3h0M48.8 489.6h0M45.3 494.4h0M199.8 350.5h0M45.4 491.4h0M196.9 360.8h0M163.3 392.1h0M195.6 356.7h0M201.1 356.1h0M192.8 357.1h0M188.6 362.6h0M174.1 376.8h0M167.0 381.1h0M198.5 354.7h0M45.0 494.4h0M188.8 363.2h0M197.7 355.9h0M194.7 358.1h0M189.0 361.0h0M159.2 390.7h0M184.7 369.4h0M47.0 492.9h0M50.9 486.6h0M200.6 353.0h0M43.1 494.3h0M50.2 483.4h0M174.1 371.3h0M177.5 371.1h0M45.8 492.1h0M45.6 489.2h0M59.0 474.2h0M190.5 360.3h0M182.3 369.5h0M163.6 384.9h0M45.7 489.6h0M50.9 483.7h0M178.0 375.0h0M189.3 362.6h0M52.0 488.2h0M186.3 364.7h0M196.3 354.9h0M193.6 358.6h0M181.8 372.1h0M194.5 358.5h0M181.4 370.4h0M194.7 360.5h0M203.4 355.1h0M43.1 493.6h0M52.2 486.5h0M170.5 378.4h0M201.1 353.5h0M191.2 361.1h0M193.5 360.0h0M179.9 371.6h0M53.3 481.8h0M188.2 363.3h0M186.4 364.4h0M54.5 486.9h0M184.9 369.2h0M193.0 360.0h0M44.7 493.1h0M202.1 352.7h0M53.5 488.4h0M184.8 369.8h0M181.1 370.1h0M52.2 484.6h0M47.4 487.5h0M51.3 486.2h0M58.2 481.7h0M179.8 369.7h0M47.3 492.3h0M168.5 381.0h0M195.9 359.8h0M53.7 487.1h0M57.3 482.7h0M197.9 356.0h0M201.7 355.3h0M58.0 484.4h0M164.8 379.9h0M43.9 492.7h0M196.8 355.8h0M199.4 354.2h0M191.2 362.6h0M189.8 362.7h0M196.0 356.3h0M197.3 357.6h0M165.3 384.7h0M196.6 355.9h0M163.1 385.7h0M202.8 351.4h0M199.9 355.6h0M43.9 493.3h0M202.8 351.3h0M169.4 380.3h0M195.5 359.2h0M52.7 479.7h0M166.9 380.4h0M183.2 367.6h0M59.2 480.7h0M198.1 355.0h0M198.8 354.2h0M179.7 374.9h0M196.2 357.4h0M202.1 350.8h0M43.2 492.1h0M152.6 393.5h0M57.0 483.1h0M155.2 389.9h0M56.3 484.6h0M44.8 493.5h0M189.9 366.2h0M184.5 368.8h0M51.1 491.3h0M60.7 481.2h0M190.4 363.9h0M173.2 378.9h0M185.6 369.5h0M160.4 392.4h0M169.1 381.9h0M193.5 358.2h0M184.4 367.4h0M60.2 482.7h0M43.1 491.4h0M48.1 488.8h0M51.1 487.3h0M43.2 493.7h0M203.7 351.7h0M48.0 490.0h0M44.5 493.1h0M54.3 483.5h0M197.0 355.7h0M201.5 352.6h0M198.7 357.6h0M189.6 363.1h0M197.1 355.9h0M184.5 362.9h0M194.5 361.6h0M184.0 370.3h0M192.8 358.5h0M196.4 356.7h0M49.1 490.5h0M52.0 487.3h0M200.3 354.9h0M49.4 484.7h0M200.8 355.5h0M43.1 492.8h0M192.6 362.6h0M201.2 353.8h0M203.1 352.3h0M186.7 362.1h0M44.3 492.3h0M198.8 357.2h0M50.9 488.6h0M46.8 492.9h0M180.2 374.2h0M62.6 481.0h0M186.6 368.0h0M166.3 376.5h0M187.4 363.8h0M50.6 486.2h0M58.6 484.2h0M199.7 354.8h0M195.2 362.6h0M200.2 354.5h0M172.3 374.6h0M201.7 354.6h0M187.6 365.8h0M192.7 359.7h0M49.7 486.5h0M192.0 361.5h0M55.2 481.4h0M46.8 491.5h0M190.1 363.7h0M196.6 359.2h0M175.8 373.2h0M178.6 370.2h0M191.8 362.4h0M56.4 482.3h0M199.8 355.8h0M201.8 353.1h0M53.8 484.6h0M61.3 479.2h0M48.2 493.0h0M201.7 352.0h0M178.5 371.2h0M196.0 354.6h0M199.7 354.4h0M194.0 356.6h0M53.3 486.5h0M193.1 359.5h0M67.0 478.7h0M194.8 359.7h0M200.6 352.7h0M197.9 352.8h0M51.5 488.7h0M198.7 354.1h0M199.2 352.7h0M193.9 359.5h0M182.5 368.3h0M51.9 489.9h0M199.3 352.1h0M197.9 357.8h0M45.6 492.2h0M52.6 486.7h0M201.8 353.1h0M44.4 494.4h0M182.0 371.5h0M194.7 361.6h0M173.2 378.1h0M191.2 364.0h0M172.3 381.2h0M52.5 481.6h0M198.1 355.6h0M166.0 383.6h0M190.3 360.1h0M51.5 487.2h0M52.6 487.5h0M51.2 482.9h0M59.8 475.2h0M185.1 366.1h0M201.8 352.6h0M174.0 385.3h0M170.1 379.3h0M196.6 357.0h0M184.1 372.2h0M197.1 354.7h0M53.1 484.5h0M188.0 366.0h0M194.9 357.9h0M51.6 482.4h0M199.9 354.9h0M202.0 352.9h0M157.0 397.9h0M198.9 353.9h0M45.1 493.1h0M193.1 359.9h0M187.3 366.3h0M183.7 371.7h0M56.4 481.1h0M173.6 375.8h0M200.2 351.4h0M48.4 489.8h0M155.3 393.6h0M202.3 351.9h0M192.1 362.8h0M47.5 487.9h0M187.2 364.6h0M192.5 363.2h0M51.0 487.8h0M195.0 356.2h0M198.5 359.7h0M54.2 482.5h0M202.6 351.3h0M183.2 371.3h0M176.3 371.1h0M189.7 360.9h0M163.1 392.6h0M55.5 481.9h0M189.7 365.9h0M53.8 486.2h0M190.0 362.4h0M171.5 378.3h0M196.7 354.1h0M51.7 487.7h0M48.8 488.5h0M54.0 483.9h0M203.3 352.8h0M184.1 371.2h0M166.3 386.5h0M185.2 368.9h0M175.2 373.7h0M45.7 493.5h0M200.9 351.3h0M50.5 489.4h0M174.2 375.4h0M46.9 494.1h0M45.3 493.2h0M161.3 387.3h0M56.0 477.1h0M191.4 360.3h0M45.3 492.9h0M47.0 490.7h0M175.2 379.8h0M48.7 488.9h0M188.7 364.3h0M51.0 488.0h0M194.9 357.8h0M198.3 353.1h0M71.1 480.6h0M162.1 383.9h0M49.9 481.3h0M47.7 492.4h0M203.7 350.7h0M56.2 480.4h0M199.3 355.4h0M176.0 377.5h0M201.4 351.9h0M52.0 485.8h0M44.5 494.3h0M192.2 360.0h0M197.1 357.8h0M187.7 363.8h0M196.4 358.5h0M200.1 353.0h0M45.3 492.7h0M166.9 380.1h0M199.3 356.9h0M196.0 360.0h0M198.6 359.6h0M189.4 369.8h0M172.8 387.7h0M58.8 484.4h0M58.6 480.3h0M51.9 486.5h0M52.0 487.9h0M176.8 370.9h0M195.3 359.9h0M201.6 350.7h0M201.6 352.6h0M52.1 485.0h0M48.6 485.5h0M197.5 356.8h0M192.8 360.0h0M178.1 374.2h0M192.6 363.9h0M52.5 488.2h0M54.8 481.3h0M196.1 357.9h0M46.5 493.7h0M45.2 492.5h0M63.2 482.5h0M203.9 350.5h0M190.8 361.6h0M45.8 493.6h0M175.1 380.0h0M199.2 352.6h0M190.1 362.0h0M193.0 360.9h0M169.4 380.4h0M197.8 357.7h0M190.7 362.1h0M51.9 483.5h0M158.1 395.7h0M43.1 493.4h0M199.0 355.8h0M45.8 491.1h0M48.2 488.5h0M162.8 383.1h0M46.7 491.2h0M159.3 390.7h0M200.3 356.0h0M201.2 353.5h0M168.3 387.3h0M162.8 385.5h0M43.4 493.0h0M202.5 352.5h0M51.2 486.6h0M202.2 353.1h0M179.6 373.6h0M189.4 362.4h0M180.3 373.6h0M192.7 359.4h0M179.1 374.0h0M188.2 368.1h0M201.4 355.0h0M200.3 354.4h0M188.4 366.5h0M44.5 492.5h0M43.1 493.2h0M188.7 359.6h0M188.9 369.0h0M45.2 490.5h0M202.9 351.3h0M191.7 363.4h0M50.1 491.4h0M191.3 361.5h0M188.9 363.8h0M178.4 374.1h0M45.0 492.7h0M53.8 486.6h0M200.2 353.7h0M189.5 364.0h0M186.3 365.8h0M45.2 491.1h0M193.3 359.4h0M43.1 493.7h0M187.9 367.0h0M194.2 359.7h0M196.2 360.9h0M51.6 489.5h0M57.9 484.8h0M198.1 359.0h0M194.6 361.4h0M191.5 363.1h0M45.7 492.4h0M55.9 485.2h0M179.8 370.3h0M195.6 359.0h0M188.6 365.7h0M49.2 491.5h0M194.1 359.6h0M184.0 369.7h0M195.8 357.2h0M182.5 370.6h0M185.7 368.5h0M184.2 367.7h0M196.0 359.4h0M204.3 351.8h0M44.8 488.7h0M44.5 493.5h0M180.4 373.3h0M53.1 488.7h0M198.1 357.0h0M199.4 354.5h0M45.4 491.8h0M43.9 493.3h0M176.2 380.3h0M174.7 374.5h0M186.2 364.2h0M183.0 370.1h0M198.5 356.8h0M191.2 363.8h0M175.9 380.0h0M160.3 395.6h0M176.0 376.0h0M43.6 493.7h0M190.4 361.3h0M194.5 361.1h0M46.4 490.2h0M181.5 371.2h0M51.8 489.0h0M63.4 485.3h0M194.4 360.2h0M158.5 387.6h0M54.1 483.7h0M191.1 362.0h0M193.8 356.2h0M167.3 383.8h0M175.0 376.5h0M180.0 370.7h0M201.3 352.1h0M201.1 354.6h0M176.0 372.9h0M46.0 489.5h0M199.2 356.1h0M191.5 361.0h0M200.0 353.1h0M56.1 482.6h0M183.0 374.3h0M203.8 353.4h0M45.6 494.1h0M190.8 362.2h0M204.1 352.4h0M180.7 377.7h0M53.0 484.4h0M202.7 350.8h0M49.4 488.5h0M188.6 366.0h0M184.5 368.1h0M161.2 393.4h0M190.6 363.9h0M198.4 353.1h0M201.9 350.7h0M192.0 362.8h0M187.1 364.2h0M197.2 356.6h0M195.2 357.4h0M172.3 378.7h0M179.3 376.6h0M174.3 378.8h0M45.7 494.0h0M188.1 364.0h0M161.6 388.5h0M196.6 357.0h0M169.6 374.1h0M172.0 378.8h0M200.3 355.6h0M49.1 491.7h0M198.7 355.1h0M161.3 395.8h0M45.4 489.0h0M46.3 492.4h0M199.1 355.2h0M53.8 488.6h0M201.0 355.6h0M43.7 493.2h0M49.8 484.1h0M49.8 485.6h0M43.5 494.3h0M46.1 490.4h0M191.6 362.4h0M200.7 350.5h0M172.8 375.9h0M47.6 490.2h0M173.5 380.5h0M199.8 354.4h0M60.5 481.3h0M200.2 354.5h0M45.2 493.0h0M188.2 361.5h0M188.0 363.1h0M194.3 356.1h0M46.1 493.0h0M197.3 360.5h0M52.2 483.5h0M202.2 351.4h0M46.1 493.9h0M181.6 371.6h0M167.9 386.2h0M49.5 490.0h0M55.2 483.1h0M202.6 351.6h0M175.7 375.8h0M179.0 378.9h0M63.8 479.9h0M181.7 367.8h0M191.8 358.5h0M197.9 353.3h0M170.2 383.2h0M189.1 361.6h0M175.6 375.5h0M199.7 356.0h0M61.5 476.1h0M193.9 360.2h0M48.3 492.7h0M182.2 370.3h0M195.5 359.3h0M194.6 356.3h0M49.6 490.4h0M189.6 360.6h0M54.2 487.0h0M54.9 481.8h0M43.6 492.8h0M49.1 492.4h0M199.8 356.2h0M165.9 390.4h0M204.2 350.7h0M179.1 374.4h0M52.9 484.4h0M43.9 493.7h0M166.7 381.9h0M196.7 355.9h0M50.0 484.0h0M192.2 363.7h0M51.1 485.6h0M62.5 480.5h0M201.8 354.6h0M191.4 359.2h0M195.0 358.8h0M180.4 375.4h0M158.5 392.1h0M178.4 376.3h0M184.0 368.8h0M201.8 353.2h0M193.9 359.0h0M58.5 478.5h0M56.1 485.1h0M186.1 365.3h0M199.3 356.0h0M58.0 481.9h0M161.1 390.9h0M46.1 491.9h0M188.9 365.1h0M51.0 484.4h0M49.0 487.5h0M185.6 365.0h0M178.5 368.2h0M196.5 356.2h0M194.7 358.1h0M197.2 355.3h0M50.6 487.9h0M192.5 363.7h0M51.9 487.6h0M181.1 373.7h0M189.2 363.4h0M49.7 489.3h0M181.3 368.4h0M191.2 359.5h0M200.5 353.1h0M53.5 483.9h0M192.2 362.3h0M195.2 357.4h0M48.5 490.2h0M48.5 488.7h0M45.6 493.8h0M152.4 387.4h0M50.0 491.1h0M191.6 364.7h0M44.3 494.4h0M159.3 391.6h0M51.3 483.6h0M57.0 480.5h0M192.3 360.0h0M193.1 360.1h0M53.2 484.3h0M46.2 492.1h0M45.2 489.5h0M45.3 492.0h0M43.2 494.4h0M194.9 358.4h0M190.7 362.8h0M48.4 490.7h0M200.9 354.3h0M51.8 488.5h0M46.7 490.4h0M194.2 357.3h0M175.2 380.2h0M52.7 488.2h0M48.5 491.8h0M53.4 490.3h0M192.0 361.3h0M169.7 384.4h0M63.3 480.1h0M179.2 368.1h0M60.5 473.2h0M200.6 354.5h0M52.8 490.6h0M195.3 358.3h0M202.0 352.6h0M45.0 492.2h0M180.7 370.4h0M48.3 488.7h0M43.1 493.8h0M53.9 483.9h0M176.9 373.9h0M189.9 361.3h0M186.2 368.4h0M170.9 378.5h0M200.8 353.7h0M200.7 350.8h0M178.6 372.9h0M177.2 373.5h0M44.1 493.4h0M200.1 355.1h0M43.5 494.0h0M160.1 382.4h0M45.1 492.1h0M176.6 380.1h0M57.4 485.8h0M184.6 365.3h0M45.2 493.2h0M175.2 376.0h0M43.6 494.1h0M44.3 491.7h0M189.8 362.3h0M194.8 359.4h0M175.4 375.8h0M175.2 380.1h0M54.9 486.4h0M180.8 375.9h0M193.6 361.6h0M50.1 490.8h0M54.2 488.8h0M198.9 355.0h0M195.3 356.1h0M47.1 487.5h0M165.4 387.2h0M189.2 366.3h0M183.2 370.8h0M54.6 473.8h0M194.5 359.1h0M47.5 490.5h0M53.6 485.1h0M196.8 356.7h0M189.2 365.0h0M196.9 357.0h0M53.4 487.9h0M192.4 362.3h0M164.9 388.6h0M53.0 484.0h0M202.0 353.0h0M52.1 485.7h0M170.4 380.3h0M180.7 372.5h0M54.8 487.2h0M189.1 365.7h0M193.4 359.3h0M200.0 357.7h0M198.1 355.5h0M59.3 475.5h0M168.2 379.2h0M197.5 357.1h0M204.3 351.8h0M199.8 353.0h0M170.7 385.7h0M51.9 488.5h0M199.4 351.5h0M188.2 360.7h0M52.6 489.2h0M51.1 488.3h0M204.3 351.5h0M60.7 479.6h0M169.0 377.5h0M167.8 380.1h0M48.6 489.6h0M174.1 375.9h0M49.6 488.6h0M155.8 389.6h0M195.9 357.8h0M181.2 367.4h0M190.4 364.3h0M68.6 476.9h0M204.0 351.9h0M202.8 352.1h0M44.1 494.4h0M45.4 493.1h0M197.3 356.2h0M202.2 351.3h0M45.9 490.9h0M203.4 351.0h0M168.2 380.2h0M49.4 490.0h0M190.5 363.3h0M198.1 355.5h0M51.1 491.3h0M62.1 477.5h0M172.8 375.1h0M195.9 360.0h0M176.1 375.1h0M58.3 479.6h0M48.7 490.5h0M177.1 375.7h0M204.0 350.6h0M200.9 354.6h0M179.2 372.1h0M202.8 352.4h0M170.3 379.6h0M194.8 361.9h0M191.8 359.6h0M172.2 382.1h0M186.0 366.9h0M160.2 386.1h0M187.1 371.5h0M194.2 362.9h0M50.1 481.4h0M54.6 489.4h0M185.4 366.6h0M194.6 362.9h0M203.1 352.9h0M196.4 356.0h0M197.0 358.1h0M43.3 493.3h0M49.8 489.5h0M56.9 480.3h0M204.0 351.5h0M52.3 490.9h0M192.2 362.0h0M196.9 355.9h0M44.1 491.9h0M51.4 487.7h0M176.5 374.3h0M170.5 382.0h0M196.7 357.5h0M172.1 377.4h0M163.7 381.4h0M200.2 353.8h0M185.6 367.1h0M203.7 351.7h0M202.9 350.9h0M173.2 381.7h0M45.6 491.7h0M194.1 361.5h0M57.7 480.1h0M175.6 378.9h0M45.1 492.8h0M184.7 367.5h0M184.2 370.3h0M196.8 355.5h0M193.7 362.1h0M202.9 350.5h0M187.3 366.3h0M44.5 493.5h0M185.3 364.5h0M201.7 354.6h0M60.6 477.4h0M200.4 354.0h0M169.2 380.3h0M57.7 479.8h0M194.1 363.1h0M48.0 489.6h0M48.6 490.9h0M191.0 365.1h0M177.1 378.6h0M201.1 354.7h0M47.1 492.2h0M150.5 394.1h0M192.9 362.1h0M182.9 369.6h0M45.2 493.5h0M48.0 490.4h0M199.4 354.2h0M194.7 360.2h0M202.2 352.1h0M43.1 493.3h0M54.7 486.8h0M202.7 352.1h0M199.4 357.1h0M54.8 486.8h0M201.8 354.3h0M45.5 490.7h0M201.2 354.3h0M57.3 485.5h0M188.0 366.1h0M44.1 492.7h0M187.8 363.3h0M187.6 363.3h0M184.7 367.8h0M48.9 486.7h0M52.3 482.4h0M200.3 354.0h0M165.0 384.3h0M45.4 493.2h0M177.7 370.1h0M51.4 482.3h0M197.8 358.2h0M184.6 368.6h0M165.2 382.7h0M195.6 360.4h0M48.1 490.4h0M156.7 398.4h0M51.4 486.8h0M201.3 350.8h0M200.8 357.3h0M186.7 369.5h0M59.6 486.5h0M48.1 489.0h0M174.2 381.0h0M173.5 379.3h0M200.7 356.4h0M198.1 355.6h0M173.4 381.6h0M196.4 360.0h0M169.3 376.8h0M192.4 360.7h0M44.8 491.7h0M195.9 360.3h0M178.0 371.2h0M171.9 379.6h0M43.4 491.9h0M55.3 479.3h0M176.3 371.2h0M46.8 488.9h0M185.6 365.6h0M202.3 351.1h0M46.0 490.6h0M201.3 355.8h0M178.5 371.3h0M43.6 491.3h0M179.8 372.4h0M51.2 488.1h0M192.8 358.7h0M190.5 358.0h0M56.8 485.0h0M192.4 360.4h0M44.9 494.3h0M59.6 486.2h0M158.0 390.5h0M197.1 354.0h0M189.0 362.8h0M45.5 492.0h0M172.0 373.9h0M175.1 374.6h0M183.8 366.0h0M201.4 355.2h0M44.2 494.2h0M181.3 374.3h0M53.6 486.8h0M191.9 358.2h0M191.2 361.7h0M187.5 366.2h0M190.5 362.4h0M184.4 366.8h0M202.4 352.6h0M48.8 489.5h0M203.2 353.0h0M57.7 483.5h0M46.0 490.9h0M185.7 364.3h0M157.1 394.5h0M200.9 351.1h0M48.4 491.7h0M181.3 366.9h0M50.5 488.8h0M192.1 358.9h0M198.7 357.6h0M179.7 372.3h0M168.6 381.4h0M192.9 358.5h0M201.4 354.6h0M186.0 365.5h0M183.3 365.3h0M167.1 378.6h0M202.7 350.5h0M195.4 358.8h0M186.3 367.2h0M199.9 355.3h0M185.0 369.2h0M189.4 367.0h0M47.4 489.7h0M178.3 372.0h0M184.9 366.1h0M181.5 371.5h0M192.2 362.1h0M48.8 489.8h0M56.6 483.4h0M166.4 388.1h0M177.4 373.2h0M52.9 484.4h0M199.0 355.3h0M47.2 490.1h0M173.2 380.3h0M57.2 480.1h0M55.4 489.4h0M170.1 378.8h0M166.3 380.9h0M189.4 362.9h0M45.4 488.8h0M50.2 488.0h0M168.2 381.6h0M46.0 489.2h0M59.7 484.9h0M194.7 358.5h0M49.0 490.2h0M199.3 355.2h0M191.4 359.2h0M199.3 354.9h0M157.4 385.1h0M199.7 355.5h0M186.3 369.2h0M43.1 493.6h0M167.1 383.5h0M186.4 365.5h0M189.7 363.9h0M49.2 488.6h0M48.9 491.2h0M48.2 490.5h0M48.5 490.8h0M187.2 363.7h0M45.0 492.8h0M198.9 356.2h0M173.9 377.3h0M185.9 369.5h0M51.7 490.3h0M46.3 493.4h0M182.6 368.4h0M194.8 361.8h0M198.0 355.3h0M201.1 351.3h0M46.7 489.5h0M54.8 485.8h0M54.5 481.7h0M50.2 489.0h0M177.5 373.3h0M195.2 359.6h0M44.1 488.2h0M189.7 363.9h0M48.7 489.4h0M183.7 366.9h0M44.6 492.4h0M158.9 393.4h0M201.0 351.2h0M202.4 353.9h0M187.9 364.4h0M185.7 365.7h0M50.5 486.3h0M189.8 361.3h0M193.3 358.9h0M200.0 352.2h0M191.3 360.5h0M201.5 351.7h0M176.6 372.5h0M58.6 480.2h0M188.0 365.6h0M193.6 359.8h0M190.6 358.6h0M184.5 368.4h0M194.5 359.2h0M200.6 352.8h0M197.9 357.7h0M174.5 371.4h0M195.7 358.9h0M58.1 482.9h0M196.8 357.9h0M173.3 379.3h0M199.2 351.6h0M45.2 493.1h0M48.0 490.3h0M62.7 480.1h0M53.5 484.1h0M55.1 485.4h0M172.1 376.3h0M157.2 387.0h0M57.0 486.5h0M55.6 483.5h0M52.2 484.9h0M173.6 379.8h0M54.2 478.1h0M204.0 351.6h0M192.5 361.0h0M56.7 482.8h0M58.5 479.6h0M190.2 361.8h0M185.4 367.4h0M48.4 493.8h0M174.4 377.4h0M198.1 357.4h0M44.5 490.4h0M48.9 488.1h0M177.5 376.7h0M166.6 385.9h0M161.2 385.9h0M203.5 352.1h0M195.0 358.5h0M177.7 371.4h0M185.5 368.4h0M184.6 370.9h0M162.7 384.2h0M191.7 362.9h0M46.3 491.4h0M188.0 369.0h0M198.1 356.0h0M43.2 490.9h0M47.0 492.4h0M182.6 370.1h0M176.8 374.5h0M171.9 381.6h0M169.7 388.6h0M180.7 370.6h0M173.9 373.2h0M175.8 374.6h0M172.8 381.1h0M53.3 488.4h0M43.2 491.6h0M188.2 363.3h0M43.9 490.0h0M47.3 487.7h0M197.4 358.5h0M202.1 353.0h0M48.9 489.7h0M46.9 491.4h0M192.4 361.0h0M44.4 492.4h0M157.7 393.3h0M52.5 486.2h0M203.1 352.3h0M186.9 364.4h0M45.5 493.7h0M185.2 366.3h0M49.0 487.5h0M197.2 355.8h0M189.8 362.8h0M161.6 382.3h0M199.1 354.6h0M49.5 487.1h0M201.1 357.7h0M45.9 492.8h0M177.6 371.4h0M43.7 493.4h0M190.4 360.8h0M168.6 380.7h0M198.3 355.9h0M193.1 362.0h0M173.5 376.0h0M170.9 376.7h0M201.4 352.5h0M171.5 375.3h0M195.8 358.4h0M47.8 488.1h0M199.4 354.6h0M59.8 482.6h0M183.5 372.6h0M153.9 387.2h0M192.7 360.2h0M48.3 488.5h0M193.3 357.3h0M201.2 354.6h0M202.7 352.2h0M171.1 379.6h0M201.6 351.2h0M43.7 491.7h0M183.9 367.8h0M45.2 492.4h0M199.0 355.3h0M51.2 486.3h0M48.5 485.4h0M200.5 354.7h0M43.4 493.6h0M161.7 386.1h0M200.4 351.8h0M200.8 355.2h0M165.4 382.5h0M192.9 362.2h0M171.4 381.5h0M187.5 365.1h0M182.1 368.5h0M45.9 490.9h0M43.4 494.2h0M43.2 492.9h0M196.7 357.2h0M168.6 379.5h0M48.0 487.8h0M55.2 488.2h0M195.5 356.3h0M53.6 484.3h0M190.4 365.8h0M59.1 481.4h0M197.4 355.8h0M43.7 493.4h0M48.6 489.9h0M201.6 352.4h0M198.9 356.4h0M50.2 488.4h0M200.4 354.9h0M196.4 355.1h0M197.9 357.2h0M169.2 378.2h0M185.1 366.7h0M47.4 490.3h0M181.2 372.9h0M184.6 366.0h0M57.3 479.6h0M186.9 369.7h0M183.2 374.5h0M50.4 489.7h0M54.9 485.3h0M54.5 480.6h0M46.4 487.2h0M191.1 364.4h0M195.4 358.1h0M44.3 492.6h0M175.4 375.8h0M203.0 352.2h0M203.5 350.8h0M55.8 476.9h0M176.6 379.2h0M51.2 488.3h0M203.5 352.4h0M191.9 364.5h0M43.7 494.0h0M43.6 492.5h0M194.8 357.4h0M186.1 368.6h0M189.1 366.0h0M51.6 487.7h0M203.7 350.7h0M44.3 493.4h0M188.6 364.2h0M188.2 364.0h0M181.2 374.2h0M174.9 373.7h0M60.9 480.2h0M183.7 371.0h0M47.1 489.0h0M166.1 378.8h0M197.6 356.2h0M192.1 363.1h0M48.3 489.3h0M195.8 358.7h0M187.7 368.2h0M183.2 366.8h0M191.9 361.2h0M168.0 381.1h0M45.4 491.9h0M43.4 492.0h0M198.1 354.0h0M204.3 351.5h0M201.1 351.6h0M60.6 478.5h0M181.8 371.4h0M185.9 368.3h0M54.6 488.9h0M45.9 492.8h0M185.8 365.8h0M164.9 389.3h0M176.3 369.2h0M169.0 380.3h0M175.4 377.6h0M45.0 490.2h0M45.0 494.2h0M193.3 361.2h0M181.2 368.8h0M195.9 356.8h0M185.6 365.3h0M192.5 361.1h0M189.5 364.5h0M191.6 363.0h0M203.0 350.9h0M54.1 481.6h0M196.8 357.3h0M43.1 492.6h0M175.9 374.8h0M200.7 351.9h0M184.0 371.1h0M61.4 478.0h0M203.2 352.6h0M180.4 373.9h0M171.6 379.5h0M167.7 382.5h0M181.7 367.0h0M202.9 350.6h0M46.1 492.0h0M170.1 383.2h0M44.8 494.4h0M182.6 370.2h0M196.0 356.5h0M50.5 487.8h0M193.4 359.6h0M188.6 365.7h0M168.4 381.4h0M173.9 380.2h0M190.9 361.5h0M49.2 487.6h0M163.5 387.2h0M192.0 362.0h0M191.6 361.0h0M169.4 380.3h0M50.6 484.0h0M46.3 487.6h0M181.3 371.4h0M169.3 383.3h0M49.4 487.6h0M55.6 481.4h0M162.7 386.1h0M200.3 354.9h0M49.4 491.5h0M45.8 488.5h0M201.3 357.7h0M164.0 384.5h0M45.2 493.5h0M187.9 363.6h0M171.6 378.3h0M179.8 373.3h0M196.6 354.7h0M179.9 372.5h0M52.8 489.8h0M54.0 484.9h0M184.2 372.5h0M51.9 476.1h0M58.0 484.1h0M51.7 487.7h0M51.6 488.5h0M43.6 493.3h0M161.2 386.2h0M184.1 366.6h0M201.3 354.0h0M56.8 483.4h0M203.6 352.9h0M45.0 492.6h0M174.0 380.6h0M165.8 387.3h0M43.9 494.4h0M197.3 354.4h0M187.3 363.5h0M161.8 390.1h0M180.0 367.3h0M173.4 375.7h0M181.0 370.9h0M49.5 489.0h0M176.4 376.8h0M193.4 360.6h0M201.8 353.1h0M181.6 370.5h0M204.1 352.5h0M202.6 351.0h0M198.3 358.1h0M45.3 493.1h0M190.5 363.8h0M186.2 367.4h0M50.9 488.0h0M198.8 354.4h0M197.4 354.0h0M189.8 366.9h0M184.2 367.2h0M157.5 389.2h0M47.4 489.8h0M188.4 366.3h0M194.3 362.1h0M182.1 369.5h0M199.7 353.4h0M188.9 362.1h0M189.8 363.0h0M193.5 358.5h0M166.4 378.3h0M188.7 363.6h0M200.8 353.4h0M43.3 493.3h0M178.5 369.7h0M190.1 361.4h0M44.9 490.5h0M202.6 351.5h0M44.1 493.5h0M164.7 383.7h0M57.7 481.4h0M58.4 481.9h0M183.7 364.9h0M189.1 360.7h0M201.2 355.8h0M170.8 382.5h0M43.8 492.5h0M45.2 489.5h0M183.0 374.3h0M43.4 490.8h0M46.1 494.4h0M46.8 489.7h0M50.0 490.3h0M191.6 362.3h0M165.3 382.1h0M202.5 352.1h0M48.3 488.6h0M50.4 487.3h0M202.2 353.4h0M49.3 488.2h0M200.7 352.4h0M43.1 492.4h0M49.6 489.6h0M179.3 369.1h0M197.7 354.0h0M180.7 371.5h0M191.7 364.6h0M51.4 492.4h0M69.3 480.1h0M56.8 470.6h0M192.1 360.5h0M52.3 483.3h0M43.2 493.1h0M50.7 483.8h0M52.1 489.6h0M184.0 372.3h0M202.0 354.6h0M197.2 357.9h0M45.1 494.3h0M193.6 359.1h0M50.7 487.1h0M52.0 488.4h0M195.7 357.6h0M53.2 478.7h0M177.3 373.4h0M154.6 397.6h0M177.4 370.2h0M184.7 364.8h0M44.1 493.7h0M45.6 491.5h0M201.9 353.6h0M183.9 366.5h0M203.9 351.3h0M174.3 371.4h0M43.8 491.4h0M45.0 494.0h0M189.8 364.7h0M48.6 487.9h0M200.0 355.5h0M180.1 370.4h0M44.9 494.3h0M48.5 488.1h0M184.0 371.0h0M47.4 490.0h0M54.5 484.8h0M195.2 357.0h0M48.7 486.1h0M57.0 483.9h0M185.3 369.3h0M46.8 492.5h0M194.7 360.1h0M191.1 364.1h0M202.0 352.9h0M45.8 492.0h0M58.4 474.2h0M204.3 350.6h0M185.7 368.8h0M47.2 492.4h0M46.0 490.1h0M48.3 492.0h0M168.3 382.6h0M162.9 393.0h0M60.9 484.4h0M193.8 359.4h0M201.5 353.6h0M193.4 358.6h0M159.3 389.4h0M51.9 486.3h0M191.2 357.5h0M194.2 361.2h0M194.2 359.4h0M44.1 493.9h0M48.8 490.1h0M175.8 372.7h0M173.5 378.5h0M197.4 354.6h0M64.9 481.4h0M202.5 353.2h0M171.4 377.5h0M185.4 368.7h0M199.5 353.5h0M56.8 478.8h0M48.7 486.5h0M203.1 353.1h0M45.8 492.5h0M50.3 487.2h0M61.6 470.8h0M51.5 486.2h0M180.1 369.9h0M186.7 365.0h0M45.0 492.4h0M186.0 367.0h0M196.0 357.1h0M43.4 493.1h0M169.8 383.7h0M178.6 373.5h0M59.4 484.0h0M181.0 367.6h0M44.0 493.9h0M177.4 377.9h0M199.8 354.5h0M163.3 388.2h0M54.1 486.4h0M182.7 369.3h0M181.7 373.9h0M187.4 366.8h0M192.5 359.6h0M157.5 397.6h0M195.8 360.0h0M47.9 491.3h0M157.5 392.2h0M182.2 369.2h0M204.1 350.6h0M57.9 480.2h0M199.5 353.9h0M192.1 361.7h0M173.9 379.1h0M194.9 362.0h0M193.1 361.1h0M183.4 369.8h0M181.4 372.5h0M194.5 360.2h0M190.4 361.7h0M200.6 355.1h0M194.8 362.6h0M48.1 488.6h0M177.9 377.8h0M191.4 361.6h0M173.8 371.2h0M62.3 479.3h0M46.1 493.9h0M194.3 358.0h0M187.3 367.0h0M49.4 487.4h0M45.8 491.5h0M203.6 350.5h0M199.0 354.7h0M189.0 364.4h0M49.0 488.3h0M203.6 352.0h0M199.4 354.0h0M191.7 362.5h0M45.2 491.1h0M43.9 494.4h0M199.8 352.8h0M43.1 492.8h0M49.5 489.3h0M187.0 365.0h0M204.3 351.0h0M50.8 486.3h0M51.5 490.4h0M51.0 487.8h0M197.2 358.9h0M43.5 493.8h0M187.9 363.5h0M49.9 487.2h0M197.5 356.9h0M48.7 489.7h0M175.3 374.8h0M179.0 372.1h0M200.7 353.1h0M45.2 491.6h0M199.1 356.8h0M201.2 352.5h0M194.1 359.0h0M194.6 363.0h0M43.5 494.3h0M201.4 355.2h0M52.9 481.7h0M46.1 493.3h0M196.1 358.3h0M49.4 482.9h0M51.4 490.1h0M194.5 357.8h0M194.9 355.6h0M49.8 490.7h0M191.2 361.1h0M45.0 494.0h0M184.1 368.8h0M46.4 492.7h0M181.5 370.5h0M52.3 490.3h0M50.1 490.0h0M162.5 389.6h0M169.8 381.0h0M180.8 373.6h0M45.1 490.4h0M175.9 374.4h0M196.9 359.1h0M187.6 364.9h0M157.7 395.0h0M172.8 375.1h0M47.6 491.5h0M192.3 360.6h0M176.9 369.6h0M46.2 489.9h0M173.5 379.2h0M195.1 355.4h0M187.6 362.5h0M49.4 489.3h0M204.3 351.6h0M190.1 359.5h0M190.8 365.9h0M157.3 385.0h0M61.6 475.6h0M176.6 374.1h0M187.1 364.3h0M188.5 364.6h0M52.8 489.4h0M180.2 370.1h0M47.1 493.1h0M43.7 493.4h0M181.7 369.3h0M195.8 358.3h0M52.8 487.7h0M191.9 360.6h0M196.8 354.8h0M199.6 356.0h0M49.2 490.2h0M48.8 491.6h0M51.9 483.8h0M201.3 353.9h0M53.5 486.8h0M185.9 364.2h0M189.8 367.1h0M180.9 375.2h0M194.2 358.0h0M171.9 375.2h0M46.4 493.5h0M164.5 380.3h0M46.0 491.7h0M190.4 364.3h0M203.1 351.6h0M203.9 351.0h0M45.2 493.8h0M184.6 368.0h0M189.6 362.3h0M195.0 357.9h0M193.7 359.6h0M175.4 379.6h0M201.3 352.1h0M61.1 477.2h0M199.7 353.9h0M47.9 490.0h0M187.1 368.3h0M198.3 354.9h0M45.8 493.8h0M52.7 485.0h0M43.6 492.1h0M196.9 356.2h0M189.1 365.5h0M187.5 368.1h0M55.8 484.6h0M65.1 472.8h0M202.5 355.7h0M189.5 361.9h0M43.1 492.6h0M200.4 354.3h0M67.5 473.5h0M198.6 357.3h0M164.8 384.3h0M186.4 369.3h0M48.9 489.0h0M203.6 351.7h0M170.3 376.2h0M46.1 489.9h0M184.3 368.9h0M191.5 365.8h0M45.7 492.0h0M190.4 363.3h0M188.2 363.5h0M50.8 490.3h0M198.8 357.9h0M62.6 478.9h0M55.6 479.2h0M182.3 369.9h0M203.7 351.0h0M53.9 478.8h0M168.5 385.5h0M167.5 376.5h0M176.1 375.4h0M51.3 485.6h0M51.3 484.7h0M181.3 372.9h0M55.1 489.0h0M46.5 491.0h0M190.7 363.6h0M201.9 351.4h0M202.9 352.8h0M44.0 494.4h0M165.1 379.1h0M192.9 359.1h0M202.9 353.2h0M43.8 492.9h0M187.7 367.8h0M47.9 486.9h0M168.6 378.2h0M202.0 353.3h0M49.8 493.4h0M49.0 488.2h0M189.5 360.9h0M184.7 366.4h0M176.8 378.0h0M57.9 478.0h0M197.2 356.9h0M200.6 352.0h0M166.5 383.9h0M203.3 353.3h0M167.1 385.7h0M196.3 356.8h0M170.8 377.9h0M185.5 366.8h0M199.2 353.5h0M201.3 352.8h0M204.3 352.5h0M199.4 353.4h0M171.6 377.8h0M172.5 381.9h0M62.3 480.8h0M55.1 483.7h0M183.3 368.0h0M186.9 368.3h0M198.1 354.6h0M193.7 358.9h0M199.4 353.0h0M171.4 380.6h0M156.7 387.6h0M179.9 371.4h0M195.7 358.2h0M194.3 363.4h0M50.6 486.7h0M63.6 477.7h0M48.5 486.9h0M44.5 491.3h0M195.9 357.7h0M199.0 355.3h0M177.6 376.5h0M49.1 493.0h0M54.1 485.7h0M204.0 352.1h0M191.4 362.2h0M194.9 358.5h0M176.0 375.5h0M194.4 356.4h0M182.8 372.7h0M52.8 488.7h0M201.3 354.0h0M46.0 494.4h0M171.0 385.8h0M201.3 353.0h0M51.5 485.9h0M176.2 373.6h0M165.3 385.3h0M196.2 358.4h0M202.1 351.0h0M192.4 361.5h0M200.8 352.3h0M179.0 373.4h0M46.3 492.6h0M203.7 351.0h0M58.5 480.1h0M49.1 484.5h0M185.5 367.8h0M194.8 356.2h0M185.7 367.5h0M178.7 374.6h0M56.7 482.3h0M51.3 490.3h0M191.1 365.3h0M50.7 489.5h0M201.7 351.8h0M178.6 373.5h0M52.3 485.3h0M47.2 490.4h0M203.9 352.5h0M184.6 367.7h0M191.4 365.9h0M52.9 483.0h0M177.7 373.6h0M43.1 492.5h0M54.0 487.9h0M52.5 487.8h0M48.7 490.9h0M45.9 490.5h0M203.6 352.5h0M203.7 352.9h0M171.0 381.4h0M175.2 377.5h0M197.4 355.1h0M46.1 490.9h0M192.1 358.7h0M183.5 366.6h0M202.4 350.6h0M50.5 489.8h0M186.6 369.7h0M197.9 357.9h0M192.1 358.7h0M199.0 355.7h0M50.8 483.9h0M190.8 361.4h0M168.0 374.0h0M44.5 492.6h0M202.5 350.9h0M47.8 485.7h0M46.3 489.1h0M53.7 481.3h0M204.0 352.5h0M186.7 363.0h0M174.0 377.0h0M46.0 490.5h0M168.3 385.9h0M195.0 359.6h0M202.7 354.8h0M189.8 362.4h0M195.4 359.1h0M45.1 494.4h0M181.8 368.7h0M62.9 481.4h0M204.0 351.4h0M197.9 355.0h0M43.1 493.1h0M56.2 484.2h0M184.6 368.8h0M182.4 370.2h0M188.9 368.2h0M198.6 356.3h0M203.9 352.3h0M194.2 360.8h0M168.1 382.8h0M197.2 361.2h0M191.5 365.0h0M192.5 361.1h0M197.9 357.4h0M169.7 380.4h0M49.1 493.8h0M176.4 376.4h0M51.8 488.0h0M186.8 367.7h0M184.8 369.9h0M180.4 374.2h0M181.6 372.6h0M63.2 479.6h0M51.1 487.8h0M43.1 492.3h0M198.4 353.3h0M45.7 491.8h0M199.6 356.2h0M46.4 487.7h0M201.7 351.8h0M196.0 357.4h0M58.8 482.7h0M43.1 492.6h0M189.3 365.6h0M202.4 351.8h0M53.3 484.2h0M52.0 482.9h0M196.0 359.2h0M182.3 370.2h0M56.0 485.3h0M169.7 382.6h0M48.9 486.1h0M179.2 371.1h0M47.6 491.9h0M178.8 375.5h0M203.9 350.7h0M197.0 360.3h0M183.4 370.5h0M189.1 365.0h0M169.1 384.2h0M195.2 356.7h0M188.9 363.2h0M176.7 377.1h0M169.9 383.8h0M195.3 358.3h0M56.8 486.4h0M189.3 365.6h0M172.6 375.8h0M54.0 487.1h0M44.6 491.8h0M172.0 379.4h0M48.7 488.3h0M181.2 370.1h0M184.5 369.0h0M202.1 352.1h0M45.8 490.8h0M184.7 367.8h0M167.1 388.7h0M197.2 358.2h0M187.0 368.4h0M182.6 370.0h0M53.0 489.0h0M203.4 351.4h0M46.5 489.9h0M172.2 381.8h0M51.9 482.6h0M51.1 489.7h0M180.9 369.8h0M181.6 374.2h0M48.6 488.7h0M43.3 493.2h0M201.4 352.5h0M187.9 364.0h0M172.3 382.1h0M189.7 363.3h0M164.0 385.7h0M193.1 361.8h0M47.7 490.7h0M193.2 358.2h0M204.3 351.2h0M200.0 354.4h0M180.8 371.2h0M199.8 354.2h0M186.6 359.5h0M200.0 356.1h0M203.2 350.9h0M43.5 490.5h0M48.1 489.6h0M193.1 361.5h0M58.0 484.8h0M199.9 356.5h0M189.4 361.0h0M48.4 492.3h0M44.3 492.3h0M188.0 365.0h0M196.7 355.5h0M187.6 366.4h0M195.5 356.4h0M185.9 368.9h0M201.1 351.5h0M195.5 361.4h0M159.8 391.8h0M44.5 493.0h0M199.2 354.8h0M191.0 364.0h0M54.0 481.7h0M199.0 353.8h0M163.8 380.3h0M49.2 489.8h0M45.3 492.8h0M195.1 356.1h0M174.7 374.2h0M177.9 377.3h0M180.1 371.6h0M173.5 376.1h0M186.1 367.3h0M202.0 351.8h0M168.8 384.1h0M59.5 480.9h0M195.7 362.4h0M164.5 387.9h0M43.5 490.8h0M45.0 493.3h0M184.8 364.6h0M187.2 364.4h0M197.4 357.6h0M184.2 366.5h0M202.8 353.0h0M49.1 486.6h0M201.1 354.1h0M194.9 358.8h0M45.5 493.2h0M175.2 379.2h0M46.8 490.2h0M47.5 490.8h0M53.4 482.2h0M202.0 351.7h0M56.1 483.4h0M57.3 479.1h0M175.5 375.9h0M193.0 358.3h0M50.3 490.5h0M53.9 486.2h0M202.2 354.2h0M193.6 363.3h0M172.1 384.9h0M181.5 372.9h0M191.4 360.9h0M158.2 390.9h0M199.6 354.7h0M56.2 486.0h0M190.1 361.0h0M183.0 369.9h0M199.3 358.2h0M47.5 489.1h0M181.3 373.1h0M174.3 375.4h0M194.2 359.6h0M197.6 354.7h0M172.4 381.6h0M197.8 357.8h0M181.7 368.4h0M158.7 384.9h0M175.0 374.0h0M202.6 351.3h0M199.3 357.6h0M194.1 357.7h0M199.3 355.4h0M50.2 486.9h0M51.6 490.2h0M54.8 483.7h0M167.1 384.8h0M200.3 355.7h0M191.0 362.5h0M49.1 489.0h0M44.3 487.1h0M184.0 368.1h0M53.9 481.1h0M187.4 369.2h0M198.6 355.3h0M179.4 373.8h0M48.6 488.9h0M184.3 372.6h0M198.4 359.0h0M203.0 352.3h0M166.8 387.1h0M200.1 353.6h0M43.7 493.3h0M201.7 352.4h0M199.1 354.6h0M198.5 353.6h0M191.4 361.3h0M196.5 358.3h0M186.9 369.0h0M55.6 485.5h0M54.3 485.7h0M179.3 374.7h0M195.5 358.4h0M188.0 366.1h0M177.6 373.8h0M43.4 492.7h0M56.2 475.5h0M194.3 359.8h0M186.9 368.3h0M197.9 357.7h0M197.1 357.2h0M171.0 377.8h0M47.4 490.4h0M46.9 492.0h0M177.5 377.2h0M57.2 483.8h0M202.3 352.8h0M186.6 363.7h0M202.3 350.6h0M195.1 358.1h0M188.0 362.0h0M196.5 357.9h0M45.4 492.8h0M55.3 484.6h0M186.6 366.5h0M194.4 358.9h0M44.6 492.9h0M54.7 488.1h0M193.4 363.1h0M183.1 371.6h0M173.1 379.7h0M50.0 487.7h0M56.3 483.6h0M57.1 484.1h0M201.2 350.9h0M174.1 375.8h0M54.7 488.0h0M185.9 369.8h0M48.4 489.3h0M181.7 370.6h0M64.7 476.9h0M176.2 376.9h0M172.0 380.7h0M193.2 358.2h0M187.7 367.9h0M173.0 375.0h0M200.1 354.6h0M204.2 351.0h0M53.3 481.2h0M192.5 357.6h0M61.5 475.5h0M48.6 493.3h0M55.7 479.4h0M50.1 488.4h0M53.3 483.5h0M203.3 351.9h0M190.2 362.5h0M181.6 372.8h0M57.2 483.5h0M56.0 483.1h0M48.5 491.7h0M50.1 486.3h0M197.0 356.6h0M171.7 381.8h0M178.5 371.4h0M51.4 487.2h0M196.3 360.6h0M187.9 365.6h0M43.9 492.8h0M201.4 351.5h0M54.6 487.2h0M177.9 375.9h0M196.2 359.0h0M202.4 353.1h0M47.3 490.5h0M62.9 484.8h0M195.9 354.5h0M199.3 356.5h0M57.6 482.3h0M188.7 365.5h0M191.4 360.0h0M57.1 483.0h0M191.7 358.7h0M197.0 358.5h0M202.8 351.5h0M52.9 484.2h0M185.8 370.0h0M179.6 372.0h0M53.7 483.9h0M191.8 362.8h0M201.6 353.8h0M183.6 367.8h0M47.6 488.9h0M203.2 354.5h0M49.1 489.1h0M192.0 361.4h0M199.8 353.2h0M188.8 364.5h0M47.1 491.3h0M175.3 372.6h0M188.5 365.5h0M50.3 483.3h0M57.6 485.5h0M187.2 369.1h0M162.6 391.7h0M180.3 367.4h0M188.5 360.2h0M173.6 380.2h0M196.3 359.9h0M54.4 483.0h0M47.4 488.8h0M173.5 379.8h0M50.2 488.5h0M201.4 353.8h0M45.3 488.9h0M45.4 492.3h0M201.0 352.8h0M54.5 486.1h0M44.5 492.7h0M194.9 357.0h0M46.8 490.0h0M162.5 383.7h0M65.4 481.1h0M47.3 491.5h0M197.4 355.5h0M194.6 359.4h0M203.1 353.4h0M175.1 384.5h0M185.9 363.4h0M54.5 487.1h0M185.0 367.9h0M163.7 386.2h0M51.2 477.9h0M174.9 381.3h0M43.7 490.8h0M200.8 356.6h0M198.8 353.7h0M176.8 372.6h0M166.8 381.4h0M193.9 359.1h0M164.2 384.6h0M202.9 352.8h0M182.4 374.7h0M185.7 365.9h0M43.2 490.2h0M43.7 494.2h0M191.5 359.6h0M193.9 362.6h0M190.2 362.5h0M190.6 361.9h0M164.9 386.1h0M170.6 375.9h0M182.8 370.7h0M178.1 370.9h0M49.0 491.1h0M170.4 384.0h0M182.0 369.5h0M53.1 484.2h0M44.8 492.2h0M49.3 485.9h0M54.2 487.2h0M167.4 384.0h0M184.1 366.6h0M202.5 351.4h0M165.8 386.2h0M192.9 362.3h0M178.6 371.1h0M174.5 369.8h0M176.8 371.0h0M198.7 354.3h0M61.9 479.0h0M202.8 352.3h0M45.1 492.7h0M49.3 489.8h0M177.2 374.2h0M199.8 353.8h0M52.5 484.0h0M53.8 478.7h0M190.9 362.9h0M178.5 375.7h0M175.2 377.7h0M200.2 354.9h0M50.2 489.2h0M188.0 365.3h0M49.4 486.2h0M198.4 356.2h0M49.5 489.0h0M52.6 486.1h0M52.9 488.7h0M195.6 355.3h0M45.3 493.0h0M45.2 490.6h0M58.9 475.1h0M192.3 361.6h0M48.9 489.2h0M183.2 372.8h0M175.5 375.2h0M193.7 359.3h0M55.1 484.3h0M49.0 492.0h0M50.6 488.1h0M183.6 365.6h0M44.7 492.6h0M169.7 375.8h0M179.5 370.9h0M170.5 381.2h0M188.3 361.5h0M188.6 365.8h0M203.9 351.3h0M47.0 491.9h0M174.5 377.8h0M186.1 368.5h0M172.5 376.8h0M55.4 479.7h0M175.6 375.7h0M199.2 356.5h0M202.3 351.9h0M48.9 489.6h0M197.4 355.3h0M55.1 484.0h0M51.4 488.7h0M53.4 488.1h0M53.4 486.1h0M46.7 492.2h0M195.5 359.6h0M175.2 377.1h0M46.3 490.7h0M55.7 485.5h0M160.8 382.2h0M202.6 352.1h0M167.4 380.6h0M172.1 381.9h0M56.6 479.9h0M177.9 378.0h0M53.0 485.8h0M55.9 486.0h0M202.3 353.3h0M184.6 367.2h0M178.7 373.6h0M70.9 482.9h0M47.4 491.1h0M179.0 374.4h0M45.0 492.6h0M197.9 357.9h0M51.0 488.6h0M196.6 357.1h0M60.3 479.7h0M197.5 354.2h0M54.7 486.0h0M191.1 359.6h0M197.0 357.3h0M198.9 356.9h0M184.8 369.0h0M193.4 362.6h0M168.6 385.5h0M190.8 365.0h0M165.1 383.7h0M201.1 350.5h0M196.9 357.0h0M57.6 481.1h0M44.1 493.1h0M47.7 489.5h0M171.8 380.3h0M187.0 365.0h0M197.1 356.9h0M187.3 362.8h0M51.3 489.9h0M202.8 353.7h0M186.7 369.3h0M198.8 354.1h0M203.0 352.9h0M180.6 369.1h0M198.8 356.1h0M190.0 363.5h0M181.9 371.3h0M171.0 382.1h0M45.4 493.5h0M47.4 489.7h0M192.0 362.3h0M202.6 352.1h0M188.8 369.3h0M202.7 352.4h0M193.2 359.5h0M183.5 367.7h0M47.7 490.1h0M200.7 353.6h0M175.3 377.8h0M202.6 352.6h0M54.0 487.5h0M50.4 486.9h0M192.7 359.7h0M199.5 357.5h0M163.7 381.6h0M194.3 361.5h0M54.4 479.3h0M173.8 382.7h0M200.8 353.7h0M50.3 488.5h0M194.5 356.4h0M193.1 360.1h0M203.3 354.8h0M57.6 485.9h0M188.7 362.2h0M47.3 489.7h0M194.2 359.8h0M55.8 480.1h0M165.2 376.8h0M197.6 356.3h0M194.9 361.3h0M192.0 361.2h0M195.0 361.0h0M197.1 356.0h0M51.0 488.2h0M45.6 493.4h0M176.6 373.6h0M176.5 373.5h0M54.2 478.9h0M180.7 368.8h0M57.5 483.3h0M202.8 351.4h0M178.9 374.3h0M51.2 490.7h0M46.5 488.3h0M174.4 379.9h0M201.3 353.5h0M174.2 378.6h0M195.7 353.8h0M191.2 362.4h0M195.9 360.2h0M47.5 491.5h0M50.4 491.5h0M52.0 486.1h0M158.8 400.6h0M203.0 352.1h0M191.2 363.0h0M203.2 353.0h0M189.4 366.8h0M169.5 382.6h0M188.1 362.5h0M177.6 374.2h0M49.5 486.0h0M194.8 357.5h0M202.3 354.4h0M181.8 375.4h0M186.1 365.8h0M170.9 378.4h0M46.2 493.6h0M52.1 484.6h0M162.0 382.0h0M44.6 492.6h0M62.5 481.4h0M176.1 378.0h0M46.4 489.7h0M54.9 486.4h0M178.7 373.2h0M53.0 486.2h0M192.0 362.8h0M51.4 489.6h0M184.8 364.7h0M201.8 352.0h0M187.6 366.0h0M55.1 484.7h0M56.5 487.5h0M186.4 368.0h0M57.7 486.0h0M53.1 481.9h0M198.3 357.7h0M200.0 352.7h0M51.0 488.2h0M193.4 355.9h0M44.4 491.7h0M199.0 355.1h0M54.4 484.3h0M44.1 492.6h0M203.0 354.7h0M184.9 365.1h0M171.8 380.5h0M201.0 353.4h0M202.6 352.5h0M50.8 487.1h0M180.0 369.9h0M163.7 382.9h0M44.1 492.7h0M185.8 365.8h0M58.5 480.4h0M179.1 372.8h0M45.3 493.7h0M185.0 366.4h0M195.4 356.9h0M43.4 492.9h0M168.0 379.6h0M201.7 351.1h0M193.4 364.9h0M186.4 365.4h0M48.1 490.5h0M179.9 374.2h0M184.5 369.5h0M188.0 365.7h0M53.7 486.3h0M186.1 368.0h0M45.7 492.0h0M202.0 351.5h0M192.3 359.0h0M202.4 352.3h0M47.3 489.2h0M49.1 489.7h0M197.2 355.3h0M43.1 492.2h0M180.7 375.8h0M175.8 374.1h0M169.0 380.6h0M57.6 484.1h0M56.9 481.6h0M44.6 492.2h0M46.2 492.1h0M48.7 490.9h0M160.8 392.2h0M195.6 358.9h0M198.3 353.7h0M46.9 491.3h0M199.0 357.7h0M201.1 354.2h0M52.0 485.5h0M179.3 375.6h0M61.3 477.8h0M193.4 361.4h0M47.8 492.3h0M203.9 351.7h0M185.2 371.3h0M201.0 352.9h0M61.2 482.2h0M52.3 487.0h0M196.7 356.5h0M50.8 487.5h0M158.3 387.4h0M44.6 493.5h0M200.0 357.2h0M57.4 481.2h0M180.6 370.8h0M64.2 477.5h0M199.2 355.6h0M51.3 489.7h0M44.1 492.9h0M49.4 490.8h0M186.2 367.1h0M185.5 368.8h0M178.0 366.5h0M50.0 488.0h0M201.7 354.1h0M200.3 354.9h0M195.8 359.5h0M196.7 357.8h0M48.7 491.0h0M43.7 494.3h0M168.5 380.1h0M181.0 366.1h0M47.4 491.7h0M194.2 362.9h0M52.9 489.9h0M191.7 361.8h0M191.9 365.0h0M43.9 494.2h0M58.9 481.3h0M174.3 379.8h0M195.0 359.8h0M203.1 351.0h0M185.2 363.7h0M63.3 481.7h0M44.4 493.2h0M188.5 366.6h0M49.5 490.8h0M199.2 355.6h0M176.0 379.2h0M192.3 362.0h0M46.3 492.3h0M200.4 354.4h0M193.2 360.0h0M48.6 491.0h0M174.3 376.9h0M190.8 363.0h0M51.4 487.7h0M200.1 351.9h0M186.7 371.1h0M171.4 384.9h0M48.6 493.1h0M194.1 359.6h0M159.9 389.8h0M199.7 355.2h0M45.7 493.9h0M202.3 353.8h0M184.7 365.5h0M201.4 355.4h0M192.3 362.2h0M44.0 494.3h0M194.6 360.5h0M191.5 365.2h0M51.4 487.6h0M190.2 363.2h0M165.9 382.1h0M199.4 353.5h0M55.6 482.4h0M198.8 356.3h0M51.1 489.9h0M178.2 375.7h0M192.0 359.6h0M43.3 494.2h0M183.7 367.6h0M44.3 491.6h0M186.7 363.8h0M45.9 493.6h0M199.3 360.2h0M56.8 483.4h0M51.4 486.1h0M169.2 381.4h0M194.3 359.9h0M44.2 494.4h0M194.0 362.9h0M46.3 492.0h0M52.0 482.7h0M48.3 491.2h0M196.2 358.3h0M176.5 376.3h0M199.0 356.7h0M179.1 377.5h0M53.1 485.1h0M62.0 480.3h0M184.6 368.7h0M44.9 491.2h0M174.0 373.3h0M50.2 488.4h0M46.2 489.6h0M174.5 380.8h0M201.7 352.3h0M171.9 379.1h0M56.8 480.2h0M53.2 481.1h0M192.0 360.3h0M200.7 354.1h0M45.5 491.5h0M166.6 385.9h0M200.1 351.7h0M52.5 487.5h0M52.7 486.9h0M196.8 358.6h0M166.3 385.1h0M178.9 373.1h0M176.8 375.4h0M49.9 485.7h0M188.8 367.8h0M185.4 365.3h0M196.5 354.8h0M193.6 357.8h0M174.8 374.2h0M48.7 489.7h0M44.7 492.6h0M170.4 378.5h0M181.5 372.4h0M44.2 492.6h0M200.8 353.8h0M173.3 381.2h0M44.7 490.4h0M198.9 357.0h0M193.7 359.8h0M49.1 490.9h0M46.5 492.1h0M193.3 360.2h0M200.8 356.1h0M47.3 491.1h0M162.8 386.9h0M199.0 356.9h0M197.8 353.5h0M199.1 355.5h0M50.4 486.4h0M178.3 371.6h0M192.1 361.7h0M198.3 356.0h0M169.2 380.8h0M46.8 491.0h0M47.2 491.7h0M60.4 478.7h0M183.6 370.8h0M168.0 381.6h0M45.5 493.2h0M201.0 355.4h0M188.0 365.3h0M48.2 493.0h0M46.4 491.6h0M171.3 379.1h0M177.8 371.6h0M51.3 484.6h0M49.8 485.4h0M47.9 487.8h0M200.3 355.1h0M173.4 371.1h0M46.0 491.1h0M201.9 353.0h0M157.1 397.4h0M47.1 487.4h0M199.8 353.4h0M192.0 360.6h0M60.5 480.8h0M196.5 358.0h0M170.7 381.0h0M166.0 387.4h0M193.6 361.5h0M43.9 493.3h0M43.6 491.5h0M160.7 391.8h0M184.4 370.8h0M52.5 486.5h0M44.4 492.9h0M172.2 382.2h0M195.9 359.8h0M167.3 383.8h0M176.2 380.1h0M201.4 351.7h0M195.9 358.1h0M192.2 359.2h0M197.8 355.7h0M193.5 359.6h0M177.4 373.8h0M197.7 357.4h0M202.5 352.7h0M195.2 358.3h0M51.1 487.4h0M44.7 492.6h0M44.7 494.3h0M200.1 352.9h0M169.8 377.8h0M47.4 488.7h0M54.4 479.6h0M52.9 486.2h0M190.7 362.0h0M55.2 482.5h0M185.7 369.2h0M184.7 366.2h0M48.4 492.0h0M192.2 361.0h0M197.8 355.8h0M54.3 482.6h0M198.9 356.6h0M172.3 377.9h0M53.5 487.7h0M202.1 353.9h0M200.6 352.4h0M201.3 355.5h0M51.9 485.7h0M45.8 493.3h0M54.7 483.2h0M197.6 355.9h0M202.9 352.1h0M161.8 391.1h0M177.6 369.7h0M57.2 481.8h0M166.2 380.6h0M200.8 352.1h0M46.9 487.0h0M162.4 385.5h0M169.1 381.7h0M43.1 491.6h0M200.3 354.7h0M173.8 373.1h0M202.4 350.7h0M49.2 490.4h0M45.5 493.2h0M46.5 491.9h0M47.8 485.4h0M55.9 486.2h0M46.0 492.0h0M192.3 359.4h0M152.8 392.5h0M157.0 391.0h0M188.3 364.5h0M47.4 486.0h0M203.3 351.6h0M51.9 490.1h0M46.3 491.4h0M195.9 356.4h0M49.0 489.7h0M193.1 361.6h0M52.2 480.7h0M188.6 363.7h0M191.9 357.8h0M183.6 368.6h0M43.4 492.6h0M188.6 360.1h0M185.2 369.6h0M51.4 487.3h0M188.2 369.1h0M47.3 489.9h0M179.6 374.2h0M55.1 487.5h0M175.4 378.1h0M160.6 391.4h0M181.7 373.2h0M172.9 375.0h0M196.9 360.0h0M182.4 368.7h0M180.4 375.1h0M187.7 362.4h0M199.4 355.8h0M187.1 362.1h0M198.3 355.8h0M196.7 360.6h0M50.9 486.0h0M168.5 382.4h0M182.6 371.5h0M198.9 354.4h0M54.3 483.0h0M198.5 356.0h0M186.1 368.5h0M181.2 371.4h0M48.6 489.7h0M45.4 490.3h0M195.9 357.8h0M184.5 363.7h0M191.1 364.3h0M58.3 480.6h0M177.0 372.6h0M47.3 489.5h0M190.2 362.9h0M48.6 489.5h0M171.6 372.8h0M61.3 479.0h0M179.2 373.5h0M191.6 358.9h0M51.1 487.6h0M190.2 365.1h0M48.5 492.1h0M56.5 485.4h0M50.3 488.6h0M53.4 483.9h0M50.4 488.5h0M179.0 373.9h0M196.6 359.9h0M167.0 381.5h0M194.4 360.3h0M194.6 357.6h0M56.6 479.5h0M48.6 492.0h0M203.1 352.1h0M196.6 357.1h0M185.1 370.9h0M48.3 492.4h0M52.0 489.1h0M162.0 391.8h0M52.5 485.0h0M185.4 367.7h0M173.2 373.0h0M182.3 377.5h0M202.3 353.4h0M172.6 380.1h0M174.7 374.1h0M197.5 358.1h0M159.6 388.8h0M44.3 490.9h0M160.3 392.1h0M198.0 354.6h0M50.3 488.0h0M182.8 371.9h0M203.1 352.1h0M50.6 488.1h0M188.1 362.7h0M201.1 353.3h0M174.5 375.3h0M163.4 384.8h0M49.2 488.1h0M185.9 367.4h0M46.8 493.9h0M197.4 360.2h0M57.6 481.8h0M187.3 365.5h0M179.6 372.8h0M195.7 363.1h0M195.8 358.6h0M46.0 492.5h0M200.9 353.4h0M199.6 354.4h0M196.6 359.1h0M46.7 491.1h0M50.7 488.6h0M46.6 490.5h0M186.6 365.1h0M58.1 481.3h0M178.7 374.5h0M192.5 360.8h0M202.4 353.3h0M51.5 488.2h0M162.0 386.0h0M50.8 481.9h0M175.0 376.0h0M186.3 366.0h0M170.5 380.3h0M43.8 491.6h0M185.7 368.5h0M197.3 357.3h0M187.4 363.6h0M43.9 491.5h0M200.4 356.3h0M199.9 354.7h0M196.7 360.2h0M173.8 378.5h0M160.2 389.7h0M182.3 367.5h0M202.1 350.8h0M62.4 477.3h0M183.6 371.0h0M53.8 486.8h0M183.9 367.8h0M44.7 493.7h0M194.3 360.8h0M189.3 364.7h0M192.7 361.7h0M191.7 360.6h0M180.5 376.4h0M46.3 490.2h0M44.7 492.3h0M203.0 352.3h0M195.5 359.1h0M200.9 355.1h0M179.2 371.1h0M49.5 492.2h0M192.3 363.4h0M200.6 355.5h0M44.3 491.8h0M204.3 353.7h0M180.4 374.6h0M51.3 486.1h0M199.6 353.4h0M47.0 491.6h0M203.3 350.5h0M173.7 379.3h0M51.7 488.2h0M192.6 360.7h0M202.1 353.8h0M197.2 354.1h0M203.9 351.5h0M60.9 476.3h0M203.1 352.0h0M203.0 350.7h0M175.8 375.1h0M187.8 363.7h0M196.2 356.7h0M200.4 353.5h0M49.1 488.8h0M193.7 360.4h0M202.6 353.0h0M199.7 356.6h0M167.6 380.3h0M189.2 367.0h0M49.5 485.8h0M60.8 481.7h0M190.6 360.9h0M170.4 380.3h0M182.6 369.8h0M198.7 353.9h0M187.8 365.7h0M56.3 482.1h0M43.3 493.1h0M176.7 373.5h0M44.3 494.4h0M187.6 366.2h0M200.3 351.4h0M169.4 381.6h0M185.4 365.8h0M168.7 379.8h0M198.1 352.4h0M191.4 360.0h0M43.1 492.1h0M173.8 374.8h0M61.2 479.0h0M189.3 364.4h0M182.5 370.8h0M57.7 486.8h0M192.4 357.7h0M49.9 485.2h0M47.2 490.4h0M198.9 354.4h0M53.9 485.0h0M185.5 365.4h0M190.2 362.9h0M201.4 354.1h0M180.1 371.9h0M202.9 351.3h0M187.7 361.7h0M183.4 372.6h0M44.5 490.6h0M43.8 489.4h0M195.1 359.1h0M48.1 493.1h0M194.4 362.3h0M43.1 492.3h0M201.2 354.7h0M185.9 365.3h0M200.0 353.3h0M204.2 351.4h0M191.0 362.2h0M169.5 383.8h0M55.2 484.2h0M57.5 484.2h0M197.2 355.4h0M47.2 491.5h0M43.5 492.9h0M177.5 374.4h0M50.3 489.2h0M197.0 359.9h0M46.0 491.4h0M200.0 354.1h0M201.2 352.8h0M193.0 359.8h0M185.4 364.8h0M49.1 488.4h0M44.6 492.9h0M169.4 386.5h0M200.3 356.4h0M61.2 471.7h0M182.4 372.0h0M57.2 475.0h0M177.5 369.8h0M195.0 360.1h0M48.1 489.2h0M185.0 365.6h0M170.9 375.7h0M203.3 352.6h0M191.1 364.8h0M58.1 480.6h0M50.9 488.4h0M52.0 487.9h0M202.6 352.5h0M192.1 361.6h0M50.7 484.5h0M178.4 374.6h0M179.6 373.4h0M50.9 486.2h0M198.2 355.5h0M196.8 354.9h0M46.7 490.4h0M186.7 365.3h0M197.5 355.8h0M47.6 490.6h0M46.3 489.9h0M197.3 354.3h0M197.1 354.1h0M190.2 360.9h0M49.4 488.0h0M189.9 363.2h0M45.9 491.5h0M46.9 489.1h0M187.2 368.4h0M55.1 486.9h0M180.7 372.1h0M58.3 487.3h0M189.9 363.8h0M198.3 358.9h0M176.3 375.2h0M184.3 366.3h0M160.1 387.4h0M175.2 375.5h0M46.5 491.7h0M187.1 365.8h0M51.4 486.6h0M43.7 494.2h0M201.7 354.1h0M187.5 363.8h0M197.1 359.6h0M51.9 489.8h0M46.8 493.7h0M52.5 485.9h0M43.4 492.6h0M55.1 479.0h0M198.1 353.2h0M161.5 384.2h0M189.2 364.9h0M173.8 375.7h0M189.0 363.4h0M164.4 383.8h0M192.1 361.9h0M166.2 382.0h0M48.7 492.2h0M170.2 381.0h0M44.3 489.6h0M191.5 361.9h0M186.6 366.4h0M197.1 357.6h0M196.6 355.2h0M196.6 355.5h0M184.3 369.7h0M196.0 356.7h0M196.1 358.3h0M184.5 369.3h0M50.9 490.6h0M156.1 388.0h0M162.1 388.6h0M184.4 369.8h0M180.4 369.1h0M203.4 351.0h0M186.8 364.2h0M46.3 492.9h0M48.5 492.4h0M194.4 361.1h0M54.5 485.0h0M53.1 483.4h0M187.2 367.7h0M190.2 363.5h0M200.2 354.6h0M47.3 492.6h0M46.4 492.3h0M51.0 489.9h0M198.3 353.9h0M44.9 493.2h0M169.4 382.3h0M192.6 363.8h0M192.8 362.8h0M203.7 352.7h0M203.1 351.3h0M179.8 369.5h0M50.1 490.9h0M50.2 490.0h0M45.0 492.9h0M43.3 493.7h0M190.6 363.8h0M201.2 353.6h0M192.2 360.7h0M188.2 361.1h0M46.2 494.2h0M47.1 489.9h0M200.6 352.5h0M197.1 358.0h0M49.5 486.9h0M201.1 353.3h0M204.2 351.8h0M198.4 355.7h0M195.5 357.4h0M181.8 373.3h0M63.5 474.9h0M199.2 355.2h0M188.9 365.9h0M189.9 366.1h0M179.2 374.6h0M200.1 354.2h0M181.1 370.3h0M162.9 388.4h0M173.1 377.6h0M180.4 375.8h0M191.6 361.7h0M172.1 373.8h0M162.9 388.8h0M50.6 491.2h0M58.4 481.8h0M197.0 355.8h0M44.8 492.5h0M43.9 493.0h0M195.4 358.7h0M52.0 484.9h0M51.1 482.5h0M168.9 376.3h0M196.4 356.4h0M200.4 356.9h0M196.5 356.0h0M44.2 493.6h0M199.8 356.1h0M48.8 490.7h0M44.0 492.6h0M56.0 480.1h0M50.3 486.4h0M195.6 356.8h0M47.2 489.8h0M47.1 489.3h0M188.6 367.3h0M202.9 351.6h0M195.8 357.2h0M43.6 492.8h0M190.4 365.4h0M200.5 355.5h0M163.8 390.5h0M200.6 355.8h0M195.9 357.6h0M46.3 489.8h0M187.4 367.3h0M198.8 355.8h0M200.6 353.0h0M57.8 485.5h0M158.8 397.8h0M45.7 492.0h0M202.0 350.9h0M201.0 353.5h0M190.6 365.1h0M196.4 357.5h0M49.5 488.4h0M47.2 490.0h0M194.3 357.4h0M47.8 490.9h0M48.1 489.1h0M187.3 368.2h0M194.2 359.0h0M52.9 485.0h0M49.7 488.9h0M200.2 350.5h0M46.1 494.4h0M201.9 352.8h0M203.6 353.4h0M189.0 364.8h0M201.5 352.7h0M181.2 374.1h0M45.4 489.9h0M51.3 490.5h0M46.6 492.4h0M64.3 478.0h0M53.4 486.2h0M183.8 368.3h0M43.9 492.2h0M194.5 358.4h0M46.5 489.8h0M196.7 357.0h0M200.2 353.9h0M196.9 356.3h0M186.1 366.6h0M198.5 352.1h0M174.6 373.0h0M202.7 352.8h0M47.2 492.8h0M58.4 475.9h0M168.9 380.1h0M191.7 359.3h0M199.8 353.9h0M189.8 364.3h0M55.8 484.5h0M178.0 374.7h0M166.1 383.5h0M185.1 369.0h0M56.6 481.1h0M173.4 384.6h0M185.4 369.6h0M177.5 374.4h0M44.8 493.3h0M202.3 351.9h0M52.5 488.3h0M199.2 356.2h0M189.8 364.1h0M55.7 483.7h0M51.0 487.5h0M44.4 494.4h0M204.0 350.7h0M56.7 485.0h0M47.9 490.1h0M193.9 357.8h0M195.4 358.5h0M190.4 360.4h0M46.8 488.2h0M46.2 491.3h0M44.4 491.4h0M44.9 492.2h0M196.0 356.5h0M173.5 376.7h0M184.2 361.6h0M202.0 351.1h0M56.2 486.6h0M191.5 362.7h0M53.6 489.6h0M163.2 383.7h0M168.7 384.3h0M171.8 381.2h0M47.6 487.4h0M197.3 354.2h0M43.9 494.2h0M202.2 350.5h0M203.3 352.6h0M172.1 375.9h0M183.1 371.7h0M200.4 356.0h0M43.8 493.3h0M180.5 368.8h0M165.1 387.3h0M46.9 490.1h0M172.7 379.6h0M204.3 352.5h0M177.8 378.2h0M199.2 357.2h0M189.1 364.0h0M164.8 383.6h0M45.2 491.9h0M48.0 491.6h0M46.3 490.1h0M199.4 355.0h0M48.2 488.8h0M185.8 363.1h0M199.9 352.6h0M193.0 363.4h0M200.9 353.2h0M202.9 352.3h0M44.2 493.7h0M197.4 358.8h0M195.5 357.8h0M52.0 490.3h0M187.7 365.1h0M179.8 376.7h0M190.6 361.4h0M162.3 397.7h0M47.8 490.9h0M163.9 377.9h0M46.5 491.9h0M53.1 482.1h0M54.7 483.9h0M183.9 369.2h0M189.0 362.7h0M182.4 368.8h0M196.7 357.4h0M44.2 493.1h0M161.2 386.3h0M165.9 376.3h0M45.5 491.9h0M184.7 368.8h0M185.2 364.9h0M192.4 359.7h0M67.3 476.0h0M190.3 361.0h0M200.2 354.6h0M47.8 488.4h0M198.9 357.2h0M53.7 486.7h0M195.9 359.0h0M59.4 476.1h0M189.1 363.0h0M195.1 359.7h0M191.5 360.6h0M204.3 351.2h0M168.1 382.1h0M54.0 487.5h0M47.4 488.3h0M44.7 491.1h0M44.0 493.7h0M196.7 357.8h0M195.9 357.6h0M186.0 367.5h0M43.8 491.7h0M194.2 360.8h0M56.0 484.6h0M196.3 356.0h0M174.4 378.7h0M50.9 486.3h0M198.9 358.8h0M171.1 380.2h0M43.8 494.4h0M43.4 492.2h0M51.4 484.5h0M162.7 390.7h0M46.0 493.7h0M187.5 366.3h0M199.1 353.3h0M191.1 359.4h0M175.5 375.9h0M194.5 360.9h0M200.5 353.1h0M44.7 493.8h0M43.7 493.1h0M197.2 357.6h0M177.4 372.6h0M185.4 366.1h0M43.5 493.7h0M192.7 359.0h0M200.3 350.9h0M185.5 366.0h0M200.3 357.4h0M190.7 363.3h0M52.9 486.8h0M200.5 354.2h0M190.9 358.2h0M182.0 368.2h0M178.0 371.9h0M169.0 380.1h0M190.5 362.8h0M199.0 354.4h0M199.8 354.6h0M55.5 487.5h0M51.4 489.1h0M52.3 484.8h0M185.6 364.9h0M45.9 490.3h0M196.5 354.3h0M47.5 491.4h0M187.5 363.8h0M197.4 356.2h0M55.6 483.9h0M43.5 493.6h0M188.7 365.9h0M203.4 351.0h0M47.6 489.7h0M59.9 485.3h0M168.0 383.4h0M174.6 375.3h0M202.2 355.0h0M46.3 491.2h0M197.3 357.1h0M192.7 364.2h0M200.1 355.4h0M193.0 358.5h0M182.3 369.1h0M45.6 494.0h0M181.8 373.5h0M190.7 360.6h0M51.6 486.2h0M182.9 367.4h0M179.7 368.7h0M195.0 356.9h0M201.9 354.2h0M199.0 359.0h0M168.9 386.0h0M167.2 384.5h0M162.6 389.2h0M59.5 475.0h0M49.9 491.1h0M188.9 362.2h0M47.5 490.1h0M194.8 358.9h0M178.2 374.5h0M201.5 352.2h0M45.3 492.0h0M195.7 359.2h0M181.9 371.2h0M48.3 487.3h0M56.5 480.9h0M159.7 389.5h0M44.8 493.5h0M53.2 488.1h0M52.8 478.5h0M176.0 377.0h0M45.3 493.3h0M194.3 358.9h0M193.1 361.5h0M47.9 489.5h0M58.5 479.8h0M194.9 357.5h0M45.5 494.3h0M190.2 361.6h0M202.3 353.4h0M47.7 491.6h0M197.8 354.4h0M64.1 477.2h0M153.0 391.3h0M186.3 367.7h0M168.9 383.3h0M179.5 377.9h0M189.8 363.8h0M52.2 487.0h0M204.2 351.0h0M45.0 493.1h0M202.2 350.5h0M169.4 378.9h0M49.7 491.5h0M194.7 361.2h0M194.7 356.2h0M183.3 368.3h0M195.3 355.6h0M198.1 353.9h0M49.3 485.9h0M199.4 357.2h0M183.8 365.0h0M173.8 373.5h0M64.2 475.8h0M188.9 363.1h0M48.4 491.7h0M170.3 382.6h0M195.8 354.9h0M49.1 488.5h0M173.7 377.5h0M185.7 368.6h0M195.1 358.2h0M45.1 492.6h0M204.2 355.3h0M164.9 387.2h0M46.7 489.6h0M46.4 490.1h0M200.1 358.8h0M169.9 383.2h0M169.2 378.7h0M182.9 364.0h0M46.6 492.5h0M50.1 489.3h0M165.3 384.0h0M52.7 487.5h0M195.2 358.1h0M194.4 362.5h0M43.9 494.4h0M160.5 388.1h0M186.9 363.6h0M159.9 388.0h0M185.4 369.0h0M193.5 357.5h0M170.9 374.0h0M202.7 350.5h0M183.5 368.7h0M49.5 485.8h0M180.6 371.5h0M194.9 358.6h0M173.0 378.4h0M43.8 492.2h0M199.1 352.8h0M163.2 393.9h0M45.9 493.6h0M49.7 489.0h0M190.8 359.9h0M193.7 360.2h0M43.7 493.3h0M49.0 491.5h0M48.9 491.9h0M203.0 351.2h0M203.8 350.7h0M185.2 371.4h0M43.9 493.4h0M43.6 493.9h0M177.0 377.4h0M45.5 491.8h0M182.5 371.2h0M194.7 360.5h0M181.3 370.7h0M187.1 370.0h0M173.7 379.7h0M185.3 364.5h0M198.2 357.1h0M192.0 361.7h0M56.6 483.4h0M170.7 379.4h0M173.7 376.6h0M177.2 375.2h0M186.1 368.4h0M199.7 353.2h0M44.8 494.4h0M194.7 360.7h0M190.6 362.1h0M203.0 355.2h0M55.5 483.1h0M192.3 356.9h0M204.3 351.6h0M199.8 354.9h0M52.7 484.5h0M176.5 372.5h0M166.6 384.5h0M62.4 477.1h0M192.6 359.1h0M167.7 381.7h0M53.8 484.3h0M188.6 370.0h0M58.5 483.2h0M185.0 364.7h0M199.3 358.6h0M193.6 358.3h0M196.4 358.8h0M168.3 384.0h0M48.6 491.9h0M55.4 479.5h0M54.6 483.2h0M45.8 490.1h0M54.2 479.5h0M48.7 491.8h0M44.4 493.4h0M46.2 492.2h0M47.1 493.8h0M49.7 489.0h0M49.6 490.0h0M172.4 378.1h0M53.5 486.2h0M183.8 366.4h0M48.4 490.8h0M183.0 371.7h0M177.8 375.5h0M190.2 363.8h0M49.7 489.3h0M201.7 353.6h0M190.7 363.6h0M164.8 382.8h0M49.1 485.2h0M197.9 358.6h0M48.7 490.8h0M46.9 490.3h0M197.0 359.5h0M196.1 356.9h0M191.8 360.7h0M201.3 353.9h0M58.5 482.9h0M48.8 490.4h0M51.7 487.0h0M47.9 491.4h0M52.6 488.3h0M160.4 389.9h0M195.5 359.4h0M197.7 355.0h0M48.8 493.5h0M50.2 488.4h0M53.2 487.7h0M166.7 385.8h0M192.4 361.6h0M196.4 356.9h0M45.1 493.2h0M45.2 491.9h0M46.7 492.7h0M188.8 363.0h0M50.7 482.1h0M160.6 385.2h0M48.1 487.7h0M168.5 383.3h0M60.5 472.3h0M192.9 358.7h0M187.1 369.0h0M44.5 492.0h0M58.1 486.3h0M47.6 490.3h0M55.8 483.3h0M187.6 366.4h0M183.4 370.0h0M177.3 373.3h0M180.7 369.8h0M191.8 360.2h0M47.0 489.9h0M199.1 356.0h0M171.1 382.4h0M50.8 490.5h0M171.4 382.9h0M199.2 352.3h0M180.2 370.5h0M160.7 387.2h0M202.1 350.5h0M44.9 491.3h0M176.5 374.9h0M162.2 385.5h0M202.7 350.7h0M202.5 352.8h0M45.9 493.9h0M172.3 380.0h0M189.7 363.4h0M50.4 489.6h0M199.8 353.6h0M188.7 368.6h0M190.6 361.6h0M54.4 486.7h0M186.5 366.9h0M184.7 368.0h0M182.3 372.4h0M196.3 356.2h0M185.0 368.9h0M182.4 372.2h0M186.9 365.9h0M43.8 494.4h0M161.4 386.3h0M202.1 353.6h0M60.5 475.2h0M45.5 490.7h0M190.7 363.8h0M200.7 355.9h0M50.3 488.5h0M198.1 358.2h0M49.8 488.0h0M197.5 357.2h0M48.5 490.5h0M203.5 350.5h0M200.0 353.9h0M195.9 356.3h0M199.2 354.2h0M199.0 354.3h0M195.7 356.3h0M55.0 479.4h0M45.9 490.0h0M47.7 484.7h0M203.0 350.5h0M56.4 485.5h0M71.0 477.0h0M161.5 386.4h0M47.9 487.0h0M188.2 365.1h0M195.8 358.0h0M183.2 371.0h0M203.0 351.2h0M186.2 369.2h0M156.2 391.4h0M170.2 379.9h0M200.1 353.6h0M197.3 356.7h0M179.2 379.4h0M57.6 479.8h0M183.8 368.2h0M202.9 350.7h0M194.5 359.1h0M45.4 488.8h0M200.0 353.2h0M201.1 352.1h0M51.8 484.2h0M44.9 493.9h0M49.7 486.1h0M203.7 351.3h0M57.7 482.9h0M68.8 479.9h0M51.3 481.5h0M67.7 475.2h0M189.2 365.9h0M51.5 486.8h0M199.7 356.3h0M202.3 351.3h0M202.4 353.0h0M182.8 366.9h0M182.5 373.4h0M197.8 355.0h0M199.4 354.7h0M47.5 492.7h0M47.0 489.5h0M200.4 356.0h0M192.9 362.2h0M189.1 364.4h0M179.4 373.7h0M190.7 361.7h0M199.7 353.8h0M180.9 372.3h0M175.2 377.7h0M154.7 381.8h0M190.5 367.5h0M191.2 359.9h0M197.1 358.0h0M202.4 350.6h0M202.9 351.8h0M196.0 359.9h0M202.2 353.0h0M197.3 354.3h0M202.8 354.1h0M51.4 486.5h0M185.4 369.4h0M157.2 388.3h0M52.8 483.0h0M188.1 364.8h0M56.5 478.8h0M197.0 354.7h0M48.3 483.8h0M48.8 489.6h0M53.6 488.7h0M185.4 366.0h0M204.3 351.9h0M204.3 351.5h0M46.7 492.3h0M197.8 357.4h0M196.3 360.9h0M195.6 359.5h0M184.7 366.6h0M43.5 493.7h0M174.2 376.3h0M50.7 486.6h0M195.1 356.9h0M47.4 491.3h0M198.4 356.0h0M197.0 357.9h0M185.1 368.9h0M196.3 360.5h0M171.0 376.9h0M201.0 353.4h0M185.8 367.3h0M183.1 367.4h0M190.0 363.4h0M187.7 364.2h0M51.6 487.5h0M204.1 351.5h0M198.6 357.7h0M200.1 352.4h0M46.5 488.2h0M48.3 490.3h0M192.2 365.1h0M180.4 370.3h0M185.9 366.5h0M204.2 351.3h0M187.8 363.3h0M179.9 377.2h0M188.2 363.0h0M172.4 376.9h0M189.5 362.7h0M53.5 483.2h0M53.9 489.2h0M47.7 491.2h0M49.3 489.9h0M56.9 472.0h0M43.5 490.7h0M46.4 492.8h0M53.4 486.2h0M193.3 358.6h0M185.5 366.6h0M46.7 493.3h0M48.7 492.0h0M43.3 493.9h0M198.3 357.0h0M47.5 492.0h0M192.3 360.9h0M46.2 488.5h0M194.6 356.9h0M199.8 353.9h0M203.7 351.0h0M194.6 358.0h0M182.1 371.5h0M54.9 487.2h0M194.6 361.2h0M193.3 360.3h0M182.4 370.3h0M46.2 491.5h0M47.8 494.4h0M46.3 490.6h0M65.9 473.6h0M184.7 369.3h0M186.9 369.0h0M58.7 482.1h0M51.8 487.8h0M56.2 483.7h0M174.8 375.8h0M46.4 489.8h0M45.7 491.3h0M200.5 354.5h0M170.1 384.3h0M175.8 378.6h0M163.7 388.4h0M173.7 376.3h0M171.1 381.0h0M188.3 365.7h0M202.0 351.8h0M202.5 353.0h0M200.8 353.3h0M196.7 355.4h0M184.9 372.4h0M54.2 487.3h0M46.2 491.0h0M178.8 369.7h0M43.7 493.4h0M192.6 360.6h0M49.4 491.3h0M193.7 359.1h0M51.9 488.9h0M202.8 353.5h0M191.2 359.0h0M46.8 492.0h0M183.4 368.2h0M49.0 487.2h0M197.8 357.6h0M191.0 365.1h0M173.7 378.6h0M180.1 377.4h0M196.6 360.2h0M186.1 367.1h0M52.7 488.6h0M190.4 363.5h0M199.4 353.0h0M51.2 486.1h0M43.5 494.3h0M44.4 494.2h0M198.7 354.4h0M52.4 486.7h0M204.0 352.1h0M203.9 351.0h0M192.2 359.7h0M196.4 356.0h0M184.2 369.4h0M198.9 355.2h0M182.7 370.8h0M186.4 368.1h0M51.8 487.2h0M44.9 494.0h0M198.1 356.2h0M199.1 356.8h0M49.9 483.3h0M46.3 493.0h0M52.1 485.7h0M183.8 368.0h0M46.5 488.3h0M187.6 367.0h0M43.2 490.7h0M185.0 365.0h0M195.1 359.3h0M46.1 493.0h0M195.8 355.8h0M55.0 481.7h0M44.2 494.4h0M183.6 373.2h0M186.5 363.3h0M45.9 494.1h0M161.4 390.1h0M182.7 371.0h0M194.8 358.7h0M203.3 352.0h0M178.2 367.1h0M182.1 364.0h0M48.6 491.0h0M52.2 486.7h0M43.6 489.7h0M184.9 363.5h0M167.8 384.2h0M172.8 371.3h0M54.1 484.5h0M181.6 368.9h0M200.9 357.8h0M54.0 477.9h0M58.5 473.9h0M199.7 354.7h0M191.1 365.8h0M195.0 359.0h0M58.8 481.0h0M176.9 373.0h0M182.5 367.9h0M53.8 484.2h0M198.9 355.6h0M59.8 485.5h0M202.7 350.7h0M196.9 358.2h0M52.3 485.6h0M186.8 365.5h0M61.7 477.4h0M200.5 355.9h0M59.5 478.0h0M202.0 353.4h0M51.0 487.1h0M204.0 351.8h0M178.6 374.9h0M162.6 391.8h0M202.1 354.4h0M199.0 354.3h0M193.7 359.5h0M193.1 358.8h0M199.7 353.8h0M182.5 369.7h0M180.3 375.9h0M197.5 355.5h0M181.6 373.6h0M191.3 361.1h0M51.6 483.3h0M192.1 362.6h0M44.3 491.1h0M45.4 490.6h0M178.2 381.1h0M176.9 377.8h0M183.9 369.0h0M47.0 490.5h0M188.9 365.8h0M194.6 361.4h0M184.6 367.3h0M202.1 352.4h0M47.5 490.7h0M43.1 492.9h0M197.7 358.5h0M182.7 369.5h0M176.1 372.4h0M178.0 376.0h0M54.7 489.4h0M51.0 489.2h0M199.3 352.2h0M45.6 493.3h0M195.0 358.1h0M170.4 386.3h0M201.9 352.8h0M193.6 361.3h0M45.7 490.1h0M55.4 483.3h0M198.3 358.5h0M194.0 359.7h0M47.8 489.2h0M203.1 352.2h0M47.5 489.5h0M158.9 388.6h0M171.0 381.8h0M50.2 490.1h0M190.3 361.9h0M201.0 354.9h0M204.3 350.7h0M53.6 488.0h0M53.0 488.9h0M197.4 355.7h0M186.1 368.1h0M204.3 351.4h0M195.5 360.5h0M172.8 382.8h0M204.3 352.4h0M48.5 485.3h0M193.7 363.6h0M178.8 372.5h0M50.4 487.3h0M51.5 487.0h0M197.2 357.3h0M53.1 481.3h0M66.3 476.2h0M192.8 358.7h0M46.7 490.8h0M200.2 354.7h0M45.0 489.7h0M49.3 487.2h0M198.9 351.3h0M189.8 361.3h0M62.9 479.0h0M182.6 371.4h0M161.8 386.9h0M185.2 365.4h0M48.0 490.8h0M185.1 366.0h0M45.6 491.6h0M179.9 370.8h0M191.7 362.7h0M193.2 360.2h0M181.6 367.3h0M54.6 487.2h0M188.3 361.6h0M185.9 363.2h0M190.8 363.8h0M198.5 357.4h0M188.2 363.2h0M182.3 369.5h0M191.6 362.3h0M44.5 494.4h0M57.9 483.6h0M55.0 485.7h0M197.5 354.6h0M194.2 358.2h0M50.2 489.1h0M198.1 356.4h0M192.8 357.3h0M46.4 489.8h0M163.4 381.8h0M190.8 366.9h0M197.8 356.4h0M165.7 383.1h0M204.3 351.5h0M201.0 354.7h0M51.2 484.9h0M185.1 367.4h0M48.3 492.4h0M203.2 350.9h0M193.2 361.1h0M163.5 387.6h0M182.5 370.1h0M194.8 355.6h0M195.9 356.9h0M173.0 374.9h0M170.0 384.6h0M197.1 355.7h0M168.1 382.6h0M192.0 361.6h0M176.2 373.9h0M162.1 380.0h0M191.6 362.8h0M52.2 484.4h0M180.2 375.1h0M44.0 493.7h0M45.0 493.1h0M187.0 364.0h0M52.1 488.4h0M198.0 356.1h0M165.6 390.1h0M200.9 355.4h0M199.5 356.7h0M188.4 367.4h0M55.7 484.5h0M201.3 350.7h0M189.2 361.7h0" stroke="#aaaaaa" stroke-width="1.8" stroke-linecap="round"/>
<path d="M117.3 411.6h0M102.5 424.6h0M84.3 483.5h0M131.6 396.7h0M188.0 433.7h0M84.0 435.5h0M156.5 373.2h0M101.4 457.2h0M202.4 393.3h0M182.2 400.9h0M83.8 476.3h0M166.3 375.5h0M191.8 409.7h0M81.6 475.5h0M73.1 458.9h0M96.8 492.4h0M155.3 450.7h0M202.6 378.3h0M193.5 351.5h0M155.3 378.5h0M113.9 418.1h0M177.1 405.1h0M204.3 394.3h0M160.6 459.9h0M51.7 421.7h0M114.7 421.4h0M56.4 467.0h0M191.6 393.2h0M122.9 410.7h0M165.1 395.6h0M160.6 351.3h0M68.1 421.1h0M76.6 488.3h0M185.0 353.1h0M150.6 369.9h0M169.1 411.8h0M45.7 425.4h0M110.8 470.5h0M71.0 452.3h0M46.7 480.7h0M100.5 432.4h0M109.1 467.2h0M44.6 481.0h0M165.5 397.3h0M113.9 444.7h0M144.8 358.0h0M49.0 473.6h0M125.2 381.0h0M165.6 370.3h0M59.3 465.8h0M66.3 490.0h0M132.3 375.1h0M202.6 396.8h0M150.0 376.5h0M162.8 394.8h0M188.7 381.2h0M150.9 384.8h0M73.3 449.1h0M189.4 375.6h0M138.0 456.7h0M196.3 372.1h0M159.4 403.9h0M111.5 451.5h0M155.0 366.5h0M53.6 490.8h0M203.4 359.7h0M148.8 375.2h0M64.1 432.8h0M177.7 386.2h0M137.8 398.1h0M81.8 482.0h0M158.4 430.6h0M141.9 396.8h0M179.6 363.3h0M191.1 356.1h0M203.8 355.6h0M60.7 454.4h0M85.3 462.5h0M106.7 423.0h0M61.6 427.3h0M117.5 401.8h0M47.6 479.7h0M82.7 441.9h0M166.3 370.6h0M168.4 367.8h0M199.5 408.0h0M182.6 383.5h0M101.5 427.8h0M137.1 478.4h0M132.6 461.6h0M167.9 356.5h0M154.7 384.7h0M174.3 387.1h0M78.1 455.1h0M176.4 360.5h0M169.0 468.9h0M189.7 433.8h0M175.5 366.7h0M179.5 384.6h0M62.9 460.7h0M202.7 369.3h0M121.0 440.7h0M131.6 437.0h0M148.0 448.3h0M56.6 461.6h0M191.9 389.1h0M101.0 422.6h0M77.1 486.9h0M89.6 465.2h0M87.1 464.8h0M69.2 464.1h0M122.6 432.5h0M127.1 376.0h0M117.6 470.7h0M125.8 399.0h0M187.3 375.7h0M46.8 446.2h0M169.1 369.3h0M179.8 362.7h0M99.2 480.3h0M130.4 397.3h0M76.9 474.5h0M202.5 377.1h0M179.8 359.9h0M97.3 455.6h0M195.8 414.6h0M165.7 398.3h0M68.0 492.4h0M52.5 458.8h0M71.2 428.4h0M110.1 424.1h0M64.2 493.6h0M92.9 466.5h0M78.7 407.5h0M153.0 410.3h0M139.3 383.1h0M187.0 384.2h0M60.7 446.1h0M160.5 445.5h0M87.0 427.9h0M202.7 374.3h0M52.5 479.2h0M115.6 460.1h0M77.6 382.6h0" stroke="#2145a5" stroke-width="2.0" stroke-linecap="round"/>
<path d="M188.6 354.2h0M169.1 373.5h0M177.6 350.5h0M169.0 398.1h0M60.0 470.1h0M199.8 361.3h0M193.1 384.9h0M183.6 382.5h0M185.8 350.5h0M161.5 350.5h0M196.2 351.9h0M201.9 361.8h0M182.2 351.7h0M203.6 370.2h0M187.9 376.8h0M171.2 350.5h0M201.4 362.4h0M186.1 356.2h0M102.8 455.8h0M204.3 374.7h0M195.2 365.2h0M165.1 455.6h0M138.4 431.4h0M203.3 359.7h0M190.9 355.1h0M187.0 384.2h0M185.4 412.6h0M77.5 446.0h0M185.5 353.3h0M169.0 356.5h0M203.9 393.1h0M184.6 350.5h0M166.6 356.4h0M204.2 400.8h0M193.6 351.7h0M200.5 374.8h0M158.0 377.1h0M43.1 484.3h0M192.0 350.5h0M197.6 368.3h0M182.2 353.7h0M200.9 365.9h0M132.8 387.4h0M173.1 388.1h0M116.5 465.3h0M93.4 378.5h0M65.7 487.7h0M203.1 371.1h0M191.2 351.6h0M189.5 355.0h0M160.6 353.7h0M166.6 350.5h0M204.3 374.2h0M181.5 394.5h0M78.6 480.3h0M187.6 351.5h0M185.4 375.4h0M185.6 439.9h0M96.9 415.0h0M203.9 364.7h0M125.4 373.6h0M189.9 393.1h0M204.1 362.3h0M202.2 362.6h0M190.3 352.4h0M200.9 371.0h0M141.4 393.0h0M203.7 357.9h0M204.3 359.5h0M204.3 359.6h0M116.7 377.9h0M105.5 426.6h0M61.1 467.8h0M122.2 451.2h0M146.8 359.9h0M199.1 382.9h0M198.9 387.7h0M78.9 477.7h0M202.3 365.9h0M57.2 458.5h0M48.8 465.3h0M202.9 362.6h0M83.1 472.2h0M203.5 358.7h0M204.2 374.9h0M144.1 437.8h0M200.1 421.0h0M196.4 364.1h0M182.6 350.5h0M78.5 447.5h0M202.0 364.9h0M180.1 380.4h0M203.2 377.1h0M186.0 351.4h0M180.1 406.4h0M174.5 354.4h0M166.6 355.2h0M159.5 466.5h0M97.1 486.9h0M134.0 372.2h0M123.5 487.0h0M198.6 362.6h0M148.0 365.7h0M174.9 350.5h0M200.5 367.6h0M92.0 427.6h0M82.3 487.2h0M194.7 350.7h0M184.6 350.5h0M59.9 463.3h0M173.6 357.7h0M202.2 365.8h0M68.4 488.4h0M164.6 361.7h0M200.3 385.1h0M185.8 350.5h0M203.3 373.0h0M188.4 353.0h0M179.0 350.5h0M187.0 350.5h0M61.9 493.7h0M172.1 350.5h0M197.7 410.8h0M82.8 415.4h0M89.4 465.5h0M200.3 389.4h0M57.5 473.1h0M203.4 357.9h0M52.5 451.7h0M204.0 393.3h0M202.2 362.4h0M201.0 375.7h0M146.0 430.1h0M149.5 376.5h0M73.5 478.9h0M200.2 368.1h0M167.6 401.6h0M195.3 350.6h0M50.1 469.0h0M202.8 361.0h0M195.5 352.5h0M111.7 448.5h0M179.1 351.3h0M203.3 367.7h0M184.5 355.3h0M188.7 372.5h0M47.5 484.2h0M186.5 355.7h0M133.2 464.0h0M172.3 361.9h0M186.9 357.0h0M144.1 448.7h0M143.4 418.8h0M195.9 386.7h0M78.9 446.5h0M190.0 381.7h0M186.4 357.2h0M157.4 383.9h0M200.4 368.7h0M144.0 443.3h0M184.4 379.1h0M191.4 350.5h0M127.5 383.4h0M194.0 374.5h0M204.3 373.0h0M106.9 489.0h0M144.8 439.7h0M178.1 359.2h0M204.3 421.5h0M191.0 376.0h0M195.5 365.1h0M136.3 428.3h0M194.2 382.2h0M204.2 365.9h0M197.2 379.6h0M86.7 466.8h0M184.1 355.5h0M202.7 368.7h0M200.3 361.2h0M190.0 351.0h0M114.5 407.0h0M194.5 351.2h0M51.8 448.0h0M73.8 494.4h0M196.2 365.2h0M203.9 360.5h0M201.9 369.0h0M189.5 350.5h0M188.4 350.5h0M197.3 368.7h0M174.7 395.5h0M189.5 356.4h0M61.6 440.4h0M189.7 356.8h0M172.5 404.8h0M72.5 408.5h0M197.9 363.9h0M187.2 356.6h0M64.2 488.3h0M189.8 374.4h0M204.3 380.0h0M109.2 446.7h0M69.9 487.7h0M191.3 382.5h0M175.4 361.0h0M114.3 483.4h0M196.1 351.8h0M204.3 369.9h0M167.8 373.5h0M204.3 379.0h0M203.8 362.3h0M184.8 395.5h0M194.6 350.5h0M171.3 411.8h0" stroke="#e51e2b" stroke-width="2.0" stroke-linecap="round"/>
<path d="M52.2 450.3h0M188.2 378.7h0M176.9 358.1h0M184.6 360.5h0M53.4 494.4h0M100.5 490.6h0M69.2 462.9h0M108.0 448.8h0M181.3 363.2h0M160.3 435.8h0M139.9 353.4h0M202.5 400.3h0M115.0 445.6h0M146.5 430.3h0M91.1 459.4h0M125.6 391.3h0M88.4 391.8h0M178.1 360.7h0M204.3 399.3h0M184.4 382.1h0M185.5 376.9h0M108.9 392.1h0M154.0 406.5h0M111.0 449.8h0M47.4 463.1h0M78.1 444.6h0M49.8 449.4h0M133.1 402.0h0M158.4 361.6h0M94.8 460.8h0M182.2 400.8h0M138.2 391.2h0M86.3 410.7h0M159.3 367.9h0M139.6 442.2h0M121.0 350.5h0M152.2 423.2h0M62.9 482.8h0M52.4 435.5h0M71.4 475.6h0M186.2 355.5h0M170.8 399.8h0M184.1 392.4h0M59.4 411.9h0M129.9 381.5h0M173.5 386.4h0M99.3 466.7h0M139.6 363.2h0M142.0 414.6h0M44.1 465.4h0M197.6 405.0h0M91.1 422.1h0M111.4 421.4h0M77.8 447.0h0M100.5 434.2h0M158.0 407.3h0M138.9 376.7h0M146.6 383.9h0M120.0 395.3h0M169.5 367.8h0M185.0 384.4h0M192.0 381.4h0M156.3 374.0h0M119.8 385.4h0M185.3 390.5h0M164.3 361.9h0M97.3 425.1h0M123.9 407.8h0M198.8 375.3h0M55.7 438.1h0M148.9 420.5h0M90.0 493.0h0M56.0 466.4h0M133.6 436.7h0M196.8 373.8h0M135.2 452.2h0M92.6 406.8h0M158.3 376.1h0M96.6 414.7h0M161.7 358.7h0M117.4 401.1h0M203.3 372.4h0M117.3 397.4h0M141.9 416.4h0M96.3 491.8h0M134.2 397.1h0M174.3 403.9h0M190.1 353.7h0M112.3 446.8h0M157.9 356.1h0M112.1 448.6h0M64.6 466.4h0M88.1 494.0h0M133.4 390.3h0M112.6 408.5h0M173.8 387.6h0M173.5 420.3h0M136.8 395.7h0M83.3 416.1h0M79.4 475.0h0M86.1 472.2h0M172.5 353.2h0M140.9 422.5h0M145.1 433.4h0M144.1 394.6h0M107.1 407.7h0M114.7 443.2h0M168.2 437.0h0M80.4 390.8h0M50.2 465.6h0M70.1 449.7h0M108.6 486.1h0M175.8 386.4h0M148.1 374.6h0M191.0 353.4h0M137.1 366.9h0M148.7 365.5h0M144.1 361.3h0M193.5 355.0h0M103.4 463.2h0M123.2 445.2h0M180.4 359.1h0M50.6 446.0h0M79.7 455.6h0M74.4 475.6h0M202.3 359.4h0M96.1 429.7h0M113.3 451.7h0M187.9 381.8h0M72.9 475.6h0M177.8 387.9h0M202.2 362.1h0M80.3 469.3h0M191.1 403.5h0M175.7 435.1h0M105.5 481.4h0M66.9 459.7h0M196.6 352.2h0M184.3 378.2h0M78.9 446.3h0M168.3 403.1h0M64.7 466.4h0M176.4 355.1h0M203.7 366.3h0M95.1 398.7h0M189.8 377.5h0M170.8 354.7h0M48.4 411.7h0M183.6 395.6h0M120.5 395.9h0M75.0 439.5h0M168.8 393.0h0" stroke="#2145a5" stroke-width="2.0" stroke-linecap="round"/>
<path d="M201.8 362.4h0M204.3 375.4h0M198.2 363.8h0M196.9 363.6h0M196.3 351.4h0M161.5 350.5h0M100.2 476.2h0M198.2 365.6h0M199.4 390.0h0M189.3 354.7h0M176.1 351.6h0M202.1 376.4h0M202.5 373.8h0M191.7 350.6h0M192.4 350.5h0M117.7 417.5h0M52.8 473.2h0M201.1 372.5h0M77.9 486.6h0M203.7 389.2h0M204.3 377.5h0M187.1 358.8h0M199.0 375.2h0M189.0 350.5h0M183.4 350.5h0M198.8 404.7h0M201.4 374.5h0M151.3 355.1h0M190.6 350.5h0M172.2 350.5h0M203.4 358.7h0M60.3 494.4h0M105.2 457.6h0M200.2 371.7h0M162.1 356.6h0M178.6 444.6h0M157.8 372.9h0M59.3 461.8h0M202.8 361.0h0M198.6 391.4h0M68.5 420.6h0M196.0 350.8h0M180.0 361.0h0M111.8 449.3h0M194.8 350.9h0M202.0 361.8h0M165.3 361.2h0M76.7 483.0h0M176.7 350.9h0M127.1 381.8h0M200.8 362.8h0M85.6 394.4h0M194.6 350.5h0M187.5 387.7h0M82.9 475.8h0M204.3 359.5h0M65.7 457.9h0M97.1 430.6h0M103.0 413.0h0M113.5 421.4h0M196.7 390.9h0M160.5 374.2h0M189.6 398.1h0M177.9 384.3h0M204.3 362.5h0M180.7 398.4h0M70.2 487.6h0M77.8 415.5h0M71.7 477.5h0M190.0 356.6h0M153.7 386.5h0M184.5 353.3h0M179.0 356.5h0M198.0 366.4h0M194.6 350.8h0M150.5 360.4h0M95.7 415.5h0M176.0 351.3h0M150.9 426.4h0M176.7 357.1h0M89.9 368.0h0M81.0 470.7h0M187.7 356.5h0M61.8 467.3h0M204.3 405.3h0M187.4 353.2h0M147.8 448.0h0M106.1 427.4h0M131.5 428.5h0M48.2 442.6h0M195.3 352.4h0M198.9 368.3h0M196.5 386.0h0M201.4 367.8h0M191.0 351.9h0M200.9 366.1h0M71.3 485.7h0M202.4 361.1h0M193.4 353.4h0M203.6 372.2h0M204.0 372.9h0M167.5 350.8h0M177.2 383.5h0M52.9 474.4h0M200.4 377.1h0M198.6 364.9h0M177.8 352.8h0M183.3 350.5h0M116.6 456.6h0M172.5 386.9h0M202.9 368.7h0M178.7 415.0h0M196.0 350.5h0M73.5 477.9h0M203.1 361.1h0M186.4 352.2h0M197.9 400.5h0M204.1 358.2h0M189.9 351.9h0M200.6 367.2h0M82.8 479.0h0M91.2 404.4h0M180.0 350.5h0M151.1 383.2h0M62.7 487.0h0M200.3 371.4h0M68.4 479.0h0M188.4 350.9h0M75.9 477.0h0M177.2 354.5h0M192.7 350.5h0M204.3 370.8h0M110.0 393.8h0M47.7 448.9h0M190.1 352.6h0M83.8 481.3h0M202.5 392.0h0M170.2 354.5h0M61.3 490.4h0M187.2 353.3h0M153.7 373.5h0M197.5 366.5h0M96.9 435.7h0M197.8 365.7h0M199.6 366.0h0M193.3 352.0h0M170.7 361.6h0M204.3 366.3h0M180.9 386.1h0M203.8 363.3h0M181.2 350.5h0M163.9 422.4h0M170.6 401.2h0M202.5 377.9h0M184.0 383.2h0M57.9 492.8h0M57.0 467.8h0M190.7 354.8h0M202.3 374.6h0M105.2 425.5h0M99.4 435.1h0M186.6 351.4h0M181.4 379.0h0M168.4 363.1h0M203.7 396.4h0M203.7 373.8h0M170.7 463.1h0M58.7 468.8h0M202.1 364.7h0M198.4 362.8h0M58.2 462.0h0M173.1 394.5h0M194.6 352.8h0M188.8 354.9h0M50.0 473.9h0M161.9 350.5h0M189.3 372.0h0M204.3 364.4h0M193.8 353.7h0M167.2 365.0h0M78.2 478.6h0M201.7 366.9h0M196.4 364.4h0M192.9 370.5h0M193.8 384.9h0M60.1 462.4h0M157.7 350.5h0M203.3 372.9h0M55.1 470.6h0M98.6 431.2h0M178.3 350.5h0M170.6 350.5h0M184.5 361.1h0M201.2 365.1h0M204.3 408.7h0M200.8 370.3h0M105.7 397.5h0M78.8 374.2h0M165.7 362.1h0M197.7 366.4h0M99.6 468.5h0M203.5 372.7h0M195.4 397.2h0M195.7 378.1h0M187.4 375.1h0M160.8 372.2h0" stroke="#e51e2b" stroke-width="2.0" stroke-linecap="round"/>
<path d="M122.3 442.8h0M138.7 396.1h0M129.9 460.6h0M46.6 485.3h0M120.5 399.7h0M148.5 412.2h0M180.3 397.8h0M129.7 370.4h0M136.3 423.2h0M197.9 382.2h0M77.2 475.1h0M191.3 392.0h0M128.4 404.4h0M56.0 458.3h0M107.5 450.6h0M190.2 351.7h0M189.2 381.5h0M62.2 454.2h0M162.5 374.2h0M168.1 401.5h0M65.6 429.7h0M77.1 413.0h0M202.2 379.3h0M179.1 364.0h0M71.0 460.9h0M173.7 360.9h0M118.7 444.6h0M80.4 418.1h0M174.8 385.4h0M181.9 401.6h0M169.9 409.1h0M65.0 388.7h0M204.3 413.3h0M162.0 404.5h0M167.7 417.3h0M96.3 465.9h0M181.1 363.9h0M71.8 379.7h0M199.0 388.6h0M184.0 351.2h0M52.8 479.8h0M73.3 403.5h0M196.1 369.3h0M107.3 450.0h0M198.5 373.9h0M103.2 423.1h0M75.7 425.7h0M154.6 376.7h0M194.7 374.8h0M83.2 474.4h0M45.1 457.0h0M100.9 474.3h0M168.7 397.4h0M116.9 438.0h0M123.3 451.8h0M62.6 490.7h0M158.2 379.1h0M97.4 454.7h0M72.9 460.7h0M91.2 415.3h0M65.3 466.6h0M120.2 435.1h0M70.7 462.5h0M185.4 357.5h0M173.6 403.9h0M164.1 397.2h0M128.3 433.6h0M65.4 488.8h0M104.4 415.4h0M118.8 396.7h0M173.4 361.3h0M115.8 400.2h0M172.1 398.2h0M179.6 390.3h0M72.6 477.1h0M174.6 394.5h0M68.6 491.2h0M165.1 396.2h0M135.7 430.1h0M177.0 386.3h0M89.7 490.4h0M154.8 377.3h0M134.6 458.8h0M84.5 490.9h0M120.9 449.7h0M177.7 353.7h0M98.6 463.7h0M163.9 378.0h0M91.0 425.9h0M89.6 484.4h0M71.4 421.6h0M67.0 487.3h0M85.4 464.3h0M77.3 437.7h0M150.4 439.1h0M111.8 419.5h0M179.3 363.3h0M69.3 493.3h0M81.0 468.7h0M157.1 446.8h0M191.3 351.2h0M161.2 357.9h0M148.3 369.4h0M110.2 481.5h0M202.1 380.1h0M76.9 472.4h0M170.2 364.1h0M200.5 365.4h0M133.7 354.4h0M62.8 453.7h0M141.0 451.7h0M186.4 381.9h0M104.6 430.9h0M63.6 461.4h0M162.9 369.6h0M92.7 425.3h0M61.1 488.6h0M187.4 354.4h0M72.3 476.6h0M170.2 367.7h0M121.8 436.6h0M154.5 410.2h0M204.3 405.6h0M151.0 385.5h0M59.6 471.7h0M204.3 376.3h0M139.4 391.0h0M203.8 357.4h0M89.9 481.6h0M133.8 445.7h0M175.9 399.9h0M63.9 468.7h0M76.1 421.5h0M71.0 489.2h0M180.6 405.1h0" stroke="#2145a5" stroke-width="2.0" stroke-linecap="round"/>
<path d="M193.6 351.2h0M53.7 468.7h0M194.3 350.7h0M195.7 350.5h0M204.2 403.8h0M151.6 370.8h0M187.0 353.7h0M189.0 352.8h0M189.7 350.5h0M200.5 368.8h0M180.8 356.3h0M200.3 363.3h0M85.9 469.2h0M78.2 478.6h0M173.9 358.6h0M84.4 470.2h0M161.5 367.5h0M146.7 448.9h0M187.3 354.4h0M187.3 354.6h0M188.5 350.5h0M201.8 370.9h0M156.1 354.2h0M204.1 361.9h0M51.6 471.6h0M93.3 464.1h0M48.0 467.2h0M190.3 353.3h0M192.9 353.7h0M97.8 494.3h0M187.6 384.5h0M196.0 350.6h0M189.3 467.6h0M196.3 388.6h0M202.0 372.4h0M200.2 362.3h0M194.0 352.2h0M121.5 445.9h0M202.4 361.4h0M197.8 380.8h0M163.0 400.7h0M69.2 490.0h0M192.0 350.9h0M202.7 365.4h0M87.3 469.0h0M157.4 413.4h0M70.8 488.3h0M186.5 350.5h0M43.1 475.7h0M204.3 381.5h0M142.5 383.9h0M194.3 351.3h0M124.3 494.3h0M157.4 468.5h0M44.5 477.5h0M203.4 361.1h0M204.2 366.8h0M195.1 352.3h0M183.6 356.1h0M59.4 468.4h0M43.4 461.9h0M168.6 363.9h0M189.6 354.8h0M202.6 380.2h0M193.2 354.6h0M203.3 358.3h0M87.2 469.2h0M202.2 376.3h0M197.1 350.7h0M203.7 393.3h0M204.3 396.1h0M59.2 465.8h0M201.5 372.3h0M200.6 381.3h0M192.4 350.5h0M187.5 352.3h0M194.9 351.7h0M141.1 487.4h0M204.1 391.4h0M186.9 359.9h0M178.7 364.4h0M84.6 471.0h0M44.1 476.0h0M185.4 359.1h0M192.0 354.3h0M201.6 390.9h0M184.1 359.3h0M197.2 367.1h0M157.3 383.4h0M133.6 459.2h0M204.2 364.8h0M99.6 462.1h0M203.7 367.3h0M174.5 387.9h0M194.6 368.1h0M187.3 373.4h0M200.8 370.9h0M181.1 355.1h0M187.4 414.6h0M168.3 352.3h0M199.9 388.3h0M54.3 473.8h0M187.4 355.7h0M45.3 467.8h0M180.5 403.4h0M180.1 383.5h0M198.1 366.7h0M192.0 355.0h0M179.1 363.7h0M53.0 463.8h0M158.2 350.5h0M201.0 378.6h0M196.0 351.1h0M201.9 359.4h0M59.5 463.2h0M157.8 366.1h0M87.1 479.0h0M175.2 365.3h0M186.0 357.4h0M54.7 457.9h0M104.5 426.8h0M186.3 399.5h0M203.1 360.1h0M196.9 374.5h0M204.3 377.5h0M202.0 380.9h0M110.4 473.6h0M199.9 381.2h0M194.8 366.2h0M190.6 351.2h0M182.4 351.5h0M191.6 352.5h0M80.7 472.3h0M76.0 427.5h0M199.8 369.0h0M94.2 409.0h0M159.8 366.8h0M193.0 351.1h0M204.3 405.1h0M202.2 359.7h0M80.5 419.9h0M201.2 366.6h0M204.3 359.5h0M174.2 351.6h0M202.4 364.2h0M60.4 458.6h0M74.5 480.2h0M62.5 464.7h0M192.0 352.3h0M192.4 353.3h0M146.9 364.8h0M185.7 351.6h0M71.3 492.0h0M204.3 426.3h0M83.1 487.6h0M48.4 460.7h0M57.6 491.1h0M65.3 486.5h0M197.3 376.2h0M188.5 350.5h0M179.2 355.4h0M201.2 379.5h0M101.8 402.0h0M70.6 441.9h0M201.6 361.6h0M188.0 355.7h0M71.2 482.2h0M187.9 351.2h0M202.0 376.9h0M86.4 479.8h0M190.5 370.4h0M204.3 357.1h0M178.8 387.8h0M197.6 392.6h0M192.4 352.6h0M178.9 356.0h0M129.1 406.2h0M158.0 366.1h0M49.1 470.7h0M152.4 379.6h0M173.6 385.9h0M78.3 484.6h0M165.5 392.7h0M182.7 382.2h0M129.6 481.5h0M200.2 384.6h0M198.9 397.9h0M165.6 350.5h0M143.4 380.5h0M43.2 467.5h0M153.6 434.9h0M181.1 353.8h0M168.1 404.7h0M178.4 354.7h0M201.2 370.3h0M77.7 404.8h0M185.1 361.0h0M145.7 424.2h0M54.9 492.1h0M178.8 394.9h0M192.1 390.0h0M191.8 352.1h0M204.3 361.6h0M204.3 431.8h0M164.6 457.8h0M189.5 350.5h0M95.0 469.5h0M190.4 354.7h0M199.4 364.2h0M196.6 351.3h0M186.2 350.5h0M84.6 474.0h0M151.6 437.0h0M129.6 370.9h0M192.4 350.7h0M56.0 462.5h0M195.3 375.7h0M185.8 351.7h0M166.9 374.1h0M70.3 479.2h0M76.7 481.2h0M67.1 450.6h0" stroke="#e51e2b" stroke-width="2.0" stroke-linecap="round"/>
<path d="M149.8 377.7h0M169.2 426.2h0M133.0 371.4h0M115.9 491.7h0M77.6 475.1h0M176.3 417.9h0M111.8 478.1h0M85.6 417.4h0M166.1 374.9h0M66.3 421.8h0M139.8 399.2h0M74.9 473.0h0M174.4 358.7h0M114.7 402.7h0M101.9 490.4h0M61.9 465.0h0M64.9 450.1h0M155.9 374.2h0M167.6 368.3h0M119.6 412.1h0M119.0 490.7h0M201.1 377.9h0M55.6 465.4h0M150.3 408.4h0M134.5 487.8h0M182.8 362.7h0M173.6 359.7h0M173.0 458.0h0M157.3 470.8h0M113.8 350.5h0M204.3 456.1h0M58.4 474.5h0M69.4 459.2h0M150.0 438.4h0M53.7 475.2h0M70.6 483.2h0M105.0 484.3h0M129.2 429.4h0M174.5 358.6h0M84.2 432.2h0M133.3 441.6h0M174.3 384.8h0M180.3 382.8h0M145.2 350.5h0M144.7 377.3h0M123.4 463.9h0M48.9 479.0h0M193.3 354.5h0M98.7 435.2h0M152.8 437.3h0M157.1 457.1h0M122.6 413.8h0M183.4 357.9h0M155.2 421.5h0M172.7 399.0h0M118.1 445.0h0M176.3 385.4h0M169.6 388.7h0M150.0 455.9h0M61.6 461.1h0M89.6 429.6h0M149.0 377.6h0M81.2 482.5h0M132.8 370.2h0M56.9 449.6h0M189.1 370.0h0M126.3 469.9h0M109.9 453.7h0M143.9 383.6h0M106.7 450.9h0M180.8 364.5h0M185.5 380.3h0M194.0 365.7h0M98.6 454.4h0M82.2 446.0h0M60.2 471.2h0M136.5 431.6h0M162.6 363.2h0M184.8 358.4h0M82.8 472.0h0M76.5 492.3h0M110.9 408.4h0M148.2 378.9h0M124.4 400.5h0M183.8 457.2h0M133.4 403.4h0M191.2 370.3h0M112.8 399.4h0M161.1 360.4h0M119.4 417.0h0M97.3 436.3h0M85.0 446.3h0M115.2 413.6h0M161.8 380.3h0M109.3 372.1h0M85.7 441.5h0M167.3 414.7h0M122.9 394.2h0M77.9 442.4h0M175.9 361.9h0M75.0 438.5h0M117.3 473.4h0M55.7 435.8h0M151.4 452.2h0M196.1 383.0h0M87.7 490.7h0M193.3 387.8h0M170.3 367.2h0M137.4 426.3h0M103.5 481.8h0M165.9 374.4h0M193.1 392.7h0M110.7 417.7h0M197.9 364.8h0M111.4 417.6h0M197.5 386.8h0M191.6 381.9h0M66.4 483.7h0M159.6 415.4h0M171.9 400.4h0M50.9 433.1h0M179.5 397.1h0M88.5 433.7h0M128.3 427.1h0M187.5 385.3h0M124.8 407.8h0M76.0 458.5h0M153.1 371.5h0M169.4 370.9h0M202.7 420.2h0M68.2 479.5h0M91.1 493.2h0M162.7 372.5h0M130.2 451.2h0M77.2 424.1h0M60.7 459.4h0M105.2 406.5h0M187.1 379.9h0M180.1 409.8h0M166.4 399.3h0M80.3 476.4h0" stroke="#2145a5" stroke-width="2.0" stroke-linecap="round"/>
<path d="M184.0 357.6h0M185.1 350.5h0M125.2 484.5h0M202.5 365.4h0M188.4 354.0h0M138.2 442.2h0M124.9 373.6h0M202.6 383.4h0M190.3 351.5h0M188.3 354.3h0M201.4 363.3h0M202.5 380.5h0M194.1 352.9h0M148.9 363.7h0M203.9 358.0h0M204.0 373.8h0M188.2 351.0h0M83.8 392.5h0M190.3 355.3h0M201.2 390.1h0M196.9 350.8h0M203.3 379.6h0M85.4 487.3h0M201.4 362.8h0M200.8 389.6h0M193.5 400.6h0M193.7 351.9h0M180.2 358.1h0M202.0 370.8h0M193.3 387.4h0M118.4 375.2h0M187.6 357.2h0M204.2 385.1h0M174.5 359.6h0M194.2 350.8h0M200.8 360.8h0M204.3 386.7h0M93.9 387.5h0M175.5 350.5h0M93.3 436.5h0M84.2 448.2h0M158.4 350.5h0M64.4 454.5h0M181.4 350.5h0M183.5 350.5h0M188.8 350.5h0M121.0 350.5h0M77.9 471.8h0M160.6 406.1h0M199.4 368.5h0M97.1 466.0h0M140.5 383.4h0M199.1 366.6h0M204.0 357.5h0M165.4 356.1h0M186.5 354.7h0M183.8 350.5h0M130.0 397.9h0M202.9 403.1h0M102.2 491.4h0M69.8 428.2h0M155.5 376.4h0M181.8 399.4h0M78.2 475.3h0M203.7 370.3h0M78.4 447.8h0M183.8 358.9h0M172.1 360.0h0M176.2 363.3h0M201.0 390.9h0M184.7 351.7h0M158.5 350.5h0M202.2 361.0h0M169.3 363.0h0M182.6 379.8h0M199.5 391.2h0M65.0 485.9h0M93.8 473.3h0M179.1 351.3h0M173.1 350.5h0M201.0 382.5h0M161.4 355.6h0M176.0 350.5h0M67.7 392.7h0M190.6 353.4h0M168.2 371.7h0M180.4 421.2h0M183.2 355.7h0M191.5 355.5h0M189.3 353.1h0M204.3 376.4h0M192.6 350.5h0M195.5 366.3h0M171.6 359.9h0M57.8 463.3h0M201.2 359.9h0M203.8 368.4h0M196.2 367.5h0M203.4 371.6h0M198.6 364.1h0M175.9 354.6h0M86.3 481.6h0M176.2 353.4h0M146.6 414.0h0M183.8 350.5h0M204.3 374.3h0M186.3 352.2h0M116.9 412.7h0M204.3 386.3h0M100.9 433.6h0M183.4 352.9h0M201.5 397.6h0M180.4 357.3h0M50.1 480.5h0M201.7 381.1h0M203.5 361.5h0M135.3 430.2h0M169.0 364.1h0M192.8 354.9h0M202.4 368.7h0M194.2 350.5h0M185.0 355.0h0M201.9 387.3h0M143.0 393.8h0M127.3 481.1h0M198.8 387.1h0M182.2 351.8h0M201.1 360.4h0M145.6 363.7h0M200.0 365.8h0M188.1 412.3h0M202.7 371.4h0M186.4 418.8h0M165.2 355.3h0M199.7 405.3h0M178.8 351.1h0M189.7 431.2h0M109.0 357.5h0M70.4 481.4h0M181.6 363.0h0M202.5 364.3h0M156.6 407.8h0M147.1 378.1h0M182.3 362.9h0M181.4 350.5h0M134.1 477.9h0M47.3 464.4h0M166.5 372.2h0M171.0 354.1h0M177.0 394.0h0M172.1 354.9h0M194.2 351.9h0M201.8 365.4h0M194.6 352.5h0M181.8 358.8h0M197.2 364.3h0M204.3 373.2h0M83.0 471.5h0M200.9 381.4h0M63.7 430.3h0M61.6 494.1h0M201.4 414.9h0M65.1 491.9h0M192.6 374.0h0M199.6 361.4h0M204.3 360.0h0M88.8 417.7h0M192.8 381.7h0M188.2 356.1h0M157.9 378.7h0M163.4 350.5h0M171.8 366.4h0M140.4 380.8h0M202.6 360.8h0M179.0 440.6h0M183.6 354.5h0M177.8 350.5h0M195.6 352.2h0M204.3 372.2h0M73.9 485.2h0M202.2 376.8h0M203.1 369.1h0M81.8 490.6h0M137.0 350.5h0M201.0 366.2h0M176.9 356.2h0M67.9 461.2h0M190.7 350.5h0M185.1 352.2h0M203.5 369.5h0M133.1 400.7h0M127.4 440.6h0M169.0 369.7h0M199.7 377.5h0M188.6 371.8h0M195.3 350.7h0M201.1 365.3h0M202.2 404.2h0M186.6 382.3h0M204.3 394.8h0M188.1 352.4h0M185.7 359.2h0M160.3 449.4h0M150.7 436.2h0M85.5 473.3h0M203.1 359.4h0M195.3 350.7h0M204.3 362.7h0M201.3 368.5h0M182.2 350.5h0M193.9 353.8h0M176.1 350.5h0M201.9 381.8h0M188.1 350.5h0M178.7 382.5h0M189.6 377.8h0" stroke="#e51e2b" stroke-width="2.0" stroke-linecap="round"/>
<path d="M196.1 369.3h0M188.5 375.1h0M187.9 374.3h0M108.2 476.1h0M100.4 413.1h0M70.6 494.4h0M148.9 387.2h0M60.0 467.8h0M169.6 373.3h0M203.0 372.6h0M155.7 406.1h0M153.3 372.9h0M126.7 473.0h0M168.1 393.7h0M64.3 485.8h0M130.0 430.3h0M64.2 458.1h0M172.7 400.8h0M78.8 475.5h0M82.9 466.4h0M84.7 488.2h0M188.4 372.1h0M74.0 457.5h0M73.4 403.8h0M161.6 376.1h0M119.5 415.7h0M150.7 428.6h0M49.3 477.6h0M183.8 360.9h0M141.4 493.4h0M63.5 466.0h0M75.9 424.6h0M120.0 438.9h0M184.4 376.1h0M150.6 375.9h0M103.3 409.2h0M177.1 410.7h0M113.6 490.3h0M77.7 474.1h0M49.8 467.7h0M147.5 451.4h0M150.6 412.7h0M104.9 476.3h0M99.1 463.4h0M91.6 397.7h0M97.0 456.4h0M178.6 358.4h0M202.6 365.9h0M60.4 484.8h0M125.2 447.1h0M181.2 355.4h0M83.7 468.7h0M178.1 360.8h0M139.7 378.7h0M128.3 405.7h0M95.9 461.5h0M155.6 363.8h0M180.4 365.8h0M165.4 376.2h0M171.2 408.0h0M184.7 356.3h0M82.0 434.6h0M164.1 377.6h0M98.3 458.5h0M66.5 492.1h0M52.0 434.6h0M164.4 357.6h0M66.5 484.5h0M136.4 444.4h0M109.5 425.5h0M115.2 453.5h0M153.8 354.4h0M79.8 477.1h0M172.4 410.4h0M91.4 390.4h0M81.8 481.1h0M45.7 484.8h0M47.6 403.9h0M173.0 388.4h0M172.4 388.8h0M122.2 398.5h0M162.9 400.2h0M92.1 470.0h0M97.3 436.7h0M45.8 478.1h0M115.8 408.5h0M136.5 400.8h0M85.4 483.0h0M187.5 375.7h0M201.3 395.1h0M119.1 369.0h0M101.1 421.2h0M76.4 426.3h0M193.4 379.0h0M178.1 367.5h0M52.3 430.0h0M164.7 406.2h0M98.1 475.0h0M67.9 450.8h0M183.4 382.7h0M105.2 350.5h0M112.3 404.4h0M203.3 368.8h0M146.3 378.7h0M77.7 448.2h0M64.8 482.3h0M204.2 358.4h0M163.9 367.8h0M162.6 440.7h0M202.1 364.2h0M153.8 407.7h0M161.7 375.2h0M86.0 402.0h0M45.1 371.5h0M100.7 453.4h0M109.6 469.5h0M177.7 450.4h0M172.3 419.3h0M130.4 378.4h0M157.9 455.0h0M83.8 430.0h0M178.3 398.5h0M119.0 468.0h0M167.0 370.1h0M74.1 450.3h0M123.6 356.9h0M105.4 448.4h0M170.2 357.6h0M73.1 446.7h0M118.1 398.9h0M191.8 351.6h0M148.6 415.3h0M181.3 393.6h0M151.4 384.5h0M161.2 410.5h0M114.2 420.7h0M154.7 376.4h0M183.1 383.2h0M70.6 491.9h0M169.7 368.9h0M84.7 382.1h0M188.5 380.5h0M83.2 479.4h0M130.4 425.5h0M113.8 443.1h0M163.0 360.0h0M114.7 421.5h0M155.9 376.2h0M182.8 360.9h0M98.2 425.9h0M176.6 390.0h0M163.6 404.1h0M198.8 376.5h0M204.3 390.5h0M76.2 477.4h0M100.9 452.8h0" stroke="#2145a5" stroke-width="2.0" stroke-linecap="round"/>
<path d="M65.0 461.5h0M194.5 367.7h0M55.8 461.1h0M192.3 351.8h0M185.9 350.5h0M48.4 460.6h0M61.3 465.5h0M184.6 378.5h0M181.0 354.1h0M184.6 358.5h0M43.2 471.4h0M202.3 391.7h0M189.6 386.4h0M196.6 350.5h0M139.0 448.9h0M204.3 363.7h0M176.8 405.3h0M135.3 400.9h0M53.0 469.5h0M108.0 399.5h0M181.2 354.1h0M185.6 350.5h0M54.6 461.3h0M192.2 350.6h0M202.2 379.9h0M97.9 460.1h0M63.9 428.1h0M136.0 422.3h0M203.7 364.1h0M100.7 427.3h0M177.5 356.4h0M165.4 373.5h0M81.6 435.6h0M199.2 437.5h0M194.7 385.4h0M191.4 350.5h0M199.6 432.5h0M194.8 384.9h0M139.0 398.2h0M194.3 351.1h0M182.8 353.8h0M162.4 350.5h0M73.6 423.1h0M184.9 352.3h0M204.3 366.4h0M43.8 481.0h0M111.3 416.7h0M203.9 367.8h0M187.1 382.5h0M45.5 480.9h0M183.6 359.5h0M197.6 367.6h0M180.2 350.5h0M204.3 388.2h0M49.1 472.5h0M185.6 355.4h0M189.7 353.5h0M204.3 358.9h0M201.5 381.6h0M199.8 382.9h0M54.6 493.3h0M193.2 353.7h0M194.5 350.9h0M188.4 388.6h0M173.7 363.0h0M149.5 374.5h0M192.7 375.7h0M198.0 382.6h0M80.8 412.8h0M145.6 469.4h0M178.0 350.5h0M70.9 458.6h0M150.6 350.5h0M193.3 407.7h0M53.6 454.9h0M88.7 473.7h0M126.5 455.8h0M175.2 351.5h0M202.0 363.7h0M89.4 477.1h0M103.4 358.7h0M193.0 373.8h0M202.9 372.2h0M87.6 470.5h0M204.3 363.4h0M193.2 354.6h0M194.2 370.5h0M182.3 355.3h0M202.7 373.4h0M160.3 382.5h0M200.4 383.9h0M63.6 449.0h0M201.5 398.6h0M194.7 350.5h0M51.4 476.9h0M202.7 378.8h0M204.3 370.0h0M58.1 462.4h0M79.5 479.0h0M195.9 351.0h0M203.5 361.6h0M196.7 383.0h0M111.8 367.2h0M189.1 386.1h0M192.4 353.3h0M171.7 359.8h0M140.2 350.5h0M191.6 353.4h0M203.1 360.1h0M58.8 466.6h0M90.9 473.0h0M183.6 356.6h0M193.4 353.3h0M193.0 351.3h0M89.4 478.7h0M182.5 352.5h0M178.7 354.7h0M53.9 398.8h0M44.9 478.6h0M49.4 477.0h0M167.8 351.5h0M115.5 460.1h0M181.6 355.7h0M199.6 362.7h0M192.6 352.1h0M199.7 371.8h0M82.8 448.0h0M203.7 414.5h0M183.0 352.0h0M197.2 369.3h0M204.1 381.0h0M104.9 416.0h0M199.9 367.3h0M186.0 404.9h0M190.3 351.7h0M190.9 371.5h0M162.7 367.0h0M203.4 387.0h0M203.1 365.8h0M49.3 446.1h0M67.3 481.5h0M54.4 468.0h0M203.0 363.2h0M182.5 387.6h0M164.2 374.6h0M190.6 384.7h0M72.6 440.4h0M62.5 462.9h0M203.3 370.2h0M199.5 383.1h0M201.9 360.9h0M194.6 370.2h0M163.6 360.0h0M81.4 476.1h0M61.3 490.5h0M197.2 365.5h0M197.4 369.5h0M174.3 371.5h0M200.7 360.3h0M204.3 390.1h0M173.4 350.5h0M201.0 381.0h0M88.4 470.3h0M193.5 368.7h0M86.7 350.5h0M189.0 354.0h0M56.8 490.0h0M196.0 350.9h0M116.9 474.2h0M169.8 350.5h0M128.6 472.7h0M153.6 385.7h0M160.5 417.3h0M195.1 352.4h0M185.4 354.1h0M82.3 438.3h0M69.6 482.4h0M189.4 378.9h0M190.0 352.9h0M188.8 351.9h0M51.6 454.3h0M134.0 426.9h0M201.6 368.0h0M149.2 350.5h0M201.4 393.9h0M203.4 376.1h0M134.5 395.1h0M198.0 371.7h0M169.9 401.1h0M159.5 350.5h0M198.8 367.0h0M180.1 383.4h0M71.3 480.1h0M60.5 460.9h0M164.8 350.5h0M114.6 442.0h0M180.1 379.7h0M172.4 386.4h0M57.7 468.3h0M172.7 366.7h0M112.5 369.7h0" stroke="#e51e2b" stroke-width="2.0" stroke-linecap="round"/>
<path d="M118.9 399.0h0M138.9 383.9h0M131.5 388.2h0M189.9 351.4h0M178.2 381.5h0M146.1 381.5h0M163.3 351.8h0M143.9 456.1h0M118.4 396.1h0M165.2 393.0h0M59.1 439.8h0M89.8 471.2h0M184.4 354.5h0M163.5 377.3h0M128.2 436.9h0M188.4 352.8h0M197.5 412.7h0M169.1 372.6h0M148.6 379.8h0M109.8 449.1h0M145.3 383.2h0M112.6 408.3h0M142.7 447.1h0M76.8 482.8h0M55.4 476.2h0M180.1 390.4h0M149.9 387.0h0M49.5 476.3h0M204.3 448.3h0M177.6 359.3h0M177.8 431.4h0M62.2 470.6h0M198.7 379.9h0M137.3 467.3h0M80.4 445.9h0M130.5 428.7h0M60.1 449.9h0M177.6 385.7h0M66.0 446.9h0M191.7 375.9h0M66.0 456.4h0M151.1 388.9h0M186.8 429.0h0M203.8 365.4h0M135.4 390.8h0M112.4 409.1h0M60.9 442.8h0M203.5 363.9h0M183.0 386.5h0M194.3 387.0h0M137.3 452.2h0M127.6 409.9h0M177.9 351.6h0M68.8 482.0h0M195.1 366.3h0M189.3 424.5h0M111.9 460.2h0M44.5 479.3h0M83.4 488.4h0M64.3 488.3h0M142.1 396.0h0M126.8 432.5h0M199.6 398.0h0M74.3 444.9h0M157.9 428.7h0M161.7 429.0h0M122.9 444.4h0M151.4 358.9h0M79.0 473.5h0M69.4 436.5h0M129.7 371.9h0M204.3 375.5h0M99.9 405.6h0M109.5 469.0h0M122.4 466.7h0M184.3 396.4h0M172.5 423.5h0M164.1 372.9h0M119.5 400.8h0M159.6 398.7h0M107.2 416.8h0M157.4 436.2h0M140.1 371.5h0M120.2 405.4h0M78.6 440.3h0M84.0 465.1h0M162.6 366.3h0M167.8 447.5h0M176.7 359.3h0M65.3 486.8h0M176.7 351.8h0M47.3 456.2h0M80.9 431.6h0M89.2 470.5h0M118.3 445.6h0M93.1 433.6h0M67.6 452.4h0M78.2 453.6h0M147.2 479.1h0M86.2 415.9h0M44.9 445.5h0M139.1 419.8h0M79.4 472.8h0M204.3 363.6h0M183.1 402.6h0M118.2 451.9h0M192.8 353.3h0M162.0 417.9h0M93.6 436.5h0M196.2 373.2h0M111.2 356.6h0M154.2 441.2h0M187.1 386.6h0M194.7 392.3h0M80.4 436.2h0M195.3 366.5h0M115.5 384.0h0M175.6 409.6h0M98.1 419.0h0M163.8 379.5h0M180.1 386.9h0M183.8 379.9h0M103.6 387.9h0M161.6 371.3h0M172.2 354.8h0M160.5 409.0h0M145.8 376.4h0M176.1 369.1h0M196.7 372.1h0M169.3 369.1h0M94.2 479.0h0M105.4 374.0h0M165.0 376.0h0M176.1 383.2h0M154.7 385.5h0M176.2 360.5h0M44.6 475.6h0" stroke="#2145a5" stroke-width="2.0" stroke-linecap="round"/>
<path d="M65.6 489.1h0M202.1 382.6h0M86.0 446.5h0M69.7 489.6h0M203.5 386.5h0M174.9 359.1h0M162.3 355.4h0M76.3 484.8h0M181.7 359.1h0M58.2 492.6h0M80.9 362.7h0M151.0 457.4h0M204.3 400.9h0M199.1 368.6h0M188.0 357.1h0M176.6 396.3h0M204.3 370.7h0M193.3 377.5h0M194.1 353.8h0M195.5 387.0h0M193.2 350.5h0M132.3 432.0h0M204.3 382.6h0M67.7 482.8h0M189.3 350.5h0M175.8 353.4h0M196.0 388.0h0M63.1 445.1h0M185.9 356.4h0M167.7 361.9h0M183.8 358.4h0M204.3 365.1h0M203.6 358.0h0M200.6 360.4h0M146.3 360.7h0M175.6 389.7h0M183.0 352.8h0M165.1 369.9h0M60.4 450.8h0M198.9 379.0h0M156.3 376.5h0M105.9 473.0h0M198.9 402.4h0M192.6 374.6h0M59.5 452.8h0M185.6 354.5h0M189.9 357.3h0M196.8 405.5h0M170.9 367.0h0M201.1 360.6h0M202.0 407.2h0M154.2 381.9h0M202.8 375.4h0M204.3 362.2h0M203.0 401.9h0M204.3 365.7h0M187.7 354.6h0M57.3 468.8h0M121.0 350.5h0M203.3 377.2h0M101.4 491.5h0M165.8 352.8h0M181.6 354.2h0M180.0 402.1h0M186.1 353.1h0M169.7 369.7h0M185.3 356.7h0M195.1 384.5h0M188.5 351.7h0M76.7 493.0h0M166.3 362.9h0M179.3 350.5h0M160.7 360.6h0M201.9 365.9h0M200.6 361.9h0M203.7 363.3h0M87.9 413.9h0M188.6 355.8h0M190.2 353.5h0M189.6 353.9h0M201.3 360.4h0M147.2 359.3h0M204.3 374.9h0M176.3 402.7h0M83.8 481.1h0M153.4 371.1h0M193.0 352.9h0M156.4 361.4h0M204.0 363.0h0M139.5 363.0h0M195.6 351.0h0M76.2 483.0h0M88.1 466.9h0M180.1 350.5h0M186.6 350.5h0M193.8 353.1h0M164.2 361.0h0M182.7 352.0h0M160.0 362.0h0M50.7 437.8h0M182.0 354.1h0M145.2 434.3h0M202.8 360.1h0M184.7 356.1h0M100.3 406.0h0M189.5 391.1h0M199.0 377.7h0M86.8 470.2h0M182.2 364.4h0M172.4 353.4h0M123.8 410.2h0M48.4 480.4h0M204.2 378.2h0M65.8 483.9h0M192.5 376.8h0M188.4 372.8h0M197.7 389.7h0M198.9 362.0h0M194.8 382.2h0M199.1 379.0h0M189.2 350.5h0M154.5 352.6h0M199.6 364.0h0M160.6 380.8h0M198.0 363.8h0M163.4 361.4h0M54.7 460.6h0M163.0 358.1h0M166.3 354.6h0M189.3 350.8h0M138.5 379.3h0M176.0 355.8h0M195.6 370.6h0M114.4 418.9h0M92.7 396.5h0M189.8 353.5h0M66.7 461.4h0M190.7 350.6h0M85.9 469.6h0M102.9 391.2h0M197.3 366.8h0M178.9 359.8h0M203.4 379.3h0M197.6 374.1h0M202.7 368.3h0M160.8 373.5h0M203.1 377.2h0M131.7 438.5h0M58.5 440.5h0M188.2 352.0h0M193.4 352.0h0M197.0 366.6h0M83.5 493.2h0M80.0 471.5h0M185.7 351.4h0M178.9 351.0h0M78.1 486.1h0M189.0 350.5h0M48.9 479.8h0M45.9 474.6h0M184.3 387.5h0M80.8 490.2h0M100.9 466.3h0M81.3 478.2h0M204.3 377.1h0M102.7 373.4h0M191.0 356.3h0M182.2 384.8h0M197.1 351.1h0M51.8 472.8h0M194.8 352.8h0M68.1 485.3h0M203.7 366.4h0M80.4 471.3h0M177.6 352.8h0M193.5 353.2h0M204.3 360.0h0M202.8 366.3h0M153.7 416.2h0M88.7 375.5h0M188.3 400.2h0M196.6 366.0h0M66.8 484.2h0M76.6 441.9h0M191.6 380.7h0M203.2 371.7h0M122.5 407.4h0M69.2 485.0h0M192.5 377.4h0M189.1 379.0h0M194.7 351.1h0M59.7 493.6h0M181.1 350.5h0M185.3 354.6h0M54.2 462.9h0M204.3 358.2h0M202.9 367.3h0M190.4 356.1h0M165.9 360.6h0M163.4 397.8h0M54.9 448.8h0M195.9 385.9h0M188.7 374.7h0M199.3 397.0h0M128.4 373.7h0M109.3 407.8h0M188.7 396.2h0M186.7 354.1h0M179.6 390.1h0M78.8 484.8h0M203.9 372.5h0M60.8 397.4h0M56.4 494.0h0M137.1 426.6h0M47.4 459.6h0M64.2 422.6h0M170.0 350.5h0M191.3 350.5h0M186.7 358.2h0M172.2 350.5h0" stroke="#e51e2b" stroke-width="2.0" stroke-linecap="round"/>
<rect x="36.5" y="344.5" width="173.9" height="156.3" fill="none" stroke="#111" stroke-width="1.3"/>
<line x1="33.0" y1="494.4" x2="36.5" y2="494.4" stroke="#111" stroke-width="1"/>
<text x="30.2" y="497.1" font-size="7.6" text-anchor="end">0</text>
<line x1="43.1" y1="500.8" x2="43.1" y2="504.3" stroke="#111" stroke-width="1"/>
<text x="43.1" y="514.0" font-size="7.6" text-anchor="middle">0</text>
<line x1="33.0" y1="465.6" x2="36.5" y2="465.6" stroke="#111" stroke-width="1"/>
<text x="30.2" y="468.3" font-size="7.6" text-anchor="end">0.2</text>
<line x1="75.3" y1="500.8" x2="75.3" y2="504.3" stroke="#111" stroke-width="1"/>
<text x="75.3" y="514.0" font-size="7.6" text-anchor="middle">0.2</text>
<line x1="33.0" y1="436.8" x2="36.5" y2="436.8" stroke="#111" stroke-width="1"/>
<text x="30.2" y="439.5" font-size="7.6" text-anchor="end">0.4</text>
<line x1="107.6" y1="500.8" x2="107.6" y2="504.3" stroke="#111" stroke-width="1"/>
<text x="107.6" y="514.0" font-size="7.6" text-anchor="middle">0.4</text>
<line x1="33.0" y1="408.1" x2="36.5" y2="408.1" stroke="#111" stroke-width="1"/>
<text x="30.2" y="410.8" font-size="7.6" text-anchor="end">0.6</text>
<line x1="139.8" y1="500.8" x2="139.8" y2="504.3" stroke="#111" stroke-width="1"/>
<text x="139.8" y="514.0" font-size="7.6" text-anchor="middle">0.6</text>
<line x1="33.0" y1="379.3" x2="36.5" y2="379.3" stroke="#111" stroke-width="1"/>
<text x="30.2" y="382.0" font-size="7.6" text-anchor="end">0.8</text>
<line x1="172.1" y1="500.8" x2="172.1" y2="504.3" stroke="#111" stroke-width="1"/>
<text x="172.1" y="514.0" font-size="7.6" text-anchor="middle">0.8</text>
<line x1="33.0" y1="350.5" x2="36.5" y2="350.5" stroke="#111" stroke-width="1"/>
<text x="30.2" y="353.2" font-size="7.6" text-anchor="end">10</text>
<line x1="204.3" y1="500.8" x2="204.3" y2="504.3" stroke="#111" stroke-width="1"/>
<text x="204.3" y="514.0" font-size="7.6" text-anchor="middle">1.0</text>
<text x="123.3" y="326.6" font-size="9.8" text-anchor="middle" textLength="102.3" lengthAdjust="spacingAndGlyphs">Skipped (cassette) exons</text>
<text y="339.6" font-size="7.5"><tspan x="12.5" textLength="31.3" lengthAdjust="spacingAndGlyphs">n=51046;</tspan><tspan x="54.8">=2103 (P&lt;0.05);</tspan><tspan x="117.8">=910 (q&lt;0.05) incl_cutoff:0.05</tspan></text><circle cx="50.8" cy="337.1" r="2.1" fill="#1c4f8f"/><circle cx="114.1" cy="337.1" r="2.1" fill="#d11f2d"/>
<text x="122.0" y="525.3" font-size="9.2" text-anchor="middle" textLength="39" lengthAdjust="spacingAndGlyphs" stroke="#000" stroke-width="0.2">KI ( P95H/+)</text>
<text x="0" y="0" font-size="9.8" text-anchor="middle" textLength="29.4" lengthAdjust="spacingAndGlyphs" stroke="#000" stroke-width="0.1" transform="translate(15.6,415.7) rotate(-90)">WT (+/+)</text>
<path d="M387.4 397.5h0M371.9 465.3h0M347.9 402.6h0M384.2 353.4h0M412.0 449.5h0M323.2 368.5h0M390.3 475.1h0M267.4 468.8h0M390.4 448.2h0M381.8 447.8h0M382.9 473.2h0M275.0 373.0h0M353.0 390.7h0M326.8 449.6h0M270.7 440.2h0M294.5 357.6h0M275.7 452.9h0M310.8 391.5h0M340.3 398.1h0M293.1 478.8h0M355.3 406.9h0M380.3 380.7h0M348.5 399.2h0M305.6 386.4h0M392.7 389.0h0M293.7 437.6h0M415.6 371.4h0M293.9 351.6h0M286.7 370.0h0M344.5 413.7h0M339.6 386.5h0M383.3 485.1h0M426.1 484.7h0M356.6 363.6h0M351.5 375.2h0M329.6 436.0h0M385.6 371.4h0M325.3 433.8h0M277.0 485.1h0M391.8 354.1h0M285.5 473.6h0M423.8 491.5h0M362.1 370.5h0M407.5 429.0h0M326.8 462.9h0M271.7 442.6h0M383.0 472.0h0M421.5 352.6h0M412.5 368.6h0M292.2 366.7h0M328.1 391.8h0M384.0 389.7h0M388.4 400.1h0M395.0 478.7h0M278.9 469.3h0M315.2 370.9h0M396.5 493.0h0M403.6 410.9h0M337.2 450.2h0M376.0 382.9h0M347.8 451.5h0M418.6 439.3h0M359.9 423.1h0M337.2 464.4h0M396.5 400.9h0M324.7 489.2h0M393.0 484.1h0M415.2 383.3h0M376.6 388.9h0M362.4 402.7h0M405.6 464.6h0M328.1 406.0h0M358.9 391.1h0M371.4 354.1h0M335.2 361.6h0M303.8 423.5h0M291.5 366.4h0M356.9 412.9h0M321.0 398.8h0M318.9 476.7h0M282.9 491.7h0M408.5 458.1h0M266.3 355.6h0M359.5 439.0h0M308.6 458.2h0M319.4 381.2h0M311.7 381.6h0M268.8 457.9h0M335.4 436.6h0M350.0 490.4h0M384.8 450.7h0M398.0 407.3h0M375.2 452.5h0M368.2 489.3h0M348.1 487.1h0M364.0 438.5h0M270.0 351.8h0M351.9 442.0h0M387.2 358.2h0M376.2 379.5h0M362.9 371.7h0M389.8 422.7h0M317.3 370.8h0M364.2 428.0h0M417.2 446.6h0M379.0 408.9h0M334.8 360.1h0M388.1 359.3h0M307.9 397.1h0M349.7 459.2h0M350.7 444.5h0M294.9 477.6h0M391.0 468.0h0M387.7 448.1h0M362.3 462.3h0M374.2 371.0h0M284.7 480.0h0M393.4 460.9h0M426.7 479.6h0M290.2 441.6h0M309.7 465.8h0M305.5 406.5h0M362.0 399.7h0M415.7 394.6h0M270.3 440.9h0M273.7 436.8h0M384.4 393.2h0M406.4 397.8h0M295.2 386.8h0M392.0 353.6h0M323.7 438.1h0M334.8 476.3h0M299.3 472.3h0M381.4 356.8h0M402.2 399.0h0M375.7 376.7h0M269.5 491.5h0M280.1 422.9h0M285.4 465.5h0M336.2 413.8h0M405.1 391.1h0M353.6 477.1h0M390.7 455.3h0M389.9 470.4h0M332.3 447.3h0M339.0 371.0h0M321.6 374.2h0M302.6 493.4h0M274.6 358.8h0M301.7 383.6h0M417.5 353.6h0M321.8 472.9h0M291.7 404.1h0M421.8 414.0h0M307.4 394.2h0M374.9 363.4h0M332.9 446.1h0M310.3 360.8h0M413.3 415.3h0M284.4 406.3h0M425.0 417.4h0M370.4 491.6h0M342.0 391.6h0M366.1 366.0h0M316.5 465.1h0M310.1 400.2h0M363.9 434.1h0M273.6 476.2h0M267.1 383.7h0M293.3 409.1h0M402.3 468.2h0M385.6 427.3h0M305.0 474.1h0M331.9 444.3h0M318.3 432.4h0M420.6 373.0h0M308.8 394.6h0M316.1 469.6h0M389.3 392.7h0M385.2 386.8h0M364.7 472.0h0M344.9 464.2h0M337.5 401.6h0M415.7 433.1h0M381.7 361.0h0M325.3 369.5h0M417.1 462.6h0M323.2 370.1h0M387.0 390.1h0M359.1 381.0h0M373.4 421.3h0M405.4 477.6h0M305.4 372.2h0M327.0 360.7h0M398.8 453.9h0M356.6 469.5h0M366.6 468.6h0M383.8 423.3h0M365.6 441.2h0M395.2 479.9h0M273.4 385.4h0M295.7 490.1h0M426.6 405.6h0M378.5 357.4h0M406.4 358.2h0M314.7 434.1h0M307.5 487.3h0M328.8 461.3h0M267.4 405.4h0M345.0 485.3h0M289.4 452.8h0M423.5 360.1h0M341.2 385.7h0M304.7 378.6h0M351.2 376.1h0M402.3 397.5h0M323.6 479.6h0M360.8 416.6h0M371.8 433.8h0M314.8 423.1h0M370.7 438.9h0M338.6 372.4h0M335.1 397.5h0M411.2 417.2h0M425.4 456.8h0M390.2 385.7h0M408.2 478.3h0M287.0 412.5h0M413.9 378.2h0M266.4 444.7h0M422.5 361.3h0M318.4 415.9h0M415.7 381.4h0M276.6 464.5h0M354.5 464.6h0M336.6 473.2h0M298.6 358.6h0M313.7 474.2h0M332.7 351.3h0M391.5 473.3h0M394.9 436.2h0M305.8 388.8h0M381.3 487.9h0M283.2 486.7h0M375.5 385.0h0M310.1 414.7h0M381.3 471.6h0M352.2 491.1h0M322.9 426.4h0M349.2 483.5h0M337.2 494.4h0M266.2 359.4h0M266.2 463.1h0M266.2 449.9h0M266.2 387.2h0M389.4 494.4h0M266.2 367.1h0M266.2 394.1h0M300.5 494.4h0M266.2 454.3h0M266.2 396.0h0M308.8 494.4h0M336.0 494.4h0M373.1 494.4h0M354.4 494.4h0M383.7 494.4h0M359.5 494.4h0M365.0 494.4h0M266.2 367.8h0M266.2 449.4h0M362.0 494.4h0M266.2 477.7h0M376.2 494.4h0M377.4 494.4h0M395.9 494.4h0M266.2 443.6h0M348.8 494.4h0M305.5 494.4h0M400.0 494.4h0M380.5 494.4h0M266.2 358.4h0M405.9 494.4h0M279.5 494.4h0M266.2 355.6h0M274.6 494.4h0M384.5 494.4h0M390.3 494.4h0M410.3 494.4h0M312.2 494.4h0M314.5 494.4h0M266.2 417.0h0M266.2 376.6h0M357.6 494.4h0M377.1 494.4h0M266.2 462.3h0M266.2 385.9h0M266.2 417.2h0M266.2 439.8h0M266.2 368.0h0M266.2 445.9h0M266.2 398.0h0M266.2 434.7h0M399.8 494.4h0M266.2 361.6h0M358.4 494.4h0M266.2 389.8h0M266.2 362.3h0M266.2 466.8h0M266.2 351.4h0M266.2 447.6h0M276.2 494.4h0M266.2 393.6h0M287.1 494.4h0M266.2 437.5h0M396.5 494.4h0M315.4 494.4h0M376.5 494.4h0M266.2 425.7h0M305.5 494.4h0M330.0 494.4h0M266.2 407.5h0M343.7 494.4h0M345.2 494.4h0M315.8 494.4h0M417.0 494.4h0M422.6 494.4h0M380.9 494.4h0M294.8 494.4h0M413.1 494.4h0M266.2 369.1h0" stroke="#cdcdcd" stroke-width="1.1" stroke-linecap="round"/>
<path d="M342.9 430.4h0M389.1 382.6h0M351.2 421.2h0M361.0 409.1h0M391.1 381.5h0M396.3 379.7h0M355.2 425.7h0M328.5 430.7h0M271.9 483.1h0M275.4 486.9h0M267.2 491.0h0M351.4 422.6h0M388.3 382.2h0M329.0 440.0h0M296.1 468.1h0M285.4 482.6h0M353.5 421.9h0M269.5 491.1h0M366.8 409.1h0M340.7 421.2h0M369.2 401.6h0M306.2 464.7h0M276.6 486.5h0M269.4 488.5h0M306.0 465.1h0M333.5 427.3h0M382.5 381.3h0M270.7 490.8h0M290.8 473.3h0M414.4 366.1h0M297.4 455.2h0M292.2 474.8h0M400.2 370.9h0M408.7 363.8h0M331.2 433.5h0M358.3 412.4h0M367.8 403.4h0M374.6 392.8h0M293.5 474.8h0M353.0 419.0h0M340.2 421.4h0M376.5 397.7h0M420.0 361.4h0M341.0 430.4h0M295.1 465.1h0M353.5 419.4h0M407.6 367.0h0M328.0 441.0h0M291.5 470.1h0M292.3 467.9h0M357.3 403.0h0M424.0 353.4h0M413.1 367.8h0M360.1 410.3h0M322.9 444.0h0M314.6 452.2h0M318.0 440.5h0M315.3 446.1h0M318.9 446.7h0M283.2 467.2h0M292.4 481.1h0M339.2 430.0h0M315.6 449.9h0M392.7 374.5h0M284.8 471.9h0M297.6 464.5h0M382.3 390.7h0M419.2 358.0h0M343.8 431.6h0M415.3 370.9h0M323.2 445.0h0M397.4 382.0h0M309.8 454.1h0M369.9 397.3h0M398.7 384.1h0M319.8 438.9h0M334.4 435.2h0M318.3 453.6h0M401.8 380.4h0M359.6 412.2h0M332.0 433.4h0M293.1 471.0h0M328.3 444.0h0M316.8 453.6h0M350.7 420.9h0M372.6 403.5h0M369.3 396.6h0M306.2 459.9h0M362.5 411.7h0M295.2 468.4h0M299.3 453.1h0M270.9 487.5h0M391.1 383.6h0M353.9 410.1h0M316.7 445.7h0M289.7 473.8h0M396.5 368.0h0M307.7 455.4h0M353.6 418.8h0M395.3 375.2h0M376.0 395.9h0M362.3 414.8h0M403.8 379.6h0M358.0 409.1h0M314.5 443.5h0M392.9 384.5h0M332.1 438.8h0M398.6 377.1h0M313.9 453.5h0M270.8 486.4h0M360.9 411.2h0M396.5 375.8h0M343.4 425.9h0M341.7 425.4h0M324.5 437.0h0M301.4 470.9h0M271.0 484.6h0M385.0 390.6h0M415.6 362.8h0M313.8 451.1h0M269.5 488.6h0M345.7 430.7h0M275.6 493.1h0M392.4 389.6h0M389.9 389.2h0M311.5 454.5h0M357.4 411.3h0M363.4 413.7h0M267.0 485.6h0M413.7 366.8h0M425.7 351.4h0M270.3 491.0h0M275.8 483.4h0M391.1 376.6h0M341.8 425.3h0M306.1 462.0h0M365.0 410.2h0M402.3 374.2h0M327.4 436.4h0M398.9 372.5h0M411.5 365.2h0M288.5 468.2h0M300.8 460.2h0M344.3 420.8h0M388.6 376.3h0M422.0 353.0h0M291.4 476.1h0M336.3 432.6h0M422.4 364.5h0M417.2 367.1h0M307.2 449.8h0M414.5 365.5h0M426.5 351.5h0M301.4 459.0h0M367.1 398.7h0M360.3 403.9h0M338.0 430.3h0M390.0 386.7h0M344.0 426.9h0M337.8 440.1h0M356.9 407.0h0M282.3 479.9h0M312.9 447.7h0M406.0 380.0h0M329.5 436.3h0M309.8 448.2h0M355.5 413.4h0M381.6 387.6h0M374.5 402.7h0M372.2 399.3h0M348.9 428.2h0M353.6 420.4h0M323.8 444.3h0M287.9 470.0h0M310.0 457.3h0M293.3 471.8h0M392.6 380.9h0M337.4 439.0h0M306.6 459.8h0M354.1 406.7h0M382.2 394.1h0M331.3 432.0h0M347.5 425.7h0M352.2 416.8h0M286.1 475.4h0M335.1 434.3h0M282.3 487.0h0M364.7 410.3h0M388.3 373.6h0M267.9 487.4h0M295.9 461.1h0M406.1 376.4h0M297.4 460.5h0M409.3 361.2h0M319.7 447.3h0M350.9 418.6h0M383.0 391.1h0M378.0 396.0h0M359.6 414.1h0M267.6 482.3h0M275.7 490.9h0M389.4 379.2h0M323.1 439.5h0M380.3 398.0h0M362.3 402.6h0M340.1 429.5h0M332.3 441.9h0M307.7 455.9h0M383.9 393.7h0M302.4 461.0h0M418.5 370.4h0M320.7 439.6h0M345.0 422.5h0M326.1 448.2h0M419.8 353.4h0M299.2 461.8h0M415.6 359.7h0M299.0 459.2h0M407.9 361.8h0M310.3 461.1h0M382.2 388.6h0M415.9 354.2h0M317.3 456.3h0M283.3 475.5h0M339.3 424.8h0M397.3 381.2h0M316.1 452.8h0M362.1 412.1h0M324.5 445.4h0M306.2 459.2h0M372.2 396.4h0M394.5 373.0h0M289.6 483.0h0M379.1 391.6h0M345.0 416.1h0M407.2 368.1h0M372.7 397.8h0M275.7 486.0h0M274.4 483.8h0M358.1 417.3h0M366.3 412.2h0M425.3 352.8h0M379.2 396.6h0M335.5 436.7h0M409.0 365.5h0M363.7 418.0h0M364.3 406.5h0M280.2 478.2h0M371.4 398.1h0M301.0 467.4h0M364.8 409.1h0M297.6 468.3h0M399.8 380.1h0M280.2 480.3h0M375.8 397.3h0M417.1 362.6h0M378.0 395.6h0M324.0 453.4h0M317.2 450.0h0M422.1 354.4h0M354.5 417.6h0M290.4 476.8h0M298.5 463.5h0M306.0 461.5h0M406.6 374.3h0M369.9 401.2h0M394.7 376.7h0M304.4 464.9h0M384.3 389.7h0M362.6 405.8h0M394.0 382.5h0M333.5 434.6h0M321.3 440.7h0M302.2 465.1h0M363.3 413.5h0M291.8 466.0h0M298.1 466.4h0M369.2 403.3h0M308.8 446.9h0M381.8 385.1h0M362.5 406.0h0M293.4 470.2h0M328.9 432.6h0M293.6 460.0h0M393.2 382.7h0M402.1 379.9h0M379.6 393.0h0M395.2 385.7h0M393.6 374.7h0M393.5 383.1h0M324.1 437.1h0M343.1 419.5h0M380.6 392.6h0M296.4 472.9h0M306.7 458.6h0M406.8 368.4h0M304.0 459.7h0M379.9 393.9h0M363.9 411.9h0M413.8 360.5h0M364.0 404.0h0M363.4 422.0h0M336.1 444.4h0M415.6 355.6h0M372.0 400.7h0M417.8 357.8h0M274.0 480.2h0M410.5 361.0h0M411.2 366.9h0M352.0 419.5h0M352.3 421.4h0M393.1 383.9h0M356.4 422.7h0M372.0 407.3h0M294.2 461.2h0M281.0 484.3h0M392.3 380.4h0M369.8 400.0h0M403.6 375.4h0M307.0 446.8h0M362.2 413.4h0M416.0 361.4h0M312.5 450.1h0M401.1 368.7h0M311.0 455.7h0M311.2 453.6h0M400.2 386.5h0M420.5 358.2h0M318.8 455.8h0M311.7 452.3h0M391.6 388.2h0M351.4 426.6h0M381.5 390.8h0M340.2 429.1h0M351.1 408.9h0M417.7 360.7h0M278.0 482.0h0M355.8 411.9h0M325.3 440.3h0M396.7 379.6h0M417.5 358.0h0M385.3 382.6h0M301.7 466.5h0M279.8 486.0h0M312.6 456.3h0M355.2 414.0h0M352.2 419.0h0M331.5 428.7h0M279.2 483.1h0M282.9 484.0h0M387.6 379.2h0M368.9 407.0h0M350.4 418.1h0M300.3 467.7h0M328.1 442.2h0M411.9 363.6h0M320.9 446.5h0M393.9 388.7h0M319.6 443.8h0M414.5 367.3h0M360.4 406.1h0M397.3 373.3h0M420.5 356.9h0M408.6 370.0h0M338.0 413.6h0M396.2 384.7h0M395.0 371.6h0M315.8 446.4h0M349.9 421.7h0M271.7 491.3h0M328.5 442.4h0M390.8 389.5h0M403.9 374.0h0M351.8 420.6h0M316.6 444.8h0M299.3 457.4h0M426.8 351.7h0M398.3 375.6h0M281.7 480.8h0M415.4 365.5h0M357.3 402.6h0M271.7 485.0h0M274.9 477.7h0M334.8 437.2h0M392.0 388.9h0M394.8 377.4h0M336.9 422.0h0M305.2 464.6h0M423.6 359.9h0M290.2 478.7h0M368.5 402.4h0M344.9 418.4h0M309.7 454.8h0M279.2 491.7h0M327.5 442.6h0M337.6 432.9h0M349.2 421.4h0M273.9 480.6h0M307.7 446.2h0M360.6 407.3h0M405.8 369.6h0M331.2 437.1h0M290.9 471.8h0M406.4 362.8h0M300.7 459.5h0M357.0 406.3h0M292.6 470.6h0M308.3 451.4h0M334.2 432.8h0M313.7 457.7h0M286.4 475.2h0M414.7 361.2h0M354.1 422.4h0M335.4 429.6h0M400.4 373.0h0M318.9 451.8h0M267.1 493.3h0M330.9 437.1h0M284.4 481.9h0M397.6 376.3h0M268.8 494.0h0M424.7 353.1h0M370.0 402.6h0M326.6 442.2h0M326.1 443.4h0M420.4 358.8h0M270.8 488.6h0M367.6 405.3h0M407.1 377.6h0M281.9 475.9h0M278.7 476.9h0M344.4 423.9h0M319.0 448.4h0M294.3 464.6h0M423.4 358.3h0M376.1 399.8h0M280.4 485.2h0M370.9 402.9h0M421.6 350.8h0M373.7 395.9h0M316.2 446.7h0M391.7 378.1h0M273.8 487.4h0M401.6 368.7h0M334.2 437.6h0M341.8 418.2h0M335.1 430.3h0M396.1 367.5h0M280.3 483.2h0M380.2 400.7h0M309.6 455.7h0M337.8 438.2h0M363.0 408.4h0M379.7 386.1h0M404.0 371.9h0M299.0 462.1h0M425.0 354.7h0M380.5 393.5h0M420.7 360.4h0M299.9 461.4h0M325.4 440.2h0M277.1 489.3h0M336.8 432.0h0M388.8 379.6h0M368.2 407.6h0M302.1 470.9h0M392.3 379.5h0M387.3 387.5h0M281.5 491.1h0M396.4 368.4h0M403.8 373.9h0M287.8 470.7h0M393.3 386.6h0M357.8 419.2h0M334.6 435.2h0M281.7 468.2h0M267.3 480.7h0M352.0 421.9h0M401.9 369.2h0M308.7 448.2h0M412.2 367.3h0M279.1 479.9h0M280.4 475.3h0M343.1 427.6h0M305.0 462.7h0M414.9 364.3h0M355.5 414.3h0M406.2 374.6h0M416.1 363.6h0M403.6 376.7h0M294.3 467.5h0M333.5 438.5h0M276.8 489.8h0M312.7 450.7h0M314.7 451.8h0M408.3 371.0h0M311.4 456.5h0M311.4 448.0h0M317.2 452.6h0M407.3 365.4h0M305.9 470.7h0M302.9 463.9h0M349.5 422.2h0M394.0 386.1h0M321.2 437.5h0M301.8 471.0h0M278.0 485.3h0M423.4 350.6h0M368.8 406.3h0M296.0 466.5h0M340.5 428.4h0M321.9 439.3h0M336.0 435.4h0M342.9 418.7h0M315.2 448.8h0M384.2 388.8h0M426.7 355.4h0M407.6 373.2h0M369.0 410.8h0M293.3 475.4h0M312.7 456.2h0M327.4 436.9h0M307.9 456.5h0M359.6 410.7h0M329.8 439.2h0M371.0 397.8h0M383.6 394.4h0M291.6 474.9h0M278.5 490.7h0M313.1 443.9h0M274.3 493.8h0M324.7 444.3h0M356.2 416.1h0M411.9 362.2h0M316.0 451.1h0M415.2 354.8h0M274.5 481.3h0M364.9 408.2h0M352.5 418.2h0M401.5 373.4h0M370.2 401.1h0M281.7 481.9h0M353.6 414.1h0M404.3 371.0h0M424.9 351.8h0M421.4 357.3h0M397.4 374.8h0M358.7 408.7h0M270.4 487.3h0M305.2 457.1h0M318.1 447.3h0M375.0 401.6h0M352.6 416.1h0M370.4 407.3h0M366.5 404.8h0M276.1 483.4h0M288.6 461.5h0M411.7 364.0h0M282.3 477.8h0M318.2 451.1h0M351.0 421.3h0M406.1 367.9h0M319.2 455.2h0M419.4 361.5h0M407.4 363.3h0M280.0 480.3h0M314.6 454.6h0M322.7 439.3h0M333.3 427.4h0M283.8 467.7h0M344.0 428.3h0M297.2 473.0h0M392.0 382.3h0M394.8 382.2h0M290.4 462.2h0M344.0 422.9h0M273.7 484.7h0M325.1 439.7h0M331.5 440.1h0M402.0 372.1h0M390.5 384.6h0M321.2 444.8h0M387.0 387.8h0M339.8 436.1h0M360.2 406.9h0M386.8 381.3h0M375.9 394.8h0M334.3 437.8h0M290.4 480.7h0M384.9 392.2h0M285.9 473.0h0M360.9 416.6h0M363.2 421.3h0M388.7 392.7h0M364.8 394.3h0M277.3 483.3h0M402.6 373.4h0M314.8 456.9h0M324.3 450.7h0M381.4 393.5h0M314.5 446.6h0M285.3 480.5h0M418.3 362.6h0M392.4 376.7h0M335.0 430.6h0M364.8 408.3h0M293.6 466.8h0M316.9 446.2h0M299.3 469.8h0M351.7 419.1h0M361.0 405.5h0M319.3 447.7h0M376.0 397.2h0M269.3 490.9h0M351.5 420.4h0M353.9 426.1h0M339.2 430.8h0M353.5 414.1h0M418.2 351.3h0M414.4 365.9h0M292.0 473.7h0M306.3 452.3h0M349.4 418.5h0M371.5 403.1h0M396.6 380.9h0M364.9 413.4h0M421.5 354.0h0M278.6 479.4h0M348.3 414.1h0M379.5 390.4h0M338.2 435.0h0M322.9 450.5h0M375.3 390.9h0M344.0 430.1h0M381.9 394.1h0M276.3 483.8h0M276.6 485.5h0M356.9 413.6h0M356.1 419.7h0M337.2 434.1h0M391.7 377.4h0M305.9 455.6h0M361.3 399.7h0M388.6 385.2h0M271.5 483.0h0M412.3 357.2h0M372.8 391.4h0M381.5 388.0h0M300.6 455.1h0M358.1 411.4h0M389.9 387.7h0M405.0 368.8h0M408.7 371.9h0M293.5 468.0h0M391.7 377.1h0M308.0 459.6h0M295.1 458.5h0M307.2 462.4h0M395.8 380.2h0M347.7 423.3h0M363.2 404.7h0M287.0 476.3h0M340.0 423.7h0M320.3 454.5h0M374.4 404.7h0M296.5 466.9h0M348.1 422.7h0M285.5 473.3h0M407.1 370.3h0M364.8 400.1h0M368.2 403.7h0M288.5 466.9h0M422.5 359.6h0M372.4 405.1h0M421.1 354.7h0M313.1 447.8h0M321.0 440.9h0M414.1 357.0h0M287.9 473.8h0M300.0 460.7h0M349.3 419.2h0M378.7 389.4h0M315.7 451.4h0M366.3 408.6h0M390.6 390.9h0M381.0 388.6h0M373.1 402.4h0M314.3 446.1h0M273.1 480.0h0M317.6 445.0h0M325.7 441.8h0M388.9 383.9h0M403.1 367.8h0M292.5 474.9h0M284.1 483.8h0M308.4 457.7h0M273.7 492.5h0M321.8 445.6h0M399.1 377.3h0M400.8 372.2h0M405.5 364.5h0M321.0 438.8h0M422.0 358.7h0M358.8 408.8h0M345.8 418.6h0M397.2 379.7h0M339.5 432.8h0M389.9 380.0h0M316.3 452.0h0M407.3 374.6h0M326.7 448.1h0M368.3 405.5h0M401.1 373.7h0M378.8 391.7h0M274.8 488.6h0M347.3 420.2h0M328.7 438.3h0M280.6 471.7h0M384.8 388.4h0M324.5 447.6h0M338.4 429.0h0M347.7 428.0h0M306.9 454.5h0M345.9 416.9h0M380.9 389.4h0M392.4 375.3h0M378.7 400.0h0M417.6 362.1h0M327.7 445.9h0M406.4 364.5h0M323.8 436.6h0M409.2 360.4h0M281.9 483.2h0M369.5 395.7h0M357.1 409.7h0M417.3 354.1h0M295.3 480.1h0M273.6 477.6h0M409.2 371.0h0M309.0 447.7h0M330.1 441.5h0M370.9 398.1h0M373.9 390.7h0M289.8 472.7h0M352.0 412.7h0M273.7 482.8h0M419.9 357.7h0M276.6 479.5h0M266.4 492.3h0M375.9 394.0h0M296.0 458.8h0M337.9 427.3h0M368.4 411.0h0M406.3 367.5h0M361.0 417.4h0M273.3 489.8h0M409.1 369.2h0M417.9 359.4h0M274.8 489.0h0M367.5 402.1h0M343.6 435.2h0M316.8 457.1h0M312.4 449.2h0M295.3 461.9h0M274.8 483.4h0M402.8 372.5h0M375.8 396.0h0M337.3 430.3h0M280.1 476.1h0M281.7 474.3h0M375.6 390.5h0M291.7 468.9h0M424.3 354.5h0M273.3 488.4h0M344.4 431.9h0M322.8 448.4h0M289.5 470.0h0M392.2 385.3h0M375.6 393.2h0M396.3 374.8h0M412.4 359.4h0M373.0 393.0h0M281.5 478.0h0M351.4 403.1h0M271.2 489.4h0M320.0 450.2h0M277.1 486.9h0M277.4 489.5h0M309.8 458.0h0M419.7 350.7h0M325.2 446.6h0M269.8 487.5h0M350.4 423.8h0M384.3 385.1h0M313.1 452.6h0M400.4 365.7h0M395.9 376.8h0M388.4 387.5h0M341.3 427.4h0M361.1 413.0h0M396.2 376.0h0M354.0 422.5h0M317.2 459.9h0M267.6 490.8h0M273.2 493.6h0M325.2 430.7h0M362.4 413.9h0M407.1 364.5h0M362.0 408.0h0M286.1 479.7h0M399.0 371.9h0M382.5 391.3h0M358.7 408.7h0M316.2 449.0h0M355.0 414.9h0M375.3 399.7h0M421.7 351.5h0M367.0 392.3h0M325.6 443.2h0M288.6 478.0h0M385.4 386.0h0M379.8 396.7h0M345.4 411.0h0M405.3 371.7h0M362.7 406.6h0M324.1 441.9h0M342.5 421.4h0M370.3 396.1h0M279.6 484.2h0M276.1 486.3h0M316.2 459.4h0M426.3 360.8h0M376.3 386.1h0M282.2 481.3h0M410.1 369.9h0M338.4 420.5h0M287.8 484.3h0M316.2 445.5h0M413.4 357.8h0M274.5 486.5h0M279.5 474.7h0M349.4 430.9h0M287.6 474.4h0M341.7 426.9h0M295.1 483.1h0M368.1 403.0h0M322.1 448.9h0M334.2 427.5h0M350.6 419.8h0M381.4 391.3h0M326.6 436.8h0M347.7 424.2h0M379.3 394.1h0M354.0 413.3h0M319.2 449.2h0M341.9 428.7h0M298.5 465.3h0M369.7 408.2h0M322.7 437.8h0M304.6 464.1h0M308.3 451.3h0M426.2 355.5h0M355.5 417.4h0M273.0 483.9h0M325.9 445.1h0M403.3 369.8h0M394.7 380.1h0M401.4 373.1h0M350.8 408.2h0M393.8 386.1h0M342.0 426.1h0M411.8 365.2h0M277.4 478.5h0M316.5 457.6h0M339.2 433.2h0M352.0 418.4h0M271.0 485.5h0M401.2 367.3h0M401.7 367.2h0M299.5 461.5h0M352.8 429.6h0M338.0 428.4h0M350.6 413.9h0M305.7 462.2h0M314.8 450.3h0M413.2 368.0h0M358.9 420.6h0M411.3 356.6h0M421.7 354.0h0M288.7 472.5h0M350.9 426.7h0M303.5 467.2h0M415.3 360.6h0M379.2 393.3h0M325.2 437.9h0M319.6 457.9h0M367.8 405.9h0M364.6 407.2h0M390.9 377.9h0M270.0 488.9h0M313.6 449.6h0M367.6 399.1h0M374.5 400.0h0M391.8 393.3h0M363.6 399.6h0M330.1 435.5h0M292.1 471.2h0M386.6 389.0h0M369.4 409.8h0M307.5 464.1h0M282.1 478.9h0M425.9 352.0h0M313.5 446.2h0M309.0 458.7h0M402.0 375.2h0M275.4 489.4h0M356.6 411.1h0M398.4 372.4h0M292.2 483.6h0M355.1 413.5h0M375.2 392.5h0M363.2 417.5h0M323.0 439.5h0M294.0 471.7h0M381.8 393.6h0M361.5 408.7h0M385.8 376.4h0M368.9 407.3h0M320.7 450.0h0M349.0 419.3h0M300.2 464.3h0M334.9 438.4h0M396.3 375.1h0M359.7 409.3h0M347.6 410.2h0M362.5 402.0h0M295.6 459.6h0M274.0 477.9h0M296.8 474.2h0M324.0 448.1h0M424.1 355.1h0M371.3 404.1h0M366.7 412.8h0M327.8 438.8h0M291.3 472.8h0M372.4 400.6h0M411.8 367.1h0M269.3 488.7h0M405.4 365.4h0M361.2 403.3h0M426.8 352.5h0M420.2 352.3h0M347.5 420.9h0M407.9 371.0h0M337.2 430.3h0M408.3 367.9h0M419.9 356.5h0M288.5 471.5h0M420.7 352.5h0M387.4 382.9h0M358.8 409.9h0M346.5 424.0h0M343.8 431.6h0M396.2 369.6h0M338.9 432.2h0M377.0 396.4h0M286.9 483.1h0M300.0 471.9h0M307.7 457.5h0M312.0 451.8h0M366.7 398.7h0M294.9 473.5h0M318.6 448.0h0M412.5 357.5h0M312.0 450.7h0M367.2 405.5h0M403.7 371.3h0M400.4 369.5h0M304.1 459.7h0M421.8 355.7h0M407.7 361.6h0M402.5 378.9h0M310.8 455.9h0M275.5 491.5h0M335.2 433.7h0M367.6 397.7h0M410.6 359.6h0M332.9 437.4h0M384.9 389.3h0M332.4 432.8h0M336.0 431.5h0M281.4 474.8h0M368.6 405.2h0M386.8 382.4h0M301.7 465.9h0M318.9 441.8h0M372.9 405.1h0M320.9 454.4h0M331.3 437.9h0M384.2 383.3h0M375.3 392.8h0M306.8 454.6h0M417.0 361.9h0M365.5 412.3h0M270.5 481.3h0M275.8 482.0h0M412.0 356.6h0M410.1 374.8h0M286.2 480.6h0M400.7 374.6h0M405.3 374.9h0M388.3 388.6h0M384.7 394.9h0M299.6 461.9h0M305.2 459.8h0M404.0 379.3h0M351.5 409.0h0M319.6 449.9h0M421.3 353.6h0M279.6 477.2h0M323.1 443.5h0M319.3 446.5h0M369.5 401.1h0M292.2 468.9h0M312.7 451.4h0M395.4 378.9h0M398.5 374.1h0M325.6 443.0h0M271.1 489.3h0M296.0 473.1h0M388.2 371.7h0M394.4 382.7h0M343.9 425.4h0M356.9 404.4h0M388.8 393.0h0M358.3 409.2h0M421.5 350.8h0M323.0 448.7h0M399.4 376.2h0M309.2 453.1h0M338.5 427.7h0M374.9 393.5h0M341.3 431.4h0M419.4 357.7h0M313.7 448.9h0M381.4 384.4h0M286.3 478.7h0M396.4 378.1h0M336.9 430.8h0M310.0 448.5h0M280.1 484.8h0M366.7 395.7h0M375.4 398.4h0M293.6 473.3h0M423.6 358.8h0M334.6 429.2h0M295.3 465.4h0M357.6 413.9h0M357.7 418.0h0M301.6 469.3h0M333.4 439.6h0" stroke="#c3c3c3" stroke-width="1.0" stroke-linecap="round"/>
<path d="M366.8 404.9h0M420.7 361.2h0M385.0 387.5h0M341.5 427.6h0M420.1 360.4h0M287.3 480.7h0M341.7 426.8h0M355.9 409.3h0M268.1 492.3h0M412.6 361.4h0M387.7 382.5h0M285.9 472.1h0M365.6 405.5h0M406.5 368.9h0M298.8 463.2h0M402.0 364.6h0M310.3 450.5h0M376.0 397.4h0M296.5 462.5h0M422.7 356.0h0M410.7 366.2h0M291.3 469.1h0M288.3 472.2h0M362.6 406.9h0M317.9 451.3h0M399.7 378.0h0M343.5 424.9h0M374.4 388.3h0M268.5 489.9h0M386.8 386.3h0M393.4 381.3h0M325.5 441.9h0M273.8 487.8h0M294.2 467.3h0M388.3 386.0h0M414.6 359.4h0M324.1 444.0h0M350.6 418.7h0M387.7 387.5h0M394.3 379.4h0M418.9 358.6h0M282.1 482.4h0M412.3 360.6h0M318.6 443.3h0M317.7 450.5h0M316.9 448.5h0M289.5 472.4h0M376.0 394.1h0M274.0 487.4h0M426.6 353.7h0M304.9 460.6h0M360.8 407.9h0M336.3 435.7h0M274.8 486.1h0M346.0 423.6h0M399.3 372.0h0M417.4 356.1h0M367.5 403.5h0M337.2 432.8h0M289.4 472.2h0M340.8 430.6h0M344.2 433.5h0M345.2 424.4h0M315.4 454.6h0M329.9 435.1h0M424.3 351.2h0M422.0 357.4h0M322.5 447.3h0M281.0 481.9h0M402.9 366.9h0M323.6 441.7h0M381.6 397.6h0M373.1 398.7h0M381.7 394.8h0M315.0 457.1h0M377.2 394.7h0M310.7 449.6h0M360.8 411.8h0M269.1 493.6h0M374.9 398.2h0M339.5 426.6h0M397.2 381.9h0M324.4 446.3h0M402.0 377.3h0M320.2 441.9h0M380.6 398.5h0M421.8 352.4h0M352.2 418.9h0M290.8 468.5h0M347.6 429.8h0M378.2 395.5h0M296.8 472.3h0M394.4 384.3h0M335.6 435.3h0M366.2 404.2h0M385.1 393.3h0M269.8 489.7h0M369.0 399.1h0M302.6 463.8h0M274.9 490.1h0M342.1 426.4h0M287.1 474.7h0M316.7 448.2h0M271.1 488.5h0M343.4 429.5h0M359.2 407.6h0M304.5 460.1h0M331.6 436.1h0M311.9 455.1h0M399.7 374.3h0M323.5 438.0h0M281.0 480.3h0M355.6 417.4h0M418.9 355.0h0M401.0 379.3h0M367.7 400.2h0M323.9 439.6h0M354.7 411.2h0M418.4 354.9h0M323.4 444.4h0M409.3 365.1h0M357.3 413.0h0M363.3 404.1h0M408.0 364.5h0M328.2 441.6h0M312.5 451.9h0M425.5 356.9h0M410.6 360.4h0M362.6 409.0h0M339.8 417.3h0M335.8 437.0h0M339.5 418.4h0M313.4 454.1h0M366.2 404.8h0M338.7 431.5h0M396.3 372.7h0M269.4 493.5h0M417.1 360.0h0M392.1 381.8h0M289.7 470.9h0M426.0 352.6h0M339.7 423.4h0M372.9 404.1h0M286.9 478.9h0M389.5 385.7h0M317.8 443.8h0M316.3 453.7h0M324.8 442.9h0M386.7 387.6h0M307.2 458.3h0M335.5 425.2h0M356.4 418.0h0M268.3 492.1h0M361.3 413.6h0M381.9 393.9h0M414.4 364.4h0M331.6 441.9h0M295.5 464.1h0M313.6 451.4h0M401.5 374.6h0M379.7 395.8h0M391.3 381.5h0M411.8 362.3h0M352.7 413.6h0M347.0 423.3h0M359.5 409.1h0M395.8 376.5h0M397.7 376.0h0M394.0 380.7h0M383.0 390.8h0M421.6 351.6h0M274.1 487.4h0M401.4 372.8h0M417.5 355.5h0M379.8 390.9h0M413.1 361.4h0M291.7 474.1h0M293.4 472.3h0M365.5 403.9h0M327.0 439.6h0M275.9 482.3h0M384.9 386.7h0M406.5 366.9h0M315.2 447.6h0M368.1 412.7h0M326.1 440.3h0M275.5 486.6h0M369.1 404.6h0M345.3 419.4h0M367.7 406.4h0M310.1 457.8h0M387.6 386.8h0M348.4 419.0h0M324.8 439.9h0M383.5 387.2h0M368.7 397.4h0M280.3 482.4h0M287.0 477.0h0M361.6 408.6h0M339.0 421.2h0M318.1 447.7h0M383.5 390.5h0M272.7 484.7h0M371.7 392.6h0M298.3 458.8h0M369.5 395.3h0M396.8 374.8h0M320.9 441.3h0M305.4 461.8h0M319.8 441.9h0M325.6 436.5h0M367.5 398.4h0M399.2 381.6h0M347.8 418.3h0M364.9 412.0h0M331.5 438.9h0M280.8 479.5h0M272.4 488.5h0M412.3 368.9h0M339.5 424.6h0M337.2 434.5h0M340.1 426.5h0M291.2 471.0h0M329.9 443.5h0M288.3 470.4h0M307.3 458.0h0M311.2 452.0h0M304.6 461.0h0M415.1 361.3h0M322.6 438.6h0M376.0 398.5h0M341.1 425.6h0M374.3 398.5h0M314.6 453.9h0M295.1 473.2h0M297.2 464.3h0M278.6 483.0h0M328.7 434.8h0M316.8 449.8h0M342.4 427.7h0M378.6 388.2h0M292.4 470.8h0M415.4 357.0h0M375.6 406.2h0M275.7 485.4h0M275.0 489.3h0M351.8 413.1h0M322.8 444.2h0M278.2 478.1h0M343.2 421.9h0M415.9 358.8h0M274.0 486.8h0M328.6 435.8h0M331.2 435.2h0M314.9 449.9h0M422.6 354.5h0M297.0 470.3h0M351.9 418.1h0M280.1 482.5h0M352.5 415.5h0M417.2 364.1h0M302.9 465.5h0M270.6 493.3h0M358.9 412.7h0M329.4 442.4h0M415.1 364.7h0M319.5 453.5h0M301.1 461.1h0M285.1 478.0h0M389.9 382.6h0M398.6 376.8h0M278.6 481.9h0M303.8 457.5h0M358.0 410.3h0M302.9 456.5h0M273.1 486.7h0M298.8 466.0h0M280.5 478.8h0M335.4 435.2h0M352.3 411.3h0M412.1 366.9h0M361.9 414.5h0M336.1 429.6h0M422.0 358.8h0M384.0 390.1h0M398.4 378.8h0M327.3 438.9h0M293.0 469.6h0M309.2 457.3h0M277.6 486.3h0M389.7 384.9h0M274.5 487.2h0M289.3 477.6h0M416.8 355.7h0M364.5 406.1h0M322.3 440.2h0M316.6 444.3h0M399.2 375.2h0M381.2 388.0h0M292.5 468.6h0M385.1 396.4h0M392.7 378.7h0M286.8 478.8h0M335.9 424.0h0M339.7 435.1h0M416.1 358.8h0M349.0 415.1h0M283.3 479.9h0M397.9 377.7h0M423.5 353.5h0M273.0 491.0h0M409.2 368.3h0M329.1 437.5h0M297.1 464.1h0M359.1 415.5h0M302.5 457.3h0M322.8 443.7h0M396.5 368.9h0M404.4 373.3h0M290.4 474.9h0M400.7 375.2h0M293.5 470.0h0M282.8 480.8h0M302.3 469.3h0M395.9 380.9h0M402.9 368.1h0M365.9 404.1h0M269.1 494.1h0M349.9 421.9h0M329.6 439.1h0M315.5 447.1h0M327.6 439.0h0M343.6 426.5h0M425.8 354.3h0M395.1 374.8h0M375.7 399.3h0M352.0 416.6h0M363.8 410.8h0M377.4 398.2h0M278.9 483.4h0M281.6 483.0h0M386.5 383.3h0M383.0 393.1h0M306.0 451.0h0M378.5 388.6h0M372.6 396.6h0M418.5 355.1h0M402.9 375.3h0M386.2 389.1h0M350.4 420.9h0M410.3 365.2h0M347.8 410.7h0M327.4 435.8h0M294.9 468.7h0M367.6 397.0h0M367.9 408.7h0M325.9 436.4h0M353.2 412.8h0M384.5 394.2h0M297.6 461.2h0M315.8 450.7h0M408.5 363.2h0M295.2 472.2h0M304.8 464.3h0M279.0 487.8h0M409.0 369.1h0M385.3 391.3h0M350.2 417.3h0M412.4 364.6h0M362.0 405.8h0M421.8 355.2h0M284.4 477.4h0M358.0 414.5h0M297.6 467.7h0M364.0 410.7h0M386.1 391.7h0M279.0 488.2h0M420.1 356.4h0M315.7 447.0h0M417.3 362.7h0M304.3 462.5h0M347.1 429.4h0M282.1 479.6h0M280.3 480.2h0M291.3 473.1h0M388.9 385.9h0M383.3 387.1h0M384.5 394.8h0M412.9 359.5h0M422.2 356.0h0M282.4 479.1h0M299.0 464.3h0M329.7 443.4h0M385.1 386.8h0M281.3 483.8h0M325.1 439.0h0M286.5 478.7h0M377.5 397.1h0M340.7 418.4h0M278.7 484.8h0M388.9 385.3h0M286.4 478.8h0M345.6 427.5h0M412.1 360.4h0M328.4 440.0h0M376.1 392.0h0M394.7 382.1h0M321.3 446.6h0M403.4 372.9h0M334.1 433.9h0M304.9 460.5h0M310.6 456.0h0M286.3 484.8h0M352.5 415.7h0M327.5 438.0h0M323.9 443.5h0M393.6 374.9h0M324.2 442.3h0M268.9 492.0h0M325.4 437.1h0M348.0 418.7h0M422.8 353.9h0M338.4 431.5h0M311.0 454.1h0M420.7 357.6h0M276.4 488.3h0M329.0 437.5h0M364.1 411.1h0M413.0 365.8h0M273.7 490.7h0M269.9 490.8h0M408.8 370.2h0M397.7 374.2h0M387.2 384.8h0M392.7 382.6h0M327.2 427.4h0M302.2 464.2h0M334.4 434.1h0M310.1 451.1h0M372.6 397.7h0M339.0 427.7h0M280.6 486.0h0M406.4 364.8h0M294.4 463.0h0M420.7 355.9h0M361.6 407.3h0M413.6 361.2h0M416.3 358.6h0M335.0 432.4h0M309.1 456.0h0M393.0 384.5h0M295.5 476.8h0M379.9 394.0h0M278.9 479.9h0M324.6 438.6h0M328.4 443.9h0M421.5 355.2h0M306.4 461.0h0M354.8 416.6h0M382.5 387.8h0M378.1 391.3h0M267.3 493.1h0M349.7 423.9h0M364.4 406.4h0M347.6 423.0h0M273.4 489.8h0M268.8 490.5h0M317.1 454.1h0M414.5 360.7h0M329.3 444.1h0M417.7 359.9h0M417.9 356.6h0M293.2 470.5h0M414.8 359.0h0M383.8 387.5h0M355.3 421.8h0M311.4 448.6h0M354.5 414.5h0M323.8 444.8h0M347.2 424.5h0M339.9 429.6h0M274.6 484.7h0M288.5 473.0h0M422.2 355.3h0M390.9 380.2h0M385.9 388.0h0M362.9 400.7h0M329.9 439.5h0M309.7 457.5h0M410.8 371.3h0M293.2 467.6h0M285.6 472.2h0M355.4 412.6h0M344.7 422.3h0M404.4 367.0h0M284.6 477.0h0M384.5 392.6h0M303.6 464.1h0M418.7 357.5h0M375.9 395.5h0M279.5 479.6h0M369.8 400.2h0M410.0 366.1h0M370.6 402.6h0M399.9 371.1h0M305.6 455.1h0M310.8 448.3h0M349.3 420.2h0M412.4 365.4h0M300.8 463.0h0M307.3 455.3h0M280.8 482.0h0M321.0 441.9h0M365.2 404.0h0M370.5 400.3h0M344.2 422.7h0M379.5 397.8h0M412.5 362.5h0M289.8 473.7h0M350.0 414.9h0M413.5 366.9h0M334.9 435.0h0M391.7 380.8h0M284.8 479.9h0M310.6 459.5h0M305.5 453.4h0M371.1 406.9h0M288.2 480.6h0M390.7 384.0h0M367.2 402.7h0M402.7 373.3h0M423.0 354.7h0M330.4 441.2h0M310.6 459.1h0M332.5 436.1h0M276.0 484.6h0M385.2 394.4h0M274.6 483.9h0M312.6 449.1h0M389.4 376.9h0M411.4 366.1h0M333.3 434.6h0M300.2 459.6h0M312.5 452.3h0M287.4 482.3h0M418.9 358.5h0M338.2 424.6h0M283.0 476.3h0M347.0 411.9h0M350.3 413.3h0M337.1 431.8h0M421.1 352.8h0M334.5 432.2h0M412.3 360.6h0M331.0 442.4h0M322.2 450.7h0M397.8 378.6h0M275.0 486.8h0M419.1 360.7h0M413.7 362.0h0M360.5 413.4h0M386.1 387.3h0M310.8 460.5h0M363.0 406.7h0M287.0 474.4h0M380.6 386.8h0M281.8 478.8h0M293.2 470.3h0M282.8 483.4h0M403.5 370.3h0M292.8 471.2h0M360.7 411.8h0M307.2 458.5h0M381.8 390.2h0M285.8 476.7h0M363.5 411.0h0M373.6 406.4h0M414.1 361.9h0M313.8 455.7h0M284.5 472.6h0M339.1 438.6h0M284.5 473.8h0M371.6 400.0h0M419.4 359.6h0M368.9 395.8h0M332.2 432.3h0M323.7 447.9h0M387.3 391.9h0M365.3 406.1h0M393.2 378.8h0M393.1 380.2h0M276.0 490.7h0M353.6 418.4h0M298.7 465.1h0M422.5 353.6h0M400.8 376.0h0M373.4 402.8h0M301.2 459.8h0M307.3 452.3h0M359.7 410.6h0M388.1 389.3h0M315.6 450.4h0M386.6 390.3h0M386.3 383.7h0M338.1 430.7h0M308.8 457.5h0M401.3 373.1h0M268.1 492.0h0M387.9 382.6h0M335.3 429.9h0M397.8 380.9h0M269.9 490.6h0M394.0 379.7h0M403.2 376.5h0M366.0 406.8h0M369.8 409.3h0M266.2 488.6h0M302.4 468.8h0M277.2 485.2h0M324.9 440.5h0M280.5 481.5h0M335.1 432.6h0M314.8 451.5h0M294.7 472.1h0M418.0 355.6h0M303.0 464.8h0M333.2 438.4h0M270.0 490.2h0M339.2 428.5h0M407.5 373.0h0M375.9 395.8h0M417.2 365.3h0M396.4 382.4h0M370.7 398.3h0M408.8 367.7h0M298.9 468.7h0M319.0 447.3h0M387.2 381.0h0M300.7 469.9h0M326.0 442.6h0M282.7 481.9h0M290.4 474.6h0M311.4 451.9h0M334.7 433.1h0M281.0 477.4h0M420.4 356.5h0M402.5 376.1h0M275.9 480.0h0M289.8 472.2h0M363.1 407.8h0M391.7 388.6h0M338.3 429.0h0M415.7 363.6h0M295.1 471.1h0M338.8 436.5h0M301.9 460.2h0M313.3 451.7h0M353.5 417.8h0M302.9 464.0h0M283.3 482.5h0M385.3 390.7h0M403.3 370.4h0M392.7 383.3h0M283.7 474.5h0M347.0 417.2h0M412.6 361.6h0M366.2 400.6h0M341.2 426.2h0M336.5 429.7h0M337.1 428.4h0M278.2 484.6h0M314.3 453.9h0M282.0 482.4h0M308.7 448.4h0M283.9 482.6h0M277.2 478.9h0M320.5 444.4h0M337.3 425.0h0M281.1 479.4h0M378.2 397.0h0M338.6 428.8h0M303.4 462.0h0M312.6 453.6h0M343.0 418.4h0M326.2 448.2h0M358.2 412.6h0M340.6 431.0h0M334.1 438.3h0M333.3 431.6h0M406.5 366.7h0M317.4 452.1h0M359.1 407.4h0M297.3 471.7h0M272.1 487.7h0M283.6 478.6h0M280.5 487.7h0M280.2 483.5h0M373.2 401.0h0M272.6 490.2h0M319.4 446.3h0M382.0 398.3h0M402.0 373.5h0M365.2 404.6h0M343.8 427.1h0M318.4 449.1h0M409.4 367.5h0M324.8 440.1h0M421.3 362.3h0M324.4 434.1h0M291.8 479.8h0M386.9 387.1h0M313.2 456.4h0M297.7 472.7h0M328.3 434.1h0M308.9 459.1h0M366.7 407.5h0M339.6 429.1h0M397.6 376.2h0M372.3 399.5h0M357.2 408.5h0M344.1 419.1h0M317.7 452.2h0M321.7 446.5h0M417.3 360.5h0M274.7 488.9h0M350.9 418.7h0M272.8 487.2h0M387.5 375.9h0M302.3 463.0h0M285.7 476.7h0M295.5 465.4h0M306.3 458.9h0M272.8 481.5h0M381.2 384.1h0M413.0 360.7h0M310.3 460.4h0M293.5 470.1h0M293.8 468.6h0M382.5 391.1h0M315.3 450.5h0M401.4 370.6h0M386.7 391.5h0M414.6 364.5h0M359.3 412.6h0M310.1 452.4h0M339.5 428.2h0M284.4 476.1h0M324.7 440.7h0M423.2 359.2h0M385.8 387.0h0M362.6 410.0h0M315.4 447.1h0M366.0 401.0h0M316.7 454.5h0M287.9 470.8h0M302.8 461.5h0M267.4 493.9h0M298.0 463.7h0M374.7 400.1h0M384.7 390.0h0M298.6 463.9h0M362.1 409.7h0M380.0 393.2h0M408.6 370.7h0M367.9 404.2h0M297.0 468.2h0M342.2 428.2h0M385.9 387.9h0M324.6 446.8h0M401.0 373.4h0M317.5 453.3h0M372.9 401.1h0M316.9 449.9h0M360.6 405.7h0M368.5 400.2h0M354.6 412.2h0M294.1 463.3h0M267.6 489.7h0M346.7 422.8h0M309.2 455.1h0M295.4 474.0h0M276.9 481.1h0M323.9 444.7h0M271.4 493.1h0M303.9 462.2h0M332.8 426.6h0M310.0 459.4h0M290.0 472.7h0M374.1 398.8h0M355.3 419.3h0M387.7 381.2h0M273.9 488.5h0M348.6 422.7h0M378.0 397.4h0M327.7 443.5h0M376.1 399.7h0M415.9 361.8h0M382.8 395.9h0M305.4 463.1h0M277.4 486.9h0M387.4 385.6h0M348.0 416.7h0M382.3 390.3h0M419.3 360.7h0M343.9 436.3h0M321.0 450.2h0M380.4 390.9h0M391.6 382.8h0M374.9 403.9h0M405.5 371.3h0M292.3 475.5h0M378.5 393.6h0M419.7 355.7h0M279.3 487.6h0M330.3 428.9h0M390.5 387.8h0M319.6 446.1h0M376.3 400.7h0M366.6 400.6h0M424.3 356.3h0M349.0 426.3h0M356.6 413.4h0M272.8 486.2h0M347.2 423.0h0M271.8 487.2h0M306.5 450.6h0M313.7 450.9h0M375.2 399.7h0M355.7 410.8h0M320.6 448.4h0M308.0 457.1h0M285.4 477.2h0M291.4 474.1h0M415.5 356.7h0M323.3 443.4h0M365.7 402.3h0M341.3 423.7h0M307.9 454.2h0M289.2 473.5h0M338.0 432.1h0M393.4 387.6h0M318.5 449.8h0M415.5 355.5h0M333.3 432.2h0M266.9 494.2h0M375.4 385.8h0M384.9 388.2h0M315.9 450.4h0M337.1 423.7h0M292.4 474.8h0M426.4 353.3h0M280.0 482.9h0M337.4 435.2h0M316.5 450.0h0M420.2 359.2h0M391.2 382.3h0M306.4 460.0h0M304.1 459.8h0M376.5 399.1h0M376.5 399.5h0M290.2 473.4h0M269.9 489.2h0M266.9 492.1h0M375.7 398.0h0M315.4 448.1h0M344.5 422.5h0M339.7 421.1h0M274.4 482.0h0M357.0 409.1h0M313.3 452.6h0M409.9 366.9h0M417.3 359.9h0M335.4 433.7h0M402.0 374.9h0M304.7 461.3h0M277.4 486.1h0M338.2 430.5h0M408.9 364.1h0M393.8 382.8h0M284.5 472.2h0M345.4 426.2h0M410.3 368.1h0M312.5 442.9h0M413.2 359.7h0M387.4 393.4h0M278.4 484.2h0M410.3 361.6h0M374.0 394.7h0M321.3 444.3h0M293.4 469.5h0M323.7 438.4h0M313.4 459.7h0M359.5 406.0h0M386.9 385.8h0M408.2 367.9h0M280.6 479.9h0M384.4 383.3h0M368.7 409.0h0M334.6 432.3h0M297.3 466.3h0M271.4 488.5h0M418.2 356.2h0M333.3 435.6h0M310.6 453.9h0M295.7 471.7h0M408.2 366.8h0M340.5 428.6h0M303.0 463.6h0M315.7 452.9h0M316.8 452.6h0M346.4 425.7h0M380.9 401.0h0M336.0 430.5h0M391.3 378.3h0M362.5 410.8h0M393.7 381.0h0M334.8 435.7h0M288.8 469.4h0M318.7 446.7h0M306.8 457.4h0M374.3 397.7h0M326.8 445.6h0M411.4 363.0h0M377.9 392.5h0M290.3 463.1h0M360.9 411.8h0M410.5 367.4h0M364.8 406.9h0M401.2 375.5h0M315.0 455.3h0M320.4 450.1h0M311.6 458.7h0M366.9 395.1h0M345.2 429.3h0M309.5 457.7h0M276.8 482.0h0M360.8 406.6h0M425.8 355.5h0M427.1 354.1h0M348.4 425.0h0M324.9 439.9h0M389.6 385.8h0M420.5 357.2h0M351.0 418.7h0M363.8 412.2h0M358.1 410.7h0M383.2 388.6h0M319.8 441.7h0M384.0 384.4h0M390.1 385.2h0M387.9 384.5h0M302.4 464.7h0M313.0 457.5h0M363.1 411.6h0M424.5 352.5h0M332.7 428.5h0M360.2 411.4h0M353.0 414.1h0M361.5 404.7h0M348.4 424.0h0M372.6 402.1h0M310.6 457.4h0M376.6 396.6h0M293.3 469.6h0M325.3 443.8h0M348.2 426.6h0M398.5 377.6h0M385.6 384.8h0M379.6 400.2h0M269.1 489.4h0M349.7 414.6h0M300.3 469.3h0M400.5 382.1h0M320.1 448.1h0M377.3 402.5h0M325.9 450.1h0M326.6 436.2h0M275.9 482.8h0M402.3 371.6h0M418.5 357.0h0M346.4 422.6h0M307.1 461.1h0M324.2 440.1h0M412.1 364.3h0M409.0 367.9h0M385.3 390.6h0M413.0 365.0h0M365.3 407.4h0M421.0 357.4h0M299.4 465.8h0M367.6 403.6h0M326.4 440.5h0M308.5 458.1h0M356.3 413.8h0M376.2 398.2h0M348.4 416.1h0M395.8 383.0h0M358.5 414.6h0M398.0 375.3h0M405.2 369.4h0M396.7 370.9h0M364.1 406.6h0M404.6 371.7h0M286.1 479.4h0M389.9 384.9h0M312.1 457.4h0M322.6 440.0h0M300.9 464.9h0M424.2 351.7h0M298.1 466.2h0M385.5 390.9h0M374.8 394.6h0M311.4 456.1h0M302.6 463.2h0M358.4 419.7h0M287.6 472.3h0M413.9 362.7h0M281.8 477.7h0M315.1 447.1h0M401.1 374.3h0M423.8 354.2h0M337.1 433.5h0M293.1 470.4h0M291.3 469.1h0M377.5 398.1h0M307.5 458.0h0M287.7 472.7h0M277.2 482.6h0M350.5 419.3h0M305.7 452.9h0M400.3 367.8h0M304.4 463.0h0M419.1 363.6h0M340.1 426.9h0M353.6 416.7h0M321.8 438.2h0M409.1 367.6h0M272.7 491.2h0M311.2 457.3h0M359.0 409.6h0M419.1 356.7h0M378.3 396.3h0M395.7 382.6h0M417.1 358.8h0M356.7 416.4h0M374.3 399.8h0M336.4 416.5h0M418.8 357.1h0M320.6 445.4h0M400.7 376.6h0M282.9 480.3h0M305.7 457.7h0M385.4 386.5h0M296.0 465.4h0M285.1 473.8h0M402.6 376.4h0M386.5 393.0h0M384.1 389.5h0M325.1 437.7h0M327.3 436.2h0M396.0 380.3h0M366.5 402.5h0M358.5 410.6h0M393.2 380.7h0M325.3 438.7h0M344.6 432.4h0M361.7 404.7h0M312.4 455.6h0M290.3 469.7h0M326.4 435.4h0M404.9 368.7h0M412.3 366.3h0M357.7 415.0h0M354.5 413.3h0M343.8 420.6h0M301.3 469.0h0M368.1 400.8h0M319.0 446.9h0M352.1 412.0h0M316.3 453.4h0M366.8 403.8h0M409.2 369.3h0M354.7 411.7h0M373.6 398.3h0M413.6 360.6h0M290.2 474.0h0M346.9 425.1h0M338.8 429.4h0M419.5 355.8h0M270.9 487.5h0M323.2 438.5h0M296.8 465.5h0M305.0 469.3h0M385.8 397.8h0M357.7 404.3h0M410.8 366.0h0M338.4 431.7h0M379.3 392.4h0M425.3 351.4h0M415.3 361.8h0M379.8 394.1h0M425.1 351.7h0M340.5 434.2h0M365.7 401.4h0M279.0 484.4h0M286.9 471.1h0M417.6 360.5h0M287.9 471.2h0M333.1 430.9h0M340.4 427.4h0M388.8 379.0h0M385.3 391.9h0M328.8 436.5h0M342.3 428.5h0M419.8 354.6h0M393.5 377.4h0M396.2 374.6h0M317.8 441.3h0M280.0 486.4h0M368.7 406.0h0M352.8 414.0h0M407.2 372.9h0M309.3 461.3h0M395.5 380.6h0M394.8 378.2h0M358.5 410.7h0M340.7 419.4h0M372.9 395.7h0M354.0 416.3h0M354.8 416.3h0M420.1 353.8h0M378.8 394.3h0M362.0 402.9h0M326.6 442.2h0M393.7 383.5h0M327.9 437.8h0M295.2 470.9h0M316.2 444.3h0M333.0 434.3h0M399.7 368.7h0M306.4 460.0h0M285.6 473.7h0M300.9 464.8h0M288.9 473.1h0M365.2 408.8h0M418.0 353.3h0M374.7 398.5h0M317.2 442.5h0M408.7 371.3h0M385.7 385.1h0M379.4 393.3h0M292.3 474.0h0M325.0 440.9h0M311.8 453.9h0M320.0 453.4h0M292.5 468.5h0M281.5 478.1h0M383.0 389.7h0M340.8 430.7h0M326.3 444.4h0M326.6 431.0h0M383.0 387.8h0M281.1 479.6h0M344.2 418.0h0M386.8 386.6h0M399.7 377.0h0M296.6 463.6h0M395.2 375.0h0M317.5 453.1h0M311.4 450.1h0M336.7 429.3h0M418.2 358.7h0M407.9 365.6h0M298.2 465.9h0M334.3 429.3h0M353.7 408.2h0M403.9 375.1h0M420.1 356.8h0M285.8 475.9h0M356.8 405.8h0M388.9 378.9h0M364.6 406.7h0M388.6 387.5h0M318.9 447.9h0M415.6 361.7h0M369.6 402.2h0M341.5 430.4h0M369.7 405.3h0M413.0 365.5h0M408.5 366.3h0M385.2 393.9h0M299.5 467.3h0M299.1 464.9h0M418.9 357.4h0M397.2 371.4h0M330.0 434.9h0M370.0 401.3h0M382.2 393.9h0M290.5 469.2h0M371.4 399.1h0M360.7 416.8h0M356.8 410.3h0M331.7 435.9h0M274.3 480.8h0M374.0 393.9h0M358.5 415.0h0M372.6 406.7h0M339.6 437.1h0M417.4 354.9h0M289.6 471.6h0M324.4 447.5h0M378.6 394.9h0M352.6 410.7h0M355.9 406.2h0M419.1 355.8h0M389.7 385.6h0M282.4 475.3h0M355.7 417.0h0M310.9 451.0h0M278.7 485.2h0M293.9 468.7h0M319.3 446.4h0M422.9 354.1h0M273.9 485.3h0M286.7 478.0h0M336.1 433.3h0M353.7 416.3h0M268.0 493.9h0M399.6 370.5h0M298.6 472.1h0M314.1 446.5h0M285.1 477.4h0M317.4 440.9h0M370.7 396.2h0M299.0 466.9h0M344.8 426.3h0M363.1 403.9h0M424.1 354.5h0M398.9 379.5h0M346.7 420.4h0M306.9 452.9h0M302.1 465.4h0M270.3 488.8h0M321.8 440.2h0M326.1 442.0h0M340.6 429.4h0M333.9 438.3h0M360.3 411.3h0M331.2 430.4h0M381.6 394.4h0M295.6 464.2h0M344.8 424.9h0M286.5 476.2h0M340.0 427.8h0M405.4 375.9h0M394.9 377.3h0M290.8 472.9h0M288.2 474.2h0M318.6 450.0h0M287.5 473.6h0M304.9 461.2h0M362.1 409.0h0M360.2 411.5h0M354.1 420.4h0M395.5 380.3h0M397.7 375.1h0M273.9 489.3h0M338.9 423.9h0M343.0 424.9h0M384.9 385.5h0M380.9 397.2h0M320.3 446.9h0M304.2 465.3h0M408.3 371.2h0M297.6 465.6h0M403.1 377.4h0M401.4 372.8h0M352.0 421.6h0M305.6 461.2h0M394.5 379.0h0M271.7 489.8h0M339.8 424.9h0M320.2 444.2h0M304.6 459.4h0M416.7 363.6h0M299.4 468.1h0M388.9 381.6h0M334.3 432.1h0M355.7 410.8h0M423.7 356.7h0M403.4 377.0h0M339.5 436.5h0M382.9 390.5h0M329.2 435.7h0M310.2 449.5h0M308.9 456.3h0M367.0 398.4h0M418.7 360.9h0M409.7 368.1h0M292.9 478.4h0M323.2 449.5h0M290.4 472.2h0M383.9 388.7h0M330.8 433.4h0M272.9 492.9h0M315.7 450.4h0M269.7 489.2h0M308.5 458.8h0M349.7 416.1h0M424.3 352.1h0M411.2 363.9h0M314.3 454.5h0M410.8 365.9h0M417.3 360.5h0M326.5 441.3h0M381.2 394.5h0M330.9 437.9h0M278.5 487.6h0M326.2 436.6h0M339.6 425.7h0M330.3 431.7h0M328.0 438.7h0M280.0 484.4h0M369.7 402.1h0M322.5 445.4h0M410.6 368.4h0M287.3 475.8h0M316.6 456.4h0M375.4 401.3h0M422.7 355.4h0M320.7 444.9h0M324.4 440.9h0M412.7 363.1h0M410.0 365.2h0M423.7 352.9h0M293.5 470.8h0M298.5 463.2h0M273.7 492.1h0M277.0 483.6h0M342.7 421.3h0M409.8 362.4h0M408.1 369.3h0M382.0 391.4h0M277.2 484.2h0M411.3 367.2h0M312.2 453.5h0M307.0 462.0h0M346.5 424.8h0M353.7 415.3h0M352.6 418.4h0M367.1 407.7h0M299.5 467.1h0M393.0 381.5h0M297.1 467.1h0M313.6 450.7h0M353.2 416.4h0M409.3 365.1h0M315.8 449.3h0M400.0 371.8h0M384.4 385.1h0M321.7 447.6h0M343.8 419.4h0M400.4 372.8h0M412.6 361.6h0M398.1 380.8h0M314.3 453.5h0M417.4 360.0h0M345.8 418.1h0M360.5 400.1h0M298.9 462.5h0M369.0 407.1h0M408.2 368.6h0M356.4 410.9h0M299.6 465.8h0M300.5 467.4h0M285.1 475.4h0M411.7 361.2h0M393.2 378.5h0M397.2 380.9h0M322.5 449.6h0M304.6 454.3h0M367.3 405.3h0M357.7 413.2h0M393.1 378.3h0M412.1 366.1h0M270.5 487.3h0M398.3 379.2h0M341.9 433.1h0M304.1 463.9h0M295.7 467.9h0M306.9 465.2h0M356.2 417.4h0M402.1 373.1h0M311.4 453.4h0M291.6 474.9h0M420.8 355.6h0M270.4 489.7h0M321.5 442.8h0M417.7 358.9h0M307.5 458.1h0M269.3 493.3h0M335.9 425.2h0M303.7 456.0h0M316.3 448.1h0M297.9 470.9h0M319.9 444.1h0M355.5 412.7h0M271.2 486.8h0M413.0 360.0h0M343.8 427.4h0M330.2 437.3h0M383.2 394.7h0M340.5 433.2h0M293.6 466.8h0M321.2 445.1h0M404.1 369.1h0M316.5 449.5h0M415.6 361.8h0M341.8 427.0h0M364.5 408.5h0M397.2 377.8h0M327.0 438.4h0M390.1 383.7h0M319.2 448.4h0M413.9 362.8h0M405.4 368.8h0M401.0 378.8h0M386.2 385.4h0M399.9 373.0h0M412.6 359.4h0M395.2 382.6h0M424.2 353.6h0M425.7 351.0h0M411.9 367.5h0M408.0 369.4h0M364.9 406.3h0M289.0 476.0h0M344.5 419.9h0M367.7 399.7h0M320.8 453.9h0M420.5 357.6h0M386.4 384.1h0M426.0 356.3h0M399.4 375.7h0M320.6 452.4h0M271.7 493.5h0M284.7 475.2h0M335.9 435.8h0M395.0 381.1h0M322.2 443.7h0M390.2 386.2h0M269.3 493.9h0M392.7 380.1h0M417.8 360.0h0M388.3 388.6h0M377.1 401.2h0M357.1 416.5h0M353.1 417.1h0M280.6 476.4h0M281.9 481.0h0M407.5 368.9h0M298.7 467.9h0M343.5 424.7h0M364.6 404.9h0M421.2 352.9h0M290.1 472.7h0M282.3 478.1h0M273.5 489.6h0M401.5 375.5h0M408.9 367.9h0M286.5 479.1h0M381.2 396.0h0M302.7 458.9h0M311.2 450.0h0M363.8 407.3h0M383.6 390.5h0M425.4 354.9h0M317.7 445.6h0M407.8 367.6h0M346.2 421.1h0M339.1 431.7h0M416.2 361.2h0M355.2 420.0h0M270.8 487.5h0M414.0 361.3h0M340.7 430.5h0M271.4 487.8h0M368.0 413.7h0M426.6 356.1h0M401.5 372.4h0M417.2 362.8h0M271.4 489.0h0M417.8 356.0h0M361.8 406.3h0M295.2 470.1h0M266.7 492.2h0M333.2 439.2h0M376.6 391.7h0M418.1 357.3h0M365.9 407.6h0M377.5 394.5h0M320.9 447.6h0M367.1 407.8h0M328.4 430.7h0M376.2 389.0h0M421.6 353.3h0M423.2 356.9h0M422.3 350.9h0M281.2 477.0h0M424.5 351.3h0M270.0 489.0h0M345.5 428.6h0M291.2 475.7h0M298.7 465.5h0M411.3 364.9h0M367.6 406.1h0M356.8 403.2h0M411.3 368.0h0M275.7 487.3h0M386.6 385.9h0M278.4 481.6h0M372.3 404.4h0M416.7 356.9h0M370.0 406.4h0M354.8 416.2h0M297.8 466.2h0M379.1 397.1h0M401.5 371.8h0M329.0 439.3h0M403.5 377.6h0M305.7 462.2h0M362.3 411.3h0M279.7 481.6h0M391.2 380.4h0M394.3 383.4h0M335.1 429.2h0M353.0 417.3h0M419.1 355.4h0M408.1 366.5h0M404.9 369.4h0M339.6 432.3h0M365.9 409.5h0M410.3 362.4h0M304.8 454.1h0M279.0 484.0h0M393.3 377.0h0M358.3 409.6h0M327.6 440.1h0M361.5 414.4h0M349.6 423.2h0M281.8 479.4h0M280.4 486.6h0M394.4 374.9h0M366.4 404.7h0M312.7 450.4h0M366.0 403.7h0M351.7 417.1h0M367.4 406.2h0M313.8 449.6h0M283.8 478.2h0M287.1 467.2h0M322.8 441.4h0M390.3 387.3h0M305.6 457.2h0M417.4 357.7h0M387.1 377.9h0M401.2 366.4h0M367.7 397.2h0M361.7 413.0h0M420.5 357.8h0M423.5 352.6h0M351.9 418.5h0M377.2 392.0h0M383.6 382.7h0M286.4 477.7h0M405.8 365.4h0M356.5 406.3h0M324.5 442.2h0M271.1 488.8h0M334.4 431.5h0M317.1 447.2h0M287.7 474.5h0M422.3 353.1h0M336.6 435.2h0M422.1 357.4h0M396.0 372.6h0M386.9 389.8h0M408.5 369.4h0M317.0 444.5h0M416.0 361.9h0M296.4 453.3h0M321.1 445.6h0M303.3 465.8h0M285.9 475.4h0M349.5 422.0h0M403.1 375.7h0M292.4 470.6h0M418.8 361.4h0M331.5 439.5h0M381.8 392.8h0M322.6 442.3h0M387.4 383.4h0M374.4 401.2h0M419.2 362.1h0M311.3 462.0h0M406.7 368.8h0M364.5 411.7h0M292.8 469.8h0M409.7 366.2h0M332.3 438.8h0M408.9 368.9h0M387.0 390.1h0M298.8 461.8h0M416.3 357.1h0M348.4 413.5h0M288.8 472.1h0M375.6 396.9h0M305.7 454.9h0M407.4 364.3h0M411.0 367.0h0M293.8 473.8h0M268.5 489.1h0M319.5 451.0h0M333.1 435.2h0M324.7 436.5h0M323.0 443.0h0M286.1 479.7h0M383.8 385.4h0M330.8 432.5h0M360.8 406.2h0M342.0 422.9h0M350.8 419.5h0M270.4 489.5h0M295.4 466.7h0M291.1 466.4h0M357.7 407.1h0M346.8 425.4h0M406.3 370.2h0M385.1 388.9h0M271.9 489.4h0M339.2 430.2h0M351.0 421.0h0M416.7 358.3h0M419.9 357.0h0M421.4 359.1h0M379.2 393.3h0M288.7 472.6h0M284.7 481.0h0M298.1 462.9h0M280.2 483.5h0M406.3 366.4h0M409.2 365.7h0M400.1 377.1h0M313.6 455.9h0M305.0 462.0h0M353.7 416.9h0M300.6 457.4h0M392.0 381.8h0M336.6 431.0h0M409.1 368.3h0M349.0 422.8h0M320.5 447.6h0M294.5 471.4h0M317.4 448.2h0M322.1 448.7h0M291.9 472.7h0M400.2 375.3h0M294.6 471.1h0M286.6 480.4h0M382.4 391.0h0M301.8 457.6h0M346.0 429.6h0M284.3 476.0h0M274.7 482.9h0M366.9 404.6h0M290.2 473.5h0M308.6 462.9h0M393.5 378.2h0M326.2 436.0h0M297.5 466.2h0M311.2 451.4h0M330.5 438.3h0M373.8 397.0h0M361.5 409.8h0M372.2 398.5h0M319.2 445.8h0M322.6 447.2h0M378.3 403.8h0M330.2 427.9h0M337.2 431.2h0M343.0 427.7h0M370.0 401.8h0M383.7 394.3h0M412.2 363.4h0M368.1 406.4h0M388.3 392.3h0M334.7 423.8h0M280.1 483.8h0M365.8 398.5h0M392.9 382.8h0M293.4 467.9h0M285.0 476.2h0M397.6 375.7h0M348.7 413.3h0M342.1 435.7h0M293.9 468.3h0M349.7 421.0h0M401.3 371.9h0M370.0 399.6h0M280.1 478.8h0M358.3 417.1h0M389.1 380.4h0M349.6 413.9h0M327.0 438.4h0M274.6 489.6h0M376.1 391.6h0M300.7 462.6h0M335.5 437.9h0M367.3 401.2h0M322.4 443.3h0M274.0 482.6h0M360.7 410.8h0M272.5 492.4h0M281.2 484.1h0M371.2 405.9h0M425.3 353.1h0M421.9 358.0h0M303.0 458.9h0M269.8 489.6h0M359.1 414.0h0M364.9 406.8h0M343.1 428.0h0M398.1 382.3h0M374.1 394.0h0M372.0 397.0h0M299.3 467.7h0M308.1 453.8h0M279.8 482.9h0M388.8 381.4h0M423.3 351.0h0M427.1 355.1h0M349.1 421.1h0M382.6 391.0h0M402.3 375.3h0M279.9 478.9h0M418.8 360.9h0M301.0 461.7h0M404.7 367.6h0M351.1 419.7h0M313.2 453.9h0M404.9 374.7h0M270.2 491.0h0M367.7 405.1h0M313.8 450.6h0M420.9 355.5h0M403.9 368.0h0M281.6 476.6h0M366.2 404.3h0M270.9 487.8h0M365.4 411.6h0M304.1 458.3h0M352.6 413.0h0M365.3 408.6h0M419.1 360.0h0M421.5 354.8h0M386.0 382.4h0M300.0 464.1h0M400.4 373.4h0M277.8 481.4h0M284.0 478.0h0M284.7 479.0h0M400.7 371.0h0M423.3 350.9h0M348.2 428.7h0M366.6 400.9h0M425.3 353.3h0M275.0 489.2h0M410.0 365.9h0M378.6 396.0h0M310.8 456.6h0M279.2 482.2h0M342.3 427.8h0M406.0 374.4h0M413.2 363.1h0M392.5 384.2h0M384.2 388.5h0M412.9 363.0h0M290.9 466.9h0M337.7 437.5h0M350.5 417.7h0M402.9 371.7h0M366.7 404.8h0M277.5 482.5h0M389.6 384.3h0M398.2 375.4h0M315.5 448.0h0M322.9 439.4h0M353.6 421.2h0M308.5 455.4h0M345.5 420.9h0M334.1 434.5h0M342.6 429.6h0M366.7 403.5h0M415.6 359.2h0M422.8 352.3h0M349.6 423.5h0M383.3 389.9h0M368.4 401.7h0M347.5 419.2h0M377.5 398.4h0M374.1 403.6h0M377.1 396.1h0M409.7 368.5h0M367.5 409.5h0M321.7 444.8h0M303.7 458.8h0M324.6 443.6h0M362.5 410.2h0M310.0 455.2h0M388.2 382.8h0M282.4 477.3h0M276.8 481.9h0M341.9 427.4h0M277.0 482.9h0M414.5 359.1h0M418.8 360.7h0M300.4 461.4h0M399.6 373.5h0M295.9 465.7h0M383.8 386.7h0M321.2 448.3h0M411.7 360.5h0M315.3 446.8h0M412.6 363.9h0M399.8 368.7h0M315.8 448.6h0M276.2 481.6h0M360.3 412.5h0M280.9 477.2h0M377.5 395.5h0M379.9 388.1h0M294.4 471.5h0M374.2 392.6h0M408.2 364.6h0M322.1 443.8h0M410.2 368.5h0M291.9 471.4h0M338.0 430.7h0M367.3 403.5h0M410.9 367.8h0M406.8 367.0h0M417.6 354.9h0M296.5 468.7h0M326.6 444.2h0M389.9 378.7h0M397.3 375.9h0M425.4 350.7h0M322.9 447.1h0M383.0 392.2h0M382.4 398.3h0M323.4 444.2h0M391.5 384.7h0M397.6 381.8h0M379.8 396.4h0M387.4 381.3h0M414.5 364.7h0M379.7 390.8h0M412.3 362.9h0M278.7 480.1h0M290.8 476.1h0M409.2 367.1h0M323.0 446.3h0M377.7 398.3h0M405.4 373.0h0M314.1 445.6h0M406.8 375.2h0M336.5 431.5h0M327.6 434.9h0M372.2 397.0h0M280.2 480.6h0M286.8 477.4h0M391.4 378.6h0M324.6 438.8h0M421.6 357.7h0M320.6 446.8h0M392.5 379.8h0M359.1 407.0h0M390.1 385.0h0M292.1 470.2h0M297.0 467.4h0M279.0 487.3h0M421.2 353.7h0M351.3 414.9h0M387.6 388.1h0M277.9 485.0h0M383.8 391.5h0M309.5 451.8h0M303.0 460.9h0M345.4 419.4h0M301.6 462.6h0M327.0 445.0h0M346.2 427.2h0M335.8 433.5h0M382.9 385.4h0M302.6 458.0h0M307.0 454.0h0M388.9 386.3h0M321.8 445.3h0M415.3 359.2h0M425.5 351.0h0M351.2 426.5h0M411.0 366.6h0M395.5 374.1h0M376.5 397.3h0M284.3 478.4h0M411.9 365.5h0M393.8 376.5h0M313.4 456.5h0M367.7 411.8h0M362.1 408.2h0M333.1 436.1h0M372.3 406.3h0M327.3 442.4h0M285.1 480.8h0M308.4 454.1h0M282.6 476.9h0M390.2 385.2h0M380.1 393.8h0M389.7 378.6h0M341.8 425.5h0M409.0 363.3h0M395.7 381.0h0M296.5 467.7h0M389.8 389.5h0M338.7 429.3h0M291.3 468.8h0M374.0 400.4h0M395.5 383.2h0M315.4 455.7h0M370.1 405.9h0M294.8 469.5h0M314.8 447.8h0M377.5 396.9h0M418.3 357.3h0M357.7 409.1h0M286.2 478.2h0M277.3 483.9h0M278.5 483.7h0M363.0 408.9h0M320.8 445.1h0M359.7 408.9h0M304.0 457.7h0M345.3 419.6h0M389.6 387.2h0M396.9 376.1h0M398.1 376.5h0M349.3 427.1h0M305.0 456.2h0M342.3 424.4h0M279.4 486.8h0M306.4 455.3h0M332.3 439.5h0M414.1 368.2h0M310.8 455.8h0M365.2 406.2h0M372.1 399.5h0M350.0 421.1h0M331.5 433.0h0M364.7 400.3h0M418.8 359.0h0M314.0 449.6h0M401.3 373.4h0M282.1 479.7h0M398.8 386.4h0M343.9 422.8h0M293.5 463.9h0M426.3 350.7h0M346.5 418.3h0M336.2 430.8h0M373.2 401.7h0M402.7 370.3h0M394.6 379.7h0M271.5 486.3h0M344.0 419.2h0M328.5 438.3h0M417.3 361.1h0M388.2 385.5h0M332.5 441.1h0M332.1 437.8h0M349.5 416.7h0M277.5 483.6h0M347.8 424.2h0M324.2 442.3h0M317.7 450.8h0M426.0 352.0h0M318.0 452.5h0M377.4 391.9h0M342.1 432.8h0M406.3 368.2h0M421.7 351.1h0M271.7 487.5h0M372.2 394.8h0M284.8 470.7h0M425.1 351.7h0M410.6 361.0h0M336.5 429.1h0M326.7 442.3h0M327.0 434.2h0M292.4 470.0h0M334.0 433.6h0M387.7 394.3h0M410.8 368.7h0M412.2 367.5h0M378.6 395.1h0M367.1 402.0h0M337.2 426.5h0M348.6 425.6h0M363.6 407.0h0M312.5 445.8h0M381.8 381.3h0M309.7 452.5h0M322.7 449.8h0M311.9 453.4h0M305.9 458.3h0M410.7 361.3h0M423.6 354.5h0M278.4 490.4h0M310.3 457.8h0M268.1 489.5h0M417.8 360.6h0M278.5 481.5h0M407.8 371.5h0M313.9 446.5h0M320.7 444.7h0M291.0 471.4h0M363.2 406.3h0M390.3 381.7h0M398.1 375.4h0M306.7 460.1h0M398.5 377.3h0M358.3 409.1h0M373.1 397.1h0M303.1 459.0h0M268.6 490.4h0M274.6 485.2h0M396.6 376.1h0M412.4 367.7h0M397.2 374.1h0M422.8 353.9h0M408.1 363.1h0M382.8 383.8h0M389.1 382.9h0M361.6 407.6h0M267.3 493.2h0M356.2 415.5h0M401.2 374.7h0M330.1 433.9h0M306.7 454.6h0M299.9 462.8h0M279.3 477.7h0M302.4 458.7h0M372.9 394.8h0M334.9 432.6h0M415.5 360.6h0M360.3 405.1h0M399.5 373.6h0M297.9 464.1h0M337.5 431.5h0M334.2 429.2h0M385.6 388.7h0M383.0 390.9h0M338.0 425.9h0M319.2 446.3h0M424.7 351.4h0M412.8 358.7h0M315.3 440.2h0M390.8 387.0h0M334.2 432.7h0M272.7 490.6h0M414.6 362.2h0M368.8 404.2h0M356.0 406.8h0M368.8 403.2h0M304.1 466.1h0M406.2 369.6h0M389.4 390.4h0M300.8 457.9h0M414.0 362.9h0M313.5 454.8h0M377.7 393.0h0M352.1 415.0h0M268.6 494.0h0M413.7 359.6h0M376.2 394.2h0M407.4 369.6h0M301.5 463.0h0M302.7 456.6h0M268.3 492.8h0M370.0 403.1h0M286.4 482.7h0M333.8 434.4h0M295.8 462.1h0M345.8 428.9h0M385.2 388.1h0M302.0 461.7h0M362.1 408.3h0M289.9 474.9h0M314.3 451.7h0M385.1 384.9h0M325.0 442.1h0M415.9 364.8h0M359.0 407.8h0M354.6 416.1h0M297.9 465.2h0M402.1 370.2h0M413.1 365.8h0M318.5 446.8h0M364.2 419.0h0M375.4 393.9h0M326.4 444.6h0M421.4 356.9h0M295.4 467.4h0M331.2 439.4h0M272.7 488.6h0M307.0 454.8h0M366.9 402.0h0M352.3 415.1h0M353.2 418.8h0M308.8 457.5h0M389.0 382.6h0M280.0 482.1h0M406.3 366.2h0M421.4 355.8h0M361.4 408.4h0M270.0 491.4h0M402.2 374.4h0M390.6 382.9h0M382.7 384.8h0M351.3 422.6h0M309.8 458.6h0M323.9 444.9h0M394.4 381.6h0M414.6 363.1h0M312.8 454.3h0M363.1 411.6h0M268.7 491.3h0M329.7 439.0h0M424.7 352.0h0M389.5 381.7h0M376.4 396.5h0M381.9 391.0h0M379.9 388.0h0M363.3 410.5h0M309.3 456.7h0M320.1 450.2h0M299.4 464.7h0M273.9 484.9h0M409.0 367.0h0M409.8 365.1h0M302.2 460.3h0M266.3 493.7h0M376.3 391.0h0M296.7 471.8h0M383.2 390.8h0M376.4 395.9h0M287.8 476.4h0M386.0 392.8h0M382.3 388.8h0M391.1 383.7h0M413.1 366.2h0M378.1 401.5h0M321.0 444.6h0M326.8 449.3h0M299.8 469.6h0M310.6 450.5h0M341.1 424.0h0M344.5 426.8h0M358.0 409.4h0M292.8 472.4h0M348.2 420.8h0M347.8 424.5h0M394.2 378.5h0M309.1 465.0h0M326.2 442.6h0M335.0 434.9h0M394.1 383.8h0M409.0 366.5h0M339.8 423.9h0M340.8 429.4h0M312.4 455.0h0M307.4 460.5h0M313.6 450.7h0M419.6 359.1h0M282.8 481.3h0M370.6 405.2h0M274.6 488.9h0M362.9 406.5h0M376.6 400.5h0M324.4 444.6h0M388.3 383.5h0M388.4 389.4h0M314.1 452.7h0M421.2 352.7h0M315.2 449.4h0M393.0 376.8h0M383.0 391.0h0M297.3 462.9h0M406.8 369.0h0M271.7 491.5h0M291.4 467.4h0M268.8 493.9h0M402.7 368.2h0M299.6 470.2h0M391.3 386.6h0M370.4 404.1h0M310.5 454.7h0M358.2 414.3h0M303.2 456.1h0M365.8 403.9h0M406.2 364.9h0M413.1 369.2h0M286.7 472.6h0M329.9 438.3h0M273.7 485.1h0M327.2 445.2h0M339.9 432.3h0M416.1 362.6h0M403.9 376.1h0M323.3 443.0h0M314.9 455.1h0M374.2 398.2h0M381.8 392.3h0M416.4 353.9h0M333.6 432.2h0M417.5 361.7h0M370.4 398.7h0M314.4 450.8h0M317.6 442.9h0M271.1 491.4h0M380.6 384.8h0M290.1 477.2h0M294.4 469.5h0M396.0 373.7h0M393.5 381.5h0M331.4 436.1h0M404.5 366.2h0M380.5 384.9h0M407.4 360.0h0M377.1 394.8h0M284.0 476.6h0M397.9 386.6h0M295.9 470.9h0M325.1 443.2h0M385.7 380.9h0M385.2 391.0h0M330.3 437.1h0M285.1 478.4h0M356.1 419.4h0M404.9 367.6h0M281.8 477.4h0M308.7 458.9h0M408.5 370.3h0M303.6 463.1h0M312.4 450.3h0M376.1 398.2h0M391.0 379.9h0M279.6 484.3h0M334.5 437.2h0M336.6 430.5h0M381.0 390.1h0M318.4 447.8h0M366.3 402.4h0M379.1 394.2h0M337.6 431.2h0M331.4 433.2h0M327.9 433.5h0M403.4 374.2h0M405.9 369.5h0M276.4 486.8h0M282.6 477.5h0M370.7 404.0h0M409.3 360.0h0M272.1 487.9h0M377.0 390.2h0M306.2 464.0h0M413.0 356.4h0M326.6 443.5h0M377.4 404.8h0M331.1 431.7h0M376.1 398.2h0M410.9 363.8h0M276.5 484.8h0M307.7 451.6h0M325.3 442.7h0M365.4 410.0h0M321.1 443.7h0M415.3 361.2h0M365.1 407.4h0M417.7 360.2h0M273.8 486.7h0M354.9 418.7h0M374.4 394.3h0M338.6 433.9h0M360.1 413.9h0M349.0 419.6h0M373.3 395.8h0M416.9 359.0h0M338.4 429.1h0M417.0 358.2h0M366.0 407.1h0M277.7 483.8h0M418.7 359.1h0M324.2 443.9h0M283.2 476.6h0M323.7 442.8h0M341.2 426.4h0M400.4 374.3h0M287.9 478.8h0M339.9 428.7h0M406.1 366.0h0M299.7 468.2h0M337.8 431.3h0M274.7 481.7h0M303.2 465.1h0M408.9 372.9h0M314.8 448.9h0M273.8 485.0h0M273.1 488.4h0M303.7 464.2h0M419.6 353.1h0M309.7 454.2h0M424.6 352.0h0M341.3 424.9h0M347.5 419.3h0M370.9 407.5h0M339.0 430.8h0M402.6 374.3h0M284.1 482.1h0M318.1 449.4h0M403.2 365.9h0M379.8 393.8h0M269.5 492.7h0M280.0 484.2h0M425.5 351.4h0M282.7 481.4h0M296.8 469.1h0M396.2 376.6h0M346.4 426.9h0M287.1 479.7h0M410.7 368.3h0M398.0 375.9h0M415.6 362.7h0M280.3 481.5h0M378.3 389.7h0M371.8 404.7h0M333.3 438.6h0M273.6 488.5h0M379.2 388.7h0M335.5 439.8h0M366.8 406.9h0M344.2 426.3h0M325.7 440.2h0M424.8 355.6h0M372.4 399.8h0M304.4 462.8h0M350.4 418.2h0M346.9 420.3h0M328.1 445.4h0M427.0 353.0h0M293.0 471.7h0M270.0 493.2h0M307.6 453.5h0M287.9 476.6h0M301.4 462.6h0M346.9 423.0h0M378.9 397.1h0M315.1 446.4h0M367.6 398.6h0M372.1 400.0h0M278.7 486.5h0M292.8 475.1h0M272.6 489.6h0M381.8 386.9h0M409.8 368.2h0M345.1 423.9h0M352.7 418.1h0M385.5 385.8h0M336.5 440.3h0M274.1 487.6h0M422.4 362.8h0M402.8 367.7h0M414.4 361.4h0M316.8 452.9h0M329.8 441.1h0M413.5 361.4h0M386.0 386.2h0M393.4 387.8h0M296.9 466.2h0M302.6 455.3h0M313.9 450.1h0M367.3 409.0h0M309.8 455.0h0M285.2 476.4h0M324.3 446.4h0M349.8 413.4h0M319.7 444.7h0M318.7 447.6h0M383.2 388.8h0M372.9 397.7h0M406.9 372.1h0M335.4 439.7h0M316.2 451.3h0M342.4 427.1h0M421.4 355.1h0M402.5 372.6h0M412.5 364.2h0M285.5 474.7h0M269.6 492.7h0M384.7 382.1h0M287.3 474.7h0M398.7 374.4h0M376.6 395.3h0M364.6 406.9h0M358.1 414.3h0M402.0 370.8h0M382.3 397.5h0M399.9 378.7h0M363.8 407.5h0M397.7 375.9h0M398.9 373.5h0M301.7 458.1h0M422.3 351.8h0M285.0 474.1h0M357.8 411.4h0M373.0 402.3h0M284.1 480.6h0M330.6 448.3h0M345.0 422.0h0M372.2 402.6h0M376.9 399.9h0M283.8 478.4h0M333.9 431.3h0M314.1 450.3h0M276.2 486.2h0M385.2 387.0h0M307.9 456.7h0M332.2 440.7h0M387.1 386.4h0M415.3 361.4h0M325.7 436.9h0M299.6 470.6h0M303.3 463.8h0M290.6 469.8h0M364.7 398.7h0M297.4 460.5h0M343.3 434.3h0M409.3 371.3h0M319.1 442.2h0M398.7 377.1h0M318.4 451.9h0M403.1 373.1h0M382.9 391.0h0M282.4 473.0h0M407.5 371.3h0M285.0 481.0h0M393.8 383.4h0M404.2 369.7h0M266.2 493.2h0M426.5 354.6h0M406.0 369.1h0M297.8 468.4h0M318.6 442.7h0M387.9 389.6h0M353.0 413.9h0M323.2 436.2h0M312.4 454.3h0M356.6 416.0h0M292.8 472.1h0M337.6 437.1h0M357.0 417.3h0M347.1 423.3h0M316.5 449.2h0M390.7 384.1h0M409.8 367.1h0M406.0 366.5h0M322.0 449.7h0M310.1 457.8h0M273.6 485.7h0M299.0 467.6h0M279.9 487.1h0M294.1 469.2h0M338.5 422.3h0M316.0 454.5h0M361.4 413.6h0M360.9 408.3h0M371.8 404.8h0M331.2 430.1h0M360.5 417.0h0M364.2 405.4h0M323.0 445.0h0M323.5 448.8h0M363.2 411.3h0M356.4 413.1h0M375.8 400.0h0M393.2 386.7h0M268.5 491.5h0M366.0 406.1h0M285.9 481.3h0M352.0 421.9h0M420.9 359.4h0M283.8 477.8h0M270.8 486.4h0M334.1 428.4h0M367.0 402.7h0M282.5 478.2h0M314.6 448.5h0M346.8 425.4h0M270.3 492.0h0M275.3 485.1h0M418.8 359.5h0M333.4 431.9h0M276.7 481.8h0M307.4 460.5h0M280.3 483.3h0M371.4 400.5h0M292.5 462.4h0M293.9 470.9h0M404.4 365.6h0M396.0 377.9h0M350.9 414.8h0M347.6 415.4h0M349.1 423.2h0M283.7 469.1h0M398.6 376.3h0M387.3 386.3h0M391.9 390.5h0M362.8 413.4h0M275.3 487.3h0M362.0 402.4h0M281.5 477.2h0M311.2 454.2h0M298.1 467.8h0M339.5 418.7h0M281.7 483.6h0M267.8 490.9h0M367.3 398.0h0M403.0 375.6h0M400.1 375.0h0M324.6 440.0h0M285.2 481.0h0M272.0 491.5h0M424.6 352.7h0M276.6 489.6h0M316.5 448.7h0M376.9 397.6h0M277.5 483.0h0M362.3 411.0h0M322.9 448.1h0M280.9 478.6h0M323.5 436.1h0M363.0 406.5h0M276.0 483.8h0M425.8 352.1h0M290.1 469.6h0M334.8 429.3h0M267.1 494.0h0M333.7 436.9h0M273.3 489.6h0M379.8 400.3h0M421.7 353.4h0M364.3 406.3h0M281.0 485.8h0M362.4 407.6h0M364.4 413.6h0M384.9 386.2h0M306.6 464.4h0M424.4 352.3h0M315.0 451.9h0M281.2 482.6h0M337.3 431.3h0M324.9 444.9h0M284.8 479.0h0M370.8 403.2h0M276.1 482.4h0M367.8 401.6h0M415.9 361.2h0M419.9 351.8h0M327.4 441.2h0M374.4 398.4h0M393.2 378.7h0M322.1 449.0h0M291.0 476.2h0M271.5 488.0h0M317.0 445.8h0M415.8 363.8h0M286.1 478.9h0M369.2 402.6h0M424.6 357.2h0M392.7 388.0h0M298.2 463.3h0M376.3 401.0h0M411.6 361.2h0M401.7 369.4h0M339.1 431.6h0M316.4 445.7h0M403.7 369.4h0M390.1 379.2h0M322.3 443.8h0M409.4 365.4h0M310.8 457.9h0M271.7 490.9h0M390.3 382.7h0M349.4 421.8h0M287.1 475.8h0M296.4 466.5h0M318.1 446.4h0M356.1 418.2h0M347.8 421.8h0M277.2 488.0h0M268.5 490.3h0M368.3 394.2h0M424.2 356.9h0M317.5 449.1h0M275.5 485.0h0M374.0 399.3h0M383.2 389.8h0M403.4 374.0h0M321.9 447.5h0M273.9 487.8h0M397.9 367.4h0M293.0 470.0h0M296.3 468.0h0M324.5 439.2h0M389.9 378.2h0M392.9 385.0h0M416.4 362.8h0M399.5 381.6h0M339.7 435.4h0M288.1 475.3h0M342.4 431.8h0M393.3 381.9h0M340.3 425.7h0M405.2 370.7h0M359.0 410.2h0M405.0 377.4h0M406.8 370.6h0M335.0 431.6h0M348.0 427.3h0M417.9 359.9h0M272.7 487.3h0M324.3 440.3h0M321.6 442.5h0M299.6 464.3h0M356.0 416.6h0M382.4 394.9h0M299.8 459.7h0M415.7 360.3h0M409.8 364.5h0M375.8 396.0h0M415.9 363.7h0M410.8 363.0h0M418.9 362.5h0M290.3 472.0h0M374.0 400.1h0M311.1 456.5h0M285.3 475.9h0M349.8 417.1h0M296.6 469.4h0M396.3 378.3h0M273.4 486.7h0M375.8 391.0h0M359.6 412.4h0M380.2 392.4h0M375.3 408.9h0M288.0 470.1h0M330.2 437.3h0M409.5 364.1h0M335.0 435.4h0M288.7 469.6h0M372.9 401.0h0M301.3 463.3h0M409.9 373.5h0M337.5 425.7h0M273.5 485.9h0M339.8 436.7h0M384.2 384.8h0M288.4 478.8h0M306.6 459.8h0M356.7 407.4h0M360.3 408.4h0M413.0 361.2h0M275.7 487.2h0M374.0 400.7h0M320.6 451.5h0M330.8 434.9h0M313.3 456.9h0M285.0 478.2h0M417.9 361.1h0M402.6 374.6h0M269.8 490.6h0M353.0 417.2h0M335.7 434.1h0M329.2 443.3h0M338.7 428.8h0M377.6 394.0h0M340.2 421.8h0M364.2 413.2h0M425.2 356.1h0M268.9 492.8h0M371.9 404.6h0M306.0 462.2h0M331.2 434.8h0M414.3 363.2h0M271.9 486.5h0M319.6 446.7h0M289.9 470.0h0M314.5 453.4h0M339.5 425.1h0M370.6 403.9h0M336.1 435.5h0M350.4 421.3h0M426.2 353.4h0M395.7 377.7h0M302.4 463.6h0M364.2 403.9h0M398.7 378.7h0M357.1 402.5h0M413.0 363.1h0M326.7 439.3h0M371.4 402.8h0M372.7 405.1h0M284.6 474.2h0M297.8 471.0h0M270.9 492.0h0M374.8 396.6h0M344.2 419.9h0M387.4 391.3h0M313.5 448.4h0M419.6 358.4h0M317.1 447.1h0M418.3 359.4h0M284.8 480.2h0M377.4 395.5h0M326.2 442.8h0M401.1 380.3h0M368.4 409.9h0M296.9 472.2h0M313.8 447.5h0M377.9 389.1h0M291.3 479.5h0M336.8 429.8h0M348.1 411.8h0M322.6 437.7h0M355.5 417.7h0M328.3 429.9h0M369.5 399.5h0M351.1 425.5h0M401.4 374.5h0M347.3 425.5h0M358.6 417.4h0M334.4 435.7h0M398.8 374.6h0M390.0 385.4h0M295.0 472.3h0M269.1 488.5h0M422.7 353.6h0M353.8 408.4h0M350.7 415.5h0M420.9 357.2h0M387.8 389.9h0M396.4 378.0h0M274.3 486.8h0M377.3 391.8h0M415.9 361.5h0M405.3 371.7h0M423.7 353.2h0M394.2 382.9h0M288.1 479.0h0M354.6 418.4h0M321.3 450.1h0M339.6 430.8h0M310.9 451.2h0M413.8 356.2h0M286.5 474.7h0M396.3 374.3h0M358.6 408.3h0M331.8 436.1h0M293.5 469.7h0M306.4 461.0h0M413.6 361.4h0M403.4 369.4h0M306.9 456.7h0M408.9 361.0h0M324.5 444.6h0M393.0 385.5h0M370.6 397.4h0M289.8 469.6h0M398.3 374.6h0M346.4 421.5h0M399.7 377.1h0M289.3 471.3h0M378.3 395.4h0M268.2 490.6h0M306.2 457.8h0M299.6 463.1h0M405.1 377.5h0M356.1 414.5h0M348.6 426.5h0M302.0 464.7h0M309.7 458.9h0M350.1 424.0h0M335.5 431.3h0M284.6 479.4h0M372.5 398.6h0M422.4 357.2h0M313.8 452.0h0M354.4 409.8h0M270.3 489.6h0M322.0 443.6h0M270.2 490.8h0M360.1 416.3h0M306.1 454.0h0M335.1 425.1h0M316.4 454.0h0M409.6 365.3h0M351.2 418.7h0M405.0 369.1h0M397.1 378.2h0M410.1 367.8h0M345.6 423.8h0M349.2 421.3h0M391.7 380.2h0M339.5 435.6h0M303.5 456.0h0M418.5 363.0h0M350.5 418.6h0M410.5 365.7h0M296.1 466.5h0M369.0 398.7h0M307.5 455.2h0M354.6 408.2h0M336.6 430.9h0M415.9 364.8h0M329.2 437.2h0M372.3 398.4h0M315.5 445.9h0M362.7 406.8h0M413.8 363.2h0M412.3 361.4h0M373.8 396.1h0M294.2 466.8h0M381.7 393.1h0M274.9 489.3h0M348.1 421.2h0M299.8 460.3h0M276.3 482.4h0M400.3 377.6h0M360.9 398.3h0M304.7 457.8h0M271.2 490.3h0M329.9 435.9h0M379.8 397.3h0M424.8 352.9h0M339.1 423.4h0M334.0 435.6h0M403.8 371.0h0M411.1 363.1h0M327.1 445.6h0M414.5 361.0h0M352.0 411.7h0M368.7 404.4h0M366.1 405.3h0M298.5 458.5h0M413.7 363.0h0M292.3 474.0h0M394.9 382.5h0M298.9 470.8h0M292.5 469.5h0M385.8 383.6h0M323.6 439.6h0M335.9 429.3h0M396.2 374.3h0M310.8 454.8h0M297.4 465.8h0M294.8 468.8h0M308.6 461.9h0M404.7 367.3h0M406.2 375.0h0M422.5 360.8h0M314.7 458.7h0M322.1 444.6h0M275.1 481.4h0M422.7 353.4h0M361.0 403.1h0M340.3 426.2h0M381.6 393.4h0M303.3 460.7h0M376.3 401.4h0M397.0 382.4h0M397.2 376.3h0M413.0 364.0h0M342.9 426.9h0M410.9 365.7h0M390.8 385.1h0M385.7 386.2h0M356.9 411.9h0M298.8 458.6h0M414.7 361.1h0M421.1 356.0h0M274.1 480.2h0M390.7 385.6h0M422.6 352.2h0M385.8 391.2h0M328.7 433.3h0M345.9 412.0h0M272.7 485.8h0M266.9 493.7h0M383.0 384.6h0M285.1 478.6h0M413.5 359.6h0M300.7 461.9h0M292.4 468.5h0M418.4 357.9h0M373.9 398.6h0M320.6 440.3h0M309.6 450.9h0M268.0 492.7h0M289.6 467.7h0M397.8 379.7h0M389.1 385.5h0M407.4 369.8h0M281.6 484.8h0M385.8 381.1h0M306.3 453.4h0M278.3 484.3h0M356.9 417.3h0M276.9 479.2h0M350.8 417.9h0M288.2 470.3h0M293.5 468.1h0M339.5 433.6h0M272.3 485.6h0M313.0 450.5h0M405.0 369.9h0M413.1 357.4h0M271.2 492.7h0M369.8 401.1h0M416.7 354.6h0M335.0 431.1h0M326.5 441.8h0M284.4 480.6h0M267.2 486.3h0M290.6 469.9h0M384.7 396.1h0M298.7 462.6h0M290.1 472.2h0M268.8 489.3h0M335.9 437.7h0M389.2 383.3h0M401.6 372.7h0M421.1 351.1h0M417.5 360.2h0M295.6 463.0h0M405.1 372.9h0M293.9 470.4h0M422.0 354.4h0M409.6 365.1h0M404.5 365.9h0M411.8 363.6h0M398.0 371.6h0M283.8 474.3h0M293.7 474.9h0M338.4 425.6h0M402.8 365.5h0M381.9 390.5h0M416.0 359.8h0M344.1 423.0h0M300.0 466.8h0M422.0 358.5h0M311.9 462.7h0M375.6 399.9h0M304.5 457.5h0M382.2 393.7h0M318.6 449.8h0M409.8 375.7h0M359.5 412.2h0M355.7 412.4h0M306.5 456.6h0M323.5 445.2h0M326.5 437.1h0M287.6 478.1h0M268.3 491.6h0M361.9 404.0h0M355.0 416.9h0M344.5 427.4h0M419.1 353.6h0M311.4 457.6h0M423.4 353.9h0M276.1 485.6h0M306.8 455.5h0M360.3 413.9h0M304.6 456.8h0M402.2 369.6h0M376.4 395.9h0M321.5 445.9h0M418.7 355.4h0M347.8 424.2h0M398.8 371.2h0M382.7 380.6h0M374.0 403.2h0M415.0 360.0h0M341.1 431.1h0M405.9 370.0h0M340.6 430.6h0M420.7 355.6h0M423.3 353.9h0M299.0 468.5h0M273.8 485.5h0M366.3 400.5h0M411.7 363.6h0M411.0 358.8h0M396.1 379.8h0M344.5 427.0h0M402.1 378.6h0M401.8 370.9h0M380.9 390.4h0M270.3 487.3h0M290.8 470.6h0M328.8 437.2h0M301.9 464.9h0M295.1 465.8h0M295.2 466.5h0M423.8 353.8h0M337.1 438.0h0M284.3 480.5h0M412.9 364.6h0M313.8 451.5h0M397.3 381.6h0M403.5 367.1h0M406.2 373.0h0M393.5 384.8h0M406.7 368.0h0M422.1 355.4h0M427.2 353.6h0M402.6 370.1h0M392.2 376.9h0M305.0 455.5h0M382.6 393.2h0M308.9 449.7h0M283.7 481.3h0M288.0 473.9h0M421.0 352.4h0M397.3 378.5h0M369.5 405.3h0M294.6 466.3h0M268.9 490.6h0M361.4 414.0h0M337.6 430.2h0M381.0 398.5h0M386.8 384.9h0M414.8 367.0h0M348.9 421.8h0M324.6 435.7h0M277.3 478.8h0M269.9 488.1h0M419.6 364.0h0M326.0 439.3h0M346.9 424.9h0M366.0 403.6h0M324.2 444.5h0M390.0 383.6h0M269.6 491.7h0M272.6 490.7h0M343.7 421.7h0M278.5 485.4h0M327.9 441.5h0M286.0 486.7h0M354.5 411.8h0M402.6 370.9h0M369.4 404.9h0M381.7 393.9h0M368.7 411.4h0M353.6 419.4h0M319.7 447.2h0M413.6 359.9h0M328.9 429.7h0M388.7 383.0h0M404.7 372.3h0M293.7 476.5h0M398.7 368.1h0M302.2 460.4h0M291.8 476.1h0M402.6 372.5h0M346.5 420.2h0M273.0 489.5h0M313.3 451.6h0M411.3 361.1h0M400.0 376.0h0M363.0 408.7h0M379.8 393.1h0M301.4 463.9h0M361.5 417.4h0M416.6 363.6h0M388.1 391.2h0M340.0 426.5h0M295.8 471.1h0M304.9 462.9h0M290.9 476.3h0M390.5 380.8h0M273.2 486.7h0M318.2 447.8h0M330.9 437.4h0M381.4 389.2h0M370.2 404.6h0M347.4 418.8h0M329.3 440.5h0M272.0 490.9h0M273.7 482.7h0M363.3 406.4h0M366.1 407.8h0M358.1 408.1h0M308.9 455.0h0M332.6 434.1h0M380.2 394.2h0M337.6 431.9h0M283.6 486.4h0M338.2 433.8h0M359.0 414.4h0M340.1 429.6h0M338.4 429.7h0M361.7 404.8h0M323.8 446.0h0M356.1 422.2h0M387.7 379.8h0M376.0 399.2h0M417.6 360.2h0M282.8 478.9h0M426.0 351.6h0M286.1 474.3h0M295.6 464.6h0M347.9 418.3h0M388.7 382.6h0M323.7 445.8h0M334.5 437.4h0M413.5 363.4h0M360.3 414.4h0M354.1 408.7h0M347.6 420.2h0M343.4 421.9h0M403.9 371.3h0M288.1 475.3h0M313.9 453.4h0M404.2 369.1h0M405.1 369.3h0M304.4 458.5h0M302.2 461.3h0M410.6 364.8h0M331.2 442.0h0M421.5 359.7h0M388.6 389.1h0M296.6 466.6h0M320.7 444.6h0M421.9 355.5h0M299.5 464.4h0M419.7 359.9h0M329.3 440.3h0M349.0 421.5h0M292.4 472.4h0M274.7 490.2h0M281.1 478.0h0M288.0 477.4h0M275.6 487.1h0M296.7 459.2h0M405.4 369.5h0M350.2 420.5h0M293.6 463.2h0M349.0 419.8h0M270.2 489.6h0M390.4 380.8h0M395.9 380.8h0M328.3 436.1h0M327.3 441.3h0M285.8 473.2h0M383.7 378.9h0M342.8 419.7h0M349.8 422.2h0M290.6 472.0h0M277.1 484.6h0M348.4 419.2h0M379.4 387.2h0M318.3 446.6h0M425.9 354.1h0M270.3 490.2h0M397.1 378.6h0M374.7 395.9h0M317.4 449.8h0M274.2 489.7h0M427.2 352.7h0M381.4 397.1h0M291.6 466.0h0M375.7 399.4h0M339.0 439.4h0M321.2 443.5h0M424.1 354.1h0M300.3 467.4h0M380.0 391.5h0M292.6 474.5h0M339.7 433.7h0M361.7 416.0h0M362.7 414.0h0M344.1 428.5h0M272.6 486.7h0M379.5 392.0h0M359.0 402.5h0M317.1 452.6h0M403.5 374.7h0M390.2 389.3h0M348.1 416.9h0M293.2 475.6h0M418.2 359.2h0M267.7 494.1h0M321.2 444.7h0M426.4 353.8h0M272.1 491.1h0M359.9 414.5h0M358.3 412.3h0M292.4 468.3h0M332.6 437.1h0M414.7 361.9h0M363.8 404.5h0M282.2 479.0h0M372.7 402.1h0M320.1 443.4h0M288.1 473.9h0M298.8 466.5h0M362.4 407.3h0M354.5 416.1h0M382.6 392.8h0M366.3 411.2h0M417.1 361.0h0M384.6 390.8h0M288.6 476.0h0M272.3 488.3h0M366.0 403.3h0M296.7 469.4h0M377.8 397.9h0M371.5 404.3h0M275.5 492.1h0M318.1 444.7h0M413.8 362.2h0M297.3 464.7h0M343.4 423.4h0M399.1 381.0h0M361.7 402.7h0M312.8 456.7h0M286.5 473.6h0M291.6 471.4h0M352.8 417.0h0M277.2 480.7h0M306.7 460.6h0M362.4 401.8h0M417.8 360.3h0M347.6 431.2h0M299.8 462.2h0M377.1 386.7h0M353.6 414.9h0M275.5 490.7h0M287.2 472.7h0M286.4 474.9h0M384.2 394.3h0M375.4 393.6h0M314.9 447.5h0M271.4 491.3h0M328.4 436.3h0M383.4 388.2h0M267.0 489.6h0M348.2 426.6h0M375.9 398.0h0M293.5 473.4h0M405.0 370.9h0M426.6 353.4h0M383.5 387.6h0M406.3 368.5h0M384.0 390.6h0M333.8 431.6h0M315.9 452.4h0M287.0 475.9h0M274.3 487.6h0M289.0 477.7h0M328.3 438.3h0M384.5 385.5h0M323.3 442.6h0M378.5 398.7h0M298.1 466.9h0M376.1 396.4h0M385.6 388.6h0M335.5 437.7h0M395.7 380.7h0M277.1 490.8h0M365.0 404.3h0M340.2 430.8h0M276.1 483.8h0M276.8 483.2h0M385.6 387.9h0M306.3 461.2h0M385.8 388.9h0M424.0 351.3h0M347.8 427.4h0M371.1 403.4h0M404.6 372.4h0M302.6 463.9h0M374.0 397.2h0M278.8 483.4h0M398.7 379.6h0M380.0 388.2h0M278.9 484.4h0M385.4 389.2h0M288.1 474.3h0M333.4 436.7h0M329.1 447.1h0M420.4 356.1h0M334.6 437.0h0M410.4 358.0h0M268.3 488.9h0M406.2 374.9h0M404.1 372.0h0M361.6 407.8h0M343.7 430.1h0M393.7 383.3h0M321.2 442.7h0M356.1 411.7h0M273.6 491.1h0M278.5 486.9h0M284.4 478.8h0M282.9 477.2h0M303.2 460.1h0M380.1 394.1h0M317.2 450.0h0M346.9 424.9h0M328.1 442.3h0M268.2 489.1h0M399.0 373.4h0M388.4 391.4h0M289.3 474.7h0M392.0 377.8h0M343.5 423.3h0M331.8 437.4h0M364.1 413.6h0M360.2 408.8h0M267.4 492.9h0M331.1 437.0h0M305.9 456.7h0M276.1 482.9h0M413.1 361.1h0M374.0 398.1h0M349.3 421.2h0M421.2 355.4h0M315.8 450.9h0M307.4 456.8h0M303.3 459.3h0M287.7 479.2h0M403.6 365.2h0M390.2 381.8h0M357.3 415.1h0M310.9 455.0h0M380.4 391.4h0M327.6 438.2h0M322.6 439.5h0M296.3 462.7h0M293.5 470.6h0M286.8 470.8h0M298.1 474.3h0M354.9 416.4h0M368.6 400.9h0M315.9 453.5h0M361.9 413.0h0M329.0 429.4h0M271.3 486.9h0M293.8 475.9h0M350.7 413.9h0M318.2 445.6h0M366.8 403.1h0M421.4 357.3h0M308.0 452.1h0M267.6 491.7h0M347.9 420.1h0M304.0 463.1h0M306.0 463.3h0M311.5 455.7h0M398.1 380.2h0M269.7 491.3h0M340.4 429.5h0M405.0 368.9h0M402.5 372.6h0M388.5 382.8h0M342.8 418.0h0M373.9 402.8h0M323.0 448.7h0M403.0 372.8h0M315.3 453.6h0M390.9 381.5h0M314.5 451.9h0M403.9 371.0h0M291.6 470.6h0M268.6 492.4h0M323.3 449.3h0M417.1 355.5h0M288.4 476.7h0M361.5 408.0h0M300.0 464.8h0M396.1 374.6h0M422.3 358.1h0M304.1 464.4h0M335.8 435.1h0M291.0 472.1h0M269.7 494.0h0M335.9 434.9h0M372.0 399.8h0M370.9 403.9h0M393.1 380.4h0M286.7 470.3h0M306.5 459.0h0M321.2 440.2h0M342.0 425.6h0M375.3 398.8h0M271.9 483.8h0M304.2 457.8h0M386.9 381.7h0M401.3 374.6h0M423.7 354.2h0M388.8 391.7h0M405.7 371.9h0M377.7 389.5h0M398.5 373.7h0M413.1 361.7h0M391.3 383.3h0M406.8 372.3h0M324.9 440.9h0M361.5 407.6h0M269.5 490.2h0M291.8 471.9h0M375.9 390.9h0M336.3 431.1h0M368.5 401.8h0M392.2 384.9h0M346.5 420.9h0M350.6 420.8h0M423.3 356.6h0M300.9 465.9h0M315.0 448.6h0M350.0 416.1h0M293.1 465.9h0M353.9 415.5h0M329.6 436.3h0M309.5 454.8h0M405.6 368.7h0M277.8 483.3h0M276.7 488.2h0M399.5 376.7h0M401.3 373.8h0M391.3 378.9h0M339.4 429.8h0M270.8 490.5h0M322.7 442.1h0M304.2 457.0h0M357.4 412.3h0M406.2 367.6h0M408.0 370.5h0M342.9 426.7h0M406.4 371.7h0M426.1 350.9h0M316.8 449.0h0M345.5 423.5h0M379.3 395.8h0M285.1 467.3h0M422.6 352.5h0M425.8 352.0h0M283.4 481.2h0M375.7 393.2h0M354.5 410.4h0M320.9 443.4h0M399.5 383.5h0M419.9 355.8h0M368.5 407.0h0M314.3 451.4h0M392.4 386.9h0M317.4 450.9h0M342.2 425.9h0M305.9 462.8h0M346.3 427.6h0M295.4 471.1h0M292.5 477.3h0M304.4 459.1h0M403.7 372.6h0M302.8 456.5h0M336.4 432.7h0M404.0 367.5h0M358.3 410.2h0M289.2 470.5h0M355.4 414.5h0M334.1 435.5h0M311.4 454.0h0M371.2 403.6h0M386.8 388.2h0M270.5 488.3h0M266.9 493.5h0M353.2 410.2h0M274.6 488.1h0M350.7 415.8h0M404.1 376.1h0M297.9 469.3h0M285.9 479.1h0M397.0 374.8h0M330.2 434.1h0M312.6 449.4h0M271.2 488.1h0M422.3 354.4h0M349.0 418.1h0M349.2 418.0h0M412.1 365.5h0M384.4 390.9h0M418.7 354.4h0M419.3 356.8h0M271.9 492.1h0M314.1 451.0h0M304.2 453.6h0M384.5 388.9h0M374.9 401.4h0M402.7 375.6h0M402.0 375.4h0M383.1 396.8h0M404.6 372.9h0M320.2 442.1h0M377.3 396.3h0M340.4 426.8h0M402.9 372.5h0M287.4 469.7h0M308.4 451.6h0M375.0 395.6h0M283.7 482.0h0M294.7 469.6h0M333.2 431.7h0M282.2 480.3h0M373.5 401.2h0M267.6 490.3h0M383.1 391.5h0M416.3 363.5h0M408.6 358.8h0M415.0 367.4h0M275.9 485.7h0M304.7 452.5h0M369.0 406.9h0M367.3 407.6h0M321.1 444.2h0M395.4 380.8h0M376.6 398.7h0M384.4 388.0h0M402.4 370.9h0M286.4 474.5h0M297.8 460.7h0M376.5 391.8h0M345.3 426.0h0M297.7 460.8h0M322.4 446.9h0M352.0 414.8h0M322.4 447.1h0M348.6 418.0h0M291.7 476.4h0M342.8 422.3h0M424.8 355.7h0M378.6 396.5h0M332.8 434.2h0M381.1 394.4h0M397.8 373.4h0M307.0 455.9h0M365.4 404.0h0M356.7 412.5h0M357.0 408.3h0M388.5 382.7h0M380.5 394.0h0M349.7 419.7h0M334.5 434.7h0M275.3 485.9h0M357.4 418.0h0M296.6 467.9h0M302.1 456.4h0M308.4 454.5h0M305.1 459.0h0M341.7 428.9h0M409.9 365.3h0M322.5 445.1h0M313.5 457.2h0M357.7 418.5h0M392.1 380.7h0M349.7 417.8h0M365.6 408.2h0M424.4 353.5h0M399.0 381.1h0M384.9 391.1h0M359.5 412.9h0M377.4 390.0h0M310.1 450.7h0M315.2 449.5h0M401.4 372.9h0M419.4 358.0h0M328.8 437.1h0M361.7 409.8h0M413.5 361.9h0M421.1 355.8h0M326.0 444.3h0M310.0 459.6h0M272.8 489.2h0M292.1 464.2h0M302.6 458.3h0M365.6 408.1h0M311.5 451.7h0M395.3 375.4h0M299.6 468.3h0M366.5 406.6h0M315.5 450.7h0M404.1 373.2h0M400.3 376.3h0M341.2 425.1h0M376.2 398.1h0M390.5 388.0h0M350.5 419.4h0M298.0 465.9h0M352.2 414.0h0M360.8 418.1h0M359.3 414.3h0M313.3 446.1h0M381.3 393.0h0M349.1 419.1h0M299.7 459.8h0M359.0 411.5h0M316.6 442.8h0M418.6 360.7h0M313.1 449.6h0M321.1 447.9h0M306.4 456.7h0M328.6 440.8h0M387.3 378.9h0M366.6 402.4h0M355.4 417.1h0M419.0 357.0h0M305.1 462.5h0M294.2 469.8h0M350.3 419.7h0M288.4 476.0h0M352.2 414.8h0M322.9 439.2h0M280.8 480.7h0M416.7 362.1h0M403.2 378.5h0M318.4 452.3h0M385.0 391.0h0M325.7 439.1h0M399.7 372.6h0M408.6 363.2h0M375.9 392.9h0M387.2 389.9h0M310.8 452.5h0M398.8 378.3h0M370.0 398.8h0M353.0 425.9h0M309.9 454.2h0M398.1 372.1h0M305.8 461.7h0M349.5 414.7h0M276.5 486.0h0M375.6 397.7h0M271.4 492.8h0M298.5 464.2h0M324.9 437.9h0M419.5 355.4h0M413.2 366.4h0M426.5 351.1h0M372.3 398.3h0M333.1 437.5h0M343.8 427.4h0M340.7 419.9h0M285.7 476.0h0M299.5 464.3h0M346.7 424.6h0M425.1 355.1h0M284.8 479.1h0M382.9 385.7h0M311.6 457.4h0M365.3 403.3h0M400.6 375.4h0M422.4 354.3h0M381.7 393.7h0M396.5 379.0h0M404.1 371.6h0M398.4 378.7h0M342.6 424.9h0M406.1 362.2h0M390.0 387.9h0M355.4 412.2h0M289.0 471.4h0M360.7 403.4h0M425.1 354.6h0M272.3 486.1h0M313.7 447.5h0M278.7 481.9h0M329.2 434.5h0M405.7 372.1h0M334.0 442.9h0M392.2 374.3h0M364.9 408.8h0M279.2 483.8h0M394.3 384.4h0M405.0 374.3h0M368.9 404.1h0M341.9 426.6h0M405.0 369.7h0M414.2 358.7h0M374.2 396.9h0M374.6 395.6h0M316.4 453.4h0M354.1 413.5h0M312.0 454.2h0M276.1 488.3h0M278.0 478.3h0M301.7 464.8h0M302.9 456.9h0M372.1 399.0h0M395.3 376.8h0M408.5 365.8h0M317.9 448.8h0M290.8 470.5h0M328.0 432.3h0M314.8 448.4h0M418.8 360.3h0M310.1 458.4h0M375.0 393.7h0M404.4 370.6h0M325.8 443.4h0M385.4 384.7h0M382.1 391.9h0M301.6 459.6h0M417.7 360.0h0M351.2 416.5h0M427.1 351.7h0M340.7 424.5h0M333.9 431.8h0M404.5 369.6h0M370.5 404.2h0M273.5 489.3h0M315.5 444.6h0M336.5 428.1h0M394.8 379.4h0M361.0 407.5h0M301.3 459.6h0M412.8 361.3h0M306.8 457.3h0M416.9 361.9h0M413.1 368.1h0M286.1 477.9h0M385.7 386.9h0M339.0 426.0h0M420.7 359.6h0M381.8 389.7h0M299.9 462.3h0M309.6 459.8h0M370.1 404.2h0M307.9 459.4h0M385.4 394.3h0M424.6 354.0h0M395.3 379.0h0M272.7 488.4h0M393.4 386.1h0M356.3 416.3h0M354.7 411.2h0M318.3 448.3h0M267.5 494.1h0M387.6 388.4h0M338.3 432.6h0M323.1 444.2h0M399.0 372.7h0M354.1 410.1h0M318.8 449.8h0M358.4 412.0h0M356.6 415.7h0M404.7 367.6h0M395.3 377.2h0M355.8 411.0h0M301.8 465.9h0M417.1 357.9h0M424.4 357.7h0M356.1 405.7h0M316.0 456.5h0M369.1 396.1h0M305.2 460.2h0M339.4 428.7h0M353.6 412.9h0M338.2 429.4h0M402.8 376.8h0M354.7 414.3h0M275.8 484.1h0M279.1 484.0h0M373.3 397.2h0M403.7 376.0h0M418.0 356.6h0M415.3 362.1h0M409.6 368.4h0M379.5 392.5h0M293.7 472.4h0M317.1 444.3h0M295.6 462.0h0M347.4 420.3h0M279.3 486.1h0M348.6 414.5h0M338.8 428.3h0M377.7 390.8h0M327.3 441.5h0M299.0 462.4h0M412.5 368.5h0M395.1 379.5h0M338.8 426.7h0M395.5 383.0h0M295.5 464.4h0M343.4 429.6h0M316.3 444.4h0M405.0 368.5h0M423.2 351.4h0M294.3 471.4h0M335.6 429.3h0M402.4 375.8h0M329.9 441.5h0M292.4 476.0h0M347.7 419.2h0M364.1 400.8h0M403.3 368.6h0M316.4 447.7h0M290.5 472.6h0M278.5 477.6h0M331.3 440.2h0M412.3 363.8h0M342.5 429.8h0M276.8 484.8h0M340.2 431.1h0M287.7 473.8h0M385.3 391.5h0M292.4 471.5h0M334.0 436.0h0M315.0 447.2h0M338.1 431.1h0M314.7 450.0h0M412.0 365.6h0M421.2 355.1h0M284.6 473.7h0M361.2 406.0h0M280.3 475.6h0M366.0 405.5h0M267.3 492.7h0M398.2 376.1h0M340.5 429.6h0M278.3 478.7h0M417.6 353.6h0M341.0 427.7h0M389.2 382.0h0M349.8 418.7h0M341.8 422.2h0M389.5 383.4h0M371.1 409.8h0M424.1 352.8h0M308.9 454.1h0M351.7 421.5h0M329.2 440.3h0M397.6 378.0h0M298.0 474.0h0M281.5 482.7h0M311.8 454.9h0M412.2 365.8h0M389.5 385.7h0M268.9 489.6h0M302.1 463.5h0M314.8 454.0h0M360.3 410.5h0M389.4 383.5h0M269.8 493.3h0M294.5 467.2h0M288.6 471.3h0M318.0 446.8h0M407.7 370.6h0M320.6 446.9h0M317.4 455.7h0M408.7 365.4h0M277.1 483.0h0M423.0 355.1h0M313.6 448.6h0M313.4 450.7h0M414.6 364.6h0M328.9 436.8h0M403.3 380.3h0M388.6 380.5h0M285.7 475.2h0M288.2 473.0h0M402.1 371.8h0M413.3 358.5h0M342.2 429.5h0M324.3 447.4h0M409.2 364.2h0M390.9 382.6h0M407.7 366.4h0M286.3 477.3h0M410.7 367.2h0M290.0 469.6h0M313.9 452.2h0M269.3 493.7h0M282.7 476.1h0M285.0 478.2h0M363.4 410.4h0M274.1 489.0h0M380.3 390.9h0M278.6 484.7h0M344.4 417.4h0M330.6 437.1h0M284.9 474.0h0M315.9 443.4h0M370.8 400.6h0M266.7 493.1h0M312.1 447.4h0M322.6 443.7h0M363.0 410.3h0M271.1 488.4h0M419.7 356.3h0M423.3 357.6h0M364.5 414.7h0M270.6 488.9h0M327.3 438.2h0M321.3 439.7h0M400.0 372.8h0M343.5 426.3h0M342.4 427.5h0M393.9 382.3h0M372.7 397.1h0M398.1 379.8h0M284.8 475.6h0M393.5 381.0h0M298.9 463.1h0M332.7 433.4h0M291.5 474.6h0M339.1 427.3h0M419.4 354.5h0M298.5 459.7h0M271.9 491.2h0M284.1 481.5h0M313.0 454.8h0M289.2 480.2h0M362.3 412.5h0M323.0 445.1h0M291.4 470.6h0M341.2 427.4h0M408.4 367.8h0M304.7 461.6h0M315.2 443.1h0M335.3 429.5h0M322.4 443.4h0M286.4 470.8h0M314.0 453.3h0M268.8 486.4h0M308.2 456.6h0M278.5 486.9h0M270.2 490.4h0M369.7 398.1h0M393.2 375.7h0M381.0 396.9h0M297.1 457.6h0M299.1 464.7h0M336.0 433.3h0M355.5 418.0h0M343.7 422.0h0M319.0 441.2h0M411.2 360.3h0M362.1 409.4h0M348.2 419.3h0M270.7 491.4h0M421.2 355.5h0M352.4 415.0h0M412.6 365.4h0M307.5 456.8h0M341.7 432.5h0M359.4 413.7h0M306.0 466.7h0M358.7 409.5h0M274.9 485.5h0M407.6 367.2h0M328.8 439.7h0M315.4 453.6h0M315.5 461.2h0M285.3 476.7h0M272.6 486.2h0M364.3 406.2h0M414.6 362.8h0M412.2 366.3h0M318.9 448.4h0M310.4 460.6h0M338.1 427.8h0M321.6 443.6h0M386.0 381.0h0M388.1 388.5h0M414.2 364.3h0M348.4 419.7h0M304.6 457.5h0M352.5 419.1h0M374.5 400.0h0M397.4 371.0h0M267.1 494.2h0M353.6 415.7h0M406.3 370.3h0M350.6 411.9h0M406.0 370.2h0M374.1 397.6h0M398.1 378.5h0M412.9 365.0h0M391.7 381.9h0M350.2 423.0h0M269.3 488.8h0M371.5 401.3h0M307.0 458.9h0M418.6 361.6h0M340.6 436.4h0M324.7 443.6h0M387.1 376.7h0M286.7 478.6h0M316.3 447.7h0M412.9 366.5h0M410.2 367.0h0M401.5 371.5h0M396.6 379.3h0M326.0 437.2h0M307.9 458.8h0M353.1 419.0h0M292.1 466.9h0M398.4 374.7h0M399.8 371.0h0M310.4 459.7h0M370.7 398.5h0M298.2 457.3h0M394.9 376.7h0M400.6 377.1h0M270.6 489.0h0M366.0 399.6h0M391.2 394.6h0M351.7 422.0h0M352.4 416.3h0M296.5 468.1h0M285.7 480.9h0M353.9 414.1h0M280.5 481.5h0M342.2 428.0h0M330.2 437.2h0M350.0 420.2h0M405.2 370.9h0M382.6 387.8h0M321.3 443.5h0M383.8 390.0h0M349.2 414.9h0M400.6 376.6h0M416.3 361.6h0M407.1 370.1h0M387.1 382.2h0M327.2 441.7h0M400.9 375.0h0M328.7 435.7h0M303.7 462.2h0M320.2 448.7h0M374.0 395.8h0M394.0 383.3h0M309.7 462.4h0M318.5 439.1h0M401.0 375.4h0M315.6 444.7h0M380.1 390.8h0M270.6 489.8h0M338.2 433.2h0M269.9 490.8h0M357.6 412.5h0M330.7 439.6h0M407.5 364.9h0M298.7 467.5h0M366.7 403.3h0M296.8 468.6h0M295.0 465.8h0M312.7 453.3h0M368.6 404.7h0M287.5 471.5h0M371.0 400.0h0M329.5 437.7h0M402.2 372.4h0M285.5 475.2h0M317.2 446.2h0M297.4 466.3h0M278.9 485.4h0M351.5 417.9h0M372.0 397.9h0M301.3 458.9h0M303.4 461.2h0M322.0 445.6h0M323.1 446.2h0M382.7 385.4h0M293.0 471.7h0M306.6 458.0h0M393.8 378.9h0M408.0 370.0h0M401.9 374.7h0M352.2 418.5h0M370.6 404.9h0M284.8 477.7h0M333.6 435.2h0M302.4 467.6h0M413.8 364.0h0M399.1 377.2h0M397.3 383.2h0M301.7 466.2h0M409.4 364.9h0M399.0 371.9h0M427.0 351.1h0M346.4 420.9h0M416.7 357.6h0M332.1 438.1h0M321.8 444.0h0M388.1 384.2h0M283.9 479.7h0M331.4 434.1h0M268.3 492.2h0M389.7 391.9h0M336.4 439.0h0M384.9 387.7h0M364.5 405.8h0M282.9 481.7h0M309.9 449.9h0M369.9 395.8h0M308.5 457.1h0M287.9 472.6h0M312.4 449.4h0M410.6 367.3h0M372.9 402.3h0M418.6 361.5h0M404.7 369.0h0M406.3 371.1h0M423.8 353.2h0M337.0 423.4h0M349.0 423.1h0M356.1 416.0h0M415.4 361.4h0M298.8 466.5h0M418.8 359.1h0M309.6 451.0h0M409.5 364.9h0M385.2 390.7h0M368.1 400.8h0M367.7 401.9h0M386.7 391.5h0M313.3 453.7h0M305.3 462.3h0M271.9 491.0h0M385.1 379.9h0M369.4 406.3h0M330.8 440.4h0M378.4 396.4h0M334.8 426.8h0M316.1 445.2h0M376.1 397.1h0M278.8 481.6h0M394.2 381.2h0M299.6 461.3h0M357.6 414.0h0M380.2 390.9h0M320.5 447.8h0M341.6 430.8h0M290.9 469.8h0M314.6 452.2h0M399.1 377.9h0M322.0 443.9h0M318.4 455.4h0M355.6 418.7h0M413.4 361.7h0M367.3 397.5h0M359.4 402.2h0M274.1 487.3h0M375.8 396.2h0M287.6 475.2h0M321.1 443.0h0M310.3 451.6h0M325.8 438.2h0M378.3 387.7h0M410.0 368.7h0M276.7 484.1h0M365.8 408.5h0M406.7 372.2h0M370.8 402.5h0M288.1 477.7h0M356.4 411.2h0M426.5 352.5h0M384.1 390.9h0M397.7 379.6h0M426.7 350.6h0M305.6 458.3h0M359.2 416.5h0M393.2 377.5h0M267.5 493.7h0M305.6 464.1h0M381.7 388.4h0M359.2 409.6h0M282.7 481.4h0M380.1 395.2h0M286.7 477.2h0M335.2 434.1h0M295.8 473.2h0M292.9 468.4h0M318.8 448.1h0M312.2 456.3h0M360.8 409.7h0M388.8 384.4h0M322.1 444.5h0M411.1 359.6h0M332.2 440.7h0M398.8 375.5h0M290.4 470.4h0M362.9 400.8h0M380.2 393.5h0M398.4 374.5h0M392.3 381.3h0M407.2 370.0h0M328.0 440.4h0M386.4 392.5h0M347.1 420.9h0M274.5 482.4h0M391.7 383.4h0M334.8 428.6h0M390.3 384.3h0M416.8 361.6h0M390.4 386.2h0M280.6 474.5h0M347.1 420.0h0M404.3 372.3h0M420.3 361.7h0M370.4 402.5h0M397.0 379.4h0M413.7 364.7h0M276.3 479.8h0M335.2 436.3h0M314.1 453.7h0M303.2 459.7h0M352.3 423.3h0M360.0 414.2h0M353.8 418.7h0M402.6 375.2h0M427.2 351.6h0M337.5 432.8h0M327.7 436.0h0M324.0 443.6h0M301.6 467.8h0M371.9 405.9h0M295.7 469.1h0M422.6 362.2h0M364.0 407.8h0M367.8 401.0h0M350.8 423.8h0M291.6 475.1h0M337.9 438.3h0M423.7 359.2h0M370.0 406.9h0M392.6 382.0h0M369.4 401.3h0M362.0 413.0h0M369.7 405.4h0M363.5 408.9h0M420.8 355.4h0M300.7 466.1h0M375.7 399.6h0M405.1 368.4h0M371.4 394.7h0M309.6 466.1h0M291.2 469.9h0M355.0 418.6h0M273.8 485.0h0M382.9 389.0h0M296.4 462.2h0M342.6 425.0h0M413.7 365.2h0M374.8 399.1h0M321.1 443.2h0M387.3 384.3h0M325.6 436.1h0M329.1 435.0h0M301.6 466.8h0M416.4 362.4h0M381.4 394.6h0M388.2 382.4h0M280.8 482.5h0M292.8 473.4h0M298.2 466.6h0M304.5 461.5h0M289.7 478.2h0M345.7 426.3h0M371.5 400.9h0M389.0 383.2h0M339.8 434.2h0M316.1 445.6h0M415.9 362.6h0M410.1 366.6h0M288.5 474.7h0M305.3 464.1h0M276.1 485.5h0M271.4 483.8h0M425.3 355.3h0M288.5 474.2h0M292.9 469.8h0M298.7 470.6h0M283.6 479.0h0M418.4 361.2h0M390.8 382.6h0M266.5 491.2h0M309.7 459.8h0M413.6 359.8h0M403.3 373.6h0M321.1 446.2h0M322.7 446.5h0M273.9 491.1h0M326.7 444.2h0M386.0 388.4h0M421.9 355.2h0M272.9 483.9h0M319.5 446.3h0M350.5 424.5h0M367.9 407.6h0M364.9 411.0h0M331.1 438.9h0M406.4 363.5h0M313.0 458.2h0M398.0 375.5h0M395.5 382.0h0M272.9 489.9h0M291.9 471.0h0M371.9 406.7h0M419.6 356.8h0M399.3 374.4h0M340.4 432.0h0M401.8 375.2h0M313.9 457.9h0M365.9 411.7h0M393.7 376.1h0M328.3 437.5h0M285.8 471.8h0M337.2 431.9h0M317.0 452.5h0M282.9 481.1h0M412.3 364.2h0M378.4 393.5h0M331.2 435.7h0M283.6 474.2h0M269.9 491.1h0M322.5 446.2h0M383.6 384.1h0M324.1 447.5h0M413.0 367.3h0M346.1 423.8h0M278.7 483.9h0M352.4 420.9h0M334.4 435.9h0M422.5 354.0h0M359.0 412.1h0M347.3 420.6h0M355.3 420.4h0M406.9 367.6h0M318.6 450.0h0M369.5 404.2h0M416.5 362.5h0M275.6 489.9h0M309.8 453.0h0M290.7 475.6h0M338.0 424.0h0M276.3 486.2h0M415.8 359.0h0M355.1 415.1h0M406.8 374.4h0M398.8 379.4h0M331.2 435.5h0M324.1 439.9h0M348.0 426.7h0M366.2 405.2h0M324.6 443.6h0M293.7 464.2h0M297.4 458.5h0M367.3 407.8h0M393.1 384.9h0M376.8 393.1h0M304.8 458.7h0M409.8 368.1h0M268.5 492.8h0M307.8 456.8h0M267.1 491.0h0M310.8 451.1h0M387.2 383.6h0M312.3 454.6h0M295.3 469.9h0M371.4 393.6h0M388.2 383.3h0M402.4 377.7h0M325.3 444.5h0M359.1 409.0h0M308.7 454.1h0M409.2 368.9h0M304.9 454.8h0M421.1 352.6h0M329.3 433.3h0M327.6 443.2h0M344.3 425.3h0M301.8 464.5h0M279.9 484.2h0M381.8 394.7h0M337.8 435.1h0M299.2 466.7h0M336.6 428.5h0M421.3 360.2h0M366.6 404.1h0M269.2 490.8h0M304.6 457.9h0M269.0 490.8h0M373.9 394.9h0M288.5 476.6h0M335.2 433.0h0M383.8 390.8h0M416.2 362.8h0M281.4 481.4h0M275.0 485.9h0M327.6 441.6h0M420.8 353.9h0M328.8 437.6h0M417.9 356.3h0M409.5 369.1h0M351.9 416.2h0M372.7 397.4h0M345.1 423.0h0M360.0 409.0h0M407.9 374.0h0M282.4 478.8h0M328.8 439.9h0M421.3 356.2h0M268.3 492.6h0M380.5 388.6h0M353.5 414.1h0M391.6 386.7h0M326.1 433.6h0M282.8 475.9h0M381.1 395.5h0M316.8 451.1h0M352.9 415.8h0M363.2 408.9h0M418.9 360.1h0M298.4 474.8h0M323.7 435.2h0M326.2 437.1h0M408.3 365.8h0M380.0 394.5h0M332.7 435.4h0M417.0 360.0h0M396.6 373.9h0M400.6 375.5h0M390.7 380.9h0M378.8 393.7h0M412.6 360.8h0M420.8 356.0h0M361.8 405.7h0M343.8 429.1h0M403.4 369.5h0M300.6 464.2h0M322.5 445.6h0M313.8 452.3h0M372.5 403.0h0M354.8 412.4h0M358.2 409.1h0M386.7 390.3h0M314.4 454.6h0M342.0 428.7h0M357.1 414.5h0M397.7 374.5h0M334.2 433.1h0M402.5 376.5h0M325.7 441.6h0M299.8 458.9h0M399.0 371.3h0M293.1 469.8h0M368.9 407.3h0M337.2 435.6h0M289.7 477.6h0M362.8 409.5h0M392.8 377.2h0M295.7 468.7h0M335.0 428.6h0M381.8 389.8h0M338.2 430.0h0M367.0 404.6h0M336.7 433.9h0M287.6 475.3h0M335.5 428.1h0M371.4 398.1h0M270.7 492.0h0M327.7 438.5h0M411.0 363.5h0M340.0 422.0h0M347.9 419.5h0M426.9 350.5h0M304.4 460.3h0M322.2 449.8h0M400.0 375.2h0M379.7 403.4h0M350.3 420.6h0M336.8 427.2h0M301.8 457.5h0M299.0 468.9h0M295.9 470.9h0M416.0 361.4h0M388.6 382.2h0M312.4 450.6h0M307.9 456.0h0M404.7 367.7h0M373.2 401.3h0M362.8 401.6h0M289.8 472.9h0M300.2 464.8h0M320.9 441.4h0M356.9 410.1h0M394.0 384.1h0M348.1 424.2h0M282.1 486.0h0M342.9 430.0h0M360.3 411.9h0M280.1 483.1h0M356.8 421.3h0M398.6 373.0h0M296.3 468.5h0M275.6 487.4h0M324.4 436.8h0M424.0 353.8h0M338.9 430.9h0M401.3 375.7h0M275.6 488.7h0M410.8 366.0h0M272.0 487.6h0M287.9 478.8h0M320.8 441.8h0M367.2 399.3h0M316.7 453.8h0M281.3 481.5h0M333.2 436.1h0M402.0 369.4h0M387.1 390.6h0M281.3 484.5h0M284.9 480.2h0M389.2 389.3h0M293.4 474.6h0M276.7 486.5h0M366.2 403.1h0M354.9 412.8h0M284.9 482.9h0M335.6 432.1h0M325.6 443.2h0M306.1 450.2h0M269.9 492.4h0M424.6 351.3h0M300.5 463.4h0M331.6 436.6h0M354.2 414.9h0M343.0 427.1h0M378.9 388.0h0M294.8 476.7h0M375.4 396.7h0M417.1 357.9h0M362.8 409.0h0M398.5 378.8h0M392.6 379.4h0M283.8 474.8h0M370.5 402.3h0M271.5 486.3h0M416.0 362.2h0M405.7 367.4h0M416.3 363.3h0M272.0 490.4h0M349.8 423.6h0M275.9 489.1h0M292.9 470.5h0M335.2 428.2h0M374.3 388.5h0M426.9 350.9h0M331.6 435.1h0M282.5 483.4h0M401.0 372.9h0M426.4 351.3h0M273.7 491.6h0M419.7 362.4h0M275.5 483.2h0M408.0 364.4h0M281.7 477.4h0M351.2 418.7h0M315.0 451.9h0M303.0 461.8h0M418.0 358.3h0M368.2 399.5h0M364.9 405.6h0M305.1 461.6h0M359.6 402.3h0M415.8 360.0h0M307.4 448.8h0M287.6 472.5h0M317.6 447.6h0M412.5 360.9h0M285.6 478.7h0M341.9 433.2h0M269.0 492.9h0M302.2 459.7h0M398.4 378.0h0M271.7 487.2h0M353.3 422.9h0M317.6 450.7h0M386.5 383.8h0M366.6 399.0h0M366.2 401.0h0M318.7 449.8h0M397.4 374.8h0M325.9 440.0h0M374.8 402.7h0M385.8 389.2h0M330.6 432.3h0M358.4 411.8h0M314.9 454.1h0M305.5 461.6h0M280.5 481.5h0M420.7 355.2h0M284.4 474.5h0M357.2 417.1h0M404.2 368.0h0M341.9 426.5h0M353.4 419.3h0M328.2 440.3h0M280.3 483.4h0M406.3 368.8h0M267.7 492.1h0M372.7 400.3h0M390.5 391.9h0M401.3 373.6h0M421.8 362.2h0M271.7 488.8h0M364.3 410.8h0M389.5 380.4h0M269.6 488.1h0M318.5 450.6h0M340.0 424.4h0M426.5 351.8h0M411.1 370.7h0M320.6 441.8h0M310.9 457.2h0M305.1 459.0h0M383.9 391.2h0M279.0 486.7h0M363.9 409.3h0M282.0 480.1h0M302.4 467.9h0M308.8 461.5h0M304.9 456.7h0M401.7 368.5h0M311.4 459.6h0M330.3 440.2h0M297.3 458.6h0M333.1 436.6h0M305.7 458.9h0M356.4 412.6h0M286.1 475.8h0M353.4 409.6h0M352.6 415.9h0M337.3 429.1h0M377.5 394.8h0M295.7 467.4h0M319.1 456.7h0M323.4 441.4h0M390.6 388.2h0M387.6 378.1h0M358.8 415.1h0M363.1 407.1h0M313.5 455.6h0M356.2 417.1h0M322.5 442.8h0M405.8 366.7h0M370.8 398.8h0M372.4 392.2h0M409.0 367.2h0M335.1 432.6h0M374.1 390.3h0M281.8 483.0h0M368.1 404.0h0M380.0 393.9h0M358.0 407.7h0M293.6 470.6h0M417.3 362.0h0M299.4 461.7h0M401.1 368.9h0M315.3 452.9h0M335.8 436.3h0M374.7 400.1h0M319.7 443.5h0M310.0 463.9h0M385.7 390.8h0M273.1 487.3h0M315.7 456.7h0M310.4 458.0h0M307.3 461.9h0M347.2 423.1h0M331.1 429.2h0M348.1 423.4h0M311.0 452.6h0M304.8 462.0h0M336.5 429.5h0M400.3 373.3h0M335.9 434.2h0M400.6 371.9h0M314.9 446.6h0M277.6 483.8h0M396.6 373.6h0M359.2 412.1h0M415.1 359.0h0M290.9 473.7h0M330.5 433.0h0M320.9 448.7h0M329.2 439.1h0M424.7 352.0h0M313.0 460.6h0M335.3 432.1h0M283.2 477.9h0M420.6 354.4h0M378.8 394.8h0M383.7 388.1h0M311.8 450.2h0M380.9 392.4h0M317.5 454.1h0M372.2 394.1h0M402.9 367.6h0M407.4 373.3h0M403.5 372.6h0M400.4 377.6h0M418.1 357.5h0M383.2 392.4h0M349.2 417.6h0M389.4 386.2h0M329.4 434.4h0M305.3 461.4h0M345.4 426.9h0M416.9 357.5h0M277.7 476.4h0M384.3 391.3h0M396.7 377.1h0M293.4 472.3h0M325.4 441.5h0M320.6 438.0h0M389.1 384.9h0M299.1 460.7h0M353.1 409.5h0M374.2 400.5h0M370.9 405.1h0M375.8 396.5h0M287.6 474.1h0M325.2 438.8h0M308.1 457.6h0M304.8 458.7h0M393.0 380.9h0M382.3 395.3h0M302.9 469.3h0M408.3 364.8h0M358.6 409.8h0M397.4 373.6h0M330.4 432.6h0M384.0 385.7h0M423.9 356.0h0M417.6 355.0h0M274.5 489.2h0M327.2 442.8h0M289.4 474.6h0M408.9 368.3h0M371.2 402.5h0M301.6 467.8h0M278.8 481.3h0M380.0 392.1h0M374.9 397.9h0M290.3 474.4h0M343.9 424.9h0M393.3 376.1h0M272.5 487.4h0M318.4 452.4h0M304.7 461.1h0M315.8 447.5h0M272.1 492.8h0M337.8 424.2h0M288.7 479.4h0M360.1 411.6h0M342.3 428.9h0M412.1 365.1h0M296.1 474.4h0M291.4 476.4h0M308.6 459.6h0M312.6 454.8h0M362.9 407.0h0M336.9 424.4h0M357.6 413.6h0M346.9 415.3h0M286.8 476.6h0M380.6 391.1h0M375.5 396.2h0M418.0 360.2h0M375.7 397.6h0M379.6 397.7h0M355.8 406.7h0M323.7 438.9h0M320.8 447.1h0M341.8 430.5h0M334.6 443.1h0M281.2 482.6h0M280.8 480.7h0M328.9 432.0h0M412.0 370.3h0M336.2 431.8h0M427.2 354.0h0M376.0 403.6h0M408.3 364.8h0M386.7 390.9h0M375.0 394.1h0M398.9 376.6h0M399.8 370.7h0M405.1 374.3h0M377.3 398.7h0M319.7 442.7h0M279.6 484.0h0M314.8 451.8h0M415.0 364.4h0M389.0 384.8h0M368.1 409.4h0M399.3 375.3h0M422.4 355.0h0M364.1 406.9h0M315.4 448.1h0M396.3 379.8h0M306.5 457.6h0M387.5 384.3h0M374.4 397.9h0M333.6 435.9h0M395.6 386.3h0M417.2 357.1h0M397.5 377.3h0M276.4 481.7h0M362.6 409.2h0M282.2 477.4h0M319.7 445.9h0M292.5 468.3h0M327.5 435.8h0M344.0 428.0h0M399.3 373.5h0M311.8 458.1h0M419.5 352.5h0M349.2 421.4h0M409.4 368.3h0M358.4 406.2h0M339.6 426.0h0M363.9 411.8h0M404.7 371.5h0M353.8 413.5h0M418.7 362.1h0M420.4 355.7h0M413.2 361.5h0M297.0 471.9h0M422.5 356.2h0M308.7 459.9h0M374.8 398.6h0M361.8 413.1h0M332.7 436.4h0M406.4 369.8h0M307.6 458.8h0M369.9 396.9h0M333.4 430.8h0M318.1 448.9h0M410.9 363.9h0M352.0 414.4h0M385.8 385.9h0M341.0 424.8h0M323.7 452.1h0M285.0 478.1h0M341.7 430.4h0M285.9 479.4h0M271.7 488.6h0M410.2 364.9h0M293.4 471.9h0M381.6 394.3h0M417.3 357.4h0M373.4 400.2h0M340.9 420.6h0M419.7 358.1h0M310.4 451.0h0M321.8 444.8h0M305.8 460.3h0M420.2 360.9h0M299.5 471.3h0M296.8 467.1h0M271.4 488.1h0M413.2 357.7h0M365.1 399.5h0M417.4 363.3h0M358.9 409.5h0M393.4 382.7h0M310.5 457.2h0M300.9 461.3h0M388.2 383.6h0M299.8 462.5h0M305.5 455.4h0M268.3 493.0h0M343.4 429.0h0M291.3 473.4h0M308.4 462.8h0M347.8 418.1h0M345.4 418.2h0M352.5 419.4h0M333.7 430.5h0M296.4 472.4h0M372.6 399.3h0M419.8 355.8h0M335.3 424.7h0M403.9 367.6h0M306.2 455.5h0M318.4 449.3h0M335.6 436.5h0M294.7 470.8h0M398.6 376.0h0M312.6 459.8h0M374.9 396.3h0M381.6 386.6h0M342.0 419.0h0M266.9 491.0h0M359.4 412.1h0M323.5 437.6h0M409.1 369.3h0M356.2 421.2h0M288.2 475.6h0M378.2 391.1h0M325.4 447.6h0M292.9 467.8h0M404.7 374.0h0M336.9 430.6h0M358.7 412.2h0M378.6 390.6h0M273.1 484.9h0M397.6 383.0h0M410.3 371.6h0M331.2 436.1h0M339.5 425.2h0M335.3 439.6h0M286.2 476.9h0M319.5 441.4h0M368.2 398.2h0M315.2 451.4h0M275.3 490.1h0M412.5 367.9h0M374.5 395.9h0M273.4 488.4h0M306.9 457.0h0M273.7 483.7h0M392.3 382.2h0M356.1 411.7h0M378.0 392.3h0M310.8 450.9h0M374.1 404.3h0M319.6 446.8h0M286.2 480.8h0M322.3 447.8h0M320.6 446.6h0M373.0 406.1h0M303.4 457.5h0M326.0 442.7h0M374.1 396.9h0M302.3 465.4h0M394.9 377.8h0M390.3 383.0h0M397.0 377.1h0M395.0 378.3h0M404.6 373.1h0M414.7 359.0h0M358.4 415.4h0M345.9 429.8h0M344.2 425.3h0M402.6 374.0h0M407.6 370.1h0M371.7 402.3h0M419.0 361.6h0M424.8 355.7h0M313.0 453.2h0M412.2 359.0h0M284.4 476.4h0M318.1 441.1h0M268.4 493.3h0M369.0 400.3h0M324.6 442.6h0M380.7 387.2h0M370.2 402.8h0M417.2 360.7h0M358.1 421.8h0M311.0 456.2h0M307.5 458.6h0M327.1 445.5h0M319.6 447.0h0M324.5 442.3h0M404.6 366.6h0M415.2 357.5h0M327.4 443.1h0M343.1 427.4h0M343.6 431.8h0M330.2 432.5h0M291.0 468.8h0M389.9 385.2h0M323.3 443.7h0M343.0 421.8h0M294.6 473.2h0M388.0 389.7h0M284.9 474.2h0M329.8 438.0h0M389.9 386.2h0M419.2 356.1h0M290.6 467.0h0M380.7 389.0h0M325.7 441.6h0M368.4 406.7h0M375.6 389.3h0M351.9 418.4h0M283.3 480.4h0M358.4 412.2h0M417.3 360.8h0M378.2 398.3h0M288.9 475.6h0M376.8 400.3h0M352.0 409.9h0M349.9 419.9h0M369.5 407.2h0M422.6 360.8h0M291.5 474.2h0M355.0 412.0h0M354.9 414.1h0M299.2 463.7h0M390.4 379.8h0M425.0 353.9h0M298.9 462.2h0M390.1 375.7h0M287.3 478.0h0M345.1 423.9h0M400.0 372.6h0M392.2 382.5h0M413.7 364.7h0M382.1 395.1h0M340.3 432.5h0M398.9 378.1h0M295.1 464.3h0M399.0 379.2h0M292.0 469.2h0M310.0 450.9h0M391.1 383.7h0M390.6 377.1h0M424.6 351.3h0M278.4 486.1h0M348.8 419.4h0M291.1 479.4h0M344.1 417.6h0M317.0 447.7h0M409.1 363.8h0M300.4 463.9h0M323.8 441.6h0M340.5 430.4h0M286.8 479.0h0M289.4 474.2h0M416.0 362.6h0M293.0 473.8h0M327.0 443.8h0M278.2 488.4h0M394.5 383.1h0M365.2 400.2h0M296.1 469.6h0M351.5 414.1h0M382.8 389.4h0M418.9 364.3h0M353.3 411.8h0M374.4 402.2h0M293.9 473.5h0M307.7 459.0h0M414.9 358.3h0M276.3 484.9h0M411.9 367.2h0M294.8 467.1h0M306.3 467.7h0M412.6 361.3h0M314.8 446.5h0M295.7 471.4h0M328.8 432.9h0M393.9 381.1h0M393.6 383.9h0M268.7 490.1h0M393.4 378.7h0M359.3 406.3h0M398.8 377.6h0M368.5 402.7h0M314.4 451.3h0M365.2 408.2h0M337.1 438.0h0M309.9 460.0h0M294.3 469.9h0M400.2 375.2h0M276.0 483.8h0M405.1 365.7h0M375.1 395.2h0M336.4 429.8h0M391.2 376.7h0M349.2 414.9h0M396.9 378.0h0M367.6 402.0h0M408.5 363.8h0M417.8 356.2h0M347.3 417.1h0M372.9 405.8h0M325.2 437.6h0M383.7 391.9h0M360.1 407.1h0M416.7 361.1h0M309.4 455.3h0M307.8 453.5h0M307.4 457.9h0M324.9 436.7h0M371.0 400.7h0M291.6 470.4h0M269.6 487.7h0M267.6 493.0h0M405.1 371.4h0M319.0 451.5h0M417.8 360.0h0M357.4 408.6h0M298.0 461.3h0M422.4 355.5h0M337.6 427.1h0M372.6 400.6h0M312.9 450.5h0M399.4 379.6h0M295.2 464.0h0M296.7 467.8h0M419.4 359.3h0M404.1 374.6h0M283.3 480.2h0M345.3 424.1h0M392.9 383.8h0M297.1 458.3h0M404.2 368.6h0M393.3 375.1h0M340.7 434.5h0M348.7 424.1h0M334.1 436.1h0M275.8 480.5h0M357.7 407.1h0M386.0 387.1h0M312.0 457.3h0M398.2 381.6h0M296.1 470.2h0M282.5 482.1h0M393.4 377.9h0M291.1 469.2h0M278.0 481.9h0M383.7 388.3h0M290.2 476.7h0M313.0 454.4h0M357.4 416.8h0M280.6 477.5h0M344.1 422.9h0M424.2 353.4h0M357.5 414.0h0M316.0 455.4h0M274.6 486.2h0M342.1 429.8h0M389.2 386.7h0M319.3 447.2h0M421.3 352.4h0M412.7 363.9h0M324.6 444.1h0M411.1 362.8h0M414.9 362.1h0M308.4 457.6h0M342.5 428.9h0M402.9 379.6h0M362.6 415.2h0M281.9 480.8h0M314.2 450.4h0M341.9 421.1h0M335.1 426.0h0M415.6 365.4h0M340.2 428.5h0M364.8 403.5h0M348.5 425.1h0M349.1 422.3h0M284.2 482.6h0M409.2 366.6h0M314.0 455.4h0M339.7 432.6h0M377.1 394.0h0M376.1 397.5h0M280.4 476.4h0M304.3 462.9h0M393.9 383.9h0M365.0 406.1h0M281.1 479.8h0M326.5 443.6h0M327.4 429.1h0M384.2 382.8h0M379.7 393.7h0M337.6 434.4h0M272.3 486.7h0M360.9 412.3h0M337.2 429.8h0M380.0 389.5h0M340.5 436.7h0M302.5 462.0h0M410.5 372.0h0M331.6 431.5h0M286.7 468.9h0M276.6 484.9h0M392.3 383.0h0M402.6 377.4h0M368.0 399.3h0M327.2 435.3h0M350.9 418.3h0M411.1 366.6h0M360.1 407.4h0M319.3 447.4h0M394.0 381.1h0M385.1 386.3h0M338.0 428.8h0M384.7 387.6h0M383.5 386.3h0M366.7 405.4h0M424.4 354.5h0M284.7 478.5h0M404.6 369.3h0M351.1 417.5h0M357.0 412.4h0M401.0 379.7h0M355.8 409.9h0M336.8 425.5h0M326.3 441.5h0M288.2 476.8h0M275.8 480.3h0M423.5 352.1h0M362.3 409.9h0M304.9 465.1h0M327.7 438.0h0M275.2 487.4h0M365.3 409.3h0M346.8 421.0h0M336.8 433.1h0M319.1 452.9h0M398.1 373.6h0M341.4 422.7h0M418.9 355.6h0M383.5 388.7h0M404.6 372.6h0M377.7 396.2h0M425.0 353.1h0M301.3 463.9h0M327.9 436.6h0M347.9 418.7h0M419.9 357.2h0M419.4 358.2h0M347.1 427.0h0M406.5 370.4h0M276.5 484.2h0M316.9 448.9h0M420.3 353.4h0M403.3 371.9h0M386.9 384.4h0M395.1 381.6h0M400.4 373.8h0M306.9 452.1h0M289.8 467.8h0M353.5 418.9h0M282.2 478.7h0M422.4 352.9h0M327.7 438.6h0M267.3 490.6h0M359.0 412.8h0M266.6 490.4h0M269.6 489.4h0M384.1 390.0h0M346.1 423.5h0M335.1 432.6h0M390.7 382.6h0M282.0 478.9h0M333.5 427.6h0M332.1 429.0h0M395.4 378.7h0M423.8 350.7h0M272.6 489.4h0M347.9 422.3h0M315.0 443.6h0M396.8 379.3h0M346.3 421.4h0M400.7 370.3h0M418.9 361.6h0M270.1 493.8h0M353.3 423.0h0M415.7 358.5h0M338.5 422.1h0M331.5 434.4h0M411.2 365.7h0M315.0 452.4h0M298.0 465.7h0M272.8 488.2h0M275.5 482.6h0M293.7 470.9h0M411.4 363.9h0M319.0 446.4h0M294.4 469.0h0M306.7 460.0h0M396.6 377.1h0M270.7 491.9h0M365.4 408.2h0M331.9 441.3h0M318.2 439.5h0M416.9 361.8h0M301.2 460.7h0M422.9 352.8h0M338.3 423.8h0M353.4 421.3h0M360.3 406.1h0M383.4 392.9h0M405.5 367.1h0M274.6 489.4h0M324.1 443.4h0M340.2 431.9h0M357.4 414.1h0M328.7 440.8h0M361.0 407.2h0M276.3 483.7h0M366.7 407.7h0M325.3 441.6h0M324.4 444.7h0M316.2 453.2h0M368.6 404.8h0M376.0 395.5h0M333.9 434.8h0M396.0 373.9h0M292.3 469.9h0M270.2 487.1h0M317.6 455.5h0M317.4 447.3h0M421.6 364.3h0M300.5 466.4h0M287.8 480.8h0M307.5 458.3h0M337.2 432.7h0M368.2 406.8h0M291.5 468.8h0M328.5 439.1h0M359.4 411.5h0M411.3 366.1h0M414.2 363.3h0M394.4 383.2h0M348.8 421.4h0M415.5 359.2h0M355.8 409.2h0M421.6 352.4h0M367.8 412.8h0M314.2 447.6h0M352.2 418.3h0M377.1 390.0h0M314.0 455.7h0M415.5 358.6h0M415.0 363.1h0M401.3 375.1h0M367.8 404.3h0M298.0 465.8h0M321.1 447.8h0M345.7 421.2h0M404.6 370.1h0M331.2 434.3h0M363.3 399.1h0M421.1 351.0h0M377.2 396.3h0M361.3 405.8h0M317.2 446.5h0M353.5 412.2h0M300.2 454.1h0M372.8 396.3h0M369.6 394.1h0M323.0 438.9h0M313.4 455.4h0M391.9 383.3h0M321.4 442.5h0M374.6 398.3h0M316.9 448.7h0M369.2 402.2h0M353.5 416.5h0M276.9 484.8h0M284.7 475.5h0M310.8 452.5h0M332.2 437.7h0M343.5 426.2h0M390.7 392.0h0M312.0 451.5h0M398.1 380.1h0M318.4 451.8h0M321.0 448.7h0M295.9 464.4h0M332.0 435.8h0M378.9 393.6h0M324.6 439.1h0M303.8 459.1h0M374.2 400.7h0M339.0 434.6h0M393.7 382.3h0M279.2 486.6h0M320.4 448.5h0M306.4 465.5h0M353.0 414.4h0M302.7 455.5h0M355.2 415.5h0M296.8 465.5h0M271.0 488.0h0M421.0 355.0h0M337.3 430.3h0M278.0 485.3h0M317.3 446.8h0M310.4 452.5h0M326.5 439.8h0M403.4 371.0h0M309.0 457.0h0M391.3 376.8h0M277.0 483.5h0M348.1 418.2h0M311.0 452.7h0M392.7 379.2h0M347.6 420.3h0M277.2 479.9h0M279.2 482.7h0M363.9 400.9h0M376.5 398.9h0M398.0 385.5h0M338.4 426.3h0M391.1 380.3h0M386.1 390.4h0M383.3 393.7h0M272.6 490.4h0M272.8 488.4h0M353.8 416.5h0M365.5 407.2h0M355.3 407.6h0M266.7 492.8h0M316.4 448.8h0M290.7 469.7h0M306.6 461.5h0M427.0 350.8h0M334.4 429.9h0M333.0 438.8h0M283.4 479.7h0M279.3 482.2h0M328.0 438.1h0M345.3 423.2h0M380.7 392.9h0M377.8 386.3h0M320.1 451.8h0M294.3 463.8h0M364.8 408.1h0M347.9 422.4h0M414.4 366.1h0M282.2 482.4h0M373.5 398.5h0M276.5 487.4h0M306.1 464.6h0M410.8 365.7h0M351.3 421.3h0M380.0 400.5h0M352.5 416.7h0M353.5 422.3h0M308.8 464.8h0M401.0 372.8h0M349.8 418.0h0M374.2 399.9h0M371.5 403.9h0M356.9 410.3h0M362.4 414.8h0M303.0 471.5h0M390.4 384.6h0M281.7 475.5h0M400.1 368.4h0M364.2 401.5h0M345.7 423.0h0M291.9 472.4h0M277.9 481.4h0M326.3 438.8h0M413.1 361.6h0M284.0 477.8h0M370.8 403.0h0M404.4 369.0h0M370.4 400.4h0M392.2 380.0h0M415.3 358.5h0M354.2 419.2h0M283.7 480.5h0M327.7 438.0h0M368.5 408.8h0M398.3 370.6h0M282.1 481.2h0M337.1 432.2h0M426.4 352.3h0M312.2 456.9h0M341.2 431.3h0M406.5 362.3h0M380.3 394.2h0M268.3 490.5h0M337.4 429.6h0M344.7 423.7h0M269.1 491.3h0M343.5 431.4h0M276.2 482.6h0M359.9 411.2h0M310.9 451.4h0M357.9 413.3h0M334.0 441.1h0M308.7 455.5h0M350.7 422.3h0M390.6 385.6h0M288.5 470.2h0M278.5 482.7h0M274.3 485.6h0M295.1 471.4h0M328.1 436.8h0M386.8 381.2h0M402.4 369.2h0M325.0 441.7h0M423.7 358.0h0M272.3 491.7h0M407.3 368.7h0M346.9 433.3h0M387.2 385.9h0M274.7 485.6h0M284.3 475.9h0M378.8 390.1h0M278.3 481.7h0M405.0 366.3h0M365.4 410.1h0M361.0 414.1h0M400.4 370.6h0M356.8 413.3h0M413.3 360.6h0M273.4 488.9h0M330.5 437.8h0M285.3 483.9h0M387.1 387.2h0M305.1 456.2h0M382.8 397.1h0M403.0 371.4h0M276.1 484.4h0M267.2 490.0h0M293.0 465.3h0M306.8 461.9h0M372.3 404.9h0M397.5 370.0h0M284.6 479.6h0M331.5 436.2h0M355.7 414.3h0M324.7 438.8h0M364.3 405.3h0M404.2 376.6h0M290.8 475.0h0M423.9 353.8h0M286.3 470.5h0M378.2 389.1h0M383.5 392.9h0M337.0 430.1h0M395.0 376.2h0M406.0 372.0h0M360.3 410.8h0M267.5 494.2h0M277.8 487.8h0M412.1 363.3h0M392.0 384.2h0M378.8 388.8h0M331.2 424.4h0M392.4 381.5h0M395.5 374.3h0M415.5 357.3h0M387.2 388.0h0M362.2 410.8h0M352.8 411.4h0M278.4 485.2h0M359.8 413.4h0M384.5 393.1h0M377.9 398.0h0M267.7 490.2h0M307.4 447.0h0M373.1 396.0h0M298.0 468.6h0M287.5 473.8h0M311.3 452.7h0M355.9 416.6h0M341.3 431.2h0M317.5 449.5h0M402.5 373.4h0M422.3 356.2h0M307.1 459.7h0M413.7 359.9h0M365.7 403.8h0M307.5 458.4h0M361.8 408.6h0M302.3 461.6h0M323.8 440.8h0M343.9 423.5h0M267.6 492.6h0M284.6 478.3h0M273.3 487.8h0M417.1 360.6h0M331.8 437.6h0M266.4 491.1h0M382.1 388.2h0M356.0 406.1h0M341.3 432.0h0M328.0 432.7h0M315.2 450.0h0M373.7 401.7h0M343.2 421.9h0M392.1 383.7h0M367.7 400.2h0M349.9 417.2h0M298.4 464.8h0M274.5 488.9h0M419.4 355.5h0M386.8 388.9h0M314.0 449.1h0M319.6 446.0h0M284.9 478.0h0M303.6 458.6h0M282.6 480.8h0M346.3 417.1h0M327.7 438.0h0M278.2 483.4h0M350.0 424.7h0M310.3 454.5h0M363.4 403.6h0M397.7 379.9h0M312.1 451.2h0M395.1 372.1h0M347.0 421.3h0M268.8 488.4h0M375.0 396.3h0M418.5 353.8h0M271.2 490.4h0M397.8 379.2h0M425.4 356.0h0M326.2 440.2h0M411.5 369.5h0M300.8 463.2h0M383.1 386.4h0M292.0 469.7h0M374.5 385.5h0M322.4 439.1h0M306.2 456.0h0M357.5 411.5h0M405.5 369.6h0M371.4 402.4h0M388.7 388.9h0M356.1 413.0h0M340.7 421.9h0M400.5 374.6h0M336.7 432.4h0M284.1 478.3h0M302.2 462.8h0M306.9 454.1h0M398.8 373.4h0M376.7 395.3h0M417.2 360.4h0M314.9 450.6h0M426.1 353.6h0M326.8 442.6h0M277.7 482.0h0M270.5 486.6h0M340.0 432.8h0M405.1 362.7h0M296.3 465.1h0M414.9 360.2h0M281.2 481.2h0M370.4 402.4h0M360.9 409.5h0M322.7 441.9h0M393.2 381.8h0M400.8 375.4h0M313.5 446.0h0M326.0 434.6h0M366.5 401.8h0M270.3 492.1h0M287.4 471.9h0M269.1 492.6h0M296.0 475.0h0M269.0 488.8h0M329.2 436.7h0M291.3 469.3h0M418.4 358.6h0M413.0 366.3h0M400.6 373.2h0M347.9 423.0h0M394.3 385.3h0M385.5 388.6h0M427.1 351.1h0M390.0 386.7h0M426.1 353.6h0M401.1 372.4h0M413.3 363.8h0M272.6 491.5h0M325.8 444.2h0M394.9 380.5h0M321.0 442.2h0M293.9 467.1h0M356.4 416.0h0M374.9 398.2h0M398.6 378.4h0M270.4 492.1h0M372.7 398.9h0M340.3 425.2h0M367.4 399.9h0M381.3 393.4h0M394.5 376.6h0M386.7 391.0h0M398.0 376.0h0M389.9 389.4h0M409.9 364.7h0M408.0 372.1h0M276.6 489.6h0M298.3 464.5h0M298.4 470.4h0M298.5 465.1h0M389.6 380.8h0M420.0 359.8h0M368.2 399.7h0M401.0 375.0h0M366.9 411.8h0M380.8 393.2h0M362.8 409.3h0M384.8 388.0h0M408.4 372.0h0M349.2 413.7h0M366.5 400.9h0M424.1 353.1h0M310.2 460.0h0M269.3 491.1h0M291.5 471.9h0M290.6 472.7h0M350.9 416.7h0M275.0 493.5h0M416.0 363.2h0M337.6 427.1h0M422.8 352.2h0M400.2 372.4h0M401.4 378.9h0M422.2 356.1h0M377.4 390.6h0M319.3 450.7h0M279.5 479.3h0M413.7 358.4h0M418.0 367.2h0M299.0 462.5h0M289.4 476.4h0M301.1 464.6h0M278.1 483.1h0M352.6 415.4h0M288.4 477.8h0M386.7 386.1h0M312.6 449.8h0M337.5 427.0h0M278.5 486.2h0M299.6 463.1h0M361.0 407.1h0M355.1 415.4h0M319.9 447.0h0M323.4 446.1h0M274.8 489.7h0M329.6 441.4h0M406.0 374.5h0M361.5 414.7h0M331.9 438.4h0M322.8 444.0h0M269.7 494.2h0M283.7 477.3h0M414.7 360.2h0M422.5 352.4h0M395.7 378.5h0M375.5 399.8h0M334.5 433.2h0M310.4 453.7h0M274.6 490.5h0M358.9 414.6h0M357.0 413.4h0M377.5 398.0h0M327.6 442.8h0M304.0 464.2h0M344.1 423.8h0M387.3 383.8h0M419.4 359.8h0M393.3 379.5h0M381.6 385.9h0M351.3 424.9h0M424.4 352.1h0M339.4 430.8h0M420.8 353.8h0M305.1 460.0h0M385.6 395.0h0M276.2 489.0h0M316.8 446.2h0M398.0 374.0h0M348.5 425.9h0M363.6 405.9h0M361.5 403.4h0M334.4 437.2h0M375.2 397.9h0M408.0 368.6h0M376.0 401.4h0M419.5 360.0h0M379.7 400.1h0M311.1 454.6h0M397.1 375.1h0M373.0 394.3h0M412.6 364.0h0M277.4 483.3h0M281.8 475.5h0M281.8 486.4h0M410.2 370.9h0M342.3 420.3h0M316.2 458.6h0M402.8 371.7h0M335.1 427.7h0M397.4 374.2h0M299.0 468.8h0M338.8 429.9h0M392.6 383.3h0M415.6 359.7h0M280.8 482.4h0M326.3 448.6h0M321.8 441.1h0M307.9 452.1h0M393.9 380.5h0M376.1 393.5h0M394.2 379.2h0M316.7 449.8h0M327.6 440.9h0M412.9 365.6h0M316.4 448.1h0M291.2 471.6h0M344.2 423.9h0M340.6 432.1h0M381.5 390.0h0M371.9 400.7h0M281.4 473.4h0M332.1 432.9h0M285.2 477.3h0M349.4 429.8h0M327.2 435.6h0M349.4 418.7h0M355.3 410.4h0M373.5 399.4h0M422.0 354.8h0M412.1 365.9h0M303.0 465.3h0M319.8 447.5h0M412.5 367.3h0M275.3 486.0h0M362.6 415.8h0M327.9 442.6h0M421.7 355.0h0M340.1 429.2h0M417.4 358.5h0M320.6 448.0h0M415.5 366.3h0M304.3 459.2h0M369.7 412.2h0M298.7 465.1h0M357.0 403.8h0M341.7 433.9h0M400.8 372.2h0M276.7 486.9h0M415.9 359.9h0M313.1 450.9h0M395.0 378.5h0M287.0 473.8h0M367.2 398.4h0M399.0 374.1h0M348.8 417.0h0M397.1 377.5h0M351.7 425.9h0M268.8 491.2h0M306.0 452.6h0M309.8 454.0h0M330.7 440.8h0M363.7 404.7h0M415.7 358.6h0M417.3 363.3h0M291.3 475.4h0M304.1 453.0h0M356.7 412.9h0M276.7 485.2h0M319.9 448.6h0M269.1 491.5h0M331.3 430.7h0M347.2 427.5h0M276.2 481.3h0M290.6 477.7h0M346.7 423.2h0M372.3 395.0h0M423.7 350.6h0M389.5 382.9h0M410.4 362.4h0M419.4 357.1h0M313.0 448.2h0M363.0 410.1h0M270.4 492.2h0M327.9 430.8h0M375.4 404.6h0M358.2 415.8h0M296.7 463.1h0M373.2 393.2h0M283.9 477.5h0M327.1 436.2h0M290.1 467.1h0M277.1 480.5h0M354.4 411.0h0M375.1 397.4h0M311.2 456.4h0M346.2 428.4h0M355.3 409.8h0M355.0 416.3h0M290.5 464.7h0M335.8 435.6h0M342.3 423.4h0M292.8 460.3h0M307.4 454.9h0M323.2 446.9h0M354.0 421.0h0M405.6 370.3h0M331.5 432.1h0M341.9 426.2h0M396.6 376.0h0M340.1 431.2h0M285.1 478.2h0M333.6 431.4h0M324.1 438.1h0M408.7 365.5h0M380.3 391.0h0M339.3 433.0h0M408.1 364.7h0M278.1 481.3h0M266.3 491.1h0M279.6 484.5h0M339.8 432.1h0M275.6 491.2h0M409.8 367.0h0M351.4 411.5h0M396.5 372.3h0M396.9 377.6h0M401.2 376.8h0M350.5 428.1h0M357.7 415.9h0M304.5 458.0h0M348.0 420.3h0M371.9 399.2h0M318.3 445.5h0M423.0 352.4h0M343.4 426.2h0M380.0 397.5h0M271.2 488.7h0M365.3 403.4h0M278.3 484.9h0M334.6 434.7h0M352.2 414.6h0M320.8 441.3h0M373.0 406.6h0M341.7 425.6h0M317.6 452.0h0M322.1 441.2h0M294.0 466.9h0M416.9 359.7h0M279.8 483.7h0M407.4 368.2h0M275.1 484.8h0M372.3 398.8h0M373.2 396.5h0M412.3 364.5h0M306.6 458.1h0M318.1 444.7h0M269.6 490.3h0M333.5 434.1h0M393.8 380.0h0M293.8 474.4h0M301.5 461.7h0M314.1 444.3h0M288.1 474.6h0M276.4 481.8h0M286.5 482.8h0M409.8 368.2h0M348.0 412.2h0M358.0 413.8h0M365.6 402.5h0M283.7 475.7h0M283.2 471.6h0M376.0 397.2h0M304.9 457.0h0M424.4 350.6h0M286.4 468.5h0M386.2 387.0h0M293.7 472.1h0M426.3 350.9h0M273.1 488.6h0M273.5 488.4h0M294.3 469.8h0M357.7 410.7h0M281.7 484.2h0M358.4 409.1h0M314.1 452.4h0M304.8 464.4h0M395.8 380.8h0M351.7 421.4h0M303.6 460.1h0M412.7 363.7h0M353.3 423.2h0M275.2 479.4h0M396.2 378.8h0M360.9 406.8h0M343.2 423.5h0M334.2 431.7h0M396.5 378.3h0M333.3 431.4h0M338.9 432.2h0M273.4 489.1h0M424.6 351.9h0M289.0 473.9h0M305.0 459.5h0M315.3 450.8h0M334.0 429.8h0M309.4 450.2h0M303.8 454.7h0M343.3 425.3h0M367.0 406.1h0M305.0 457.1h0M322.6 445.2h0M422.9 355.1h0M359.5 413.0h0M395.0 377.7h0M390.9 379.2h0M298.8 465.7h0M419.3 360.0h0M366.5 393.6h0M283.9 483.0h0M277.1 482.8h0M375.3 396.5h0M276.2 485.2h0M377.0 396.6h0M359.5 404.4h0M301.2 457.8h0M273.7 489.3h0M400.7 372.7h0M344.7 425.7h0M390.1 382.5h0M379.0 398.0h0M342.4 426.6h0M413.4 361.6h0M344.4 430.9h0M379.6 395.8h0M320.1 443.3h0M347.6 414.6h0M332.7 440.8h0M307.0 463.8h0M329.5 444.8h0M329.1 439.2h0M416.1 358.3h0M406.4 372.9h0M346.2 419.0h0M384.9 385.6h0M339.7 425.8h0M405.2 371.0h0M370.2 402.8h0M271.9 494.2h0M331.3 438.9h0M330.5 442.1h0M347.5 424.4h0M291.2 472.2h0M315.1 446.8h0M341.0 430.3h0M415.3 363.2h0M294.3 473.2h0M410.9 362.5h0M333.3 433.7h0M390.9 381.0h0M379.0 393.9h0M373.6 399.2h0M302.3 461.2h0M318.2 449.8h0M357.1 413.1h0M319.8 447.5h0M337.5 435.8h0M296.7 469.6h0M385.1 385.6h0M274.3 488.1h0M276.4 483.2h0M405.6 373.3h0M362.4 411.5h0M386.6 383.0h0M394.8 383.6h0M302.0 463.9h0M386.6 382.5h0M336.7 428.6h0M277.1 485.1h0M417.4 358.0h0M362.7 406.9h0M360.5 411.5h0M381.7 394.8h0M416.4 360.3h0M393.7 378.5h0M309.6 461.7h0M391.8 387.8h0M380.0 392.5h0M280.6 480.6h0M344.6 425.6h0M342.4 423.5h0M351.3 422.3h0M339.8 431.6h0M308.0 457.1h0M389.8 382.0h0M420.1 358.4h0M379.6 396.3h0M321.8 443.5h0M375.7 401.1h0M392.4 378.2h0M416.9 359.4h0M274.6 489.4h0M397.5 372.2h0M315.9 449.1h0M348.5 428.6h0M280.8 480.5h0M414.0 363.2h0M321.0 437.9h0M350.1 421.2h0M370.4 396.7h0M380.1 394.3h0M276.4 488.2h0M400.8 372.1h0M398.2 377.6h0M323.6 448.5h0M311.8 446.6h0M343.0 424.4h0M299.0 463.8h0M331.9 433.7h0M414.9 361.3h0M318.0 449.7h0M288.9 477.3h0M341.2 420.5h0M299.4 460.7h0M278.0 484.6h0M384.4 395.0h0M285.4 485.0h0M310.7 456.0h0M364.0 406.0h0M389.8 382.0h0M301.3 462.1h0M355.5 415.6h0M310.3 455.8h0M371.3 406.8h0M271.7 486.6h0M296.2 466.0h0M287.1 475.2h0M414.1 361.9h0M310.3 456.0h0M353.9 418.6h0M273.0 488.1h0M327.4 437.5h0M334.8 443.7h0M275.0 486.8h0M373.7 397.2h0M426.6 352.6h0M314.2 454.5h0M270.8 491.0h0M389.4 381.7h0M421.5 351.4h0M274.8 486.4h0M358.6 412.8h0M344.1 423.9h0M402.3 375.8h0M395.6 373.1h0M350.2 419.7h0M378.3 395.9h0M389.3 382.7h0M361.1 409.5h0M413.6 362.7h0M370.7 406.0h0M374.4 392.8h0M323.0 445.0h0M277.3 488.1h0M299.7 463.8h0M359.2 413.6h0M406.2 367.1h0M403.0 369.6h0M397.4 375.3h0M317.4 448.4h0M269.3 489.4h0M302.5 461.8h0M287.4 476.9h0M425.1 353.7h0M316.6 441.7h0M377.5 388.8h0M302.0 461.4h0M396.1 384.0h0M374.7 390.9h0M352.5 411.9h0M288.4 469.9h0M373.6 393.3h0M326.5 441.5h0M349.3 420.9h0M306.6 461.4h0M343.7 433.7h0M270.1 491.9h0M275.7 479.2h0M375.5 393.8h0M420.2 358.2h0M282.3 478.0h0M402.1 371.4h0M418.9 360.8h0M322.4 437.5h0M321.9 443.8h0M269.8 492.3h0M327.7 443.7h0M425.5 351.0h0M280.5 477.5h0M272.7 487.0h0M388.0 386.6h0M311.8 453.3h0M362.9 402.7h0M292.6 474.7h0M329.3 438.6h0M275.0 483.7h0M352.5 416.2h0M331.2 434.3h0M309.0 459.6h0M341.3 419.2h0M393.3 383.9h0M283.1 478.8h0M304.4 464.8h0M314.4 451.7h0M292.5 475.8h0M299.8 462.1h0M377.4 393.4h0M380.8 394.7h0M286.8 479.2h0M397.9 382.7h0M284.1 474.1h0M389.2 383.5h0M415.8 357.3h0M351.2 416.5h0M276.0 482.7h0M294.1 468.7h0M348.8 420.9h0M302.5 460.7h0M380.5 394.4h0M330.7 442.1h0M321.9 439.5h0M371.4 396.6h0M395.0 382.4h0M421.6 355.8h0M267.1 492.4h0M425.4 354.4h0M279.9 479.9h0M364.4 406.5h0M390.1 381.2h0M288.4 475.3h0M420.2 357.5h0M305.2 461.7h0M353.1 409.3h0M347.7 412.4h0M306.4 455.6h0M380.5 390.4h0M335.6 438.5h0M389.3 380.0h0M286.0 468.7h0M292.7 473.6h0M416.9 361.8h0M282.8 472.4h0M352.7 415.1h0M314.2 447.6h0M272.3 486.6h0M381.8 389.3h0M314.4 453.1h0M359.6 407.9h0M399.1 377.7h0M274.7 486.1h0M304.7 463.7h0M356.1 414.2h0M390.0 384.3h0M283.2 476.9h0M345.9 423.1h0M367.0 407.0h0M410.0 366.7h0M384.6 384.3h0M281.6 481.1h0M341.5 425.7h0M281.5 479.0h0M412.5 362.8h0M355.2 420.1h0M338.7 424.0h0M331.4 440.6h0M367.6 411.5h0M425.4 351.0h0M408.7 366.2h0M336.2 433.2h0M423.1 359.9h0M342.7 427.0h0M426.0 352.7h0M356.4 422.9h0M312.5 454.4h0M354.6 422.0h0M421.8 356.8h0M290.6 471.3h0M384.7 383.5h0M385.2 387.2h0M422.5 358.2h0M314.5 449.8h0M280.8 486.2h0M324.5 439.8h0M364.5 412.4h0M319.5 448.9h0M313.8 443.0h0M324.3 440.4h0M300.6 462.2h0M344.4 431.5h0M271.4 493.0h0M348.3 419.2h0M288.1 476.5h0M402.4 373.3h0M416.8 358.3h0M372.9 398.0h0M319.1 454.5h0M318.2 447.5h0M407.4 365.1h0M362.1 406.3h0M331.9 433.9h0M301.2 464.9h0M335.0 443.6h0M315.6 446.6h0M306.1 462.4h0M289.2 468.9h0M286.3 473.8h0M405.1 375.4h0M347.4 420.0h0M419.2 357.9h0M392.5 377.0h0M418.3 363.4h0M278.2 482.3h0M384.6 393.8h0M280.2 485.8h0M340.8 432.9h0M282.5 475.5h0M292.1 467.4h0M419.3 355.7h0M290.0 475.5h0M285.5 480.0h0M346.0 423.2h0M333.4 438.1h0M282.2 477.8h0M323.8 446.1h0M317.6 452.0h0M297.3 463.8h0M321.4 441.9h0M372.5 402.9h0M394.5 379.1h0M289.3 470.8h0M321.7 448.2h0M398.2 373.9h0M398.3 375.1h0M278.3 482.4h0M290.3 473.0h0M324.7 437.8h0M284.9 475.2h0M412.0 364.8h0M325.7 437.8h0M386.1 387.0h0M343.6 421.1h0M328.6 432.8h0M382.4 385.6h0M364.2 406.0h0M421.5 354.9h0M328.3 439.5h0M375.6 395.7h0M403.3 369.1h0M320.9 444.5h0M339.5 427.8h0M312.8 452.9h0M359.1 416.0h0M319.4 445.6h0M423.1 358.7h0M288.8 476.5h0M376.7 403.6h0M376.6 396.5h0" stroke="#afafaf" stroke-width="1.4" stroke-linecap="round"/>
<path d="M325.1 431.2h0M339.8 419.7h0M352.7 407.7h0M331.7 416.6h0M325.1 423.0h0M333.0 444.1h0M357.1 396.1h0M337.2 439.9h0M314.4 442.3h0M377.5 404.0h0M364.4 421.2h0M334.1 424.4h0M312.8 439.1h0M314.7 419.3h0M348.3 406.9h0M359.8 396.2h0M301.9 453.1h0M341.1 413.1h0M373.9 409.6h0M278.4 493.3h0M401.0 395.2h0M346.3 409.1h0M359.8 421.0h0M341.9 440.4h0M334.7 448.2h0M337.9 450.8h0M386.5 395.2h0M356.1 402.0h0M348.9 410.5h0M318.3 438.6h0M356.0 402.8h0M331.9 416.7h0M302.3 446.2h0M333.3 422.9h0M323.7 455.5h0M347.6 431.6h0M344.0 413.0h0M331.7 423.7h0M317.9 424.2h0M268.5 469.5h0M386.3 378.1h0M332.9 425.3h0M377.3 382.9h0M352.5 426.0h0M325.6 432.6h0M391.6 368.0h0M317.3 458.0h0M374.8 407.7h0M366.3 420.9h0M356.7 403.8h0M344.2 385.7h0M354.3 406.9h0M378.3 405.6h0M340.9 413.6h0M360.8 421.0h0M365.7 416.0h0M355.1 426.7h0M296.7 486.5h0M361.0 420.1h0M347.9 407.4h0M349.7 432.6h0M383.2 377.5h0M341.6 407.1h0M379.3 409.1h0M352.2 427.9h0M333.5 415.2h0M338.3 438.7h0M325.3 455.8h0M375.5 408.3h0M357.7 424.3h0M353.7 429.3h0M352.3 406.3h0M325.0 451.0h0M372.8 431.0h0M364.8 396.8h0M336.0 442.4h0M346.2 435.3h0M353.0 403.1h0M352.7 428.1h0M365.8 414.6h0M363.9 358.5h0M353.1 430.6h0M337.4 443.6h0M396.3 393.6h0M328.1 426.4h0M382.7 382.1h0M329.1 425.0h0M329.1 465.2h0M304.5 452.1h0M367.7 416.1h0M334.9 442.5h0M359.2 421.4h0M338.9 414.9h0M326.5 423.0h0M366.2 393.7h0M323.2 452.8h0M372.8 417.6h0M362.6 421.1h0M388.9 394.1h0M332.0 425.2h0M393.4 392.4h0M349.9 431.4h0M312.7 468.7h0M341.5 436.5h0M300.5 476.7h0M367.8 391.9h0M352.8 426.7h0M364.2 426.0h0M372.8 410.6h0M344.0 410.6h0M331.5 444.6h0M330.7 427.0h0M384.1 402.1h0M322.1 428.3h0M346.8 431.1h0M321.3 424.4h0M361.5 418.1h0M395.5 389.0h0M349.8 410.0h0M361.2 400.3h0M342.9 416.5h0M359.7 397.0h0M320.2 454.6h0M276.1 473.5h0M398.6 394.3h0M366.3 414.0h0M324.6 451.4h0M328.7 423.0h0M380.2 379.9h0M334.4 423.8h0M334.5 449.3h0M347.0 412.4h0M358.1 424.1h0M425.4 367.9h0M356.1 432.4h0M319.6 427.6h0M363.6 416.4h0M345.5 433.7h0M319.4 434.7h0M359.9 420.1h0M334.1 421.5h0M343.4 414.2h0M358.4 422.6h0M312.2 439.6h0M353.2 408.0h0M338.5 413.7h0M335.9 442.4h0M353.4 402.3h0M352.4 405.9h0M340.1 418.7h0M338.9 445.2h0M378.2 386.0h0M358.6 401.3h0M352.2 432.6h0M352.2 399.5h0M404.4 379.9h0M374.0 384.4h0M299.4 484.2h0M332.0 423.6h0M313.5 460.8h0M308.2 402.4h0M341.0 417.0h0M355.0 397.3h0" stroke="#2145a5" stroke-width="2.0" stroke-linecap="round"/>
<path d="M330.1 448.3h0M322.6 462.0h0M345.7 433.6h0M395.7 391.9h0M402.6 388.2h0M318.9 437.5h0M310.0 440.9h0M298.8 477.4h0M387.2 397.6h0M310.9 466.9h0M318.9 437.7h0M355.5 463.7h0M334.6 386.0h0M373.6 448.9h0M391.4 392.5h0M309.4 442.4h0M366.8 435.2h0M319.4 429.1h0M311.4 472.6h0M313.9 461.6h0M363.6 391.1h0M312.3 440.0h0M404.2 399.0h0M314.2 423.0h0M390.3 370.4h0M311.4 439.7h0M329.6 451.2h0M376.9 384.3h0M401.6 397.2h0M402.4 387.0h0M388.3 375.0h0M319.5 456.6h0M373.9 414.0h0M390.2 405.8h0M329.7 423.0h0M351.7 433.1h0M388.0 449.6h0M423.0 365.3h0M394.5 390.5h0M341.2 445.2h0M323.6 429.0h0M399.2 387.7h0M351.5 438.0h0M424.0 462.2h0M344.0 413.9h0M348.8 409.4h0M356.0 424.6h0M389.0 357.6h0M377.9 405.2h0M378.8 403.6h0M332.3 447.2h0M357.7 429.9h0M346.9 412.1h0M372.5 427.9h0M360.8 393.1h0M301.9 399.7h0M322.9 460.7h0M381.0 405.1h0M343.7 448.7h0M326.8 449.8h0M313.7 395.9h0M357.2 401.4h0M331.7 419.9h0" stroke="#e51e2b" stroke-width="2.0" stroke-linecap="round"/>
<path d="M375.4 407.3h0M351.0 409.3h0M306.1 446.5h0M337.5 414.8h0M350.8 436.6h0M315.3 439.0h0M343.7 406.9h0M358.0 396.0h0M322.7 433.4h0M353.1 407.8h0M335.4 441.1h0M364.7 372.2h0M328.7 447.7h0M330.4 445.6h0M357.1 394.5h0M323.5 434.5h0M358.8 397.2h0M399.3 385.7h0M374.0 389.6h0M325.2 431.8h0M328.4 408.5h0M327.8 450.7h0M313.2 463.6h0M340.3 441.1h0M361.3 423.6h0M391.7 405.5h0M357.7 421.7h0M342.4 414.4h0M364.4 387.4h0M333.1 459.9h0M351.8 408.3h0M358.6 400.3h0M377.8 385.1h0M369.7 410.8h0M337.6 420.5h0M341.9 417.2h0M377.6 382.3h0M358.7 421.2h0M381.4 375.8h0M410.5 353.2h0M339.6 418.0h0M354.0 432.1h0M376.2 404.5h0M340.4 444.5h0M348.1 411.6h0M348.4 412.0h0M382.7 411.8h0M368.6 413.2h0M351.4 427.7h0M347.8 431.3h0M303.1 449.3h0M321.9 431.1h0M376.5 382.2h0M366.4 389.1h0M355.1 432.6h0M324.5 403.1h0M397.8 390.0h0M358.1 431.3h0M358.0 425.3h0M383.3 380.4h0M335.5 421.6h0M379.8 403.0h0M361.4 422.0h0M398.8 389.2h0M307.3 449.4h0M340.9 417.6h0M350.9 429.2h0M330.9 424.0h0M369.9 419.1h0M344.8 440.2h0M327.5 458.5h0M352.2 442.1h0M323.6 434.0h0M345.3 413.6h0M340.2 440.4h0M343.4 409.1h0M368.6 417.8h0M348.2 440.7h0M386.0 398.1h0M355.6 423.3h0M297.5 456.8h0M358.1 429.3h0M380.4 417.0h0M388.2 371.9h0M412.6 351.7h0M322.5 431.3h0M336.7 446.4h0M349.0 435.8h0M361.7 390.9h0M323.4 430.8h0M392.6 391.9h0M301.4 446.5h0M307.9 444.3h0M333.5 461.6h0M355.8 431.5h0M359.2 420.2h0M342.3 414.2h0M365.9 416.6h0M330.0 428.3h0M328.6 416.1h0M401.8 399.1h0M388.4 396.9h0M369.9 421.4h0M333.3 445.0h0M323.3 405.1h0M307.6 468.4h0M352.1 405.9h0M347.1 409.6h0M352.0 408.1h0M374.1 406.7h0M343.5 436.5h0M376.3 410.4h0M324.5 431.6h0M350.8 435.9h0M343.9 444.9h0M375.6 407.4h0M351.4 430.9h0M334.1 424.1h0M344.6 410.3h0M286.6 460.2h0M343.1 416.4h0M317.7 435.2h0M274.9 475.3h0M338.6 418.7h0M327.0 450.4h0M348.4 429.8h0M324.2 430.3h0M343.1 440.0h0M314.7 441.7h0M350.8 404.8h0M307.3 449.1h0M339.0 419.0h0M346.4 396.0h0M346.6 431.9h0M332.6 417.3h0M346.2 432.1h0M322.2 457.5h0M350.4 403.5h0M326.8 430.8h0M374.5 387.0h0M317.7 437.5h0M322.2 453.7h0M410.1 351.1h0M416.6 375.4h0M315.8 460.3h0M354.8 395.7h0M363.7 424.5h0M315.6 438.6h0M349.6 408.5h0M329.6 422.7h0M338.0 417.4h0M317.5 431.8h0M356.0 404.1h0M319.3 458.0h0M351.5 433.8h0M340.2 418.2h0M331.5 446.1h0M337.2 421.4h0M416.9 400.8h0M353.3 407.4h0M318.7 460.2h0M333.2 425.0h0M342.5 412.3h0M363.6 398.6h0M322.2 434.5h0M404.2 390.4h0M337.2 418.1h0M336.5 422.8h0M345.2 404.3h0M339.1 439.6h0" stroke="#2145a5" stroke-width="2.0" stroke-linecap="round"/>
<path d="M346.8 411.6h0M328.4 421.7h0M381.0 404.7h0M406.5 383.7h0M327.7 426.4h0M301.8 474.7h0M375.5 408.8h0M352.4 405.7h0M351.0 433.5h0M380.3 382.8h0M373.2 409.7h0M424.0 393.1h0M347.0 410.1h0M354.3 426.3h0M348.7 431.1h0M312.6 463.0h0M395.8 389.5h0M306.3 443.8h0M295.6 447.9h0M320.3 387.0h0M384.2 375.8h0M365.7 420.5h0M337.9 443.2h0M339.5 448.1h0M396.4 395.8h0M325.7 431.4h0M357.9 397.9h0M308.4 484.1h0M334.9 417.3h0M320.5 434.8h0M341.5 467.3h0M349.0 393.9h0M377.1 408.6h0M302.2 480.0h0M327.8 450.8h0M294.9 437.3h0M336.1 419.7h0M363.3 417.9h0M303.9 446.7h0M316.1 437.3h0M357.6 456.7h0M321.5 427.9h0M337.4 452.6h0M351.5 403.3h0M347.5 393.2h0M371.8 356.0h0M345.2 443.1h0M332.7 416.7h0M332.3 464.2h0M313.1 434.6h0M393.6 367.0h0M322.8 413.0h0M292.6 460.3h0M372.2 413.8h0M339.2 451.4h0M346.2 448.1h0" stroke="#e51e2b" stroke-width="2.0" stroke-linecap="round"/>
<path d="M356.0 428.0h0M367.2 419.6h0M350.9 428.8h0M358.7 426.3h0M342.0 405.0h0M315.5 469.2h0M367.8 421.2h0M350.4 429.4h0M355.6 428.5h0M336.0 443.5h0M336.0 442.6h0M337.2 439.6h0M361.8 394.0h0M365.1 440.3h0M330.2 425.8h0M326.7 430.3h0M374.2 410.1h0M392.4 367.6h0M380.7 409.6h0M359.1 396.7h0M369.5 392.3h0M359.6 423.0h0M347.1 430.9h0M346.7 412.3h0M323.9 428.7h0M346.2 405.9h0M368.3 392.1h0M323.4 426.8h0M332.2 422.1h0M326.7 426.7h0M346.5 413.3h0M383.1 400.0h0M358.4 387.3h0M321.9 433.9h0M332.6 421.3h0M306.1 467.2h0M321.6 461.9h0M319.4 428.1h0M342.4 411.1h0M340.1 438.4h0M325.5 451.6h0M332.0 421.9h0M349.2 429.5h0M352.3 406.3h0M325.2 433.0h0M331.0 427.7h0M366.1 415.4h0M328.8 413.0h0M357.9 429.6h0M355.5 431.8h0M307.0 448.7h0M353.3 426.1h0M361.0 392.8h0M313.3 440.2h0M329.1 462.3h0M343.4 441.1h0M350.2 433.3h0M333.9 424.7h0M331.9 445.8h0M315.3 460.0h0M361.2 400.0h0M353.1 399.5h0M334.1 424.6h0M373.2 412.2h0M326.1 412.7h0M366.0 424.2h0M347.4 411.1h0M397.5 394.4h0M334.4 447.9h0M351.1 427.7h0M374.7 411.9h0M356.0 423.5h0M329.4 452.7h0M332.7 443.6h0M366.6 416.9h0M379.7 409.1h0M391.7 395.7h0M338.6 441.2h0M348.1 430.2h0M308.4 442.6h0M344.1 437.7h0M337.7 415.3h0M370.0 414.8h0M354.1 431.2h0M320.4 432.0h0M327.5 448.0h0M333.3 442.9h0M353.0 405.4h0M312.1 444.2h0M356.8 426.1h0M396.4 369.5h0M307.9 447.6h0M360.2 425.7h0M332.0 454.6h0M385.7 396.4h0M330.6 424.9h0M331.3 460.4h0M354.0 404.3h0M308.8 437.6h0M361.6 393.0h0M341.6 416.0h0M332.9 422.8h0M335.2 420.0h0M381.8 374.8h0M316.5 432.1h0M300.1 446.0h0M349.2 430.5h0M345.6 408.7h0M351.1 430.3h0M370.6 414.6h0M369.8 388.9h0M316.0 441.3h0M374.1 416.2h0M361.6 399.5h0M335.9 421.4h0M300.8 473.1h0M337.6 439.3h0M329.8 446.6h0M342.6 435.4h0M377.1 409.1h0M309.7 369.1h0M367.8 415.7h0M356.2 425.7h0M317.1 438.0h0M369.0 382.9h0M325.5 432.3h0M346.6 412.8h0M341.4 413.5h0M316.7 460.2h0M363.0 399.4h0M334.1 446.8h0M365.3 414.5h0M307.3 436.0h0M338.1 420.4h0M307.1 446.2h0M381.8 380.6h0M326.9 491.9h0M351.7 406.4h0M323.9 433.4h0M332.3 426.0h0M341.8 411.7h0M366.9 383.7h0M308.1 443.7h0M380.6 400.9h0M322.1 433.3h0M373.9 411.9h0M347.5 432.2h0M339.5 413.9h0M305.4 449.9h0M370.4 425.0h0M276.7 471.7h0M364.6 395.2h0M346.8 431.4h0M370.8 418.5h0M315.8 441.7h0M283.3 492.1h0M291.8 444.2h0M390.7 394.3h0M367.5 421.2h0M363.7 368.1h0M327.4 428.8h0" stroke="#2145a5" stroke-width="2.0" stroke-linecap="round"/>
<path d="M326.2 453.8h0M354.6 430.4h0M365.6 416.8h0M359.4 398.4h0M381.3 403.7h0M413.8 351.7h0M408.1 387.7h0M346.3 407.1h0M317.3 410.5h0M345.1 412.8h0M388.5 367.5h0M332.9 451.4h0M324.0 454.9h0M392.7 398.2h0M336.7 410.4h0M313.8 435.6h0M306.3 397.4h0M298.0 454.1h0M395.8 363.2h0M334.1 417.8h0M309.6 445.4h0M273.0 439.9h0M427.3 448.1h0M331.3 418.6h0M378.9 406.2h0M291.7 485.4h0M309.0 445.6h0M370.5 413.1h0M311.3 437.3h0M329.0 452.7h0M382.2 375.2h0M368.2 369.6h0M342.4 441.5h0M379.0 418.3h0M363.5 420.8h0M375.5 376.9h0M358.8 397.1h0M387.7 405.1h0M359.2 389.5h0M296.3 447.9h0M353.1 429.0h0M373.3 373.0h0M296.9 447.7h0M398.6 367.7h0M373.0 386.4h0M389.7 393.9h0M308.3 466.8h0M323.4 426.7h0M371.1 414.4h0M416.5 377.2h0M404.7 358.0h0M345.8 404.4h0M295.8 478.7h0M320.1 458.2h0M284.8 485.8h0M328.1 423.7h0M323.9 428.0h0M390.6 369.8h0M329.5 421.3h0M362.6 397.2h0M413.2 375.1h0M372.2 386.8h0M315.5 491.4h0M368.2 418.9h0M374.7 419.5h0" stroke="#e51e2b" stroke-width="2.0" stroke-linecap="round"/>
<path d="M369.9 370.7h0M348.7 437.0h0M339.0 439.3h0M328.9 413.6h0M370.0 392.7h0M354.0 400.2h0M353.3 398.8h0M316.6 432.5h0M356.0 405.3h0M383.7 359.9h0M322.2 429.8h0M344.0 416.1h0M315.7 458.6h0M324.2 457.9h0M354.5 424.8h0M270.7 467.3h0M338.1 421.5h0M374.6 409.9h0M354.5 393.4h0M359.9 397.9h0M312.9 439.0h0M323.3 457.1h0M314.1 441.7h0M367.3 394.9h0M369.0 411.3h0M348.8 402.2h0M339.4 448.9h0M389.2 398.6h0M354.8 426.3h0M317.7 437.6h0M312.8 442.9h0M362.6 422.4h0M297.1 456.3h0M337.2 421.7h0M326.1 419.4h0M345.2 437.8h0M330.3 446.6h0M333.8 410.5h0M343.1 414.0h0M323.8 452.1h0M321.2 436.9h0M348.1 432.7h0M379.7 402.8h0M340.6 440.3h0M333.4 423.4h0M363.3 396.2h0M350.0 410.8h0M341.2 442.3h0M327.9 426.1h0M362.9 398.5h0M325.5 454.3h0M336.0 450.1h0M377.4 382.7h0M374.7 408.0h0M326.4 426.2h0M362.6 421.2h0M305.3 449.7h0M385.4 377.4h0M371.7 364.7h0M406.5 390.8h0M342.1 416.3h0M284.2 466.1h0M354.5 433.3h0M314.8 440.1h0M328.1 426.4h0M329.1 423.4h0M367.7 380.8h0M392.6 369.2h0M322.6 427.8h0M363.4 426.0h0M377.0 378.4h0M342.5 443.0h0M339.4 417.2h0M317.5 461.0h0M365.8 415.7h0M383.7 406.7h0M342.1 414.8h0M365.5 415.2h0M364.6 425.7h0M379.3 407.3h0M381.8 404.2h0M332.3 425.6h0M351.1 428.3h0M364.8 388.2h0M357.4 391.1h0M322.1 430.1h0M354.0 430.3h0M330.5 420.5h0M372.6 381.4h0M351.4 409.7h0M375.5 406.2h0M362.2 422.6h0M391.1 400.0h0M330.4 450.4h0M344.6 440.8h0M377.7 384.7h0M365.0 416.3h0M350.2 409.8h0M356.5 403.1h0M387.8 403.7h0M342.8 441.3h0M336.5 422.3h0M351.4 405.0h0M335.2 442.3h0M367.5 428.3h0M378.6 384.4h0M350.3 408.2h0M387.1 371.6h0M336.7 421.1h0M364.4 417.0h0M341.0 438.6h0M355.8 427.3h0M343.7 434.0h0M344.9 440.0h0M307.2 396.1h0M368.9 391.9h0M343.3 414.4h0M323.8 427.1h0M332.5 392.4h0M356.5 424.6h0M276.7 413.2h0M341.6 440.4h0M315.2 437.6h0M350.3 403.9h0M334.7 413.7h0M362.8 397.1h0M382.0 400.1h0M359.6 396.6h0M338.7 444.5h0M358.9 397.0h0M387.7 397.1h0M350.6 435.4h0M343.0 414.3h0M334.9 418.4h0M320.8 430.9h0M361.0 420.9h0M335.1 423.2h0M364.6 391.7h0M325.6 457.6h0M320.0 438.0h0M269.6 482.3h0M338.7 438.6h0M306.2 448.8h0M347.3 401.0h0M381.5 403.4h0M326.4 430.9h0M358.0 427.5h0M392.9 388.9h0M380.3 383.7h0M336.4 443.0h0M420.2 371.2h0M328.6 449.6h0M365.6 396.6h0M347.2 434.7h0M321.9 431.5h0M320.4 455.3h0M327.2 429.4h0M387.2 401.4h0M319.7 437.9h0M367.6 419.0h0" stroke="#2145a5" stroke-width="2.0" stroke-linecap="round"/>
<path d="M339.5 415.9h0M379.3 406.9h0M314.9 429.9h0M268.0 474.2h0M385.1 404.4h0M281.2 468.7h0M357.9 384.4h0M332.2 465.9h0M396.5 387.8h0M319.7 435.6h0M377.7 410.5h0M362.5 419.6h0M291.4 458.6h0M330.7 452.9h0M302.2 471.6h0M341.6 416.9h0M365.0 367.6h0M344.9 446.8h0M362.0 462.8h0M312.7 464.7h0M354.5 400.3h0M378.6 407.8h0M364.9 378.9h0M360.9 426.7h0M328.6 428.4h0M348.6 407.2h0M286.9 456.7h0M362.1 398.6h0M389.5 397.8h0M359.1 432.9h0M385.3 374.5h0M325.1 424.2h0M312.3 431.3h0M321.3 417.9h0M332.7 422.0h0M335.6 420.4h0M391.4 364.8h0M405.4 387.0h0M341.9 450.9h0M316.8 473.0h0M388.7 394.6h0M389.8 415.7h0M283.3 448.8h0M375.9 424.7h0M318.0 462.3h0M315.8 430.3h0M369.1 390.6h0M376.0 406.4h0M324.4 455.4h0M316.5 438.6h0M355.3 426.5h0M281.8 448.8h0M397.3 405.5h0M354.5 429.7h0M408.9 387.0h0M355.7 403.2h0M364.8 419.5h0M325.1 425.2h0M380.1 382.0h0M312.9 432.1h0M408.2 358.4h0M355.7 402.0h0M345.0 434.6h0M303.4 472.9h0M365.5 427.2h0M306.2 474.7h0" stroke="#e51e2b" stroke-width="2.0" stroke-linecap="round"/>
<path d="M370.4 409.9h0M354.7 425.5h0M349.6 434.7h0M343.3 415.8h0M309.9 446.5h0M392.9 371.0h0M351.3 409.0h0M372.1 411.9h0M385.1 402.1h0M353.2 400.5h0M369.5 411.0h0M339.4 406.4h0M348.6 404.5h0M350.2 407.7h0M355.6 385.8h0M315.1 441.7h0M362.7 393.3h0M340.5 415.2h0M344.5 437.5h0M336.3 446.1h0M357.2 378.7h0M371.7 391.8h0M346.7 447.4h0M390.5 398.8h0M314.1 439.2h0M339.4 456.1h0M363.4 416.6h0M298.3 449.8h0M325.0 451.0h0M367.5 375.1h0M379.7 382.7h0M315.2 432.8h0M347.1 430.9h0M333.2 419.4h0M344.4 412.3h0M347.4 413.2h0M368.4 390.2h0M332.3 424.0h0M348.7 409.3h0M351.7 407.1h0M328.0 423.8h0M333.6 444.4h0M310.3 419.1h0M360.4 400.3h0M361.8 398.5h0M318.5 456.8h0M374.3 407.2h0M383.0 399.3h0M350.3 408.1h0M329.7 423.4h0M364.4 418.0h0M323.6 429.8h0M364.2 391.6h0M344.2 415.2h0M327.6 429.5h0M367.1 418.4h0M348.3 412.3h0M336.5 420.1h0M336.5 416.8h0M395.1 387.9h0M388.1 397.8h0M333.8 424.1h0M358.9 423.4h0M357.5 398.7h0M337.7 417.7h0M311.0 471.5h0M350.9 409.3h0M321.1 434.3h0M330.6 425.1h0M292.0 483.4h0M352.8 437.0h0M369.8 412.0h0M335.8 416.0h0M330.8 425.7h0M324.0 458.9h0M394.3 393.4h0M353.3 427.4h0M311.6 462.7h0M390.7 392.5h0M331.9 420.1h0M324.4 429.9h0M347.3 411.4h0M315.7 439.6h0M324.9 428.8h0M346.3 413.5h0M338.9 412.3h0M362.0 382.5h0M380.4 403.3h0M348.8 409.7h0M369.3 391.7h0M331.7 445.7h0M327.3 422.0h0M371.8 409.1h0M320.0 458.9h0M366.5 419.1h0M349.3 409.2h0M348.1 438.2h0M375.1 381.6h0M307.5 446.5h0M332.4 422.7h0M342.0 411.3h0M393.1 398.9h0M359.1 396.8h0M350.8 405.6h0M358.3 422.8h0M370.0 420.5h0M314.5 436.9h0M367.7 386.3h0M358.0 397.1h0M338.2 416.5h0M377.0 381.9h0M300.7 478.9h0M354.7 428.1h0M313.7 434.2h0M324.7 451.2h0M362.7 383.3h0M334.3 442.4h0M306.1 443.5h0M324.6 431.1h0M365.6 414.2h0M355.1 402.3h0M379.1 385.5h0M399.3 394.3h0M348.2 401.2h0M352.5 407.7h0M321.7 424.0h0M331.0 445.1h0M390.7 393.0h0M304.3 450.9h0M366.1 394.5h0M364.2 428.3h0M357.5 422.8h0M337.8 420.1h0M384.6 398.9h0M396.3 395.9h0M362.7 395.4h0M375.6 405.5h0M373.8 388.2h0M366.7 394.7h0M358.6 430.1h0M337.1 421.8h0M335.2 460.7h0M377.5 408.4h0M370.3 387.6h0M362.6 393.9h0M322.1 434.4h0M344.4 412.4h0M361.5 386.7h0M349.3 410.1h0M324.5 428.4h0M338.1 440.2h0M363.8 418.2h0M325.8 429.8h0M286.9 486.4h0M329.8 454.9h0M356.1 424.5h0M356.0 405.6h0M323.6 433.6h0M383.0 398.4h0M305.8 442.6h0M354.6 427.1h0M326.6 428.2h0M328.1 429.1h0" stroke="#2145a5" stroke-width="2.0" stroke-linecap="round"/>
<path d="M346.7 401.9h0M301.0 444.9h0M376.3 411.4h0M289.4 492.6h0M308.6 444.3h0M367.5 392.5h0M286.8 461.7h0M375.6 387.5h0M378.9 403.4h0M367.3 430.4h0M334.9 444.2h0M390.9 393.1h0M380.9 403.3h0M361.0 391.9h0M360.7 394.1h0M275.6 475.2h0M317.8 457.9h0M327.4 463.3h0M324.6 462.1h0M345.5 443.7h0M339.1 413.6h0M270.0 442.7h0M330.0 479.9h0M334.9 453.0h0M337.5 441.4h0M379.9 415.4h0M362.6 428.4h0M355.8 433.5h0M302.0 474.7h0M331.3 447.1h0M319.0 460.2h0M280.5 468.7h0M322.1 432.4h0M336.5 446.5h0M404.0 396.4h0M361.6 396.5h0M295.2 456.1h0M392.6 391.8h0M324.8 452.4h0M387.3 364.5h0M415.3 401.6h0M328.1 465.6h0M317.9 462.1h0M337.4 417.8h0M390.9 373.1h0M320.7 407.9h0M299.1 456.0h0M353.7 427.4h0M334.6 447.8h0M425.4 370.6h0M303.5 448.6h0M348.1 404.5h0M367.5 394.3h0M314.1 467.0h0M278.9 464.0h0M400.4 384.7h0M351.3 441.4h0M308.1 468.0h0M334.6 449.5h0M370.5 387.6h0M324.6 427.4h0M333.8 421.2h0" stroke="#e51e2b" stroke-width="2.0" stroke-linecap="round"/>
<path d="M361.7 398.5h0M353.6 401.1h0M357.2 399.5h0M338.1 444.9h0M342.0 486.6h0M355.9 404.7h0M366.1 389.0h0M407.4 378.1h0M400.1 382.8h0M342.0 415.7h0M401.1 404.4h0M354.1 405.7h0M346.4 432.1h0M380.1 403.3h0M351.5 447.0h0M343.5 416.3h0M346.4 433.9h0M307.7 446.3h0M377.3 406.0h0M383.5 428.8h0M316.5 436.4h0M348.4 437.1h0M360.7 421.9h0M314.6 468.7h0M316.0 466.2h0M392.8 389.1h0M339.6 414.7h0M376.3 385.9h0M362.4 399.8h0M369.8 391.6h0M394.9 370.0h0M348.6 430.2h0M372.4 410.5h0M342.6 435.1h0M266.6 485.0h0M358.0 403.4h0M352.3 408.3h0M320.3 432.2h0M334.8 412.3h0M326.8 424.6h0M371.8 365.4h0M372.8 390.0h0M391.0 374.0h0M348.9 400.8h0M334.8 451.1h0M306.3 447.2h0M377.1 404.8h0M354.4 425.9h0M335.7 419.8h0M358.9 399.2h0M337.3 442.6h0M345.5 410.1h0M347.6 430.9h0M399.8 391.8h0M392.2 392.7h0M295.6 446.1h0M398.1 389.2h0M341.7 446.0h0M361.7 421.1h0M331.7 425.3h0M380.9 384.1h0M358.9 401.4h0M334.2 409.8h0M376.5 377.3h0M295.8 438.6h0M384.9 399.4h0M321.3 458.1h0M352.2 408.4h0M362.6 421.1h0M416.9 397.8h0M322.3 456.6h0M360.1 421.5h0M309.2 445.9h0M338.4 415.2h0M358.6 423.2h0M335.3 421.9h0M386.8 396.6h0M311.0 440.9h0M381.4 404.7h0M374.0 387.3h0M387.7 364.6h0M332.4 444.9h0M354.1 402.7h0M335.4 413.6h0M375.6 406.7h0M381.8 374.5h0M389.4 395.6h0M412.0 351.1h0M381.1 400.7h0M420.9 391.3h0M349.6 407.8h0M367.4 414.5h0M348.6 436.6h0M359.1 429.3h0M327.4 457.5h0M359.9 401.5h0M379.9 384.1h0M363.5 398.9h0M347.7 395.0h0M352.7 405.8h0M351.1 435.6h0M371.2 411.9h0M376.6 406.6h0M360.4 424.1h0M346.0 398.0h0M336.2 441.5h0M380.2 400.9h0M325.8 427.4h0M333.1 445.3h0M405.4 389.9h0M309.0 428.2h0M316.7 439.9h0M325.9 431.1h0M356.0 427.0h0M356.6 400.1h0M367.1 394.1h0M380.0 402.4h0M366.7 391.7h0M306.0 449.0h0M316.8 440.0h0M382.6 401.7h0M330.0 428.4h0M378.2 412.0h0M356.1 403.4h0M339.3 440.1h0M320.1 462.3h0M356.4 427.6h0M344.1 404.7h0M365.0 385.4h0M294.6 457.1h0M285.5 493.3h0M284.9 465.5h0M353.7 405.4h0M334.1 422.2h0M339.2 418.2h0M338.2 410.3h0M305.4 429.7h0M345.3 436.4h0M318.5 456.8h0M388.2 394.1h0M330.4 448.1h0M347.1 409.9h0M311.9 477.0h0M347.7 412.7h0M318.5 438.8h0M353.7 400.3h0M336.4 414.8h0M355.2 403.4h0M329.3 452.5h0M414.0 371.3h0M371.2 385.3h0M284.7 464.1h0M373.5 409.2h0M333.7 447.4h0M379.8 401.7h0M346.7 408.3h0M400.2 398.7h0M367.7 414.6h0M350.4 406.3h0M332.5 423.5h0M383.1 398.2h0M370.1 391.6h0M386.9 394.6h0M354.9 405.3h0" stroke="#2145a5" stroke-width="2.0" stroke-linecap="round"/>
<path d="M288.7 483.0h0M320.1 422.9h0M389.7 404.3h0M417.4 370.0h0M380.7 377.8h0M317.9 458.0h0M335.7 443.9h0M358.2 422.2h0M293.1 443.3h0M363.3 429.9h0M387.9 363.1h0M342.5 413.0h0M328.2 417.8h0M285.7 446.3h0M379.7 404.4h0M273.7 425.5h0M289.4 423.2h0M304.2 489.5h0M304.1 449.1h0M400.6 390.0h0M287.2 463.2h0M396.7 417.3h0M303.8 473.9h0M318.5 421.9h0M329.9 449.5h0M287.5 457.4h0M393.5 405.0h0M281.6 452.7h0M301.1 454.1h0M271.6 478.8h0M348.3 399.7h0M349.3 437.1h0M324.0 453.3h0M367.2 393.7h0M358.0 396.1h0M349.1 430.4h0M388.5 368.3h0M333.0 382.5h0M308.6 467.5h0M321.3 430.5h0M300.5 482.9h0M376.6 414.2h0M344.0 407.7h0M274.4 463.7h0M322.9 432.3h0M338.3 417.3h0M316.5 439.8h0M316.7 461.2h0M354.2 434.6h0M344.0 440.8h0M336.0 449.2h0M300.5 448.8h0M347.3 444.6h0M290.0 487.8h0M350.9 438.5h0M348.3 384.9h0M349.4 435.5h0M285.1 466.7h0M340.8 444.2h0M308.0 466.1h0M348.0 405.8h0" stroke="#e51e2b" stroke-width="2.0" stroke-linecap="round"/>
<rect x="260.2" y="344.5" width="173.5" height="156.3" fill="none" stroke="#111" stroke-width="1.3"/>
<line x1="256.7" y1="494.4" x2="260.2" y2="494.4" stroke="#111" stroke-width="1"/>
<text x="253.9" y="497.1" font-size="7.6" text-anchor="end">0</text>
<line x1="266.2" y1="500.8" x2="266.2" y2="504.3" stroke="#111" stroke-width="1"/>
<text x="266.2" y="514.0" font-size="7.6" text-anchor="middle">0</text>
<line x1="256.7" y1="465.6" x2="260.2" y2="465.6" stroke="#111" stroke-width="1"/>
<text x="253.9" y="468.3" font-size="7.6" text-anchor="end">0.2</text>
<line x1="298.4" y1="500.8" x2="298.4" y2="504.3" stroke="#111" stroke-width="1"/>
<text x="298.4" y="514.0" font-size="7.6" text-anchor="middle">0.2</text>
<line x1="256.7" y1="436.8" x2="260.2" y2="436.8" stroke="#111" stroke-width="1"/>
<text x="253.9" y="439.5" font-size="7.6" text-anchor="end">0.4</text>
<line x1="330.6" y1="500.8" x2="330.6" y2="504.3" stroke="#111" stroke-width="1"/>
<text x="330.6" y="514.0" font-size="7.6" text-anchor="middle">0.4</text>
<line x1="256.7" y1="408.1" x2="260.2" y2="408.1" stroke="#111" stroke-width="1"/>
<text x="253.9" y="410.8" font-size="7.6" text-anchor="end">0.6</text>
<line x1="362.9" y1="500.8" x2="362.9" y2="504.3" stroke="#111" stroke-width="1"/>
<text x="362.9" y="514.0" font-size="7.6" text-anchor="middle">0.6</text>
<line x1="256.7" y1="379.3" x2="260.2" y2="379.3" stroke="#111" stroke-width="1"/>
<text x="253.9" y="382.0" font-size="7.6" text-anchor="end">0.8</text>
<line x1="395.1" y1="500.8" x2="395.1" y2="504.3" stroke="#111" stroke-width="1"/>
<text x="395.1" y="514.0" font-size="7.6" text-anchor="middle">0.8</text>
<line x1="256.7" y1="350.5" x2="260.2" y2="350.5" stroke="#111" stroke-width="1"/>
<text x="253.9" y="353.2" font-size="7.6" text-anchor="end">10</text>
<line x1="427.3" y1="500.8" x2="427.3" y2="504.3" stroke="#111" stroke-width="1"/>
<text x="427.3" y="514.0" font-size="7.6" text-anchor="middle">1.0</text>
<text x="346.6" y="326.6" font-size="9.8" text-anchor="middle" textLength="97.6" lengthAdjust="spacingAndGlyphs">Mutually exclusive exons</text>
<text y="339.6" font-size="7.5"><tspan x="235.2">n=11956;</tspan><tspan x="277.8">=1376 (P&lt;0.05);</tspan><tspan x="342">=360 (q&lt;0.05) incl_cutoff:0.05</tspan></text><circle cx="273.8" cy="337.1" r="2.1" fill="#1c4f8f"/><circle cx="338.1" cy="337.1" r="2.1" fill="#d11f2d"/>
<text x="345.4" y="525.3" font-size="9.2" text-anchor="middle" textLength="39" lengthAdjust="spacingAndGlyphs" stroke="#000" stroke-width="0.2">KI ( P95H/+)</text>
<text x="0" y="0" font-size="9.8" text-anchor="middle" textLength="29.4" lengthAdjust="spacingAndGlyphs" stroke="#000" stroke-width="0.1" transform="translate(239.3,415.7) rotate(-90)">WT (+/+)</text>
</svg></body></html>
